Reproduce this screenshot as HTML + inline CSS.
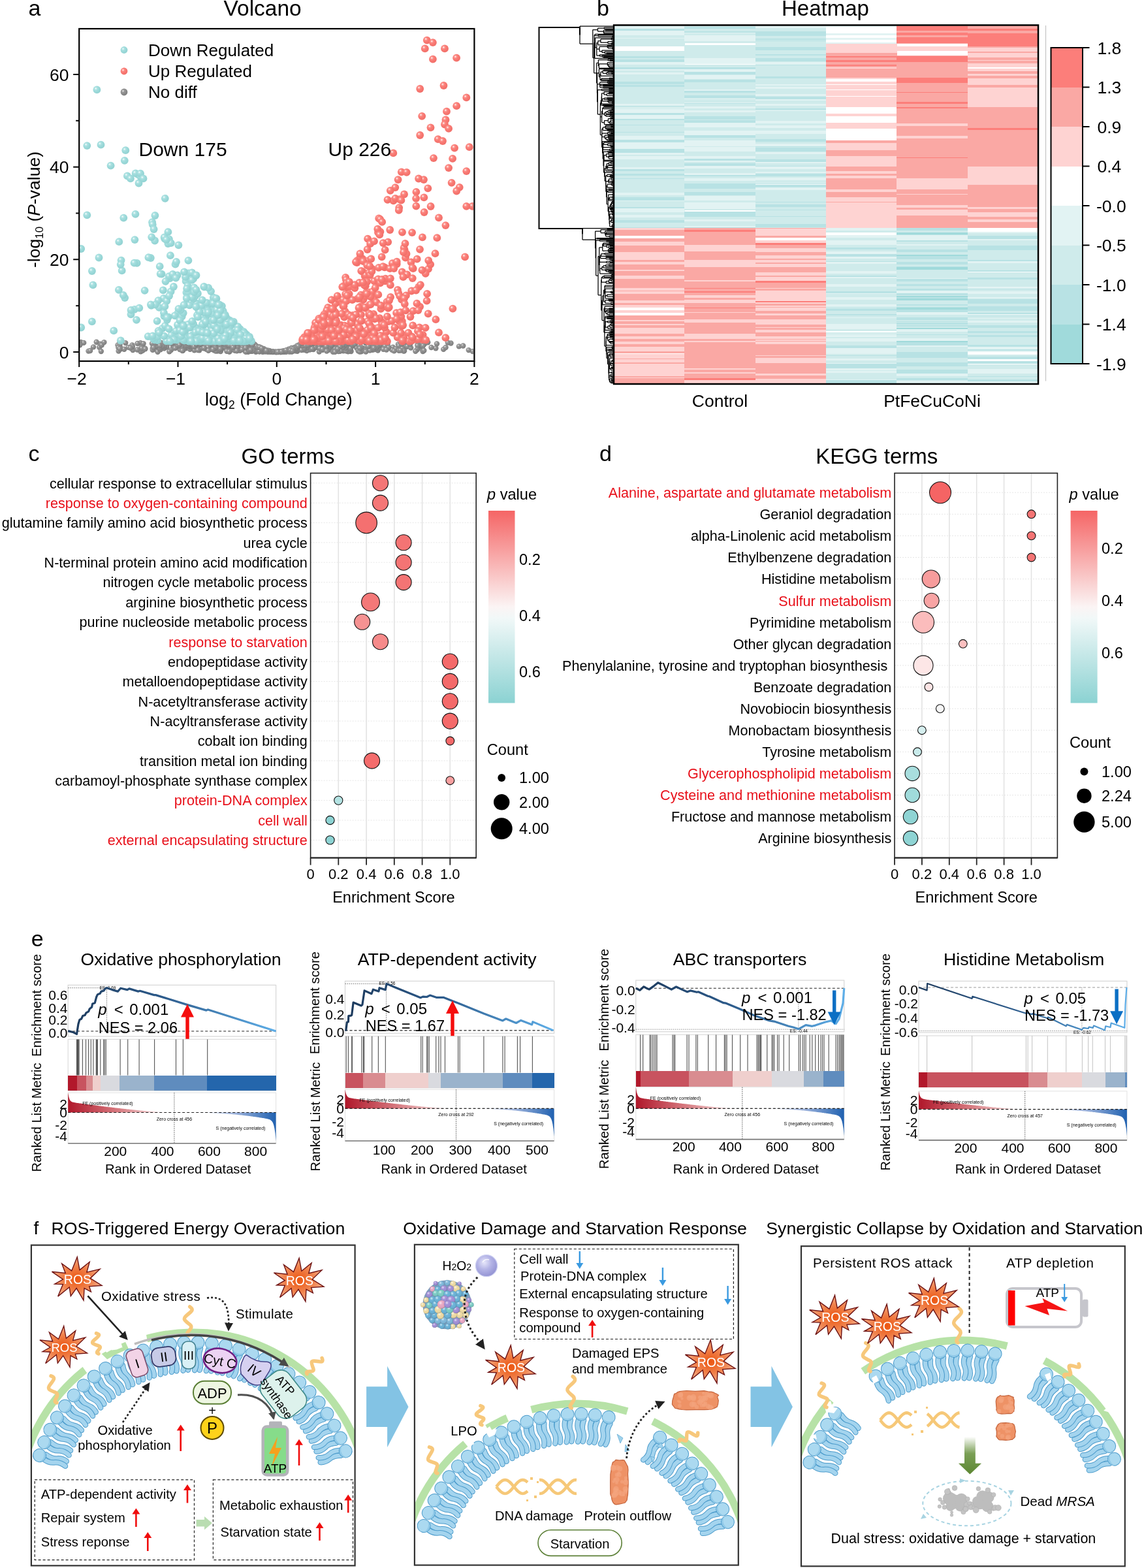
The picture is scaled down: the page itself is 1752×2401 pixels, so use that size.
<!DOCTYPE html>
<html><head><meta charset="utf-8"><title>Figure</title>
<style>html,body{margin:0;padding:0;background:#fff}svg{display:block}</style></head>
<body><svg width="1752" height="2401" viewBox="0 0 1752 2401" font-family="'Liberation Sans', Arial, sans-serif">
<defs><clipPath id="clipA"><rect x="122" y="45" width="603" height="507"/></clipPath>
<radialGradient id="st" cx="0.36" cy="0.34" r="0.62"><stop offset="0" stop-color="#ffffff"/><stop offset="0.25" stop-color="#b2e4e4"/><stop offset="0.5" stop-color="#a0dcdc"/><stop offset="1" stop-color="#93d3d3"/></radialGradient>
<radialGradient id="sr" cx="0.36" cy="0.34" r="0.62"><stop offset="0" stop-color="#ffffff"/><stop offset="0.25" stop-color="#fc958f"/><stop offset="0.5" stop-color="#fa7c76"/><stop offset="1" stop-color="#f2706a"/></radialGradient>
<radialGradient id="sg" cx="0.36" cy="0.34" r="0.62"><stop offset="0" stop-color="#f2f2f2"/><stop offset="0.28" stop-color="#9a9a9a"/><stop offset="1" stop-color="#7e7e7e"/></radialGradient>
<linearGradient id="gc" x1="0" y1="0" x2="0" y2="1"><stop offset="0" stop-color="#f56565"/><stop offset="0.5" stop-color="#fbf4f4"/><stop offset="0.56" stop-color="#f1f8f8"/><stop offset="1" stop-color="#8bd2d2"/></linearGradient>
<linearGradient id="gd" x1="0" y1="0" x2="0" y2="1"><stop offset="0" stop-color="#f56565"/><stop offset="0.5" stop-color="#fbf4f4"/><stop offset="0.56" stop-color="#f1f8f8"/><stop offset="1" stop-color="#8bd2d2"/></linearGradient>

<path id="starp" d="M-0.5 -34.3 L3.3 -14.4 L18.5 -26.7 L14.2 -10.9 L34.3 -15.8 L19.6 -1.6 L37.3 9.5 L18 10.9 L20.7 19.1 L10.4 13.6 L9.3 32.1 L-1.6 13.6 L-10.4 25.6 L-12.5 12 L-30 26.1 L-22.3 7.6 L-34.9 7.1 L-22.3 0 L-39.2 -11.7 L-18.5 -9.5 L-24 -24 L-9 -13.1 Z" fill="url(#rosg)" stroke="#6e1212" stroke-width="1.4" stroke-linejoin="miter"/>
<radialGradient id="rosg" cx="0.5" cy="0.5" r="0.5"><stop offset="0" stop-color="#ec5510"/><stop offset="0.6" stop-color="#f08550"/><stop offset="1" stop-color="#f5ad88"/></radialGradient>
<g id="lip"><path d="M9 -4.2 Q20 -0.5 27 -3.5 Q35 -6.5 42 -3.8" stroke="#4b9bcb" stroke-width="8.4" stroke-linecap="round" fill="none"/><path d="M9 -4.2 Q20 -0.5 27 -3.5 Q35 -6.5 42 -3.8" stroke="#a4d4ee" stroke-width="6.4" stroke-linecap="round" fill="none"/><path d="M9 4 Q18 7 26 3 Q34 0 42.5 3.8" stroke="#4b9bcb" stroke-width="8.4" stroke-linecap="round" fill="none"/><path d="M9 4 Q18 7 26 3 Q34 0 42.5 3.8" stroke="#a4d4ee" stroke-width="6.4" stroke-linecap="round" fill="none"/><circle r="10" fill="#abd9f0" stroke="#4b9bcb" stroke-width="1"/><path d="M2 -9.6 A10 10 0 0 1 2 9.6 A12 12 0 0 0 2 -9.6 Z" fill="#90c9e8"/></g>
<marker id="ah" viewBox="0 0 10 10" refX="8" refY="5" markerWidth="5" markerHeight="5" orient="auto"><path d="M0 0 L10 5 L0 10 Z" fill="#222"/></marker>
<marker id="ahg" viewBox="0 0 10 10" refX="8" refY="5" markerWidth="4" markerHeight="4" orient="auto"><path d="M0 0 L10 5 L0 10 Z" fill="#4a4a4a"/></marker>
<radialGradient id="h2o2" cx="0.4" cy="0.35" r="0.65"><stop offset="0" stop-color="#e6e6fa"/><stop offset="0.5" stop-color="#b4b4e6"/><stop offset="1" stop-color="#9494d4"/></radialGradient>
<linearGradient id="garr" x1="0" y1="0" x2="0" y2="1"><stop offset="0" stop-color="#ffffff"/><stop offset="0.45" stop-color="#7a9f55"/><stop offset="1" stop-color="#5d8733"/></linearGradient>
<radialGradient id="npg" cx="0.38" cy="0.32" r="0.75"><stop offset="0" stop-color="#fff" stop-opacity="0.75"/><stop offset="0.3" stop-color="#fff" stop-opacity="0.05"/><stop offset="0.75" stop-color="#000" stop-opacity="0.03"/><stop offset="1" stop-color="#000" stop-opacity="0.22"/></radialGradient></defs>
<rect width="1752" height="2401" fill="#fff"/>
<text x="43.6" y="24" font-size="34">a</text>
<text x="342.5" y="24.4" font-size="33.5">Volcano</text>
<g clip-path="url(#clipA)">
<circle cx="623.3" cy="530.4" r="4.2" fill="url(#sg)"/>
<circle cx="368.8" cy="528" r="4.2" fill="url(#sg)"/>
<circle cx="405.3" cy="536.5" r="4.2" fill="url(#sg)"/>
<circle cx="389.6" cy="530.4" r="4.2" fill="url(#sg)"/>
<circle cx="367.5" cy="536.8" r="4.2" fill="url(#sg)"/>
<circle cx="567.4" cy="531.9" r="4.2" fill="url(#sg)"/>
<circle cx="422" cy="538.9" r="4.2" fill="url(#sg)"/>
<circle cx="426.3" cy="538.8" r="4.2" fill="url(#sg)"/>
<circle cx="432.1" cy="537.8" r="4.2" fill="url(#sg)"/>
<circle cx="384.4" cy="534.5" r="4.2" fill="url(#sg)"/>
<circle cx="526.9" cy="535.2" r="4.2" fill="url(#sg)"/>
<circle cx="436" cy="537.7" r="4.2" fill="url(#sg)"/>
<circle cx="517.5" cy="528.6" r="4.2" fill="url(#sg)"/>
<circle cx="562.7" cy="533.6" r="4.2" fill="url(#sg)"/>
<circle cx="403.9" cy="536.8" r="4.2" fill="url(#sg)"/>
<circle cx="480.1" cy="531.4" r="4.2" fill="url(#sg)"/>
<circle cx="494.6" cy="526.8" r="4.2" fill="url(#sg)"/>
<circle cx="380.8" cy="531.7" r="4.2" fill="url(#sg)"/>
<circle cx="219.6" cy="532.6" r="4.2" fill="url(#sg)"/>
<circle cx="384.9" cy="525.7" r="4.2" fill="url(#sg)"/>
<circle cx="490.8" cy="529.4" r="4.2" fill="url(#sg)"/>
<circle cx="335" cy="529.3" r="4.2" fill="url(#sg)"/>
<circle cx="469" cy="529.9" r="4.2" fill="url(#sg)"/>
<circle cx="455.6" cy="532.8" r="4.2" fill="url(#sg)"/>
<circle cx="361.9" cy="524.7" r="4.2" fill="url(#sg)"/>
<circle cx="435.8" cy="538.8" r="4.2" fill="url(#sg)"/>
<circle cx="453.6" cy="535.3" r="4.2" fill="url(#sg)"/>
<circle cx="254.5" cy="525.2" r="4.2" fill="url(#sg)"/>
<circle cx="483" cy="520.7" r="4.2" fill="url(#sg)"/>
<circle cx="412.6" cy="537.3" r="4.2" fill="url(#sg)"/>
<circle cx="564.6" cy="535.2" r="4.2" fill="url(#sg)"/>
<circle cx="380.3" cy="525.4" r="4.2" fill="url(#sg)"/>
<circle cx="378.6" cy="531.6" r="4.2" fill="url(#sg)"/>
<circle cx="318.8" cy="531.7" r="4.2" fill="url(#sg)"/>
<circle cx="388.4" cy="532.5" r="4.2" fill="url(#sg)"/>
<circle cx="284.5" cy="523.4" r="4.2" fill="url(#sg)"/>
<circle cx="436.6" cy="537.7" r="4.2" fill="url(#sg)"/>
<circle cx="593.5" cy="527.4" r="4.2" fill="url(#sg)"/>
<circle cx="463" cy="526.8" r="4.2" fill="url(#sg)"/>
<circle cx="510.5" cy="520.8" r="4.2" fill="url(#sg)"/>
<circle cx="401" cy="533.9" r="4.2" fill="url(#sg)"/>
<circle cx="214" cy="535.9" r="4.2" fill="url(#sg)"/>
<circle cx="359.1" cy="530.6" r="4.2" fill="url(#sg)"/>
<circle cx="447.7" cy="533.4" r="4.2" fill="url(#sg)"/>
<circle cx="650" cy="526.9" r="4.2" fill="url(#sg)"/>
<circle cx="260" cy="523.6" r="4.2" fill="url(#sg)"/>
<circle cx="422.4" cy="539" r="4.2" fill="url(#sg)"/>
<circle cx="414.9" cy="538.9" r="4.2" fill="url(#sg)"/>
<circle cx="690.5" cy="525.5" r="4.2" fill="url(#sg)"/>
<circle cx="526.4" cy="535.3" r="4.2" fill="url(#sg)"/>
<circle cx="505.9" cy="535.2" r="4.2" fill="url(#sg)"/>
<circle cx="284.7" cy="533.2" r="4.2" fill="url(#sg)"/>
<circle cx="280.2" cy="523.3" r="4.2" fill="url(#sg)"/>
<circle cx="456.3" cy="529.5" r="4.2" fill="url(#sg)"/>
<circle cx="428.1" cy="538.6" r="4.2" fill="url(#sg)"/>
<circle cx="362.7" cy="520.3" r="4.2" fill="url(#sg)"/>
<circle cx="332" cy="521.8" r="4.2" fill="url(#sg)"/>
<circle cx="361.2" cy="521.3" r="4.2" fill="url(#sg)"/>
<circle cx="392.6" cy="531.2" r="4.2" fill="url(#sg)"/>
<circle cx="262.5" cy="522.3" r="4.2" fill="url(#sg)"/>
<circle cx="481.3" cy="522.9" r="4.2" fill="url(#sg)"/>
<circle cx="308.1" cy="527.2" r="4.2" fill="url(#sg)"/>
<circle cx="525.8" cy="537.4" r="4.2" fill="url(#sg)"/>
<circle cx="351.4" cy="538.6" r="4.2" fill="url(#sg)"/>
<circle cx="357" cy="534.8" r="4.2" fill="url(#sg)"/>
<circle cx="402.6" cy="538.7" r="4.2" fill="url(#sg)"/>
<circle cx="452.1" cy="537.3" r="4.2" fill="url(#sg)"/>
<circle cx="533" cy="520.8" r="4.2" fill="url(#sg)"/>
<circle cx="219.9" cy="534.5" r="4.2" fill="url(#sg)"/>
<circle cx="414.9" cy="537.9" r="4.2" fill="url(#sg)"/>
<circle cx="516" cy="522" r="4.2" fill="url(#sg)"/>
<circle cx="537.6" cy="538" r="4.2" fill="url(#sg)"/>
<circle cx="457.3" cy="535" r="4.2" fill="url(#sg)"/>
<circle cx="351" cy="521.3" r="4.2" fill="url(#sg)"/>
<circle cx="381" cy="538" r="4.2" fill="url(#sg)"/>
<circle cx="362.3" cy="530.5" r="4.2" fill="url(#sg)"/>
<circle cx="448.6" cy="535.5" r="4.2" fill="url(#sg)"/>
<circle cx="434.2" cy="537.9" r="4.2" fill="url(#sg)"/>
<circle cx="266.1" cy="531.4" r="4.2" fill="url(#sg)"/>
<circle cx="339.9" cy="533.9" r="4.2" fill="url(#sg)"/>
<circle cx="482.3" cy="530.7" r="4.2" fill="url(#sg)"/>
<circle cx="277" cy="521.1" r="4.2" fill="url(#sg)"/>
<circle cx="363" cy="522.6" r="4.2" fill="url(#sg)"/>
<circle cx="391.5" cy="535.7" r="4.2" fill="url(#sg)"/>
<circle cx="326.6" cy="528.9" r="4.2" fill="url(#sg)"/>
<circle cx="425.5" cy="538.9" r="4.2" fill="url(#sg)"/>
<circle cx="552.7" cy="523.8" r="4.2" fill="url(#sg)"/>
<circle cx="240.1" cy="528.7" r="4.2" fill="url(#sg)"/>
<circle cx="513.3" cy="524.4" r="4.2" fill="url(#sg)"/>
<circle cx="314.1" cy="520.3" r="4.2" fill="url(#sg)"/>
<circle cx="472.4" cy="520.6" r="4.2" fill="url(#sg)"/>
<circle cx="247.1" cy="525" r="4.2" fill="url(#sg)"/>
<circle cx="480" cy="523.6" r="4.2" fill="url(#sg)"/>
<circle cx="555.1" cy="534" r="4.2" fill="url(#sg)"/>
<circle cx="297.4" cy="526.4" r="4.2" fill="url(#sg)"/>
<circle cx="327.9" cy="536.2" r="4.2" fill="url(#sg)"/>
<circle cx="413.1" cy="538" r="4.2" fill="url(#sg)"/>
<circle cx="536.4" cy="535.9" r="4.2" fill="url(#sg)"/>
<circle cx="537.2" cy="525.8" r="4.2" fill="url(#sg)"/>
<circle cx="490" cy="532.9" r="4.2" fill="url(#sg)"/>
<circle cx="367.3" cy="522.6" r="4.2" fill="url(#sg)"/>
<circle cx="469.3" cy="526.6" r="4.2" fill="url(#sg)"/>
<circle cx="437.6" cy="537.1" r="4.2" fill="url(#sg)"/>
<circle cx="393.3" cy="530.1" r="4.2" fill="url(#sg)"/>
<circle cx="558.1" cy="522.4" r="4.2" fill="url(#sg)"/>
<circle cx="456.1" cy="534.8" r="4.2" fill="url(#sg)"/>
<circle cx="335.4" cy="523.7" r="4.2" fill="url(#sg)"/>
<circle cx="181.6" cy="537.6" r="4.2" fill="url(#sg)"/>
<circle cx="667.4" cy="533.2" r="4.2" fill="url(#sg)"/>
<circle cx="534.6" cy="526.3" r="4.2" fill="url(#sg)"/>
<circle cx="441.2" cy="537.3" r="4.2" fill="url(#sg)"/>
<circle cx="253.7" cy="526.3" r="4.2" fill="url(#sg)"/>
<circle cx="265.2" cy="531.2" r="4.2" fill="url(#sg)"/>
<circle cx="459.2" cy="533.9" r="4.2" fill="url(#sg)"/>
<circle cx="519.5" cy="537" r="4.2" fill="url(#sg)"/>
<circle cx="289.6" cy="531.7" r="4.2" fill="url(#sg)"/>
<circle cx="386.4" cy="526.6" r="4.2" fill="url(#sg)"/>
<circle cx="479.9" cy="535.1" r="4.2" fill="url(#sg)"/>
<circle cx="356.1" cy="520.5" r="4.2" fill="url(#sg)"/>
<circle cx="353.9" cy="520.9" r="4.2" fill="url(#sg)"/>
<circle cx="428.4" cy="538.8" r="4.2" fill="url(#sg)"/>
<circle cx="444.8" cy="538.2" r="4.2" fill="url(#sg)"/>
<circle cx="397.9" cy="538.3" r="4.2" fill="url(#sg)"/>
<circle cx="397" cy="538.3" r="4.2" fill="url(#sg)"/>
<circle cx="301" cy="533.4" r="4.2" fill="url(#sg)"/>
<circle cx="426.5" cy="538.8" r="4.2" fill="url(#sg)"/>
<circle cx="417.9" cy="539" r="4.2" fill="url(#sg)"/>
<circle cx="508.6" cy="519.9" r="4.2" fill="url(#sg)"/>
<circle cx="408.8" cy="537.1" r="4.2" fill="url(#sg)"/>
<circle cx="362.5" cy="521.6" r="4.2" fill="url(#sg)"/>
<circle cx="470.6" cy="529.8" r="4.2" fill="url(#sg)"/>
<circle cx="562" cy="522.5" r="4.2" fill="url(#sg)"/>
<circle cx="361.8" cy="531.7" r="4.2" fill="url(#sg)"/>
<circle cx="457.4" cy="532.6" r="4.2" fill="url(#sg)"/>
<circle cx="574.3" cy="532.9" r="4.2" fill="url(#sg)"/>
<circle cx="426.1" cy="538.9" r="4.2" fill="url(#sg)"/>
<circle cx="575.8" cy="533.8" r="4.2" fill="url(#sg)"/>
<circle cx="354.4" cy="528.4" r="4.2" fill="url(#sg)"/>
<circle cx="404.1" cy="534.4" r="4.2" fill="url(#sg)"/>
<circle cx="396.7" cy="535.8" r="4.2" fill="url(#sg)"/>
<circle cx="430.9" cy="538.9" r="4.2" fill="url(#sg)"/>
<circle cx="539" cy="523.1" r="4.2" fill="url(#sg)"/>
<circle cx="368.6" cy="520.6" r="4.2" fill="url(#sg)"/>
<circle cx="306.3" cy="528.3" r="4.2" fill="url(#sg)"/>
<circle cx="570.7" cy="535.7" r="4.2" fill="url(#sg)"/>
<circle cx="519.9" cy="522.4" r="4.2" fill="url(#sg)"/>
<circle cx="215.5" cy="538.2" r="4.2" fill="url(#sg)"/>
<circle cx="468.3" cy="528.5" r="4.2" fill="url(#sg)"/>
<circle cx="502.9" cy="535.8" r="4.2" fill="url(#sg)"/>
<circle cx="522.4" cy="522.5" r="4.2" fill="url(#sg)"/>
<circle cx="506.6" cy="528.1" r="4.2" fill="url(#sg)"/>
<circle cx="353.3" cy="534.6" r="4.2" fill="url(#sg)"/>
<circle cx="519" cy="524.6" r="4.2" fill="url(#sg)"/>
<circle cx="496.2" cy="520.4" r="4.2" fill="url(#sg)"/>
<circle cx="324.2" cy="534.9" r="4.2" fill="url(#sg)"/>
<circle cx="331.9" cy="527.3" r="4.2" fill="url(#sg)"/>
<circle cx="285" cy="532.2" r="4.2" fill="url(#sg)"/>
<circle cx="422.7" cy="539" r="4.2" fill="url(#sg)"/>
<circle cx="404.2" cy="536.5" r="4.2" fill="url(#sg)"/>
<circle cx="587.7" cy="532.1" r="4.2" fill="url(#sg)"/>
<circle cx="579.8" cy="528.5" r="4.2" fill="url(#sg)"/>
<circle cx="416.5" cy="538.3" r="4.2" fill="url(#sg)"/>
<circle cx="445.5" cy="534.1" r="4.2" fill="url(#sg)"/>
<circle cx="426" cy="538.9" r="4.2" fill="url(#sg)"/>
<circle cx="304.9" cy="521" r="4.2" fill="url(#sg)"/>
<circle cx="535.9" cy="527.3" r="4.2" fill="url(#sg)"/>
<circle cx="379.5" cy="522.8" r="4.2" fill="url(#sg)"/>
<circle cx="241.5" cy="527.1" r="4.2" fill="url(#sg)"/>
<circle cx="396.8" cy="531.1" r="4.2" fill="url(#sg)"/>
<circle cx="377.8" cy="530.8" r="4.2" fill="url(#sg)"/>
<circle cx="483.5" cy="526.8" r="4.2" fill="url(#sg)"/>
<circle cx="417.2" cy="538.5" r="4.2" fill="url(#sg)"/>
<circle cx="259.6" cy="525.3" r="4.2" fill="url(#sg)"/>
<circle cx="458.5" cy="527.8" r="4.2" fill="url(#sg)"/>
<circle cx="330.7" cy="521.2" r="4.2" fill="url(#sg)"/>
<circle cx="397.9" cy="536" r="4.2" fill="url(#sg)"/>
<circle cx="470.9" cy="528.7" r="4.2" fill="url(#sg)"/>
<circle cx="437.6" cy="537.8" r="4.2" fill="url(#sg)"/>
<circle cx="483.7" cy="530.3" r="4.2" fill="url(#sg)"/>
<circle cx="376.2" cy="530.3" r="4.2" fill="url(#sg)"/>
<circle cx="355.1" cy="533.4" r="4.2" fill="url(#sg)"/>
<circle cx="250.6" cy="529.9" r="4.2" fill="url(#sg)"/>
<circle cx="463.6" cy="524.8" r="4.2" fill="url(#sg)"/>
<circle cx="376.6" cy="525.5" r="4.2" fill="url(#sg)"/>
<circle cx="265.2" cy="530.1" r="4.2" fill="url(#sg)"/>
<circle cx="332.3" cy="533.6" r="4.2" fill="url(#sg)"/>
<circle cx="277.5" cy="522" r="4.2" fill="url(#sg)"/>
<circle cx="335" cy="524.6" r="4.2" fill="url(#sg)"/>
<circle cx="620.7" cy="530.5" r="4.2" fill="url(#sg)"/>
<circle cx="399.8" cy="532.4" r="4.2" fill="url(#sg)"/>
<circle cx="153.4" cy="526.8" r="4.2" fill="url(#sg)"/>
<circle cx="425.2" cy="539" r="4.2" fill="url(#sg)"/>
<circle cx="297.6" cy="536.2" r="4.2" fill="url(#sg)"/>
<circle cx="340.8" cy="533" r="4.2" fill="url(#sg)"/>
<circle cx="403.4" cy="534.7" r="4.2" fill="url(#sg)"/>
<circle cx="558" cy="536.5" r="4.2" fill="url(#sg)"/>
<circle cx="549.7" cy="534.5" r="4.2" fill="url(#sg)"/>
<circle cx="406.5" cy="537.7" r="4.2" fill="url(#sg)"/>
<circle cx="446.8" cy="533" r="4.2" fill="url(#sg)"/>
<circle cx="545.9" cy="532.2" r="4.2" fill="url(#sg)"/>
<circle cx="613.2" cy="526.9" r="4.2" fill="url(#sg)"/>
<circle cx="494.1" cy="535.7" r="4.2" fill="url(#sg)"/>
<circle cx="421.8" cy="538.9" r="4.2" fill="url(#sg)"/>
<circle cx="283.4" cy="531" r="4.2" fill="url(#sg)"/>
<circle cx="421.8" cy="538.9" r="4.2" fill="url(#sg)"/>
<circle cx="487.5" cy="521.4" r="4.2" fill="url(#sg)"/>
<circle cx="387.4" cy="531.7" r="4.2" fill="url(#sg)"/>
<circle cx="312" cy="528.4" r="4.2" fill="url(#sg)"/>
<circle cx="415.6" cy="538.5" r="4.2" fill="url(#sg)"/>
<circle cx="403.1" cy="533.9" r="4.2" fill="url(#sg)"/>
<circle cx="442.6" cy="534.7" r="4.2" fill="url(#sg)"/>
<circle cx="516.8" cy="522" r="4.2" fill="url(#sg)"/>
<circle cx="319.4" cy="526.2" r="4.2" fill="url(#sg)"/>
<circle cx="389.9" cy="534.3" r="4.2" fill="url(#sg)"/>
<circle cx="428.3" cy="538.7" r="4.2" fill="url(#sg)"/>
<circle cx="481.6" cy="525.1" r="4.2" fill="url(#sg)"/>
<circle cx="416.7" cy="538.4" r="4.2" fill="url(#sg)"/>
<circle cx="516.8" cy="533.2" r="4.2" fill="url(#sg)"/>
<circle cx="440.2" cy="537.9" r="4.2" fill="url(#sg)"/>
<circle cx="581.6" cy="532.2" r="4.2" fill="url(#sg)"/>
<circle cx="340.7" cy="522" r="4.2" fill="url(#sg)"/>
<circle cx="541.1" cy="521.5" r="4.2" fill="url(#sg)"/>
<circle cx="578.7" cy="536.6" r="4.2" fill="url(#sg)"/>
<circle cx="325.8" cy="521.3" r="4.2" fill="url(#sg)"/>
<circle cx="243.2" cy="531.7" r="4.2" fill="url(#sg)"/>
<circle cx="380" cy="538.7" r="4.2" fill="url(#sg)"/>
<circle cx="351.4" cy="537.9" r="4.2" fill="url(#sg)"/>
<circle cx="481.4" cy="532.7" r="4.2" fill="url(#sg)"/>
<circle cx="325.9" cy="525.3" r="4.2" fill="url(#sg)"/>
<circle cx="394.2" cy="534.6" r="4.2" fill="url(#sg)"/>
<circle cx="422.7" cy="539" r="4.2" fill="url(#sg)"/>
<circle cx="276.4" cy="531.9" r="4.2" fill="url(#sg)"/>
<circle cx="459.5" cy="534.5" r="4.2" fill="url(#sg)"/>
<circle cx="376" cy="520.6" r="4.2" fill="url(#sg)"/>
<circle cx="292" cy="524.5" r="4.2" fill="url(#sg)"/>
<circle cx="387.6" cy="529" r="4.2" fill="url(#sg)"/>
<circle cx="475.5" cy="531.6" r="4.2" fill="url(#sg)"/>
<circle cx="465.4" cy="530.5" r="4.2" fill="url(#sg)"/>
<circle cx="261.8" cy="521.9" r="4.2" fill="url(#sg)"/>
<circle cx="500" cy="524.6" r="4.2" fill="url(#sg)"/>
<circle cx="405" cy="536.3" r="4.2" fill="url(#sg)"/>
<circle cx="557.7" cy="533.8" r="4.2" fill="url(#sg)"/>
<circle cx="556.8" cy="520.5" r="4.2" fill="url(#sg)"/>
<circle cx="316" cy="534.8" r="4.2" fill="url(#sg)"/>
<circle cx="588.7" cy="533.2" r="4.2" fill="url(#sg)"/>
<circle cx="387.4" cy="531.9" r="4.2" fill="url(#sg)"/>
<circle cx="571.3" cy="534.5" r="4.2" fill="url(#sg)"/>
<circle cx="430.5" cy="539" r="4.2" fill="url(#sg)"/>
<circle cx="435.9" cy="537.2" r="4.2" fill="url(#sg)"/>
<circle cx="357.3" cy="527.2" r="4.2" fill="url(#sg)"/>
<circle cx="453.1" cy="531.4" r="4.2" fill="url(#sg)"/>
<circle cx="528.9" cy="520.6" r="4.2" fill="url(#sg)"/>
<circle cx="619.1" cy="537.3" r="4.2" fill="url(#sg)"/>
<circle cx="284.6" cy="522.5" r="4.2" fill="url(#sg)"/>
<circle cx="520.6" cy="537.8" r="4.2" fill="url(#sg)"/>
<circle cx="563.3" cy="534.7" r="4.2" fill="url(#sg)"/>
<circle cx="284.7" cy="525.5" r="4.2" fill="url(#sg)"/>
<circle cx="550.3" cy="521.8" r="4.2" fill="url(#sg)"/>
<circle cx="530.5" cy="529.6" r="4.2" fill="url(#sg)"/>
<circle cx="372.9" cy="530" r="4.2" fill="url(#sg)"/>
<circle cx="347.9" cy="537.1" r="4.2" fill="url(#sg)"/>
<circle cx="385.6" cy="537.6" r="4.2" fill="url(#sg)"/>
<circle cx="442" cy="535" r="4.2" fill="url(#sg)"/>
<circle cx="351.2" cy="530.9" r="4.2" fill="url(#sg)"/>
<circle cx="514" cy="522.6" r="4.2" fill="url(#sg)"/>
<circle cx="255.4" cy="531.5" r="4.2" fill="url(#sg)"/>
<circle cx="509.2" cy="522.1" r="4.2" fill="url(#sg)"/>
<circle cx="272" cy="523" r="4.2" fill="url(#sg)"/>
<circle cx="455.3" cy="537.7" r="4.2" fill="url(#sg)"/>
<circle cx="603.7" cy="534.4" r="4.2" fill="url(#sg)"/>
<circle cx="202.4" cy="528.4" r="4.2" fill="url(#sg)"/>
<circle cx="394.1" cy="538" r="4.2" fill="url(#sg)"/>
<circle cx="394.9" cy="533.3" r="4.2" fill="url(#sg)"/>
<circle cx="445.6" cy="534.1" r="4.2" fill="url(#sg)"/>
<circle cx="265.2" cy="521.7" r="4.2" fill="url(#sg)"/>
<circle cx="384" cy="531.6" r="4.2" fill="url(#sg)"/>
<circle cx="332.7" cy="530.1" r="4.2" fill="url(#sg)"/>
<circle cx="287.4" cy="523.7" r="4.2" fill="url(#sg)"/>
<circle cx="291" cy="534.8" r="4.2" fill="url(#sg)"/>
<circle cx="234.3" cy="532.2" r="4.2" fill="url(#sg)"/>
<circle cx="335.6" cy="523.3" r="4.2" fill="url(#sg)"/>
<circle cx="331.4" cy="527" r="4.2" fill="url(#sg)"/>
<circle cx="580" cy="523.9" r="4.2" fill="url(#sg)"/>
<circle cx="366.2" cy="521.1" r="4.2" fill="url(#sg)"/>
<circle cx="486.3" cy="532" r="4.2" fill="url(#sg)"/>
<circle cx="454" cy="535" r="4.2" fill="url(#sg)"/>
<circle cx="444.5" cy="535.9" r="4.2" fill="url(#sg)"/>
<circle cx="284.1" cy="522.8" r="4.2" fill="url(#sg)"/>
<circle cx="302.7" cy="530.1" r="4.2" fill="url(#sg)"/>
<circle cx="385.8" cy="537.8" r="4.2" fill="url(#sg)"/>
<circle cx="535.4" cy="537.1" r="4.2" fill="url(#sg)"/>
<circle cx="253.3" cy="525" r="4.2" fill="url(#sg)"/>
<circle cx="203.4" cy="536.1" r="4.2" fill="url(#sg)"/>
<circle cx="463.7" cy="532.9" r="4.2" fill="url(#sg)"/>
<circle cx="381.5" cy="529.1" r="4.2" fill="url(#sg)"/>
<circle cx="447.3" cy="534.4" r="4.2" fill="url(#sg)"/>
<circle cx="348.3" cy="527.1" r="4.2" fill="url(#sg)"/>
<circle cx="296.6" cy="526.5" r="4.2" fill="url(#sg)"/>
<circle cx="389.6" cy="527.3" r="4.2" fill="url(#sg)"/>
<circle cx="291.2" cy="531.3" r="4.2" fill="url(#sg)"/>
<circle cx="349.2" cy="528.7" r="4.2" fill="url(#sg)"/>
<circle cx="495.2" cy="527.7" r="4.2" fill="url(#sg)"/>
<circle cx="609.9" cy="527.2" r="4.2" fill="url(#sg)"/>
<circle cx="505.9" cy="524.6" r="4.2" fill="url(#sg)"/>
<circle cx="445.3" cy="536.7" r="4.2" fill="url(#sg)"/>
<circle cx="440.9" cy="535.7" r="4.2" fill="url(#sg)"/>
<circle cx="440.5" cy="536" r="4.2" fill="url(#sg)"/>
<circle cx="351.2" cy="526.5" r="4.2" fill="url(#sg)"/>
<circle cx="446.9" cy="538.5" r="4.2" fill="url(#sg)"/>
<circle cx="573.8" cy="525.4" r="4.2" fill="url(#sg)"/>
<circle cx="434.8" cy="537.4" r="4.2" fill="url(#sg)"/>
<circle cx="357.9" cy="523.1" r="4.2" fill="url(#sg)"/>
<circle cx="544.9" cy="524.3" r="4.2" fill="url(#sg)"/>
<circle cx="202.9" cy="531" r="4.2" fill="url(#sg)"/>
<circle cx="380" cy="533.8" r="4.2" fill="url(#sg)"/>
<circle cx="514" cy="531.8" r="4.2" fill="url(#sg)"/>
<circle cx="490.6" cy="528.5" r="4.2" fill="url(#sg)"/>
<circle cx="463.7" cy="527.8" r="4.2" fill="url(#sg)"/>
<circle cx="426.6" cy="538.9" r="4.2" fill="url(#sg)"/>
<circle cx="289.3" cy="529.2" r="4.2" fill="url(#sg)"/>
<circle cx="478.5" cy="525.1" r="4.2" fill="url(#sg)"/>
<circle cx="284.9" cy="525.7" r="4.2" fill="url(#sg)"/>
<circle cx="390.1" cy="528.9" r="4.2" fill="url(#sg)"/>
<circle cx="619.5" cy="526.2" r="4.2" fill="url(#sg)"/>
<circle cx="336.1" cy="536.4" r="4.2" fill="url(#sg)"/>
<circle cx="401.9" cy="538.5" r="4.2" fill="url(#sg)"/>
<circle cx="496.9" cy="526" r="4.2" fill="url(#sg)"/>
<circle cx="240.9" cy="537.4" r="4.2" fill="url(#sg)"/>
<circle cx="393.2" cy="535.5" r="4.2" fill="url(#sg)"/>
<circle cx="510" cy="538.9" r="4.2" fill="url(#sg)"/>
<circle cx="451.5" cy="531.9" r="4.2" fill="url(#sg)"/>
<circle cx="514.1" cy="535.3" r="4.2" fill="url(#sg)"/>
<circle cx="548.8" cy="537.2" r="4.2" fill="url(#sg)"/>
<circle cx="517.2" cy="530.4" r="4.2" fill="url(#sg)"/>
<circle cx="580.1" cy="530.8" r="4.2" fill="url(#sg)"/>
<circle cx="403.6" cy="534.6" r="4.2" fill="url(#sg)"/>
<circle cx="579.8" cy="533.8" r="4.2" fill="url(#sg)"/>
<circle cx="289.4" cy="530" r="4.2" fill="url(#sg)"/>
<circle cx="512" cy="521.9" r="4.2" fill="url(#sg)"/>
<circle cx="532.8" cy="526.3" r="4.2" fill="url(#sg)"/>
<circle cx="403" cy="537" r="4.2" fill="url(#sg)"/>
<circle cx="563.8" cy="533.2" r="4.2" fill="url(#sg)"/>
<circle cx="453.6" cy="533.8" r="4.2" fill="url(#sg)"/>
<circle cx="419" cy="538.5" r="4.2" fill="url(#sg)"/>
<circle cx="445.7" cy="534.1" r="4.2" fill="url(#sg)"/>
<circle cx="413.1" cy="537.9" r="4.2" fill="url(#sg)"/>
<circle cx="332.5" cy="537.2" r="4.2" fill="url(#sg)"/>
<circle cx="511.9" cy="537.9" r="4.2" fill="url(#sg)"/>
<circle cx="367.4" cy="522.9" r="4.2" fill="url(#sg)"/>
<circle cx="350.8" cy="528.7" r="4.2" fill="url(#sg)"/>
<circle cx="467.2" cy="528.3" r="4.2" fill="url(#sg)"/>
<circle cx="336.9" cy="529.2" r="4.2" fill="url(#sg)"/>
<circle cx="490.7" cy="525.5" r="4.2" fill="url(#sg)"/>
<circle cx="573.6" cy="535" r="4.2" fill="url(#sg)"/>
<circle cx="192.2" cy="525.1" r="4.2" fill="url(#sg)"/>
<circle cx="405.9" cy="538.3" r="4.2" fill="url(#sg)"/>
<circle cx="215.1" cy="525.2" r="4.2" fill="url(#sg)"/>
<circle cx="251.3" cy="533.4" r="4.2" fill="url(#sg)"/>
<circle cx="449.3" cy="534" r="4.2" fill="url(#sg)"/>
<circle cx="406.3" cy="536.7" r="4.2" fill="url(#sg)"/>
<circle cx="557.9" cy="522.9" r="4.2" fill="url(#sg)"/>
<circle cx="185.1" cy="534.2" r="4.2" fill="url(#sg)"/>
<circle cx="373.9" cy="534.9" r="4.2" fill="url(#sg)"/>
<circle cx="522.7" cy="536" r="4.2" fill="url(#sg)"/>
<circle cx="285.2" cy="528.9" r="4.2" fill="url(#sg)"/>
<circle cx="455.5" cy="536.9" r="4.2" fill="url(#sg)"/>
<circle cx="240.3" cy="527.5" r="4.2" fill="url(#sg)"/>
<circle cx="397.4" cy="535.6" r="4.2" fill="url(#sg)"/>
<circle cx="485.8" cy="526.3" r="4.2" fill="url(#sg)"/>
<circle cx="542.2" cy="523.1" r="4.2" fill="url(#sg)"/>
<circle cx="489.7" cy="529.1" r="4.2" fill="url(#sg)"/>
<circle cx="446.1" cy="537.5" r="4.2" fill="url(#sg)"/>
<circle cx="576.4" cy="532" r="4.2" fill="url(#sg)"/>
<circle cx="568.3" cy="523" r="4.2" fill="url(#sg)"/>
<circle cx="679.2" cy="534.9" r="4.2" fill="url(#sg)"/>
<circle cx="583.9" cy="528.8" r="4.2" fill="url(#sg)"/>
<circle cx="364.7" cy="533.2" r="4.2" fill="url(#sg)"/>
<circle cx="414" cy="538.4" r="4.2" fill="url(#sg)"/>
<circle cx="507.6" cy="527.8" r="4.2" fill="url(#sg)"/>
<circle cx="298" cy="525.3" r="4.2" fill="url(#sg)"/>
<circle cx="314.7" cy="523.1" r="4.2" fill="url(#sg)"/>
<circle cx="288.3" cy="528.4" r="4.2" fill="url(#sg)"/>
<circle cx="387.4" cy="532.8" r="4.2" fill="url(#sg)"/>
<circle cx="242.8" cy="527.5" r="4.2" fill="url(#sg)"/>
<circle cx="379.1" cy="534" r="4.2" fill="url(#sg)"/>
<circle cx="323.2" cy="534.3" r="4.2" fill="url(#sg)"/>
<circle cx="517.2" cy="526.6" r="4.2" fill="url(#sg)"/>
<circle cx="404" cy="536" r="4.2" fill="url(#sg)"/>
<circle cx="457.6" cy="535" r="4.2" fill="url(#sg)"/>
<circle cx="396.8" cy="535.3" r="4.2" fill="url(#sg)"/>
<circle cx="622" cy="530.5" r="4.2" fill="url(#sg)"/>
<circle cx="379.8" cy="522.1" r="4.2" fill="url(#sg)"/>
<circle cx="266.9" cy="523" r="4.2" fill="url(#sg)"/>
<circle cx="442.7" cy="536.8" r="4.2" fill="url(#sg)"/>
<circle cx="305.3" cy="536.2" r="4.2" fill="url(#sg)"/>
<circle cx="598.3" cy="533.7" r="4.2" fill="url(#sg)"/>
<circle cx="363.6" cy="523" r="4.2" fill="url(#sg)"/>
<circle cx="608.8" cy="534.8" r="4.2" fill="url(#sg)"/>
<circle cx="455.2" cy="531.1" r="4.2" fill="url(#sg)"/>
<circle cx="452" cy="536.6" r="4.2" fill="url(#sg)"/>
<circle cx="417.6" cy="538.7" r="4.2" fill="url(#sg)"/>
<circle cx="446.3" cy="535.3" r="4.2" fill="url(#sg)"/>
<circle cx="391.7" cy="538.9" r="4.2" fill="url(#sg)"/>
<circle cx="249.7" cy="532.9" r="4.2" fill="url(#sg)"/>
<circle cx="516" cy="520.3" r="4.2" fill="url(#sg)"/>
<circle cx="451.2" cy="533.3" r="4.2" fill="url(#sg)"/>
<circle cx="533.1" cy="538.3" r="4.2" fill="url(#sg)"/>
<circle cx="430.1" cy="538.6" r="4.2" fill="url(#sg)"/>
<circle cx="323.5" cy="522.7" r="4.2" fill="url(#sg)"/>
<circle cx="338.2" cy="535.5" r="4.2" fill="url(#sg)"/>
<circle cx="239.5" cy="530.8" r="4.2" fill="url(#sg)"/>
<circle cx="362.5" cy="521.6" r="4.2" fill="url(#sg)"/>
<circle cx="476.8" cy="527.8" r="4.2" fill="url(#sg)"/>
<circle cx="459.8" cy="527.4" r="4.2" fill="url(#sg)"/>
<circle cx="376.1" cy="534.9" r="4.2" fill="url(#sg)"/>
<circle cx="384.9" cy="530.5" r="4.2" fill="url(#sg)"/>
<circle cx="363.9" cy="520.6" r="4.2" fill="url(#sg)"/>
<circle cx="375.3" cy="537.6" r="4.2" fill="url(#sg)"/>
<circle cx="523.5" cy="526.4" r="4.2" fill="url(#sg)"/>
<circle cx="245.3" cy="529.5" r="4.2" fill="url(#sg)"/>
<circle cx="475.4" cy="520.2" r="4.2" fill="url(#sg)"/>
<circle cx="372.6" cy="522.2" r="4.2" fill="url(#sg)"/>
<circle cx="325.4" cy="534.6" r="4.2" fill="url(#sg)"/>
<circle cx="408.7" cy="536.4" r="4.2" fill="url(#sg)"/>
<circle cx="406.7" cy="538.3" r="4.2" fill="url(#sg)"/>
<circle cx="451.4" cy="532.3" r="4.2" fill="url(#sg)"/>
<circle cx="335" cy="523.7" r="4.2" fill="url(#sg)"/>
<circle cx="519.8" cy="534.8" r="4.2" fill="url(#sg)"/>
<circle cx="408.4" cy="537.3" r="4.2" fill="url(#sg)"/>
<circle cx="512.9" cy="533.9" r="4.2" fill="url(#sg)"/>
<circle cx="524.8" cy="531.6" r="4.2" fill="url(#sg)"/>
<circle cx="423.7" cy="539" r="4.2" fill="url(#sg)"/>
<circle cx="337.8" cy="538.1" r="4.2" fill="url(#sg)"/>
<circle cx="436.4" cy="537.4" r="4.2" fill="url(#sg)"/>
<circle cx="343" cy="532" r="4.2" fill="url(#sg)"/>
<circle cx="399" cy="533.8" r="4.2" fill="url(#sg)"/>
<circle cx="427.8" cy="538.9" r="4.2" fill="url(#sg)"/>
<circle cx="614.8" cy="535" r="4.2" fill="url(#sg)"/>
<circle cx="351" cy="520.9" r="4.2" fill="url(#sg)"/>
<circle cx="477.7" cy="523.4" r="4.2" fill="url(#sg)"/>
<circle cx="430.1" cy="538.5" r="4.2" fill="url(#sg)"/>
<circle cx="506.4" cy="524.7" r="4.2" fill="url(#sg)"/>
<circle cx="601.7" cy="531.7" r="4.2" fill="url(#sg)"/>
<circle cx="365.7" cy="520.3" r="4.2" fill="url(#sg)"/>
<circle cx="196.6" cy="531.9" r="4.2" fill="url(#sg)"/>
<circle cx="464.6" cy="529.4" r="4.2" fill="url(#sg)"/>
<circle cx="537" cy="533.5" r="4.2" fill="url(#sg)"/>
<circle cx="468.8" cy="522.7" r="4.2" fill="url(#sg)"/>
<circle cx="548.1" cy="520.2" r="4.2" fill="url(#sg)"/>
<circle cx="431.6" cy="538.5" r="4.2" fill="url(#sg)"/>
<circle cx="500.5" cy="520.3" r="4.2" fill="url(#sg)"/>
<circle cx="376.5" cy="538.7" r="4.2" fill="url(#sg)"/>
<circle cx="338.2" cy="535.4" r="4.2" fill="url(#sg)"/>
<circle cx="356.3" cy="535.3" r="4.2" fill="url(#sg)"/>
<circle cx="314.3" cy="523.4" r="4.2" fill="url(#sg)"/>
<circle cx="385.9" cy="532.3" r="4.2" fill="url(#sg)"/>
<circle cx="462" cy="527.5" r="4.2" fill="url(#sg)"/>
<circle cx="327.2" cy="530.6" r="4.2" fill="url(#sg)"/>
<circle cx="477.2" cy="524.4" r="4.2" fill="url(#sg)"/>
<circle cx="458.6" cy="531" r="4.2" fill="url(#sg)"/>
<circle cx="280.1" cy="536.9" r="4.2" fill="url(#sg)"/>
<circle cx="335.8" cy="522.7" r="4.2" fill="url(#sg)"/>
<circle cx="482.2" cy="531.9" r="4.2" fill="url(#sg)"/>
<circle cx="333.8" cy="537.2" r="4.2" fill="url(#sg)"/>
<circle cx="505.4" cy="530.2" r="4.2" fill="url(#sg)"/>
<circle cx="572" cy="527" r="4.2" fill="url(#sg)"/>
<circle cx="300.3" cy="528.5" r="4.2" fill="url(#sg)"/>
<circle cx="380.4" cy="530.4" r="4.2" fill="url(#sg)"/>
<circle cx="359.7" cy="536.7" r="4.2" fill="url(#sg)"/>
<circle cx="516.2" cy="531.8" r="4.2" fill="url(#sg)"/>
<circle cx="512.7" cy="521.3" r="4.2" fill="url(#sg)"/>
<circle cx="248" cy="529.3" r="4.2" fill="url(#sg)"/>
<circle cx="457.2" cy="530.8" r="4.2" fill="url(#sg)"/>
<circle cx="403.9" cy="536.5" r="4.2" fill="url(#sg)"/>
<circle cx="518.5" cy="538" r="4.2" fill="url(#sg)"/>
<circle cx="278.1" cy="535.5" r="4.2" fill="url(#sg)"/>
<circle cx="386.6" cy="527.6" r="4.2" fill="url(#sg)"/>
<circle cx="514.7" cy="529.3" r="4.2" fill="url(#sg)"/>
<circle cx="646.1" cy="534.5" r="4.2" fill="url(#sg)"/>
<circle cx="431.8" cy="538.8" r="4.2" fill="url(#sg)"/>
<circle cx="251.8" cy="528.5" r="4.2" fill="url(#sg)"/>
<circle cx="527.1" cy="522.3" r="4.2" fill="url(#sg)"/>
<circle cx="404.3" cy="535.9" r="4.2" fill="url(#sg)"/>
<circle cx="274" cy="532.4" r="4.2" fill="url(#sg)"/>
<circle cx="522.7" cy="536.8" r="4.2" fill="url(#sg)"/>
<circle cx="389.7" cy="527.4" r="4.2" fill="url(#sg)"/>
<circle cx="488.8" cy="538.6" r="4.2" fill="url(#sg)"/>
<circle cx="438.3" cy="538.8" r="4.2" fill="url(#sg)"/>
<circle cx="591.7" cy="528.8" r="4.2" fill="url(#sg)"/>
<circle cx="548.3" cy="524.7" r="4.2" fill="url(#sg)"/>
<circle cx="550.1" cy="525" r="4.2" fill="url(#sg)"/>
<circle cx="353.3" cy="520.5" r="4.2" fill="url(#sg)"/>
<circle cx="581.2" cy="528.3" r="4.2" fill="url(#sg)"/>
<circle cx="369.6" cy="524.7" r="4.2" fill="url(#sg)"/>
<circle cx="222" cy="533.4" r="4.2" fill="url(#sg)"/>
<circle cx="433.3" cy="538" r="4.2" fill="url(#sg)"/>
<circle cx="367.1" cy="524.1" r="4.2" fill="url(#sg)"/>
<circle cx="513.2" cy="523.4" r="4.2" fill="url(#sg)"/>
<circle cx="357.2" cy="522" r="4.2" fill="url(#sg)"/>
<circle cx="515.5" cy="527.1" r="4.2" fill="url(#sg)"/>
<circle cx="559.4" cy="522.1" r="4.2" fill="url(#sg)"/>
<circle cx="505.2" cy="523.1" r="4.2" fill="url(#sg)"/>
<circle cx="288.7" cy="523.4" r="4.2" fill="url(#sg)"/>
<circle cx="377.9" cy="520.9" r="4.2" fill="url(#sg)"/>
<circle cx="332.5" cy="523.4" r="4.2" fill="url(#sg)"/>
<circle cx="416.9" cy="538.2" r="4.2" fill="url(#sg)"/>
<circle cx="280.6" cy="522.1" r="4.2" fill="url(#sg)"/>
<circle cx="311.9" cy="533.3" r="4.2" fill="url(#sg)"/>
<circle cx="429.4" cy="539" r="4.2" fill="url(#sg)"/>
<circle cx="549.8" cy="529" r="4.2" fill="url(#sg)"/>
<circle cx="549.2" cy="521.7" r="4.2" fill="url(#sg)"/>
<circle cx="383.9" cy="528.9" r="4.2" fill="url(#sg)"/>
<circle cx="377.7" cy="527.5" r="4.2" fill="url(#sg)"/>
<circle cx="589.6" cy="530.3" r="4.2" fill="url(#sg)"/>
<circle cx="610.9" cy="529.5" r="4.2" fill="url(#sg)"/>
<circle cx="400.1" cy="534.5" r="4.2" fill="url(#sg)"/>
<circle cx="372.7" cy="526.3" r="4.2" fill="url(#sg)"/>
<circle cx="345.4" cy="531.3" r="4.2" fill="url(#sg)"/>
<circle cx="428.4" cy="538.5" r="4.2" fill="url(#sg)"/>
<circle cx="489.6" cy="533.6" r="4.2" fill="url(#sg)"/>
<circle cx="366.2" cy="533.2" r="4.2" fill="url(#sg)"/>
<circle cx="528.2" cy="527.5" r="4.2" fill="url(#sg)"/>
<circle cx="316.5" cy="522" r="4.2" fill="url(#sg)"/>
<circle cx="512.5" cy="533.6" r="4.2" fill="url(#sg)"/>
<circle cx="606.1" cy="534.2" r="4.2" fill="url(#sg)"/>
<circle cx="474.2" cy="535.6" r="4.2" fill="url(#sg)"/>
<circle cx="302.1" cy="519.9" r="4.2" fill="url(#sg)"/>
<circle cx="337.6" cy="534.5" r="4.2" fill="url(#sg)"/>
<circle cx="410.4" cy="537.4" r="4.2" fill="url(#sg)"/>
<circle cx="378.7" cy="530.3" r="4.2" fill="url(#sg)"/>
<circle cx="492.5" cy="526.8" r="4.2" fill="url(#sg)"/>
<circle cx="577.7" cy="531.2" r="4.2" fill="url(#sg)"/>
<circle cx="527.6" cy="530.4" r="4.2" fill="url(#sg)"/>
<circle cx="472.9" cy="521.3" r="4.2" fill="url(#sg)"/>
<circle cx="374.4" cy="526.9" r="4.2" fill="url(#sg)"/>
<circle cx="380" cy="523.8" r="4.2" fill="url(#sg)"/>
<circle cx="442.9" cy="535.6" r="4.2" fill="url(#sg)"/>
<circle cx="623.8" cy="530.5" r="4.2" fill="url(#sg)"/>
<circle cx="288.3" cy="525.8" r="4.2" fill="url(#sg)"/>
<circle cx="468.1" cy="533.4" r="4.2" fill="url(#sg)"/>
<circle cx="390.4" cy="533.6" r="4.2" fill="url(#sg)"/>
<circle cx="380.4" cy="523.7" r="4.2" fill="url(#sg)"/>
<circle cx="426.1" cy="539" r="4.2" fill="url(#sg)"/>
<circle cx="403.8" cy="536.7" r="4.2" fill="url(#sg)"/>
<circle cx="323.9" cy="528.4" r="4.2" fill="url(#sg)"/>
<circle cx="363.8" cy="530.9" r="4.2" fill="url(#sg)"/>
<circle cx="504.1" cy="532.8" r="4.2" fill="url(#sg)"/>
<circle cx="252.5" cy="525.2" r="4.2" fill="url(#sg)"/>
<circle cx="457.8" cy="535.4" r="4.2" fill="url(#sg)"/>
<circle cx="357.6" cy="532.2" r="4.2" fill="url(#sg)"/>
<circle cx="533.4" cy="521.2" r="4.2" fill="url(#sg)"/>
<circle cx="261" cy="524.7" r="4.2" fill="url(#sg)"/>
<circle cx="314.9" cy="522.1" r="4.2" fill="url(#sg)"/>
<circle cx="369.8" cy="520.5" r="4.2" fill="url(#sg)"/>
<circle cx="384.4" cy="531.6" r="4.2" fill="url(#sg)"/>
<circle cx="152.2" cy="531.8" r="4.2" fill="url(#sg)"/>
<circle cx="644.5" cy="530.6" r="4.2" fill="url(#sg)"/>
<circle cx="426" cy="538.9" r="4.2" fill="url(#sg)"/>
<circle cx="325.5" cy="527.5" r="4.2" fill="url(#sg)"/>
<circle cx="385.5" cy="528.4" r="4.2" fill="url(#sg)"/>
<circle cx="415.1" cy="538.4" r="4.2" fill="url(#sg)"/>
<circle cx="296.7" cy="529.5" r="4.2" fill="url(#sg)"/>
<circle cx="251.4" cy="533.1" r="4.2" fill="url(#sg)"/>
<circle cx="383.1" cy="537.7" r="4.2" fill="url(#sg)"/>
<circle cx="540.1" cy="529.3" r="4.2" fill="url(#sg)"/>
<circle cx="405.1" cy="536.2" r="4.2" fill="url(#sg)"/>
<circle cx="431.9" cy="538.1" r="4.2" fill="url(#sg)"/>
<circle cx="434.2" cy="537.8" r="4.2" fill="url(#sg)"/>
<circle cx="275.3" cy="535.1" r="4.2" fill="url(#sg)"/>
<circle cx="469.8" cy="537.1" r="4.2" fill="url(#sg)"/>
<circle cx="450.2" cy="533.8" r="4.2" fill="url(#sg)"/>
<circle cx="330.4" cy="537.6" r="4.2" fill="url(#sg)"/>
<circle cx="399.2" cy="534.8" r="4.2" fill="url(#sg)"/>
<circle cx="566.4" cy="536.6" r="4.2" fill="url(#sg)"/>
<circle cx="403" cy="536" r="4.2" fill="url(#sg)"/>
<circle cx="251.4" cy="530.4" r="4.2" fill="url(#sg)"/>
<circle cx="337.8" cy="522.8" r="4.2" fill="url(#sg)"/>
<circle cx="639.7" cy="527" r="4.2" fill="url(#sg)"/>
<circle cx="465.9" cy="535.8" r="4.2" fill="url(#sg)"/>
<circle cx="478.4" cy="527.4" r="4.2" fill="url(#sg)"/>
<circle cx="508.3" cy="521" r="4.2" fill="url(#sg)"/>
<circle cx="508" cy="529.5" r="4.2" fill="url(#sg)"/>
<circle cx="529.9" cy="537.3" r="4.2" fill="url(#sg)"/>
<circle cx="272.6" cy="530.6" r="4.2" fill="url(#sg)"/>
<circle cx="317" cy="531.4" r="4.2" fill="url(#sg)"/>
<circle cx="461.8" cy="536" r="4.2" fill="url(#sg)"/>
<circle cx="452.8" cy="532.7" r="4.2" fill="url(#sg)"/>
<circle cx="465.1" cy="529.6" r="4.2" fill="url(#sg)"/>
<circle cx="364.4" cy="525.9" r="4.2" fill="url(#sg)"/>
<circle cx="453.3" cy="536.5" r="4.2" fill="url(#sg)"/>
<circle cx="559.9" cy="525.1" r="4.2" fill="url(#sg)"/>
<circle cx="567.1" cy="520" r="4.2" fill="url(#sg)"/>
<circle cx="348.8" cy="521.1" r="4.2" fill="url(#sg)"/>
<circle cx="390.8" cy="537.3" r="4.2" fill="url(#sg)"/>
<circle cx="572.8" cy="532.2" r="4.2" fill="url(#sg)"/>
<circle cx="412.8" cy="537.5" r="4.2" fill="url(#sg)"/>
<circle cx="587.1" cy="534.8" r="4.2" fill="url(#sg)"/>
<circle cx="545" cy="524.6" r="4.2" fill="url(#sg)"/>
<circle cx="405" cy="534.6" r="4.2" fill="url(#sg)"/>
<circle cx="441.7" cy="535" r="4.2" fill="url(#sg)"/>
<circle cx="454.9" cy="529.4" r="4.2" fill="url(#sg)"/>
<circle cx="411.4" cy="538.6" r="4.2" fill="url(#sg)"/>
<circle cx="398" cy="535.4" r="4.2" fill="url(#sg)"/>
<circle cx="446.5" cy="535.2" r="4.2" fill="url(#sg)"/>
<circle cx="261.9" cy="536.1" r="4.2" fill="url(#sg)"/>
<circle cx="241.5" cy="538.7" r="4.2" fill="url(#sg)"/>
<circle cx="342.7" cy="526.7" r="4.2" fill="url(#sg)"/>
<circle cx="218.4" cy="536.9" r="4.2" fill="url(#sg)"/>
<circle cx="526.6" cy="522.6" r="4.2" fill="url(#sg)"/>
<circle cx="381.3" cy="536.1" r="4.2" fill="url(#sg)"/>
<circle cx="350.9" cy="520.7" r="4.2" fill="url(#sg)"/>
<circle cx="455" cy="535.6" r="4.2" fill="url(#sg)"/>
<circle cx="346.3" cy="527.8" r="4.2" fill="url(#sg)"/>
<circle cx="263.4" cy="526" r="4.2" fill="url(#sg)"/>
<circle cx="319.7" cy="529.4" r="4.2" fill="url(#sg)"/>
<circle cx="535.5" cy="525.2" r="4.2" fill="url(#sg)"/>
<circle cx="702.9" cy="530.4" r="4.2" fill="url(#sg)"/>
<circle cx="682.6" cy="532" r="4.2" fill="url(#sg)"/>
<circle cx="529.2" cy="532.8" r="4.2" fill="url(#sg)"/>
<circle cx="232.9" cy="526.1" r="4.2" fill="url(#sg)"/>
<circle cx="451.2" cy="532.1" r="4.2" fill="url(#sg)"/>
<circle cx="347.3" cy="537.7" r="4.2" fill="url(#sg)"/>
<circle cx="500.2" cy="533.6" r="4.2" fill="url(#sg)"/>
<circle cx="303.2" cy="536" r="4.2" fill="url(#sg)"/>
<circle cx="446.4" cy="533" r="4.2" fill="url(#sg)"/>
<circle cx="359.2" cy="527.8" r="4.2" fill="url(#sg)"/>
<circle cx="402.2" cy="534.8" r="4.2" fill="url(#sg)"/>
<circle cx="295.5" cy="527.8" r="4.2" fill="url(#sg)"/>
<circle cx="410" cy="538.7" r="4.2" fill="url(#sg)"/>
<circle cx="442.9" cy="538.6" r="4.2" fill="url(#sg)"/>
<circle cx="433.8" cy="538" r="4.2" fill="url(#sg)"/>
<circle cx="476.8" cy="534.8" r="4.2" fill="url(#sg)"/>
<circle cx="548.6" cy="536.8" r="4.2" fill="url(#sg)"/>
<circle cx="350.6" cy="522.4" r="4.2" fill="url(#sg)"/>
<circle cx="416.9" cy="538.5" r="4.2" fill="url(#sg)"/>
<circle cx="551.2" cy="533.4" r="4.2" fill="url(#sg)"/>
<circle cx="337.6" cy="527.8" r="4.2" fill="url(#sg)"/>
<circle cx="309.9" cy="523" r="4.2" fill="url(#sg)"/>
<circle cx="425.6" cy="538.9" r="4.2" fill="url(#sg)"/>
<circle cx="387.1" cy="533.9" r="4.2" fill="url(#sg)"/>
<circle cx="264.1" cy="520.8" r="4.2" fill="url(#sg)"/>
<circle cx="473.8" cy="523.5" r="4.2" fill="url(#sg)"/>
<circle cx="442.7" cy="535.2" r="4.2" fill="url(#sg)"/>
<circle cx="523.4" cy="531" r="4.2" fill="url(#sg)"/>
<circle cx="369.6" cy="522.6" r="4.2" fill="url(#sg)"/>
<circle cx="433.8" cy="538.6" r="4.2" fill="url(#sg)"/>
<circle cx="643.4" cy="529.3" r="4.2" fill="url(#sg)"/>
<circle cx="371.4" cy="532.7" r="4.2" fill="url(#sg)"/>
<circle cx="446.2" cy="535.3" r="4.2" fill="url(#sg)"/>
<circle cx="373.9" cy="521.5" r="4.2" fill="url(#sg)"/>
<circle cx="489.5" cy="520.3" r="4.2" fill="url(#sg)"/>
<circle cx="452.8" cy="534.7" r="4.2" fill="url(#sg)"/>
<circle cx="370.6" cy="535.1" r="4.2" fill="url(#sg)"/>
<circle cx="350.9" cy="538.2" r="4.2" fill="url(#sg)"/>
<circle cx="277.9" cy="524.7" r="4.2" fill="url(#sg)"/>
<circle cx="183.1" cy="525.2" r="4.2" fill="url(#sg)"/>
<circle cx="351.4" cy="528.8" r="4.2" fill="url(#sg)"/>
<circle cx="527.5" cy="529.7" r="4.2" fill="url(#sg)"/>
<circle cx="233.7" cy="533.8" r="4.2" fill="url(#sg)"/>
<circle cx="455.1" cy="532.4" r="4.2" fill="url(#sg)"/>
<circle cx="495.2" cy="520.7" r="4.2" fill="url(#sg)"/>
<circle cx="600.5" cy="535.8" r="4.2" fill="url(#sg)"/>
<circle cx="525" cy="531.9" r="4.2" fill="url(#sg)"/>
<circle cx="553.7" cy="532.1" r="4.2" fill="url(#sg)"/>
<circle cx="469.2" cy="528.8" r="4.2" fill="url(#sg)"/>
<circle cx="307.7" cy="526.7" r="4.2" fill="url(#sg)"/>
<circle cx="303.8" cy="521.1" r="4.2" fill="url(#sg)"/>
<circle cx="430.2" cy="539" r="4.2" fill="url(#sg)"/>
<circle cx="470.2" cy="532.2" r="4.2" fill="url(#sg)"/>
<circle cx="493.9" cy="534.9" r="4.2" fill="url(#sg)"/>
<circle cx="449.5" cy="532.6" r="4.2" fill="url(#sg)"/>
<circle cx="447" cy="533.5" r="4.2" fill="url(#sg)"/>
<circle cx="522.4" cy="525.1" r="4.2" fill="url(#sg)"/>
<circle cx="515.6" cy="523.6" r="4.2" fill="url(#sg)"/>
<circle cx="467.6" cy="530.5" r="4.2" fill="url(#sg)"/>
<circle cx="466.1" cy="533.3" r="4.2" fill="url(#sg)"/>
<circle cx="413.2" cy="538.2" r="4.2" fill="url(#sg)"/>
<circle cx="375.5" cy="526.6" r="4.2" fill="url(#sg)"/>
<circle cx="317" cy="533.9" r="4.2" fill="url(#sg)"/>
<circle cx="270.2" cy="523.7" r="4.2" fill="url(#sg)"/>
<circle cx="183.3" cy="530.2" r="4.2" fill="url(#sg)"/>
<circle cx="444.9" cy="536.1" r="4.2" fill="url(#sg)"/>
<circle cx="376" cy="526.5" r="4.2" fill="url(#sg)"/>
<circle cx="288.7" cy="520.9" r="4.2" fill="url(#sg)"/>
<circle cx="344.6" cy="524.5" r="4.2" fill="url(#sg)"/>
<circle cx="383" cy="524.1" r="4.2" fill="url(#sg)"/>
<circle cx="513" cy="538.9" r="4.2" fill="url(#sg)"/>
<circle cx="382.1" cy="527.2" r="4.2" fill="url(#sg)"/>
<circle cx="383.3" cy="525.6" r="4.2" fill="url(#sg)"/>
<circle cx="494.7" cy="526.3" r="4.2" fill="url(#sg)"/>
<circle cx="394.3" cy="532.4" r="4.2" fill="url(#sg)"/>
<circle cx="412.2" cy="538.1" r="4.2" fill="url(#sg)"/>
<circle cx="259.3" cy="538.2" r="4.2" fill="url(#sg)"/>
<circle cx="447.6" cy="538" r="4.2" fill="url(#sg)"/>
<circle cx="318.5" cy="531.7" r="4.2" fill="url(#sg)"/>
<circle cx="463.6" cy="529.2" r="4.2" fill="url(#sg)"/>
<circle cx="398.9" cy="535.5" r="4.2" fill="url(#sg)"/>
<circle cx="216.5" cy="532.1" r="4.2" fill="url(#sg)"/>
<circle cx="478" cy="525.9" r="4.2" fill="url(#sg)"/>
<circle cx="297.4" cy="530.8" r="4.2" fill="url(#sg)"/>
<circle cx="524.7" cy="528.4" r="4.2" fill="url(#sg)"/>
<circle cx="520.7" cy="531.3" r="4.2" fill="url(#sg)"/>
<circle cx="554.2" cy="523.3" r="4.2" fill="url(#sg)"/>
<circle cx="262.9" cy="522.3" r="4.2" fill="url(#sg)"/>
<circle cx="511" cy="525.9" r="4.2" fill="url(#sg)"/>
<circle cx="553.2" cy="538.4" r="4.2" fill="url(#sg)"/>
<circle cx="413" cy="538.4" r="4.2" fill="url(#sg)"/>
<circle cx="560.3" cy="538.5" r="4.2" fill="url(#sg)"/>
<circle cx="155" cy="528.2" r="4.2" fill="url(#sg)"/>
<circle cx="337.5" cy="534.3" r="4.2" fill="url(#sg)"/>
<circle cx="329.4" cy="529.6" r="4.2" fill="url(#sg)"/>
<circle cx="410.9" cy="536.7" r="4.2" fill="url(#sg)"/>
<circle cx="478.2" cy="534.1" r="4.2" fill="url(#sg)"/>
<circle cx="428.9" cy="538.9" r="4.2" fill="url(#sg)"/>
<circle cx="283.1" cy="524.6" r="4.2" fill="url(#sg)"/>
<circle cx="575.6" cy="533.2" r="4.2" fill="url(#sg)"/>
<circle cx="498.4" cy="526.6" r="4.2" fill="url(#sg)"/>
<circle cx="385.8" cy="536.4" r="4.2" fill="url(#sg)"/>
<circle cx="319.2" cy="536.8" r="4.2" fill="url(#sg)"/>
<circle cx="403.1" cy="535.7" r="4.2" fill="url(#sg)"/>
<circle cx="397" cy="538" r="4.2" fill="url(#sg)"/>
<circle cx="387.4" cy="536.8" r="4.2" fill="url(#sg)"/>
<circle cx="278" cy="531.4" r="4.2" fill="url(#sg)"/>
<circle cx="401.3" cy="535.9" r="4.2" fill="url(#sg)"/>
<circle cx="383.9" cy="535.8" r="4.2" fill="url(#sg)"/>
<circle cx="390.4" cy="528.3" r="4.2" fill="url(#sg)"/>
<circle cx="352.4" cy="523.8" r="4.2" fill="url(#sg)"/>
<circle cx="180.5" cy="528.4" r="4.2" fill="url(#sg)"/>
<circle cx="433.4" cy="538.6" r="4.2" fill="url(#sg)"/>
<circle cx="539" cy="526.1" r="4.2" fill="url(#sg)"/>
<circle cx="572.7" cy="532.8" r="4.2" fill="url(#sg)"/>
<circle cx="402.3" cy="534.9" r="4.2" fill="url(#sg)"/>
<circle cx="340.7" cy="522.7" r="4.2" fill="url(#sg)"/>
<circle cx="392.3" cy="530.2" r="4.2" fill="url(#sg)"/>
<circle cx="523.2" cy="521.4" r="4.2" fill="url(#sg)"/>
<circle cx="306.6" cy="526.6" r="4.2" fill="url(#sg)"/>
<circle cx="595.2" cy="532.3" r="4.2" fill="url(#sg)"/>
<circle cx="300.4" cy="526.8" r="4.2" fill="url(#sg)"/>
<circle cx="274.4" cy="525.2" r="4.2" fill="url(#sg)"/>
<circle cx="540.2" cy="527.9" r="4.2" fill="url(#sg)"/>
<circle cx="233.8" cy="535.9" r="4.2" fill="url(#sg)"/>
<circle cx="507.6" cy="528.4" r="4.2" fill="url(#sg)"/>
<circle cx="395.5" cy="531.8" r="4.2" fill="url(#sg)"/>
<circle cx="425.6" cy="538.9" r="4.2" fill="url(#sg)"/>
<circle cx="480.5" cy="524.9" r="4.2" fill="url(#sg)"/>
<circle cx="452.6" cy="533.9" r="4.2" fill="url(#sg)"/>
<circle cx="355.5" cy="529.2" r="4.2" fill="url(#sg)"/>
<circle cx="564" cy="530.6" r="4.2" fill="url(#sg)"/>
<circle cx="472.2" cy="527.9" r="4.2" fill="url(#sg)"/>
<circle cx="404.8" cy="536.3" r="4.2" fill="url(#sg)"/>
<circle cx="244.5" cy="534.6" r="4.2" fill="url(#sg)"/>
<circle cx="297.4" cy="520.7" r="4.2" fill="url(#sg)"/>
<circle cx="407" cy="536.5" r="4.2" fill="url(#sg)"/>
<circle cx="629.2" cy="532.6" r="4.2" fill="url(#sg)"/>
<circle cx="401.5" cy="535.8" r="4.2" fill="url(#sg)"/>
<circle cx="210.6" cy="526" r="4.2" fill="url(#sg)"/>
<circle cx="474.4" cy="527.5" r="4.2" fill="url(#sg)"/>
<circle cx="517.3" cy="534.3" r="4.2" fill="url(#sg)"/>
<circle cx="616.2" cy="533.5" r="4.2" fill="url(#sg)"/>
<circle cx="443.6" cy="535.9" r="4.2" fill="url(#sg)"/>
<circle cx="640.9" cy="529.4" r="4.2" fill="url(#sg)"/>
<circle cx="543.2" cy="526.9" r="4.2" fill="url(#sg)"/>
<circle cx="610.8" cy="536.9" r="4.2" fill="url(#sg)"/>
<circle cx="591.8" cy="535.5" r="4.2" fill="url(#sg)"/>
<circle cx="468.2" cy="529.3" r="4.2" fill="url(#sg)"/>
<circle cx="401.6" cy="535" r="4.2" fill="url(#sg)"/>
<circle cx="351.2" cy="521.1" r="4.2" fill="url(#sg)"/>
<circle cx="321.7" cy="524.3" r="4.2" fill="url(#sg)"/>
<circle cx="545.8" cy="522.3" r="4.2" fill="url(#sg)"/>
<circle cx="397.7" cy="531.6" r="4.2" fill="url(#sg)"/>
<circle cx="219.6" cy="526.1" r="4.2" fill="url(#sg)"/>
<circle cx="461.9" cy="525.7" r="4.2" fill="url(#sg)"/>
<circle cx="386.8" cy="527.9" r="4.2" fill="url(#sg)"/>
<circle cx="329.5" cy="528.4" r="4.2" fill="url(#sg)"/>
<circle cx="312.5" cy="532.9" r="4.2" fill="url(#sg)"/>
<circle cx="510.1" cy="520.9" r="4.2" fill="url(#sg)"/>
<circle cx="560.3" cy="523.9" r="4.2" fill="url(#sg)"/>
<circle cx="268.2" cy="533" r="4.2" fill="url(#sg)"/>
<circle cx="400.9" cy="533.4" r="4.2" fill="url(#sg)"/>
<circle cx="328" cy="528" r="4.2" fill="url(#sg)"/>
<circle cx="456.8" cy="530" r="4.2" fill="url(#sg)"/>
<circle cx="477" cy="521.2" r="4.2" fill="url(#sg)"/>
<circle cx="471.6" cy="528.3" r="4.2" fill="url(#sg)"/>
<circle cx="358.9" cy="525.3" r="4.2" fill="url(#sg)"/>
<circle cx="449.2" cy="534.7" r="4.2" fill="url(#sg)"/>
<circle cx="342.6" cy="524.5" r="4.2" fill="url(#sg)"/>
<circle cx="329.5" cy="533.2" r="4.2" fill="url(#sg)"/>
<circle cx="284.5" cy="523.6" r="4.2" fill="url(#sg)"/>
<circle cx="245.7" cy="535.2" r="4.2" fill="url(#sg)"/>
<circle cx="407.9" cy="536.9" r="4.2" fill="url(#sg)"/>
<circle cx="431.3" cy="538.4" r="4.2" fill="url(#sg)"/>
<circle cx="248.4" cy="530.4" r="4.2" fill="url(#sg)"/>
<circle cx="279.3" cy="537" r="4.2" fill="url(#sg)"/>
<circle cx="326.3" cy="535" r="4.2" fill="url(#sg)"/>
<circle cx="217.1" cy="533.5" r="4.2" fill="url(#sg)"/>
<circle cx="563.8" cy="523" r="4.2" fill="url(#sg)"/>
<circle cx="274.9" cy="528.3" r="4.2" fill="url(#sg)"/>
<circle cx="438.2" cy="536.3" r="4.2" fill="url(#sg)"/>
<circle cx="362.6" cy="537.2" r="4.2" fill="url(#sg)"/>
<circle cx="316.3" cy="520.8" r="4.2" fill="url(#sg)"/>
<circle cx="444.8" cy="536.4" r="4.2" fill="url(#sg)"/>
<circle cx="244.4" cy="533.1" r="4.2" fill="url(#sg)"/>
<circle cx="550.9" cy="538.5" r="4.2" fill="url(#sg)"/>
<circle cx="376.2" cy="532.7" r="4.2" fill="url(#sg)"/>
<circle cx="499.6" cy="530.6" r="4.2" fill="url(#sg)"/>
<circle cx="356.9" cy="532.1" r="4.2" fill="url(#sg)"/>
<circle cx="311.2" cy="520.3" r="4.2" fill="url(#sg)"/>
<circle cx="379.6" cy="523.7" r="4.2" fill="url(#sg)"/>
<circle cx="500.3" cy="537.6" r="4.2" fill="url(#sg)"/>
<circle cx="551.1" cy="533.4" r="4.2" fill="url(#sg)"/>
<circle cx="447.8" cy="537.5" r="4.2" fill="url(#sg)"/>
<circle cx="147.7" cy="523.8" r="4.2" fill="url(#sg)"/>
<circle cx="618.2" cy="537.5" r="4.2" fill="url(#sg)"/>
<circle cx="639.5" cy="529.2" r="4.2" fill="url(#sg)"/>
<circle cx="238.8" cy="530.6" r="4.2" fill="url(#sg)"/>
<circle cx="238.7" cy="523.6" r="4.2" fill="url(#sg)"/>
<circle cx="199.7" cy="532.7" r="4.2" fill="url(#sg)"/>
<circle cx="123.8" cy="523.9" r="4.2" fill="url(#sg)"/>
<circle cx="647.5" cy="538.1" r="4.2" fill="url(#sg)"/>
<circle cx="239.9" cy="529.6" r="4.2" fill="url(#sg)"/>
<circle cx="655.2" cy="524.3" r="4.2" fill="url(#sg)"/>
<circle cx="244.7" cy="529.4" r="4.2" fill="url(#sg)"/>
<circle cx="155.8" cy="528.3" r="4.2" fill="url(#sg)"/>
<circle cx="669" cy="526.4" r="4.2" fill="url(#sg)"/>
<circle cx="614.9" cy="526.7" r="4.2" fill="url(#sg)"/>
<circle cx="135.5" cy="537.6" r="4.2" fill="url(#sg)"/>
<circle cx="143" cy="531.4" r="4.2" fill="url(#sg)"/>
<circle cx="648" cy="529.3" r="4.2" fill="url(#sg)"/>
<circle cx="619.6" cy="523.6" r="4.2" fill="url(#sg)"/>
<circle cx="185.4" cy="533.8" r="4.2" fill="url(#sg)"/>
<circle cx="603.5" cy="537.4" r="4.2" fill="url(#sg)"/>
<circle cx="159.4" cy="524.1" r="4.2" fill="url(#sg)"/>
<circle cx="723.9" cy="538.1" r="4.2" fill="url(#sg)"/>
<circle cx="685.8" cy="524.6" r="4.2" fill="url(#sg)"/>
<circle cx="660.5" cy="532" r="4.2" fill="url(#sg)"/>
<circle cx="210.3" cy="535.5" r="4.2" fill="url(#sg)"/>
<circle cx="124.1" cy="525.6" r="4.2" fill="url(#sg)"/>
<circle cx="128.2" cy="524.9" r="4.2" fill="url(#sg)"/>
<circle cx="154.8" cy="538" r="4.2" fill="url(#sg)"/>
<circle cx="183.5" cy="527.3" r="4.2" fill="url(#sg)"/>
<circle cx="138.1" cy="537" r="4.2" fill="url(#sg)"/>
<circle cx="238" cy="525.2" r="4.2" fill="url(#sg)"/>
<circle cx="649.3" cy="536.7" r="4.2" fill="url(#sg)"/>
<circle cx="235.1" cy="532.2" r="4.2" fill="url(#sg)"/>
<circle cx="190.2" cy="534.7" r="4.2" fill="url(#sg)"/>
<circle cx="181.3" cy="532.1" r="4.2" fill="url(#sg)"/>
<circle cx="613.3" cy="536.6" r="4.2" fill="url(#sg)"/>
<circle cx="638.6" cy="535.5" r="4.2" fill="url(#sg)"/>
<circle cx="121.5" cy="524.4" r="4.2" fill="url(#sg)"/>
<circle cx="717.7" cy="536.1" r="4.2" fill="url(#sg)"/>
<circle cx="122.3" cy="528.2" r="4.2" fill="url(#sg)"/>
<circle cx="709.2" cy="529.5" r="4.2" fill="url(#sg)"/>
<circle cx="636.3" cy="537.8" r="4.2" fill="url(#sg)"/>
<circle cx="628.1" cy="527.2" r="4.2" fill="url(#sg)"/>
<circle cx="183.4" cy="534" r="4.2" fill="url(#sg)"/>
<circle cx="222.4" cy="534.3" r="4.2" fill="url(#sg)"/>
<circle cx="363.4" cy="521.6" r="5.9" fill="url(#st)"/>
<circle cx="366.4" cy="513.8" r="5.9" fill="url(#st)"/>
<circle cx="289.3" cy="516.9" r="5.9" fill="url(#st)"/>
<circle cx="308.4" cy="509.3" r="5.9" fill="url(#st)"/>
<circle cx="377.6" cy="512.4" r="5.9" fill="url(#st)"/>
<circle cx="330.5" cy="521.6" r="5.9" fill="url(#st)"/>
<circle cx="331.2" cy="490.2" r="5.9" fill="url(#st)"/>
<circle cx="339.8" cy="501.9" r="5.9" fill="url(#st)"/>
<circle cx="289.3" cy="454.6" r="5.9" fill="url(#st)"/>
<circle cx="345.8" cy="516.7" r="5.9" fill="url(#st)"/>
<circle cx="338" cy="493.6" r="5.9" fill="url(#st)"/>
<circle cx="367.7" cy="503.8" r="5.9" fill="url(#st)"/>
<circle cx="272.5" cy="479.1" r="5.9" fill="url(#st)"/>
<circle cx="316.6" cy="482.4" r="5.9" fill="url(#st)"/>
<circle cx="351.4" cy="515.5" r="5.9" fill="url(#st)"/>
<circle cx="370" cy="520.5" r="5.9" fill="url(#st)"/>
<circle cx="362.4" cy="500" r="5.9" fill="url(#st)"/>
<circle cx="362.3" cy="504.2" r="5.9" fill="url(#st)"/>
<circle cx="348.6" cy="509.2" r="5.9" fill="url(#st)"/>
<circle cx="323.8" cy="507.7" r="5.9" fill="url(#st)"/>
<circle cx="262.3" cy="513.3" r="5.9" fill="url(#st)"/>
<circle cx="355.6" cy="522.2" r="5.9" fill="url(#st)"/>
<circle cx="287.7" cy="501.6" r="5.9" fill="url(#st)"/>
<circle cx="317.2" cy="520.2" r="5.9" fill="url(#st)"/>
<circle cx="358.6" cy="512.1" r="5.9" fill="url(#st)"/>
<circle cx="350.9" cy="522.7" r="5.9" fill="url(#st)"/>
<circle cx="317.6" cy="468.5" r="5.9" fill="url(#st)"/>
<circle cx="312.4" cy="518.7" r="5.9" fill="url(#st)"/>
<circle cx="275.2" cy="487.8" r="5.9" fill="url(#st)"/>
<circle cx="211.7" cy="267.3" r="5.9" fill="url(#st)"/>
<circle cx="294" cy="514.8" r="5.9" fill="url(#st)"/>
<circle cx="366" cy="522.4" r="5.9" fill="url(#st)"/>
<circle cx="351.5" cy="501" r="5.9" fill="url(#st)"/>
<circle cx="336.3" cy="521.7" r="5.9" fill="url(#st)"/>
<circle cx="292.4" cy="517.2" r="5.9" fill="url(#st)"/>
<circle cx="316.9" cy="519.4" r="5.9" fill="url(#st)"/>
<circle cx="260.2" cy="426" r="5.9" fill="url(#st)"/>
<circle cx="357.3" cy="504.2" r="5.9" fill="url(#st)"/>
<circle cx="237.4" cy="330" r="5.9" fill="url(#st)"/>
<circle cx="365.8" cy="512" r="5.9" fill="url(#st)"/>
<circle cx="290.4" cy="518" r="5.9" fill="url(#st)"/>
<circle cx="315" cy="485.3" r="5.9" fill="url(#st)"/>
<circle cx="282.4" cy="521.6" r="5.9" fill="url(#st)"/>
<circle cx="325" cy="518.9" r="5.9" fill="url(#st)"/>
<circle cx="288.7" cy="522.2" r="5.9" fill="url(#st)"/>
<circle cx="278.7" cy="484.6" r="5.9" fill="url(#st)"/>
<circle cx="258.8" cy="423.1" r="5.9" fill="url(#st)"/>
<circle cx="363.3" cy="502.2" r="5.9" fill="url(#st)"/>
<circle cx="370" cy="512.9" r="5.9" fill="url(#st)"/>
<circle cx="244.7" cy="407.9" r="5.9" fill="url(#st)"/>
<circle cx="295.8" cy="522.2" r="5.9" fill="url(#st)"/>
<circle cx="283.1" cy="511.2" r="5.9" fill="url(#st)"/>
<circle cx="316.1" cy="497.1" r="5.9" fill="url(#st)"/>
<circle cx="289.1" cy="418.4" r="5.9" fill="url(#st)"/>
<circle cx="231.7" cy="467.8" r="5.9" fill="url(#st)"/>
<circle cx="317.2" cy="522.4" r="5.9" fill="url(#st)"/>
<circle cx="329.6" cy="518.3" r="5.9" fill="url(#st)"/>
<circle cx="378.5" cy="517.7" r="5.9" fill="url(#st)"/>
<circle cx="359" cy="521.2" r="5.9" fill="url(#st)"/>
<circle cx="367.3" cy="518.1" r="5.9" fill="url(#st)"/>
<circle cx="300.6" cy="464.3" r="5.9" fill="url(#st)"/>
<circle cx="306.2" cy="522.3" r="5.9" fill="url(#st)"/>
<circle cx="301.3" cy="514" r="5.9" fill="url(#st)"/>
<circle cx="237.1" cy="368.5" r="5.9" fill="url(#st)"/>
<circle cx="270.7" cy="520.7" r="5.9" fill="url(#st)"/>
<circle cx="348.5" cy="517.3" r="5.9" fill="url(#st)"/>
<circle cx="301.9" cy="482.7" r="5.9" fill="url(#st)"/>
<circle cx="361.9" cy="506.4" r="5.9" fill="url(#st)"/>
<circle cx="296.2" cy="426.9" r="5.9" fill="url(#st)"/>
<circle cx="317.9" cy="480.4" r="5.9" fill="url(#st)"/>
<circle cx="331.3" cy="521.9" r="5.9" fill="url(#st)"/>
<circle cx="328.4" cy="472.2" r="5.9" fill="url(#st)"/>
<circle cx="377.6" cy="521.7" r="5.9" fill="url(#st)"/>
<circle cx="327.3" cy="481.5" r="5.9" fill="url(#st)"/>
<circle cx="350.4" cy="512.4" r="5.9" fill="url(#st)"/>
<circle cx="325.2" cy="504.8" r="5.9" fill="url(#st)"/>
<circle cx="241.5" cy="514" r="5.9" fill="url(#st)"/>
<circle cx="320.4" cy="513.2" r="5.9" fill="url(#st)"/>
<circle cx="369.5" cy="522.3" r="5.9" fill="url(#st)"/>
<circle cx="351.6" cy="490.3" r="5.9" fill="url(#st)"/>
<circle cx="320.6" cy="506.4" r="5.9" fill="url(#st)"/>
<circle cx="358.4" cy="507.7" r="5.9" fill="url(#st)"/>
<circle cx="191.2" cy="456.1" r="5.9" fill="url(#st)"/>
<circle cx="375" cy="522.3" r="5.9" fill="url(#st)"/>
<circle cx="206.4" cy="367.1" r="5.9" fill="url(#st)"/>
<circle cx="335.3" cy="518.7" r="5.9" fill="url(#st)"/>
<circle cx="200.5" cy="481.3" r="5.9" fill="url(#st)"/>
<circle cx="324.5" cy="492.2" r="5.9" fill="url(#st)"/>
<circle cx="313.3" cy="522.4" r="5.9" fill="url(#st)"/>
<circle cx="248.8" cy="502.8" r="5.9" fill="url(#st)"/>
<circle cx="378.7" cy="521.6" r="5.9" fill="url(#st)"/>
<circle cx="376.2" cy="522.6" r="5.9" fill="url(#st)"/>
<circle cx="359.6" cy="503.9" r="5.9" fill="url(#st)"/>
<circle cx="209.7" cy="402.9" r="5.9" fill="url(#st)"/>
<circle cx="368.9" cy="520.6" r="5.9" fill="url(#st)"/>
<circle cx="346.3" cy="508.8" r="5.9" fill="url(#st)"/>
<circle cx="284.6" cy="430.4" r="5.9" fill="url(#st)"/>
<circle cx="320.3" cy="480.6" r="5.9" fill="url(#st)"/>
<circle cx="316" cy="469.1" r="5.9" fill="url(#st)"/>
<circle cx="335.6" cy="505.9" r="5.9" fill="url(#st)"/>
<circle cx="310.2" cy="522.1" r="5.9" fill="url(#st)"/>
<circle cx="296" cy="440.9" r="5.9" fill="url(#st)"/>
<circle cx="261.6" cy="446.3" r="5.9" fill="url(#st)"/>
<circle cx="252.3" cy="365.5" r="5.9" fill="url(#st)"/>
<circle cx="285.4" cy="448" r="5.9" fill="url(#st)"/>
<circle cx="273.4" cy="375.3" r="5.9" fill="url(#st)"/>
<circle cx="356.1" cy="515" r="5.9" fill="url(#st)"/>
<circle cx="350.6" cy="498.9" r="5.9" fill="url(#st)"/>
<circle cx="348.4" cy="495.6" r="5.9" fill="url(#st)"/>
<circle cx="368.4" cy="522.7" r="5.9" fill="url(#st)"/>
<circle cx="344.4" cy="483.8" r="5.9" fill="url(#st)"/>
<circle cx="293.9" cy="428.9" r="5.9" fill="url(#st)"/>
<circle cx="356.3" cy="510.9" r="5.9" fill="url(#st)"/>
<circle cx="289.4" cy="444.9" r="5.9" fill="url(#st)"/>
<circle cx="251.4" cy="484" r="5.9" fill="url(#st)"/>
<circle cx="355.6" cy="510.9" r="5.9" fill="url(#st)"/>
<circle cx="302.4" cy="510.7" r="5.9" fill="url(#st)"/>
<circle cx="250.4" cy="456.9" r="5.9" fill="url(#st)"/>
<circle cx="332.7" cy="514.6" r="5.9" fill="url(#st)"/>
<circle cx="341.8" cy="479.6" r="5.9" fill="url(#st)"/>
<circle cx="333.8" cy="518.9" r="5.9" fill="url(#st)"/>
<circle cx="344.6" cy="518.1" r="5.9" fill="url(#st)"/>
<circle cx="283.8" cy="505.6" r="5.9" fill="url(#st)"/>
<circle cx="334.3" cy="491.7" r="5.9" fill="url(#st)"/>
<circle cx="343.7" cy="520.9" r="5.9" fill="url(#st)"/>
<circle cx="296.4" cy="522.4" r="5.9" fill="url(#st)"/>
<circle cx="316.9" cy="503.5" r="5.9" fill="url(#st)"/>
<circle cx="243.7" cy="470.9" r="5.9" fill="url(#st)"/>
<circle cx="326.6" cy="494.9" r="5.9" fill="url(#st)"/>
<circle cx="304.1" cy="474.6" r="5.9" fill="url(#st)"/>
<circle cx="356.6" cy="514.2" r="5.9" fill="url(#st)"/>
<circle cx="343.4" cy="484" r="5.9" fill="url(#st)"/>
<circle cx="241.2" cy="521.1" r="5.9" fill="url(#st)"/>
<circle cx="336.1" cy="500.1" r="5.9" fill="url(#st)"/>
<circle cx="253.5" cy="430.8" r="5.9" fill="url(#st)"/>
<circle cx="318.8" cy="504" r="5.9" fill="url(#st)"/>
<circle cx="293.9" cy="513.6" r="5.9" fill="url(#st)"/>
<circle cx="268.5" cy="404.7" r="5.9" fill="url(#st)"/>
<circle cx="297.4" cy="520.4" r="5.9" fill="url(#st)"/>
<circle cx="286" cy="502.3" r="5.9" fill="url(#st)"/>
<circle cx="271" cy="511.5" r="5.9" fill="url(#st)"/>
<circle cx="374.5" cy="521" r="5.9" fill="url(#st)"/>
<circle cx="351.5" cy="508.9" r="5.9" fill="url(#st)"/>
<circle cx="194.9" cy="269.4" r="5.9" fill="url(#st)"/>
<circle cx="279.6" cy="519.4" r="5.9" fill="url(#st)"/>
<circle cx="252.8" cy="498.9" r="5.9" fill="url(#st)"/>
<circle cx="326.3" cy="513" r="5.9" fill="url(#st)"/>
<circle cx="328.1" cy="478.4" r="5.9" fill="url(#st)"/>
<circle cx="331.4" cy="457.5" r="5.9" fill="url(#st)"/>
<circle cx="356.8" cy="520.1" r="5.9" fill="url(#st)"/>
<circle cx="307.8" cy="509.6" r="5.9" fill="url(#st)"/>
<circle cx="322.1" cy="464.2" r="5.9" fill="url(#st)"/>
<circle cx="287.5" cy="437.9" r="5.9" fill="url(#st)"/>
<circle cx="188.8" cy="451.9" r="5.9" fill="url(#st)"/>
<circle cx="355.1" cy="518.6" r="5.9" fill="url(#st)"/>
<circle cx="304.5" cy="522.4" r="5.9" fill="url(#st)"/>
<circle cx="185.6" cy="398.6" r="5.9" fill="url(#st)"/>
<circle cx="240.6" cy="491.6" r="5.9" fill="url(#st)"/>
<circle cx="266.5" cy="520.3" r="5.9" fill="url(#st)"/>
<circle cx="322.6" cy="498.7" r="5.9" fill="url(#st)"/>
<circle cx="280.7" cy="479.3" r="5.9" fill="url(#st)"/>
<circle cx="383.3" cy="520.2" r="5.9" fill="url(#st)"/>
<circle cx="328" cy="514.2" r="5.9" fill="url(#st)"/>
<circle cx="365.1" cy="519.3" r="5.9" fill="url(#st)"/>
<circle cx="273.1" cy="512.2" r="5.9" fill="url(#st)"/>
<circle cx="318.5" cy="476" r="5.9" fill="url(#st)"/>
<circle cx="285.8" cy="455.8" r="5.9" fill="url(#st)"/>
<circle cx="338.4" cy="521.2" r="5.9" fill="url(#st)"/>
<circle cx="285" cy="520.2" r="5.9" fill="url(#st)"/>
<circle cx="378.7" cy="522.2" r="5.9" fill="url(#st)"/>
<circle cx="205.6" cy="402.7" r="5.9" fill="url(#st)"/>
<circle cx="205.9" cy="473.8" r="5.9" fill="url(#st)"/>
<circle cx="289.2" cy="522.6" r="5.9" fill="url(#st)"/>
<circle cx="284.1" cy="424.2" r="5.9" fill="url(#st)"/>
<circle cx="312.8" cy="439.3" r="5.9" fill="url(#st)"/>
<circle cx="351.5" cy="493" r="5.9" fill="url(#st)"/>
<circle cx="380.8" cy="519.8" r="5.9" fill="url(#st)"/>
<circle cx="236.4" cy="520.4" r="5.9" fill="url(#st)"/>
<circle cx="345.7" cy="498.2" r="5.9" fill="url(#st)"/>
<circle cx="381" cy="517.9" r="5.9" fill="url(#st)"/>
<circle cx="271.6" cy="421.3" r="5.9" fill="url(#st)"/>
<circle cx="270" cy="400.9" r="5.9" fill="url(#st)"/>
<circle cx="299.7" cy="422" r="5.9" fill="url(#st)"/>
<circle cx="369.3" cy="520.4" r="5.9" fill="url(#st)"/>
<circle cx="365.2" cy="522" r="5.9" fill="url(#st)"/>
<circle cx="369" cy="514.9" r="5.9" fill="url(#st)"/>
<circle cx="307.7" cy="522.7" r="5.9" fill="url(#st)"/>
<circle cx="269.6" cy="506.8" r="5.9" fill="url(#st)"/>
<circle cx="300.5" cy="509" r="5.9" fill="url(#st)"/>
<circle cx="382" cy="515.6" r="5.9" fill="url(#st)"/>
<circle cx="356.9" cy="496.4" r="5.9" fill="url(#st)"/>
<circle cx="276.6" cy="474.8" r="5.9" fill="url(#st)"/>
<circle cx="296.1" cy="457.8" r="5.9" fill="url(#st)"/>
<circle cx="341.7" cy="476.1" r="5.9" fill="url(#st)"/>
<circle cx="351.1" cy="517.7" r="5.9" fill="url(#st)"/>
<circle cx="255" cy="522.4" r="5.9" fill="url(#st)"/>
<circle cx="249.8" cy="444.4" r="5.9" fill="url(#st)"/>
<circle cx="296.4" cy="444.2" r="5.9" fill="url(#st)"/>
<circle cx="255.4" cy="460.8" r="5.9" fill="url(#st)"/>
<circle cx="358.5" cy="522.6" r="5.9" fill="url(#st)"/>
<circle cx="338" cy="513" r="5.9" fill="url(#st)"/>
<circle cx="230.8" cy="395" r="5.9" fill="url(#st)"/>
<circle cx="359.4" cy="518.6" r="5.9" fill="url(#st)"/>
<circle cx="346.9" cy="487" r="5.9" fill="url(#st)"/>
<circle cx="329.7" cy="503.7" r="5.9" fill="url(#st)"/>
<circle cx="308.9" cy="467.9" r="5.9" fill="url(#st)"/>
<circle cx="327.6" cy="466.1" r="5.9" fill="url(#st)"/>
<circle cx="320.7" cy="522.6" r="5.9" fill="url(#st)"/>
<circle cx="186.7" cy="414.4" r="5.9" fill="url(#st)"/>
<circle cx="330.9" cy="488.2" r="5.9" fill="url(#st)"/>
<circle cx="333.2" cy="485.2" r="5.9" fill="url(#st)"/>
<circle cx="313" cy="478.6" r="5.9" fill="url(#st)"/>
<circle cx="247.6" cy="419.7" r="5.9" fill="url(#st)"/>
<circle cx="346.9" cy="522.1" r="5.9" fill="url(#st)"/>
<circle cx="284.3" cy="519" r="5.9" fill="url(#st)"/>
<circle cx="328.5" cy="506.8" r="5.9" fill="url(#st)"/>
<circle cx="314.3" cy="522.4" r="5.9" fill="url(#st)"/>
<circle cx="255.9" cy="489.8" r="5.9" fill="url(#st)"/>
<circle cx="367.1" cy="511" r="5.9" fill="url(#st)"/>
<circle cx="335.3" cy="518.5" r="5.9" fill="url(#st)"/>
<circle cx="350.1" cy="517.9" r="5.9" fill="url(#st)"/>
<circle cx="292.3" cy="515.1" r="5.9" fill="url(#st)"/>
<circle cx="314.8" cy="517.2" r="5.9" fill="url(#st)"/>
<circle cx="242.4" cy="460.1" r="5.9" fill="url(#st)"/>
<circle cx="371.5" cy="516.8" r="5.9" fill="url(#st)"/>
<circle cx="226.7" cy="515.1" r="5.9" fill="url(#st)"/>
<circle cx="342" cy="521.6" r="5.9" fill="url(#st)"/>
<circle cx="209" cy="489.8" r="5.9" fill="url(#st)"/>
<circle cx="316.6" cy="516.3" r="5.9" fill="url(#st)"/>
<circle cx="385" cy="522.3" r="5.9" fill="url(#st)"/>
<circle cx="307.9" cy="519.7" r="5.9" fill="url(#st)"/>
<circle cx="298.9" cy="453.3" r="5.9" fill="url(#st)"/>
<circle cx="184.8" cy="521.5" r="5.9" fill="url(#st)"/>
<circle cx="257.4" cy="373.1" r="5.9" fill="url(#st)"/>
<circle cx="363.3" cy="512" r="5.9" fill="url(#st)"/>
<circle cx="365.2" cy="521.3" r="5.9" fill="url(#st)"/>
<circle cx="312.3" cy="490.5" r="5.9" fill="url(#st)"/>
<circle cx="200.5" cy="474.9" r="5.9" fill="url(#st)"/>
<circle cx="359.6" cy="520.9" r="5.9" fill="url(#st)"/>
<circle cx="303.4" cy="517.5" r="5.9" fill="url(#st)"/>
<circle cx="311.8" cy="497.4" r="5.9" fill="url(#st)"/>
<circle cx="348.3" cy="516.4" r="5.9" fill="url(#st)"/>
<circle cx="374.9" cy="510.4" r="5.9" fill="url(#st)"/>
<circle cx="330.5" cy="514.4" r="5.9" fill="url(#st)"/>
<circle cx="257.4" cy="355.2" r="5.9" fill="url(#st)"/>
<circle cx="369.9" cy="518.7" r="5.9" fill="url(#st)"/>
<circle cx="260.9" cy="391.2" r="5.9" fill="url(#st)"/>
<circle cx="325" cy="481.1" r="5.9" fill="url(#st)"/>
<circle cx="308.2" cy="519.6" r="5.9" fill="url(#st)"/>
<circle cx="374.5" cy="522.3" r="5.9" fill="url(#st)"/>
<circle cx="348.6" cy="492.5" r="5.9" fill="url(#st)"/>
<circle cx="346.6" cy="509" r="5.9" fill="url(#st)"/>
<circle cx="373.2" cy="520.8" r="5.9" fill="url(#st)"/>
<circle cx="264.5" cy="420" r="5.9" fill="url(#st)"/>
<circle cx="337.3" cy="496.6" r="5.9" fill="url(#st)"/>
<circle cx="288" cy="447.8" r="5.9" fill="url(#st)"/>
<circle cx="221.6" cy="444.8" r="5.9" fill="url(#st)"/>
<circle cx="300.1" cy="501.8" r="5.9" fill="url(#st)"/>
<circle cx="356.5" cy="494.6" r="5.9" fill="url(#st)"/>
<circle cx="310.8" cy="511" r="5.9" fill="url(#st)"/>
<circle cx="302.9" cy="449.5" r="5.9" fill="url(#st)"/>
<circle cx="323.9" cy="518.8" r="5.9" fill="url(#st)"/>
<circle cx="323.2" cy="522.7" r="5.9" fill="url(#st)"/>
<circle cx="330.6" cy="521.7" r="5.9" fill="url(#st)"/>
<circle cx="269.3" cy="425.6" r="5.9" fill="url(#st)"/>
<circle cx="329.6" cy="464.7" r="5.9" fill="url(#st)"/>
<circle cx="272" cy="497.5" r="5.9" fill="url(#st)"/>
<circle cx="258.9" cy="366.1" r="5.9" fill="url(#st)"/>
<circle cx="373.2" cy="508" r="5.9" fill="url(#st)"/>
<circle cx="265.9" cy="439" r="5.9" fill="url(#st)"/>
<circle cx="282.3" cy="497.9" r="5.9" fill="url(#st)"/>
<circle cx="378.9" cy="521.6" r="5.9" fill="url(#st)"/>
<circle cx="374.9" cy="519.7" r="5.9" fill="url(#st)"/>
<circle cx="325.2" cy="493.8" r="5.9" fill="url(#st)"/>
<circle cx="320.3" cy="520" r="5.9" fill="url(#st)"/>
<circle cx="371.7" cy="516.8" r="5.9" fill="url(#st)"/>
<circle cx="313.6" cy="519.6" r="5.9" fill="url(#st)"/>
<circle cx="329.7" cy="522.6" r="5.9" fill="url(#st)"/>
<circle cx="207.6" cy="265.4" r="5.9" fill="url(#st)"/>
<circle cx="299.3" cy="506.4" r="5.9" fill="url(#st)"/>
<circle cx="261.8" cy="372.1" r="5.9" fill="url(#st)"/>
<circle cx="378.5" cy="519.1" r="5.9" fill="url(#st)"/>
<circle cx="341.1" cy="518.3" r="5.9" fill="url(#st)"/>
<circle cx="364.8" cy="522.4" r="5.9" fill="url(#st)"/>
<circle cx="347.8" cy="519.7" r="5.9" fill="url(#st)"/>
<circle cx="358.3" cy="515.3" r="5.9" fill="url(#st)"/>
<circle cx="280.8" cy="520.9" r="5.9" fill="url(#st)"/>
<circle cx="326.8" cy="455.5" r="5.9" fill="url(#st)"/>
<circle cx="305.8" cy="477.8" r="5.9" fill="url(#st)"/>
<circle cx="370" cy="522" r="5.9" fill="url(#st)"/>
<circle cx="237.9" cy="466.5" r="5.9" fill="url(#st)"/>
<circle cx="356.3" cy="494.4" r="5.9" fill="url(#st)"/>
<circle cx="258.8" cy="503.6" r="5.9" fill="url(#st)"/>
<circle cx="366.1" cy="506.1" r="5.9" fill="url(#st)"/>
<circle cx="313.6" cy="496" r="5.9" fill="url(#st)"/>
<circle cx="364.4" cy="500.1" r="5.9" fill="url(#st)"/>
<circle cx="328.3" cy="456.4" r="5.9" fill="url(#st)"/>
<circle cx="336.9" cy="490.1" r="5.9" fill="url(#st)"/>
<circle cx="234.2" cy="517.8" r="5.9" fill="url(#st)"/>
<circle cx="339.9" cy="468.6" r="5.9" fill="url(#st)"/>
<circle cx="259.1" cy="453.1" r="5.9" fill="url(#st)"/>
<circle cx="290.1" cy="467.3" r="5.9" fill="url(#st)"/>
<circle cx="316.3" cy="463.7" r="5.9" fill="url(#st)"/>
<circle cx="343.1" cy="522.7" r="5.9" fill="url(#st)"/>
<circle cx="213.3" cy="471.6" r="5.9" fill="url(#st)"/>
<circle cx="303.1" cy="485.4" r="5.9" fill="url(#st)"/>
<circle cx="347.9" cy="510.4" r="5.9" fill="url(#st)"/>
<circle cx="294" cy="417.5" r="5.9" fill="url(#st)"/>
<circle cx="357.3" cy="512.8" r="5.9" fill="url(#st)"/>
<circle cx="323.1" cy="446.1" r="5.9" fill="url(#st)"/>
<circle cx="326.6" cy="464.5" r="5.9" fill="url(#st)"/>
<circle cx="233.1" cy="340.2" r="5.9" fill="url(#st)"/>
<circle cx="245.7" cy="419.3" r="5.9" fill="url(#st)"/>
<circle cx="378.1" cy="520.3" r="5.9" fill="url(#st)"/>
<circle cx="319.1" cy="440.6" r="5.9" fill="url(#st)"/>
<circle cx="361.9" cy="510.5" r="5.9" fill="url(#st)"/>
<circle cx="375.5" cy="518.9" r="5.9" fill="url(#st)"/>
<circle cx="241.3" cy="515.4" r="5.9" fill="url(#st)"/>
<circle cx="334.9" cy="522.6" r="5.9" fill="url(#st)"/>
<circle cx="336" cy="466.5" r="5.9" fill="url(#st)"/>
<circle cx="302.6" cy="515.4" r="5.9" fill="url(#st)"/>
<circle cx="370" cy="511" r="5.9" fill="url(#st)"/>
<circle cx="294.1" cy="455.1" r="5.9" fill="url(#st)"/>
<circle cx="275.4" cy="505.9" r="5.9" fill="url(#st)"/>
<circle cx="294.6" cy="522.6" r="5.9" fill="url(#st)"/>
<circle cx="344.9" cy="482.2" r="5.9" fill="url(#st)"/>
<circle cx="332" cy="474.5" r="5.9" fill="url(#st)"/>
<circle cx="260.4" cy="522.6" r="5.9" fill="url(#st)"/>
<circle cx="363.8" cy="519.4" r="5.9" fill="url(#st)"/>
<circle cx="369.6" cy="522.4" r="5.9" fill="url(#st)"/>
<circle cx="370.2" cy="519.7" r="5.9" fill="url(#st)"/>
<circle cx="337.3" cy="520.2" r="5.9" fill="url(#st)"/>
<circle cx="361.4" cy="518.7" r="5.9" fill="url(#st)"/>
<circle cx="363.8" cy="505.4" r="5.9" fill="url(#st)"/>
<circle cx="212.5" cy="280.5" r="5.9" fill="url(#st)"/>
<circle cx="282.1" cy="416.3" r="5.9" fill="url(#st)"/>
<circle cx="362.7" cy="522.5" r="5.9" fill="url(#st)"/>
<circle cx="351.6" cy="512.1" r="5.9" fill="url(#st)"/>
<circle cx="334.1" cy="520.5" r="5.9" fill="url(#st)"/>
<circle cx="312" cy="521.9" r="5.9" fill="url(#st)"/>
<circle cx="285.8" cy="457.1" r="5.9" fill="url(#st)"/>
<circle cx="343.8" cy="485" r="5.9" fill="url(#st)"/>
<circle cx="300.5" cy="421.5" r="5.9" fill="url(#st)"/>
<circle cx="251.6" cy="363.4" r="5.9" fill="url(#st)"/>
<circle cx="297.2" cy="440.3" r="5.9" fill="url(#st)"/>
<circle cx="267.7" cy="483.3" r="5.9" fill="url(#st)"/>
<circle cx="351" cy="522.4" r="5.9" fill="url(#st)"/>
<circle cx="233.8" cy="514.3" r="5.9" fill="url(#st)"/>
<circle cx="330.9" cy="456.9" r="5.9" fill="url(#st)"/>
<circle cx="373.2" cy="522.7" r="5.9" fill="url(#st)"/>
<circle cx="284.8" cy="502" r="5.9" fill="url(#st)"/>
<circle cx="288.3" cy="496.7" r="5.9" fill="url(#st)"/>
<circle cx="344.7" cy="514.4" r="5.9" fill="url(#st)"/>
<circle cx="352.8" cy="498.9" r="5.9" fill="url(#st)"/>
<circle cx="299.3" cy="508.8" r="5.9" fill="url(#st)"/>
<circle cx="351.2" cy="507.6" r="5.9" fill="url(#st)"/>
<circle cx="251.3" cy="514.6" r="5.9" fill="url(#st)"/>
<circle cx="181.9" cy="443.9" r="5.9" fill="url(#st)"/>
<circle cx="215.4" cy="270.7" r="5.9" fill="url(#st)"/>
<circle cx="337" cy="513.4" r="5.9" fill="url(#st)"/>
<circle cx="324.8" cy="506.4" r="5.9" fill="url(#st)"/>
<circle cx="327.7" cy="498.6" r="5.9" fill="url(#st)"/>
<circle cx="257.7" cy="485.4" r="5.9" fill="url(#st)"/>
<circle cx="300.7" cy="522.7" r="5.9" fill="url(#st)"/>
<circle cx="366.3" cy="518.8" r="5.9" fill="url(#st)"/>
<circle cx="308.6" cy="519.7" r="5.9" fill="url(#st)"/>
<circle cx="342.7" cy="518.4" r="5.9" fill="url(#st)"/>
<circle cx="334.1" cy="518" r="5.9" fill="url(#st)"/>
<circle cx="369.5" cy="522.6" r="5.9" fill="url(#st)"/>
<circle cx="359.6" cy="519.4" r="5.9" fill="url(#st)"/>
<circle cx="347.1" cy="496.6" r="5.9" fill="url(#st)"/>
<circle cx="250.9" cy="479" r="5.9" fill="url(#st)"/>
<circle cx="227.4" cy="394.2" r="5.9" fill="url(#st)"/>
<circle cx="309.8" cy="496.7" r="5.9" fill="url(#st)"/>
<circle cx="288.4" cy="398.9" r="5.9" fill="url(#st)"/>
<circle cx="275.5" cy="490.6" r="5.9" fill="url(#st)"/>
<circle cx="380.3" cy="515.9" r="5.9" fill="url(#st)"/>
<circle cx="286.1" cy="441.9" r="5.9" fill="url(#st)"/>
<circle cx="335.7" cy="478.7" r="5.9" fill="url(#st)"/>
<circle cx="232.2" cy="363.1" r="5.9" fill="url(#st)"/>
<circle cx="350" cy="518.8" r="5.9" fill="url(#st)"/>
<circle cx="315.9" cy="516.9" r="5.9" fill="url(#st)"/>
<circle cx="312.3" cy="438.9" r="5.9" fill="url(#st)"/>
<circle cx="353.2" cy="509.4" r="5.9" fill="url(#st)"/>
<circle cx="358.5" cy="521.5" r="5.9" fill="url(#st)"/>
<circle cx="357.8" cy="492.7" r="5.9" fill="url(#st)"/>
<circle cx="310.3" cy="517.8" r="5.9" fill="url(#st)"/>
<circle cx="290.9" cy="501.6" r="5.9" fill="url(#st)"/>
<circle cx="233.7" cy="343.8" r="5.9" fill="url(#st)"/>
<circle cx="281.8" cy="506.7" r="5.9" fill="url(#st)"/>
<circle cx="277.4" cy="514.8" r="5.9" fill="url(#st)"/>
<circle cx="373.6" cy="510" r="5.9" fill="url(#st)"/>
<circle cx="230.9" cy="466.3" r="5.9" fill="url(#st)"/>
<circle cx="349.4" cy="515.2" r="5.9" fill="url(#st)"/>
<circle cx="304.8" cy="507" r="5.9" fill="url(#st)"/>
<circle cx="375.6" cy="514.2" r="5.9" fill="url(#st)"/>
<circle cx="368.6" cy="512.6" r="5.9" fill="url(#st)"/>
<circle cx="297.5" cy="447.3" r="5.9" fill="url(#st)"/>
<circle cx="300.4" cy="443.6" r="5.9" fill="url(#st)"/>
<circle cx="273.5" cy="472.8" r="5.9" fill="url(#st)"/>
<circle cx="342.4" cy="517.9" r="5.9" fill="url(#st)"/>
<circle cx="317.3" cy="518.9" r="5.9" fill="url(#st)"/>
<circle cx="327.2" cy="510.4" r="5.9" fill="url(#st)"/>
<circle cx="255.9" cy="486.4" r="5.9" fill="url(#st)"/>
<circle cx="344.1" cy="483.9" r="5.9" fill="url(#st)"/>
<circle cx="279.9" cy="508.3" r="5.9" fill="url(#st)"/>
<circle cx="309.7" cy="459.3" r="5.9" fill="url(#st)"/>
<circle cx="182.3" cy="370.2" r="5.9" fill="url(#st)"/>
<circle cx="381.7" cy="517.2" r="5.9" fill="url(#st)"/>
<circle cx="296.1" cy="495.8" r="5.9" fill="url(#st)"/>
<circle cx="355.1" cy="494" r="5.9" fill="url(#st)"/>
<circle cx="337.4" cy="475.6" r="5.9" fill="url(#st)"/>
<circle cx="319" cy="478.4" r="5.9" fill="url(#st)"/>
<circle cx="300.1" cy="469.8" r="5.9" fill="url(#st)"/>
<circle cx="340.7" cy="522.4" r="5.9" fill="url(#st)"/>
<circle cx="294.3" cy="491.8" r="5.9" fill="url(#st)"/>
<circle cx="315.1" cy="492.7" r="5.9" fill="url(#st)"/>
<circle cx="376.8" cy="518.3" r="5.9" fill="url(#st)"/>
<circle cx="292.8" cy="522.6" r="5.9" fill="url(#st)"/>
<circle cx="326.9" cy="490" r="5.9" fill="url(#st)"/>
<circle cx="242.6" cy="506.6" r="5.9" fill="url(#st)"/>
<circle cx="337.1" cy="522.7" r="5.9" fill="url(#st)"/>
<circle cx="281.6" cy="467" r="5.9" fill="url(#st)"/>
<circle cx="334.9" cy="466.9" r="5.9" fill="url(#st)"/>
<circle cx="372.6" cy="522.5" r="5.9" fill="url(#st)"/>
<circle cx="243.8" cy="509.5" r="5.9" fill="url(#st)"/>
<circle cx="310.7" cy="508.9" r="5.9" fill="url(#st)"/>
<circle cx="280.8" cy="499" r="5.9" fill="url(#st)"/>
<circle cx="252.4" cy="469.2" r="5.9" fill="url(#st)"/>
<circle cx="333.7" cy="482.8" r="5.9" fill="url(#st)"/>
<circle cx="254.8" cy="367.2" r="5.9" fill="url(#st)"/>
<circle cx="235.6" cy="351" r="5.9" fill="url(#st)"/>
<circle cx="345.6" cy="513.7" r="5.9" fill="url(#st)"/>
<circle cx="382.2" cy="518.2" r="5.9" fill="url(#st)"/>
<circle cx="343.9" cy="518.8" r="5.9" fill="url(#st)"/>
<circle cx="317.6" cy="509.9" r="5.9" fill="url(#st)"/>
<circle cx="319.4" cy="521.8" r="5.9" fill="url(#st)"/>
<circle cx="338" cy="506" r="5.9" fill="url(#st)"/>
<circle cx="367.4" cy="521.8" r="5.9" fill="url(#st)"/>
<circle cx="332.8" cy="504" r="5.9" fill="url(#st)"/>
<circle cx="148.4" cy="137.4" r="5.9" fill="url(#st)"/>
<circle cx="154.5" cy="221.7" r="5.9" fill="url(#st)"/>
<circle cx="133.3" cy="223.1" r="5.9" fill="url(#st)"/>
<circle cx="192.3" cy="230.2" r="5.9" fill="url(#st)"/>
<circle cx="190.8" cy="245.8" r="5.9" fill="url(#st)"/>
<circle cx="169.6" cy="253.6" r="5.9" fill="url(#st)"/>
<circle cx="215" cy="265.6" r="5.9" fill="url(#st)"/>
<circle cx="199.9" cy="273.4" r="5.9" fill="url(#st)"/>
<circle cx="219.5" cy="273.4" r="5.9" fill="url(#st)"/>
<circle cx="252.8" cy="303.8" r="5.9" fill="url(#st)"/>
<circle cx="133.3" cy="329.3" r="5.9" fill="url(#st)"/>
<circle cx="189.3" cy="333.6" r="5.9" fill="url(#st)"/>
<circle cx="207.4" cy="327.9" r="5.9" fill="url(#st)"/>
<circle cx="124.2" cy="381" r="5.9" fill="url(#st)"/>
<circle cx="151.5" cy="394.5" r="5.9" fill="url(#st)"/>
<circle cx="184.7" cy="405.1" r="5.9" fill="url(#st)"/>
<circle cx="140.9" cy="415" r="5.9" fill="url(#st)"/>
<circle cx="142.4" cy="436.3" r="5.9" fill="url(#st)"/>
<circle cx="140.9" cy="492.3" r="5.9" fill="url(#st)"/>
<circle cx="124.2" cy="501.5" r="5.9" fill="url(#st)"/>
<circle cx="174.2" cy="506.4" r="5.9" fill="url(#st)"/>
<circle cx="621" cy="394.7" r="5.9" fill="url(#sr)"/>
<circle cx="495.3" cy="521.9" r="5.9" fill="url(#sr)"/>
<circle cx="629.5" cy="401.5" r="5.9" fill="url(#sr)"/>
<circle cx="542.3" cy="436.9" r="5.9" fill="url(#sr)"/>
<circle cx="571" cy="448.2" r="5.9" fill="url(#sr)"/>
<circle cx="542.4" cy="510.2" r="5.9" fill="url(#sr)"/>
<circle cx="597.2" cy="352" r="5.9" fill="url(#sr)"/>
<circle cx="667.4" cy="489.2" r="5.9" fill="url(#sr)"/>
<circle cx="480" cy="517.6" r="5.9" fill="url(#sr)"/>
<circle cx="522.5" cy="498" r="5.9" fill="url(#sr)"/>
<circle cx="534.4" cy="458.5" r="5.9" fill="url(#sr)"/>
<circle cx="569.5" cy="411.5" r="5.9" fill="url(#sr)"/>
<circle cx="556.4" cy="458.8" r="5.9" fill="url(#sr)"/>
<circle cx="499.4" cy="509.5" r="5.9" fill="url(#sr)"/>
<circle cx="630.8" cy="515.5" r="5.9" fill="url(#sr)"/>
<circle cx="570.5" cy="506.8" r="5.9" fill="url(#sr)"/>
<circle cx="589.7" cy="382.6" r="5.9" fill="url(#sr)"/>
<circle cx="476.7" cy="517.1" r="5.9" fill="url(#sr)"/>
<circle cx="504.3" cy="521.3" r="5.9" fill="url(#sr)"/>
<circle cx="560.9" cy="447.9" r="5.9" fill="url(#sr)"/>
<circle cx="616.5" cy="522.7" r="5.9" fill="url(#sr)"/>
<circle cx="712.1" cy="393.3" r="5.9" fill="url(#sr)"/>
<circle cx="504.8" cy="498.5" r="5.9" fill="url(#sr)"/>
<circle cx="572.5" cy="458.2" r="5.9" fill="url(#sr)"/>
<circle cx="625.4" cy="509.7" r="5.9" fill="url(#sr)"/>
<circle cx="569.5" cy="522.2" r="5.9" fill="url(#sr)"/>
<circle cx="515.8" cy="521.5" r="5.9" fill="url(#sr)"/>
<circle cx="499.7" cy="518.4" r="5.9" fill="url(#sr)"/>
<circle cx="520.8" cy="517.5" r="5.9" fill="url(#sr)"/>
<circle cx="550.2" cy="433" r="5.9" fill="url(#sr)"/>
<circle cx="587.9" cy="499.7" r="5.9" fill="url(#sr)"/>
<circle cx="526.9" cy="515.1" r="5.9" fill="url(#sr)"/>
<circle cx="496.9" cy="522.7" r="5.9" fill="url(#sr)"/>
<circle cx="553.3" cy="491.5" r="5.9" fill="url(#sr)"/>
<circle cx="592.5" cy="462.1" r="5.9" fill="url(#sr)"/>
<circle cx="493" cy="510.1" r="5.9" fill="url(#sr)"/>
<circle cx="476.3" cy="522.7" r="5.9" fill="url(#sr)"/>
<circle cx="555.6" cy="416.1" r="5.9" fill="url(#sr)"/>
<circle cx="567.2" cy="511.5" r="5.9" fill="url(#sr)"/>
<circle cx="515.9" cy="506.7" r="5.9" fill="url(#sr)"/>
<circle cx="525.2" cy="479.5" r="5.9" fill="url(#sr)"/>
<circle cx="527.9" cy="498.7" r="5.9" fill="url(#sr)"/>
<circle cx="485.6" cy="520.1" r="5.9" fill="url(#sr)"/>
<circle cx="507.5" cy="520.8" r="5.9" fill="url(#sr)"/>
<circle cx="508.7" cy="517.1" r="5.9" fill="url(#sr)"/>
<circle cx="489.9" cy="522.3" r="5.9" fill="url(#sr)"/>
<circle cx="507.2" cy="515.6" r="5.9" fill="url(#sr)"/>
<circle cx="495.7" cy="521.3" r="5.9" fill="url(#sr)"/>
<circle cx="567.4" cy="513.9" r="5.9" fill="url(#sr)"/>
<circle cx="582.8" cy="516.3" r="5.9" fill="url(#sr)"/>
<circle cx="547.7" cy="457.3" r="5.9" fill="url(#sr)"/>
<circle cx="655.7" cy="480.3" r="5.9" fill="url(#sr)"/>
<circle cx="523.2" cy="520.1" r="5.9" fill="url(#sr)"/>
<circle cx="591.6" cy="508.2" r="5.9" fill="url(#sr)"/>
<circle cx="563" cy="491.9" r="5.9" fill="url(#sr)"/>
<circle cx="514" cy="520.5" r="5.9" fill="url(#sr)"/>
<circle cx="552.4" cy="516.4" r="5.9" fill="url(#sr)"/>
<circle cx="609" cy="443.9" r="5.9" fill="url(#sr)"/>
<circle cx="494.9" cy="504.4" r="5.9" fill="url(#sr)"/>
<circle cx="520.4" cy="498.2" r="5.9" fill="url(#sr)"/>
<circle cx="638.5" cy="519.8" r="5.9" fill="url(#sr)"/>
<circle cx="589" cy="520.5" r="5.9" fill="url(#sr)"/>
<circle cx="500" cy="504.7" r="5.9" fill="url(#sr)"/>
<circle cx="598.1" cy="455" r="5.9" fill="url(#sr)"/>
<circle cx="529.2" cy="450.2" r="5.9" fill="url(#sr)"/>
<circle cx="500.4" cy="521.5" r="5.9" fill="url(#sr)"/>
<circle cx="549.2" cy="510.3" r="5.9" fill="url(#sr)"/>
<circle cx="519" cy="499.8" r="5.9" fill="url(#sr)"/>
<circle cx="555.1" cy="396.2" r="5.9" fill="url(#sr)"/>
<circle cx="559.5" cy="453.7" r="5.9" fill="url(#sr)"/>
<circle cx="485.3" cy="503.2" r="5.9" fill="url(#sr)"/>
<circle cx="647" cy="520.1" r="5.9" fill="url(#sr)"/>
<circle cx="511.7" cy="520.4" r="5.9" fill="url(#sr)"/>
<circle cx="494.2" cy="517" r="5.9" fill="url(#sr)"/>
<circle cx="529.2" cy="424.8" r="5.9" fill="url(#sr)"/>
<circle cx="533.7" cy="522.4" r="5.9" fill="url(#sr)"/>
<circle cx="483.2" cy="522.5" r="5.9" fill="url(#sr)"/>
<circle cx="493.3" cy="522.6" r="5.9" fill="url(#sr)"/>
<circle cx="546.6" cy="402.1" r="5.9" fill="url(#sr)"/>
<circle cx="533.7" cy="513.5" r="5.9" fill="url(#sr)"/>
<circle cx="489.9" cy="488.7" r="5.9" fill="url(#sr)"/>
<circle cx="584.7" cy="393.3" r="5.9" fill="url(#sr)"/>
<circle cx="649" cy="275.1" r="5.9" fill="url(#sr)"/>
<circle cx="618.3" cy="517.5" r="5.9" fill="url(#sr)"/>
<circle cx="547.1" cy="399" r="5.9" fill="url(#sr)"/>
<circle cx="619.7" cy="383" r="5.9" fill="url(#sr)"/>
<circle cx="554.1" cy="509.5" r="5.9" fill="url(#sr)"/>
<circle cx="539.1" cy="489.7" r="5.9" fill="url(#sr)"/>
<circle cx="527.2" cy="485.7" r="5.9" fill="url(#sr)"/>
<circle cx="492.2" cy="486.9" r="5.9" fill="url(#sr)"/>
<circle cx="502.2" cy="516.3" r="5.9" fill="url(#sr)"/>
<circle cx="472.5" cy="522.7" r="5.9" fill="url(#sr)"/>
<circle cx="553.3" cy="468.8" r="5.9" fill="url(#sr)"/>
<circle cx="579.9" cy="409.8" r="5.9" fill="url(#sr)"/>
<circle cx="562.6" cy="382" r="5.9" fill="url(#sr)"/>
<circle cx="563" cy="449" r="5.9" fill="url(#sr)"/>
<circle cx="582.4" cy="513.8" r="5.9" fill="url(#sr)"/>
<circle cx="582.4" cy="354.9" r="5.9" fill="url(#sr)"/>
<circle cx="487.2" cy="522.5" r="5.9" fill="url(#sr)"/>
<circle cx="493.5" cy="516.2" r="5.9" fill="url(#sr)"/>
<circle cx="615" cy="458.5" r="5.9" fill="url(#sr)"/>
<circle cx="499.4" cy="479.3" r="5.9" fill="url(#sr)"/>
<circle cx="527.5" cy="437.8" r="5.9" fill="url(#sr)"/>
<circle cx="493.6" cy="519.5" r="5.9" fill="url(#sr)"/>
<circle cx="487.6" cy="522.7" r="5.9" fill="url(#sr)"/>
<circle cx="518.4" cy="462.1" r="5.9" fill="url(#sr)"/>
<circle cx="534.4" cy="517.1" r="5.9" fill="url(#sr)"/>
<circle cx="503.2" cy="520" r="5.9" fill="url(#sr)"/>
<circle cx="553.6" cy="506.4" r="5.9" fill="url(#sr)"/>
<circle cx="493.6" cy="513" r="5.9" fill="url(#sr)"/>
<circle cx="495.5" cy="522.2" r="5.9" fill="url(#sr)"/>
<circle cx="550.7" cy="470.5" r="5.9" fill="url(#sr)"/>
<circle cx="473.9" cy="519.3" r="5.9" fill="url(#sr)"/>
<circle cx="481.2" cy="503.8" r="5.9" fill="url(#sr)"/>
<circle cx="497" cy="513.2" r="5.9" fill="url(#sr)"/>
<circle cx="642.2" cy="501.5" r="5.9" fill="url(#sr)"/>
<circle cx="596.1" cy="460.1" r="5.9" fill="url(#sr)"/>
<circle cx="589.1" cy="409.3" r="5.9" fill="url(#sr)"/>
<circle cx="513.3" cy="501.9" r="5.9" fill="url(#sr)"/>
<circle cx="559.7" cy="471.8" r="5.9" fill="url(#sr)"/>
<circle cx="488.7" cy="498.5" r="5.9" fill="url(#sr)"/>
<circle cx="597.1" cy="411.2" r="5.9" fill="url(#sr)"/>
<circle cx="489.4" cy="491.7" r="5.9" fill="url(#sr)"/>
<circle cx="544.4" cy="506.7" r="5.9" fill="url(#sr)"/>
<circle cx="592.2" cy="469.8" r="5.9" fill="url(#sr)"/>
<circle cx="465.6" cy="522.4" r="5.9" fill="url(#sr)"/>
<circle cx="510.7" cy="515.5" r="5.9" fill="url(#sr)"/>
<circle cx="514.2" cy="489.8" r="5.9" fill="url(#sr)"/>
<circle cx="637.4" cy="293.9" r="5.9" fill="url(#sr)"/>
<circle cx="556.9" cy="470.7" r="5.9" fill="url(#sr)"/>
<circle cx="540.3" cy="483" r="5.9" fill="url(#sr)"/>
<circle cx="531.3" cy="439.5" r="5.9" fill="url(#sr)"/>
<circle cx="562.2" cy="520.9" r="5.9" fill="url(#sr)"/>
<circle cx="526.6" cy="461.4" r="5.9" fill="url(#sr)"/>
<circle cx="589" cy="501.5" r="5.9" fill="url(#sr)"/>
<circle cx="565.4" cy="447.7" r="5.9" fill="url(#sr)"/>
<circle cx="501.7" cy="509" r="5.9" fill="url(#sr)"/>
<circle cx="521.2" cy="522.7" r="5.9" fill="url(#sr)"/>
<circle cx="615.9" cy="491.8" r="5.9" fill="url(#sr)"/>
<circle cx="632.7" cy="411.2" r="5.9" fill="url(#sr)"/>
<circle cx="602.5" cy="307.3" r="5.9" fill="url(#sr)"/>
<circle cx="595.1" cy="492" r="5.9" fill="url(#sr)"/>
<circle cx="551.5" cy="520.2" r="5.9" fill="url(#sr)"/>
<circle cx="594.4" cy="471.8" r="5.9" fill="url(#sr)"/>
<circle cx="532.7" cy="507.1" r="5.9" fill="url(#sr)"/>
<circle cx="639.9" cy="506.9" r="5.9" fill="url(#sr)"/>
<circle cx="572.1" cy="480.8" r="5.9" fill="url(#sr)"/>
<circle cx="477.1" cy="522.3" r="5.9" fill="url(#sr)"/>
<circle cx="550.1" cy="457.1" r="5.9" fill="url(#sr)"/>
<circle cx="616" cy="355.6" r="5.9" fill="url(#sr)"/>
<circle cx="563.4" cy="399.3" r="5.9" fill="url(#sr)"/>
<circle cx="549.2" cy="512.1" r="5.9" fill="url(#sr)"/>
<circle cx="584.5" cy="492.8" r="5.9" fill="url(#sr)"/>
<circle cx="611.5" cy="491.9" r="5.9" fill="url(#sr)"/>
<circle cx="489.1" cy="521.2" r="5.9" fill="url(#sr)"/>
<circle cx="567.4" cy="520.8" r="5.9" fill="url(#sr)"/>
<circle cx="473.3" cy="513" r="5.9" fill="url(#sr)"/>
<circle cx="672" cy="509.2" r="5.9" fill="url(#sr)"/>
<circle cx="524.3" cy="439.3" r="5.9" fill="url(#sr)"/>
<circle cx="672" cy="333.3" r="5.9" fill="url(#sr)"/>
<circle cx="506.1" cy="509.7" r="5.9" fill="url(#sr)"/>
<circle cx="559.1" cy="519.2" r="5.9" fill="url(#sr)"/>
<circle cx="608.6" cy="516.4" r="5.9" fill="url(#sr)"/>
<circle cx="532.1" cy="505.5" r="5.9" fill="url(#sr)"/>
<circle cx="615.8" cy="416.5" r="5.9" fill="url(#sr)"/>
<circle cx="507.9" cy="505.7" r="5.9" fill="url(#sr)"/>
<circle cx="558.6" cy="422.5" r="5.9" fill="url(#sr)"/>
<circle cx="565.1" cy="481.8" r="5.9" fill="url(#sr)"/>
<circle cx="463.2" cy="520" r="5.9" fill="url(#sr)"/>
<circle cx="508" cy="495.7" r="5.9" fill="url(#sr)"/>
<circle cx="656" cy="411.9" r="5.9" fill="url(#sr)"/>
<circle cx="563.1" cy="365.7" r="5.9" fill="url(#sr)"/>
<circle cx="591.5" cy="521" r="5.9" fill="url(#sr)"/>
<circle cx="578.9" cy="355.8" r="5.9" fill="url(#sr)"/>
<circle cx="551.6" cy="521.7" r="5.9" fill="url(#sr)"/>
<circle cx="594.2" cy="370.6" r="5.9" fill="url(#sr)"/>
<circle cx="565.3" cy="480.1" r="5.9" fill="url(#sr)"/>
<circle cx="559.8" cy="437.9" r="5.9" fill="url(#sr)"/>
<circle cx="494.4" cy="510" r="5.9" fill="url(#sr)"/>
<circle cx="560.2" cy="519.1" r="5.9" fill="url(#sr)"/>
<circle cx="552.7" cy="451.6" r="5.9" fill="url(#sr)"/>
<circle cx="570.7" cy="519.9" r="5.9" fill="url(#sr)"/>
<circle cx="614.1" cy="510" r="5.9" fill="url(#sr)"/>
<circle cx="570.5" cy="446.4" r="5.9" fill="url(#sr)"/>
<circle cx="616.8" cy="521.2" r="5.9" fill="url(#sr)"/>
<circle cx="567.5" cy="454.3" r="5.9" fill="url(#sr)"/>
<circle cx="513.7" cy="464.7" r="5.9" fill="url(#sr)"/>
<circle cx="466.1" cy="516.1" r="5.9" fill="url(#sr)"/>
<circle cx="490.2" cy="515.8" r="5.9" fill="url(#sr)"/>
<circle cx="699.1" cy="88.7" r="5.9" fill="url(#sr)"/>
<circle cx="517.8" cy="457" r="5.9" fill="url(#sr)"/>
<circle cx="550.4" cy="454.9" r="5.9" fill="url(#sr)"/>
<circle cx="483.1" cy="494.2" r="5.9" fill="url(#sr)"/>
<circle cx="621.9" cy="452.4" r="5.9" fill="url(#sr)"/>
<circle cx="536.6" cy="522.2" r="5.9" fill="url(#sr)"/>
<circle cx="495.8" cy="493.2" r="5.9" fill="url(#sr)"/>
<circle cx="610.2" cy="448.7" r="5.9" fill="url(#sr)"/>
<circle cx="518.8" cy="520.7" r="5.9" fill="url(#sr)"/>
<circle cx="475.7" cy="517.7" r="5.9" fill="url(#sr)"/>
<circle cx="600.9" cy="403.2" r="5.9" fill="url(#sr)"/>
<circle cx="487.8" cy="522" r="5.9" fill="url(#sr)"/>
<circle cx="521.7" cy="504.9" r="5.9" fill="url(#sr)"/>
<circle cx="589.9" cy="430.4" r="5.9" fill="url(#sr)"/>
<circle cx="540.9" cy="490.8" r="5.9" fill="url(#sr)"/>
<circle cx="481.6" cy="501.5" r="5.9" fill="url(#sr)"/>
<circle cx="474.8" cy="510.2" r="5.9" fill="url(#sr)"/>
<circle cx="495.8" cy="517.1" r="5.9" fill="url(#sr)"/>
<circle cx="643.1" cy="469.6" r="5.9" fill="url(#sr)"/>
<circle cx="576.5" cy="430.5" r="5.9" fill="url(#sr)"/>
<circle cx="614.4" cy="484.6" r="5.9" fill="url(#sr)"/>
<circle cx="627.1" cy="522.6" r="5.9" fill="url(#sr)"/>
<circle cx="507.8" cy="493.6" r="5.9" fill="url(#sr)"/>
<circle cx="541.6" cy="515.8" r="5.9" fill="url(#sr)"/>
<circle cx="628.5" cy="485" r="5.9" fill="url(#sr)"/>
<circle cx="527.8" cy="510.9" r="5.9" fill="url(#sr)"/>
<circle cx="586.7" cy="372.1" r="5.9" fill="url(#sr)"/>
<circle cx="559.9" cy="421.3" r="5.9" fill="url(#sr)"/>
<circle cx="561.4" cy="513.7" r="5.9" fill="url(#sr)"/>
<circle cx="600" cy="491.4" r="5.9" fill="url(#sr)"/>
<circle cx="563.7" cy="522.5" r="5.9" fill="url(#sr)"/>
<circle cx="593.5" cy="305.9" r="5.9" fill="url(#sr)"/>
<circle cx="567.5" cy="499.3" r="5.9" fill="url(#sr)"/>
<circle cx="582.7" cy="521.6" r="5.9" fill="url(#sr)"/>
<circle cx="569.6" cy="522.3" r="5.9" fill="url(#sr)"/>
<circle cx="622.5" cy="388.7" r="5.9" fill="url(#sr)"/>
<circle cx="515" cy="516.4" r="5.9" fill="url(#sr)"/>
<circle cx="562.5" cy="521.8" r="5.9" fill="url(#sr)"/>
<circle cx="641.2" cy="439.4" r="5.9" fill="url(#sr)"/>
<circle cx="590.3" cy="426.6" r="5.9" fill="url(#sr)"/>
<circle cx="593" cy="522.7" r="5.9" fill="url(#sr)"/>
<circle cx="607.7" cy="404.3" r="5.9" fill="url(#sr)"/>
<circle cx="481.6" cy="507.4" r="5.9" fill="url(#sr)"/>
<circle cx="524.5" cy="519.2" r="5.9" fill="url(#sr)"/>
<circle cx="509.3" cy="516.4" r="5.9" fill="url(#sr)"/>
<circle cx="504.3" cy="476.9" r="5.9" fill="url(#sr)"/>
<circle cx="682.4" cy="517.2" r="5.9" fill="url(#sr)"/>
<circle cx="530.7" cy="436.7" r="5.9" fill="url(#sr)"/>
<circle cx="503.7" cy="503.3" r="5.9" fill="url(#sr)"/>
<circle cx="519.1" cy="458.3" r="5.9" fill="url(#sr)"/>
<circle cx="537.5" cy="515.3" r="5.9" fill="url(#sr)"/>
<circle cx="649.3" cy="302.3" r="5.9" fill="url(#sr)"/>
<circle cx="488.3" cy="487.8" r="5.9" fill="url(#sr)"/>
<circle cx="524.7" cy="514.5" r="5.9" fill="url(#sr)"/>
<circle cx="565.8" cy="515" r="5.9" fill="url(#sr)"/>
<circle cx="547.2" cy="506.2" r="5.9" fill="url(#sr)"/>
<circle cx="554.2" cy="521.6" r="5.9" fill="url(#sr)"/>
<circle cx="552.9" cy="481.9" r="5.9" fill="url(#sr)"/>
<circle cx="501.2" cy="519.6" r="5.9" fill="url(#sr)"/>
<circle cx="492.6" cy="491.1" r="5.9" fill="url(#sr)"/>
<circle cx="618.6" cy="379.5" r="5.9" fill="url(#sr)"/>
<circle cx="553.7" cy="506.8" r="5.9" fill="url(#sr)"/>
<circle cx="510.6" cy="475" r="5.9" fill="url(#sr)"/>
<circle cx="485.2" cy="515.8" r="5.9" fill="url(#sr)"/>
<circle cx="526.3" cy="437.8" r="5.9" fill="url(#sr)"/>
<circle cx="516" cy="456.9" r="5.9" fill="url(#sr)"/>
<circle cx="522" cy="514.6" r="5.9" fill="url(#sr)"/>
<circle cx="504.5" cy="517.3" r="5.9" fill="url(#sr)"/>
<circle cx="500.2" cy="502.1" r="5.9" fill="url(#sr)"/>
<circle cx="528.6" cy="476.8" r="5.9" fill="url(#sr)"/>
<circle cx="482.1" cy="518.6" r="5.9" fill="url(#sr)"/>
<circle cx="595.8" cy="470.5" r="5.9" fill="url(#sr)"/>
<circle cx="573.2" cy="503.1" r="5.9" fill="url(#sr)"/>
<circle cx="578.5" cy="522.7" r="5.9" fill="url(#sr)"/>
<circle cx="612.2" cy="453.4" r="5.9" fill="url(#sr)"/>
<circle cx="463.3" cy="522.3" r="5.9" fill="url(#sr)"/>
<circle cx="609.6" cy="275.1" r="5.9" fill="url(#sr)"/>
<circle cx="533.7" cy="499.7" r="5.9" fill="url(#sr)"/>
<circle cx="565.1" cy="417.4" r="5.9" fill="url(#sr)"/>
<circle cx="619.1" cy="457" r="5.9" fill="url(#sr)"/>
<circle cx="603.3" cy="411" r="5.9" fill="url(#sr)"/>
<circle cx="515.1" cy="491.4" r="5.9" fill="url(#sr)"/>
<circle cx="647.7" cy="512.9" r="5.9" fill="url(#sr)"/>
<circle cx="463.7" cy="521.4" r="5.9" fill="url(#sr)"/>
<circle cx="500.8" cy="508.9" r="5.9" fill="url(#sr)"/>
<circle cx="530.5" cy="429.6" r="5.9" fill="url(#sr)"/>
<circle cx="643.2" cy="207" r="5.9" fill="url(#sr)"/>
<circle cx="593" cy="484.6" r="5.9" fill="url(#sr)"/>
<circle cx="531.6" cy="500.7" r="5.9" fill="url(#sr)"/>
<circle cx="521" cy="502.8" r="5.9" fill="url(#sr)"/>
<circle cx="512.6" cy="520.3" r="5.9" fill="url(#sr)"/>
<circle cx="562.8" cy="505.2" r="5.9" fill="url(#sr)"/>
<circle cx="510.1" cy="472.1" r="5.9" fill="url(#sr)"/>
<circle cx="517.3" cy="522.6" r="5.9" fill="url(#sr)"/>
<circle cx="533.2" cy="510.3" r="5.9" fill="url(#sr)"/>
<circle cx="534.6" cy="512.2" r="5.9" fill="url(#sr)"/>
<circle cx="560.1" cy="519.5" r="5.9" fill="url(#sr)"/>
<circle cx="504.2" cy="522.7" r="5.9" fill="url(#sr)"/>
<circle cx="551.1" cy="472.2" r="5.9" fill="url(#sr)"/>
<circle cx="641.1" cy="273.5" r="5.9" fill="url(#sr)"/>
<circle cx="547.1" cy="496.5" r="5.9" fill="url(#sr)"/>
<circle cx="505.1" cy="489.6" r="5.9" fill="url(#sr)"/>
<circle cx="544.9" cy="401.1" r="5.9" fill="url(#sr)"/>
<circle cx="520.3" cy="498.4" r="5.9" fill="url(#sr)"/>
<circle cx="494.9" cy="521.2" r="5.9" fill="url(#sr)"/>
<circle cx="666.5" cy="388.2" r="5.9" fill="url(#sr)"/>
<circle cx="521.3" cy="459.3" r="5.9" fill="url(#sr)"/>
<circle cx="553.1" cy="491" r="5.9" fill="url(#sr)"/>
<circle cx="670.8" cy="213.2" r="5.9" fill="url(#sr)"/>
<circle cx="507.6" cy="459.2" r="5.9" fill="url(#sr)"/>
<circle cx="632.2" cy="498.4" r="5.9" fill="url(#sr)"/>
<circle cx="525.1" cy="464.3" r="5.9" fill="url(#sr)"/>
<circle cx="664" cy="242.1" r="5.9" fill="url(#sr)"/>
<circle cx="491.3" cy="489.9" r="5.9" fill="url(#sr)"/>
<circle cx="485.1" cy="520.6" r="5.9" fill="url(#sr)"/>
<circle cx="483.7" cy="503" r="5.9" fill="url(#sr)"/>
<circle cx="548" cy="521" r="5.9" fill="url(#sr)"/>
<circle cx="609.3" cy="516.5" r="5.9" fill="url(#sr)"/>
<circle cx="565.3" cy="495.5" r="5.9" fill="url(#sr)"/>
<circle cx="492.1" cy="487.4" r="5.9" fill="url(#sr)"/>
<circle cx="525.4" cy="458.8" r="5.9" fill="url(#sr)"/>
<circle cx="551.9" cy="522.7" r="5.9" fill="url(#sr)"/>
<circle cx="637.3" cy="315.6" r="5.9" fill="url(#sr)"/>
<circle cx="499.5" cy="521" r="5.9" fill="url(#sr)"/>
<circle cx="502.1" cy="486" r="5.9" fill="url(#sr)"/>
<circle cx="527.2" cy="502.6" r="5.9" fill="url(#sr)"/>
<circle cx="623.4" cy="420.4" r="5.9" fill="url(#sr)"/>
<circle cx="568.2" cy="396.5" r="5.9" fill="url(#sr)"/>
<circle cx="545" cy="481.7" r="5.9" fill="url(#sr)"/>
<circle cx="566.3" cy="520.9" r="5.9" fill="url(#sr)"/>
<circle cx="567.1" cy="373.2" r="5.9" fill="url(#sr)"/>
<circle cx="529.8" cy="510.8" r="5.9" fill="url(#sr)"/>
<circle cx="551.7" cy="393.6" r="5.9" fill="url(#sr)"/>
<circle cx="632.7" cy="476.1" r="5.9" fill="url(#sr)"/>
<circle cx="466.1" cy="517.4" r="5.9" fill="url(#sr)"/>
<circle cx="583.3" cy="472.9" r="5.9" fill="url(#sr)"/>
<circle cx="584" cy="522.6" r="5.9" fill="url(#sr)"/>
<circle cx="535.9" cy="438.9" r="5.9" fill="url(#sr)"/>
<circle cx="490" cy="521.5" r="5.9" fill="url(#sr)"/>
<circle cx="554.2" cy="519.5" r="5.9" fill="url(#sr)"/>
<circle cx="482.4" cy="522.7" r="5.9" fill="url(#sr)"/>
<circle cx="585.2" cy="497.1" r="5.9" fill="url(#sr)"/>
<circle cx="576.5" cy="462.8" r="5.9" fill="url(#sr)"/>
<circle cx="481.4" cy="522.4" r="5.9" fill="url(#sr)"/>
<circle cx="488.6" cy="516.6" r="5.9" fill="url(#sr)"/>
<circle cx="499" cy="486.8" r="5.9" fill="url(#sr)"/>
<circle cx="586.5" cy="408.2" r="5.9" fill="url(#sr)"/>
<circle cx="573.1" cy="430.4" r="5.9" fill="url(#sr)"/>
<circle cx="641.2" cy="519.2" r="5.9" fill="url(#sr)"/>
<circle cx="502.2" cy="471" r="5.9" fill="url(#sr)"/>
<circle cx="524.4" cy="522.3" r="5.9" fill="url(#sr)"/>
<circle cx="559.1" cy="470.6" r="5.9" fill="url(#sr)"/>
<circle cx="537.5" cy="492.4" r="5.9" fill="url(#sr)"/>
<circle cx="497.6" cy="511.3" r="5.9" fill="url(#sr)"/>
<circle cx="682.4" cy="345.1" r="5.9" fill="url(#sr)"/>
<circle cx="543.4" cy="441" r="5.9" fill="url(#sr)"/>
<circle cx="579.1" cy="501.8" r="5.9" fill="url(#sr)"/>
<circle cx="615.1" cy="499.4" r="5.9" fill="url(#sr)"/>
<circle cx="494.8" cy="521.1" r="5.9" fill="url(#sr)"/>
<circle cx="500.3" cy="475.4" r="5.9" fill="url(#sr)"/>
<circle cx="491.3" cy="522.6" r="5.9" fill="url(#sr)"/>
<circle cx="507.1" cy="522.7" r="5.9" fill="url(#sr)"/>
<circle cx="605.3" cy="287.1" r="5.9" fill="url(#sr)"/>
<circle cx="540.3" cy="514.3" r="5.9" fill="url(#sr)"/>
<circle cx="530" cy="428.2" r="5.9" fill="url(#sr)"/>
<circle cx="531.2" cy="433.3" r="5.9" fill="url(#sr)"/>
<circle cx="597.9" cy="436.4" r="5.9" fill="url(#sr)"/>
<circle cx="514.4" cy="494.3" r="5.9" fill="url(#sr)"/>
<circle cx="503.3" cy="490.3" r="5.9" fill="url(#sr)"/>
<circle cx="573.7" cy="488.4" r="5.9" fill="url(#sr)"/>
<circle cx="575.1" cy="522.5" r="5.9" fill="url(#sr)"/>
<circle cx="566" cy="466.7" r="5.9" fill="url(#sr)"/>
<circle cx="653.6" cy="460.7" r="5.9" fill="url(#sr)"/>
<circle cx="607.1" cy="479.2" r="5.9" fill="url(#sr)"/>
<circle cx="580.2" cy="334.4" r="5.9" fill="url(#sr)"/>
<circle cx="568.2" cy="502.3" r="5.9" fill="url(#sr)"/>
<circle cx="566.8" cy="421.1" r="5.9" fill="url(#sr)"/>
<circle cx="638.4" cy="464.7" r="5.9" fill="url(#sr)"/>
<circle cx="587.5" cy="522.1" r="5.9" fill="url(#sr)"/>
<circle cx="516.7" cy="453.1" r="5.9" fill="url(#sr)"/>
<circle cx="463.7" cy="519.5" r="5.9" fill="url(#sr)"/>
<circle cx="588.4" cy="497.7" r="5.9" fill="url(#sr)"/>
<circle cx="602.2" cy="509.7" r="5.9" fill="url(#sr)"/>
<circle cx="523.5" cy="480.4" r="5.9" fill="url(#sr)"/>
<circle cx="521.8" cy="511.6" r="5.9" fill="url(#sr)"/>
<circle cx="493.9" cy="515.9" r="5.9" fill="url(#sr)"/>
<circle cx="471" cy="509.8" r="5.9" fill="url(#sr)"/>
<circle cx="558.8" cy="435.8" r="5.9" fill="url(#sr)"/>
<circle cx="486.3" cy="497.1" r="5.9" fill="url(#sr)"/>
<circle cx="560" cy="431.7" r="5.9" fill="url(#sr)"/>
<circle cx="578.3" cy="350.7" r="5.9" fill="url(#sr)"/>
<circle cx="529.9" cy="461.4" r="5.9" fill="url(#sr)"/>
<circle cx="534.6" cy="513.9" r="5.9" fill="url(#sr)"/>
<circle cx="541.2" cy="519.4" r="5.9" fill="url(#sr)"/>
<circle cx="524.7" cy="439.4" r="5.9" fill="url(#sr)"/>
<circle cx="521.3" cy="521.2" r="5.9" fill="url(#sr)"/>
<circle cx="499.9" cy="515.2" r="5.9" fill="url(#sr)"/>
<circle cx="612" cy="305.2" r="5.9" fill="url(#sr)"/>
<circle cx="487.7" cy="518" r="5.9" fill="url(#sr)"/>
<circle cx="533.6" cy="481.8" r="5.9" fill="url(#sr)"/>
<circle cx="533.6" cy="520.2" r="5.9" fill="url(#sr)"/>
<circle cx="534.7" cy="450.1" r="5.9" fill="url(#sr)"/>
<circle cx="495.6" cy="522.5" r="5.9" fill="url(#sr)"/>
<circle cx="651.7" cy="418.8" r="5.9" fill="url(#sr)"/>
<circle cx="545.2" cy="515.5" r="5.9" fill="url(#sr)"/>
<circle cx="630.6" cy="521.5" r="5.9" fill="url(#sr)"/>
<circle cx="562" cy="516.5" r="5.9" fill="url(#sr)"/>
<circle cx="583.2" cy="467.6" r="5.9" fill="url(#sr)"/>
<circle cx="573.2" cy="510.3" r="5.9" fill="url(#sr)"/>
<circle cx="617.2" cy="498" r="5.9" fill="url(#sr)"/>
<circle cx="579.1" cy="427.4" r="5.9" fill="url(#sr)"/>
<circle cx="513.5" cy="478" r="5.9" fill="url(#sr)"/>
<circle cx="495.3" cy="504.9" r="5.9" fill="url(#sr)"/>
<circle cx="570.3" cy="518.1" r="5.9" fill="url(#sr)"/>
<circle cx="497.9" cy="518.5" r="5.9" fill="url(#sr)"/>
<circle cx="643.1" cy="512.1" r="5.9" fill="url(#sr)"/>
<circle cx="497.8" cy="520.6" r="5.9" fill="url(#sr)"/>
<circle cx="573" cy="369.3" r="5.9" fill="url(#sr)"/>
<circle cx="482" cy="518.6" r="5.9" fill="url(#sr)"/>
<circle cx="643.9" cy="436.1" r="5.9" fill="url(#sr)"/>
<circle cx="503" cy="490.7" r="5.9" fill="url(#sr)"/>
<circle cx="562.1" cy="431.3" r="5.9" fill="url(#sr)"/>
<circle cx="556.4" cy="400" r="5.9" fill="url(#sr)"/>
<circle cx="631.1" cy="356.1" r="5.9" fill="url(#sr)"/>
<circle cx="651.6" cy="501.9" r="5.9" fill="url(#sr)"/>
<circle cx="583.9" cy="520.9" r="5.9" fill="url(#sr)"/>
<circle cx="533.4" cy="520.9" r="5.9" fill="url(#sr)"/>
<circle cx="557.9" cy="436.6" r="5.9" fill="url(#sr)"/>
<circle cx="525.3" cy="468.6" r="5.9" fill="url(#sr)"/>
<circle cx="619.8" cy="465.3" r="5.9" fill="url(#sr)"/>
<circle cx="506.4" cy="482" r="5.9" fill="url(#sr)"/>
<circle cx="471.6" cy="522.3" r="5.9" fill="url(#sr)"/>
<circle cx="562.2" cy="406.3" r="5.9" fill="url(#sr)"/>
<circle cx="569.4" cy="415.7" r="5.9" fill="url(#sr)"/>
<circle cx="659.5" cy="195.3" r="5.9" fill="url(#sr)"/>
<circle cx="518.3" cy="521.6" r="5.9" fill="url(#sr)"/>
<circle cx="551.4" cy="388.5" r="5.9" fill="url(#sr)"/>
<circle cx="513.4" cy="522.6" r="5.9" fill="url(#sr)"/>
<circle cx="631.5" cy="410" r="5.9" fill="url(#sr)"/>
<circle cx="538.6" cy="494.3" r="5.9" fill="url(#sr)"/>
<circle cx="492.2" cy="504.3" r="5.9" fill="url(#sr)"/>
<circle cx="499.5" cy="513.8" r="5.9" fill="url(#sr)"/>
<circle cx="500.7" cy="501.9" r="5.9" fill="url(#sr)"/>
<circle cx="533.5" cy="512" r="5.9" fill="url(#sr)"/>
<circle cx="497.9" cy="500.3" r="5.9" fill="url(#sr)"/>
<circle cx="582.2" cy="335.9" r="5.9" fill="url(#sr)"/>
<circle cx="480.9" cy="505.6" r="5.9" fill="url(#sr)"/>
<circle cx="638.7" cy="396.7" r="5.9" fill="url(#sr)"/>
<circle cx="513.9" cy="514.2" r="5.9" fill="url(#sr)"/>
<circle cx="538" cy="522.3" r="5.9" fill="url(#sr)"/>
<circle cx="509.8" cy="483.8" r="5.9" fill="url(#sr)"/>
<circle cx="503.8" cy="510.1" r="5.9" fill="url(#sr)"/>
<circle cx="496.5" cy="481.3" r="5.9" fill="url(#sr)"/>
<circle cx="566.2" cy="407.5" r="5.9" fill="url(#sr)"/>
<circle cx="619" cy="297.5" r="5.9" fill="url(#sr)"/>
<circle cx="617.5" cy="424.2" r="5.9" fill="url(#sr)"/>
<circle cx="526.7" cy="513" r="5.9" fill="url(#sr)"/>
<circle cx="549.5" cy="471.4" r="5.9" fill="url(#sr)"/>
<circle cx="581.3" cy="359.4" r="5.9" fill="url(#sr)"/>
<circle cx="643" cy="381.8" r="5.9" fill="url(#sr)"/>
<circle cx="659.6" cy="316" r="5.9" fill="url(#sr)"/>
<circle cx="476.9" cy="515.2" r="5.9" fill="url(#sr)"/>
<circle cx="652.3" cy="520.7" r="5.9" fill="url(#sr)"/>
<circle cx="556.1" cy="432.5" r="5.9" fill="url(#sr)"/>
<circle cx="567.7" cy="466.1" r="5.9" fill="url(#sr)"/>
<circle cx="581.4" cy="487.1" r="5.9" fill="url(#sr)"/>
<circle cx="498.8" cy="493.8" r="5.9" fill="url(#sr)"/>
<circle cx="614.8" cy="263.3" r="5.9" fill="url(#sr)"/>
<circle cx="536.6" cy="484.1" r="5.9" fill="url(#sr)"/>
<circle cx="507" cy="509.7" r="5.9" fill="url(#sr)"/>
<circle cx="516" cy="510.9" r="5.9" fill="url(#sr)"/>
<circle cx="659.2" cy="404.8" r="5.9" fill="url(#sr)"/>
<circle cx="597.9" cy="426.3" r="5.9" fill="url(#sr)"/>
<circle cx="561.8" cy="449.9" r="5.9" fill="url(#sr)"/>
<circle cx="585.2" cy="339.9" r="5.9" fill="url(#sr)"/>
<circle cx="553.2" cy="414.9" r="5.9" fill="url(#sr)"/>
<circle cx="493.5" cy="517.7" r="5.9" fill="url(#sr)"/>
<circle cx="501.6" cy="505.2" r="5.9" fill="url(#sr)"/>
<circle cx="618" cy="386.2" r="5.9" fill="url(#sr)"/>
<circle cx="607.5" cy="488.4" r="5.9" fill="url(#sr)"/>
<circle cx="611.2" cy="318.1" r="5.9" fill="url(#sr)"/>
<circle cx="496" cy="515.2" r="5.9" fill="url(#sr)"/>
<circle cx="620.5" cy="372.9" r="5.9" fill="url(#sr)"/>
<circle cx="539.6" cy="459.2" r="5.9" fill="url(#sr)"/>
<circle cx="495.5" cy="499.1" r="5.9" fill="url(#sr)"/>
<circle cx="693.4" cy="472.6" r="5.9" fill="url(#sr)"/>
<circle cx="498.7" cy="494.8" r="5.9" fill="url(#sr)"/>
<circle cx="494.9" cy="484.1" r="5.9" fill="url(#sr)"/>
<circle cx="654.1" cy="449.9" r="5.9" fill="url(#sr)"/>
<circle cx="543.2" cy="436.2" r="5.9" fill="url(#sr)"/>
<circle cx="509.4" cy="473.6" r="5.9" fill="url(#sr)"/>
<circle cx="576.1" cy="487.3" r="5.9" fill="url(#sr)"/>
<circle cx="496.2" cy="515.2" r="5.9" fill="url(#sr)"/>
<circle cx="613.3" cy="478.1" r="5.9" fill="url(#sr)"/>
<circle cx="503.9" cy="493.5" r="5.9" fill="url(#sr)"/>
<circle cx="631.8" cy="426.1" r="5.9" fill="url(#sr)"/>
<circle cx="500" cy="519.1" r="5.9" fill="url(#sr)"/>
<circle cx="669.3" cy="364.2" r="5.9" fill="url(#sr)"/>
<circle cx="495.4" cy="485.4" r="5.9" fill="url(#sr)"/>
<circle cx="550.9" cy="502.3" r="5.9" fill="url(#sr)"/>
<circle cx="488.8" cy="490.3" r="5.9" fill="url(#sr)"/>
<circle cx="616.4" cy="521.2" r="5.9" fill="url(#sr)"/>
<circle cx="534.9" cy="431.6" r="5.9" fill="url(#sr)"/>
<circle cx="514.1" cy="481.9" r="5.9" fill="url(#sr)"/>
<circle cx="514.9" cy="515" r="5.9" fill="url(#sr)"/>
<circle cx="567.2" cy="482.1" r="5.9" fill="url(#sr)"/>
<circle cx="541.3" cy="520.2" r="5.9" fill="url(#sr)"/>
<circle cx="646.9" cy="363.4" r="5.9" fill="url(#sr)"/>
<circle cx="499.4" cy="522.7" r="5.9" fill="url(#sr)"/>
<circle cx="493" cy="498.8" r="5.9" fill="url(#sr)"/>
<circle cx="610.8" cy="321.9" r="5.9" fill="url(#sr)"/>
<circle cx="508.2" cy="505.6" r="5.9" fill="url(#sr)"/>
<circle cx="530.4" cy="504.4" r="5.9" fill="url(#sr)"/>
<circle cx="526.5" cy="468.5" r="5.9" fill="url(#sr)"/>
<circle cx="518.8" cy="505.6" r="5.9" fill="url(#sr)"/>
<circle cx="630.2" cy="445.5" r="5.9" fill="url(#sr)"/>
<circle cx="574.7" cy="440.6" r="5.9" fill="url(#sr)"/>
<circle cx="496.4" cy="521.5" r="5.9" fill="url(#sr)"/>
<circle cx="607.7" cy="400.7" r="5.9" fill="url(#sr)"/>
<circle cx="621.3" cy="475.3" r="5.9" fill="url(#sr)"/>
<circle cx="520.7" cy="517.1" r="5.9" fill="url(#sr)"/>
<circle cx="649.6" cy="325" r="5.9" fill="url(#sr)"/>
<circle cx="646.4" cy="413.7" r="5.9" fill="url(#sr)"/>
<circle cx="471.8" cy="512.8" r="5.9" fill="url(#sr)"/>
<circle cx="656.2" cy="398.9" r="5.9" fill="url(#sr)"/>
<circle cx="518.7" cy="522.6" r="5.9" fill="url(#sr)"/>
<circle cx="637.1" cy="444.5" r="5.9" fill="url(#sr)"/>
<circle cx="566" cy="521.7" r="5.9" fill="url(#sr)"/>
<circle cx="531.8" cy="452.3" r="5.9" fill="url(#sr)"/>
<circle cx="622.7" cy="263.8" r="5.9" fill="url(#sr)"/>
<circle cx="579.3" cy="451.2" r="5.9" fill="url(#sr)"/>
<circle cx="471.5" cy="510" r="5.9" fill="url(#sr)"/>
<circle cx="590" cy="517.6" r="5.9" fill="url(#sr)"/>
<circle cx="496.1" cy="494.9" r="5.9" fill="url(#sr)"/>
<circle cx="509.1" cy="472.9" r="5.9" fill="url(#sr)"/>
<circle cx="480.6" cy="520.3" r="5.9" fill="url(#sr)"/>
<circle cx="631.7" cy="516.8" r="5.9" fill="url(#sr)"/>
<circle cx="582.3" cy="433.3" r="5.9" fill="url(#sr)"/>
<circle cx="540.4" cy="486.8" r="5.9" fill="url(#sr)"/>
<circle cx="469.7" cy="520.3" r="5.9" fill="url(#sr)"/>
<circle cx="536.8" cy="506.1" r="5.9" fill="url(#sr)"/>
<circle cx="584.8" cy="428" r="5.9" fill="url(#sr)"/>
<circle cx="493.7" cy="515" r="5.9" fill="url(#sr)"/>
<circle cx="557.4" cy="511.6" r="5.9" fill="url(#sr)"/>
<circle cx="640.5" cy="475.1" r="5.9" fill="url(#sr)"/>
<circle cx="503.7" cy="521.7" r="5.9" fill="url(#sr)"/>
<circle cx="540.3" cy="519.7" r="5.9" fill="url(#sr)"/>
<circle cx="604.5" cy="501.5" r="5.9" fill="url(#sr)"/>
<circle cx="514.2" cy="522.3" r="5.9" fill="url(#sr)"/>
<circle cx="574.7" cy="520.4" r="5.9" fill="url(#sr)"/>
<circle cx="511.6" cy="514.5" r="5.9" fill="url(#sr)"/>
<circle cx="653.8" cy="61.6" r="5.9" fill="url(#sr)"/>
<circle cx="662.9" cy="65.1" r="5.9" fill="url(#sr)"/>
<circle cx="650.8" cy="74.4" r="5.9" fill="url(#sr)"/>
<circle cx="681" cy="74.4" r="5.9" fill="url(#sr)"/>
<circle cx="662.9" cy="90.6" r="5.9" fill="url(#sr)"/>
<circle cx="679.5" cy="131" r="5.9" fill="url(#sr)"/>
<circle cx="643.2" cy="136" r="5.9" fill="url(#sr)"/>
<circle cx="714.3" cy="149.4" r="5.9" fill="url(#sr)"/>
<circle cx="699.2" cy="162.2" r="5.9" fill="url(#sr)"/>
<circle cx="684" cy="170.7" r="5.9" fill="url(#sr)"/>
<circle cx="646.2" cy="177.8" r="5.9" fill="url(#sr)"/>
<circle cx="682.5" cy="183.4" r="5.9" fill="url(#sr)"/>
<circle cx="681" cy="190.5" r="5.9" fill="url(#sr)"/>
<circle cx="687.1" cy="196.9" r="5.9" fill="url(#sr)"/>
<circle cx="678" cy="216" r="5.9" fill="url(#sr)"/>
<circle cx="696.1" cy="226.6" r="5.9" fill="url(#sr)"/>
<circle cx="718.8" cy="225.2" r="5.9" fill="url(#sr)"/>
<circle cx="602.3" cy="234.4" r="5.9" fill="url(#sr)"/>
<circle cx="693.1" cy="242.9" r="5.9" fill="url(#sr)"/>
<circle cx="687.1" cy="257.1" r="5.9" fill="url(#sr)"/>
<circle cx="714.3" cy="262.1" r="5.9" fill="url(#sr)"/>
<circle cx="691.6" cy="279.8" r="5.9" fill="url(#sr)"/>
<circle cx="703.7" cy="286.8" r="5.9" fill="url(#sr)"/>
<circle cx="699.2" cy="292.5" r="5.9" fill="url(#sr)"/>
<circle cx="655.3" cy="288.3" r="5.9" fill="url(#sr)"/>
<circle cx="597.8" cy="291.8" r="5.9" fill="url(#sr)"/>
<circle cx="605.4" cy="303.8" r="5.9" fill="url(#sr)"/>
<circle cx="614.4" cy="306.7" r="5.9" fill="url(#sr)"/>
<circle cx="637.1" cy="303.8" r="5.9" fill="url(#sr)"/>
<circle cx="723.4" cy="315.9" r="5.9" fill="url(#sr)"/>
<circle cx="714.3" cy="315.9" r="5.9" fill="url(#sr)"/>
</g>
<circle cx="190" cy="76.5" r="5.4" fill="url(#st)"/><circle cx="190" cy="109" r="5.4" fill="url(#sr)"/><circle cx="190" cy="141" r="5.4" fill="url(#sg)"/>
<text x="227" y="86" font-size="26">Down Regulated</text>
<text x="227" y="118" font-size="26">Up Regulated</text>
<text x="227" y="149.5" font-size="26">No diff</text>
<text x="212.5" y="239" font-size="30">Down 175</text>
<text x="502.5" y="239" font-size="30">Up 226</text>
<rect x="121.2" y="44" width="605.2" height="509" fill="none" stroke="#000" stroke-width="2.2"/>
<line x1="112.2" y1="539" x2="121.2" y2="539" stroke="#000" stroke-width="2"/>
<text x="105.5" y="548.5" font-size="26.5" text-anchor="end">0</text>
<line x1="112.2" y1="397.3" x2="121.2" y2="397.3" stroke="#000" stroke-width="2"/>
<text x="105.5" y="406.8" font-size="26.5" text-anchor="end">20</text>
<line x1="112.2" y1="255.7" x2="121.2" y2="255.7" stroke="#000" stroke-width="2"/>
<text x="105.5" y="265.2" font-size="26.5" text-anchor="end">40</text>
<line x1="112.2" y1="114" x2="121.2" y2="114" stroke="#000" stroke-width="2"/>
<text x="105.5" y="123.5" font-size="26.5" text-anchor="end">60</text>
<line x1="116.2" y1="468.2" x2="121.2" y2="468.2" stroke="#000" stroke-width="2"/>
<line x1="116.2" y1="326.5" x2="121.2" y2="326.5" stroke="#000" stroke-width="2"/>
<line x1="116.2" y1="184.8" x2="121.2" y2="184.8" stroke="#000" stroke-width="2"/>
<line x1="121.2" y1="553" x2="121.2" y2="562" stroke="#000" stroke-width="2"/>
<text x="117.7" y="589" font-size="26.5" text-anchor="middle">−2</text>
<line x1="272.5" y1="553" x2="272.5" y2="562" stroke="#000" stroke-width="2"/>
<text x="269" y="589" font-size="26.5" text-anchor="middle">−1</text>
<line x1="423.8" y1="553" x2="423.8" y2="562" stroke="#000" stroke-width="2"/>
<text x="423.8" y="589" font-size="26.5" text-anchor="middle">0</text>
<line x1="575.1" y1="553" x2="575.1" y2="562" stroke="#000" stroke-width="2"/>
<text x="575.1" y="589" font-size="26.5" text-anchor="middle">1</text>
<line x1="726.4" y1="553" x2="726.4" y2="562" stroke="#000" stroke-width="2"/>
<text x="726.4" y="589" font-size="26.5" text-anchor="middle">2</text>
<line x1="196.8" y1="553" x2="196.8" y2="558" stroke="#000" stroke-width="2"/>
<line x1="348.1" y1="553" x2="348.1" y2="558" stroke="#000" stroke-width="2"/>
<line x1="499.5" y1="553" x2="499.5" y2="558" stroke="#000" stroke-width="2"/>
<line x1="650.8" y1="553" x2="650.8" y2="558" stroke="#000" stroke-width="2"/>
<text x="314" y="621" font-size="27">log<tspan font-size="17.5" dy="5">2</tspan><tspan dy="-5"> (Fold Change)</tspan></text>
<text transform="translate(61 321) rotate(-90)" font-size="26.5" text-anchor="middle">-log<tspan font-size="17" dy="5">10</tspan><tspan dy="-5"> (</tspan><tspan font-style="italic">P</tspan>-value)</text>
<text x="914" y="23.8" font-size="34">b</text>
<text x="1197" y="23.5" font-size="33">Heatmap</text>
<g shape-rendering="crispEdges">
<rect x="940" y="38.5" width="108.6" height="5.5" fill="#e2f3f3"/>
<rect x="940" y="44.0" width="108.6" height="2.5" fill="#b8e2e4"/>
<rect x="940" y="46.5" width="108.6" height="7.0" fill="#e2f3f3"/>
<rect x="940" y="53.5" width="108.6" height="4.0" fill="#cfebeb"/>
<rect x="940" y="57.5" width="108.6" height="1.5" fill="#e2f3f3"/>
<rect x="940" y="59.0" width="108.6" height="11.5" fill="#cfebeb"/>
<rect x="940" y="78.0" width="108.6" height="8.0" fill="#cfebeb"/>
<rect x="940" y="86.0" width="108.6" height="3.0" fill="#b8e2e4"/>
<rect x="940" y="89.0" width="108.6" height="1.5" fill="#cfebeb"/>
<rect x="940" y="90.5" width="108.6" height="4.0" fill="#b8e2e4"/>
<rect x="940" y="94.5" width="108.6" height="4.0" fill="#e2f3f3"/>
<rect x="940" y="98.5" width="108.6" height="4.0" fill="#cfebeb"/>
<rect x="940" y="102.5" width="108.6" height="3.0" fill="#b8e2e4"/>
<rect x="940" y="105.5" width="108.6" height="2.5" fill="#e2f3f3"/>
<rect x="940" y="108.0" width="108.6" height="3.0" fill="#cfebeb"/>
<rect x="940" y="111.0" width="108.6" height="2.5" fill="#e2f3f3"/>
<rect x="940" y="113.5" width="108.6" height="11.0" fill="#cfebeb"/>
<rect x="940" y="124.5" width="108.6" height="4.0" fill="#b8e2e4"/>
<rect x="940" y="128.5" width="108.6" height="1.5" fill="#cfebeb"/>
<rect x="940" y="130.0" width="108.6" height="3.0" fill="#b8e2e4"/>
<rect x="940" y="133.0" width="108.6" height="26.0" fill="#cfebeb"/>
<rect x="940" y="159.0" width="108.6" height="2.5" fill="#e2f3f3"/>
<rect x="940" y="161.5" width="108.6" height="1.5" fill="#b8e2e4"/>
<rect x="940" y="163.0" width="108.6" height="1.5" fill="#cfebeb"/>
<rect x="940" y="164.5" width="108.6" height="1.0" fill="#e2f3f3"/>
<rect x="940" y="165.5" width="108.6" height="1.5" fill="#cfebeb"/>
<rect x="940" y="167.0" width="108.6" height="5.5" fill="#e2f3f3"/>
<rect x="940" y="172.5" width="108.6" height="3.0" fill="#b8e2e4"/>
<rect x="940" y="175.5" width="108.6" height="6.5" fill="#e2f3f3"/>
<rect x="940" y="182.0" width="108.6" height="1.5" fill="#b8e2e4"/>
<rect x="940" y="183.5" width="108.6" height="7.0" fill="#cfebeb"/>
<rect x="940" y="190.5" width="108.6" height="1.0" fill="#b8e2e4"/>
<rect x="940" y="191.5" width="108.6" height="10.0" fill="#cfebeb"/>
<rect x="940" y="201.5" width="108.6" height="1.0" fill="#b8e2e4"/>
<rect x="940" y="202.5" width="108.6" height="5.5" fill="#cfebeb"/>
<rect x="940" y="208.0" width="108.6" height="5.5" fill="#e2f3f3"/>
<rect x="940" y="213.5" width="108.6" height="4.0" fill="#b8e2e4"/>
<rect x="940" y="217.5" width="108.6" height="10.0" fill="#e2f3f3"/>
<rect x="940" y="227.5" width="108.6" height="6.5" fill="#b8e2e4"/>
<rect x="940" y="234.0" width="108.6" height="3.0" fill="#e2f3f3"/>
<rect x="940" y="237.0" width="108.6" height="1.5" fill="#cfebeb"/>
<rect x="940" y="238.5" width="108.6" height="5.5" fill="#e2f3f3"/>
<rect x="940" y="244.0" width="108.6" height="12.0" fill="#cfebeb"/>
<rect x="940" y="256.0" width="108.6" height="3.0" fill="#e2f3f3"/>
<rect x="940" y="259.0" width="108.6" height="2.5" fill="#b8e2e4"/>
<rect x="940" y="261.5" width="108.6" height="4.0" fill="#cfebeb"/>
<rect x="940" y="265.5" width="108.6" height="3.0" fill="#b8e2e4"/>
<rect x="940" y="268.5" width="108.6" height="4.0" fill="#cfebeb"/>
<rect x="940" y="272.5" width="108.6" height="1.5" fill="#b8e2e4"/>
<rect x="940" y="274.0" width="108.6" height="20.5" fill="#cfebeb"/>
<rect x="940" y="294.5" width="108.6" height="4.0" fill="#e2f3f3"/>
<rect x="940" y="298.5" width="108.6" height="3.0" fill="#cfebeb"/>
<rect x="940" y="301.5" width="108.6" height="5.5" fill="#b8e2e4"/>
<rect x="940" y="307.0" width="108.6" height="1.0" fill="#e2f3f3"/>
<rect x="940" y="308.0" width="108.6" height="8.5" fill="#cfebeb"/>
<rect x="940" y="316.5" width="108.6" height="2.5" fill="#b8e2e4"/>
<rect x="940" y="319.0" width="108.6" height="5.5" fill="#e2f3f3"/>
<rect x="940" y="324.5" width="108.6" height="4.0" fill="#cfebeb"/>
<rect x="940" y="328.5" width="108.6" height="4.5" fill="#e2f3f3"/>
<rect x="940" y="333.0" width="108.6" height="4.0" fill="#cfebeb"/>
<rect x="940" y="337.0" width="108.6" height="4.0" fill="#b8e2e4"/>
<rect x="940" y="341.0" width="108.6" height="7.0" fill="#cfebeb"/>
<rect x="940" y="348.0" width="108.6" height="1.0" fill="#b8e2e4"/>
<rect x="940" y="349.0" width="108.6" height="2.5" fill="#fed3d2"/>
<rect x="940" y="351.5" width="108.6" height="9.5" fill="#faa8a4"/>
<rect x="940" y="365.0" width="108.6" height="4.5" fill="#faa8a4"/>
<rect x="940" y="369.5" width="108.6" height="6.5" fill="#fed3d2"/>
<rect x="940" y="376.0" width="108.6" height="10.0" fill="#faa8a4"/>
<rect x="940" y="386.0" width="108.6" height="12.0" fill="#fed3d2"/>
<rect x="940" y="398.0" width="108.6" height="3.0" fill="#faa8a4"/>
<rect x="940" y="401.0" width="108.6" height="4.0" fill="#fed3d2"/>
<rect x="940" y="405.0" width="108.6" height="8.0" fill="#faa8a4"/>
<rect x="940" y="413.0" width="108.6" height="1.5" fill="#fed3d2"/>
<rect x="940" y="414.5" width="108.6" height="7.0" fill="#faa8a4"/>
<rect x="940" y="421.5" width="108.6" height="5.5" fill="#fed3d2"/>
<rect x="940" y="427.0" width="108.6" height="13.5" fill="#faa8a4"/>
<rect x="940" y="440.5" width="108.6" height="4.0" fill="#fed3d2"/>
<rect x="940" y="444.5" width="108.6" height="1.5" fill="#faa8a4"/>
<rect x="940" y="446.0" width="108.6" height="4.0" fill="#fed3d2"/>
<rect x="940" y="450.0" width="108.6" height="10.0" fill="#faa8a4"/>
<rect x="940" y="460.0" width="108.6" height="4.0" fill="#fed3d2"/>
<rect x="940" y="464.0" width="108.6" height="2.5" fill="#faa8a4"/>
<rect x="940" y="466.5" width="108.6" height="4.0" fill="#fed3d2"/>
<rect x="940" y="475.0" width="108.6" height="4.0" fill="#fed3d2"/>
<rect x="940" y="483.0" width="108.6" height="7.0" fill="#faa8a4"/>
<rect x="940" y="490.0" width="108.6" height="1.5" fill="#fed3d2"/>
<rect x="940" y="491.5" width="108.6" height="4.0" fill="#faa8a4"/>
<rect x="940" y="495.5" width="108.6" height="2.5" fill="#fed3d2"/>
<rect x="940" y="498.0" width="108.6" height="4.0" fill="#faa8a4"/>
<rect x="940" y="502.0" width="108.6" height="8.5" fill="#fed3d2"/>
<rect x="940" y="510.5" width="108.6" height="4.0" fill="#faa8a4"/>
<rect x="940" y="514.5" width="108.6" height="4.0" fill="#fed3d2"/>
<rect x="940" y="518.5" width="108.6" height="4.5" fill="#faa8a4"/>
<rect x="940" y="523.0" width="108.6" height="4.0" fill="#fed3d2"/>
<rect x="940" y="527.0" width="108.6" height="4.0" fill="#faa8a4"/>
<rect x="940" y="531.0" width="108.6" height="7.0" fill="#fed3d2"/>
<rect x="940" y="538.0" width="108.6" height="2.5" fill="#faa8a4"/>
<rect x="940" y="542.0" width="108.6" height="7.0" fill="#fed3d2"/>
<rect x="940" y="549.0" width="108.6" height="1.0" fill="#faa8a4"/>
<rect x="940" y="550.0" width="108.6" height="4.5" fill="#fed3d2"/>
<rect x="940" y="554.5" width="108.6" height="2.5" fill="#faa8a4"/>
<rect x="940" y="557.0" width="108.6" height="19.0" fill="#fed3d2"/>
<rect x="940" y="576.0" width="108.6" height="1.5" fill="#faa8a4"/>
<rect x="940" y="577.5" width="108.6" height="1.5" fill="#fed3d2"/>
<rect x="940" y="579.0" width="108.6" height="9.0" fill="#faa8a4"/>
<rect x="940" y="588.0" width="108.6" height="0.5" fill="#fc7e7a"/>
<rect x="1048.3" y="38.5" width="108.6" height="2.5" fill="#cfebeb"/>
<rect x="1048.3" y="41.0" width="108.6" height="3.0" fill="#b8e2e4"/>
<rect x="1048.3" y="44.0" width="108.6" height="4.0" fill="#cfebeb"/>
<rect x="1048.3" y="48.0" width="108.6" height="1.5" fill="#b8e2e4"/>
<rect x="1048.3" y="49.5" width="108.6" height="1.5" fill="#e2f3f3"/>
<rect x="1048.3" y="51.0" width="108.6" height="2.5" fill="#cfebeb"/>
<rect x="1048.3" y="53.5" width="108.6" height="9.5" fill="#e2f3f3"/>
<rect x="1048.3" y="63.0" width="108.6" height="3.0" fill="#cfebeb"/>
<rect x="1048.3" y="68.5" width="108.6" height="20.5" fill="#cfebeb"/>
<rect x="1048.3" y="89.0" width="108.6" height="8.5" fill="#e2f3f3"/>
<rect x="1048.3" y="99.0" width="108.6" height="4.0" fill="#cfebeb"/>
<rect x="1048.3" y="103.0" width="108.6" height="2.5" fill="#b8e2e4"/>
<rect x="1048.3" y="105.5" width="108.6" height="4.0" fill="#e2f3f3"/>
<rect x="1048.3" y="109.5" width="108.6" height="4.5" fill="#b8e2e4"/>
<rect x="1048.3" y="114.0" width="108.6" height="1.0" fill="#cfebeb"/>
<rect x="1048.3" y="115.0" width="108.6" height="5.5" fill="#e2f3f3"/>
<rect x="1048.3" y="120.5" width="108.6" height="1.5" fill="#cfebeb"/>
<rect x="1048.3" y="122.0" width="108.6" height="4.0" fill="#b8e2e4"/>
<rect x="1048.3" y="126.0" width="108.6" height="11.0" fill="#cfebeb"/>
<rect x="1048.3" y="137.0" width="108.6" height="1.5" fill="#e2f3f3"/>
<rect x="1048.3" y="138.5" width="108.6" height="3.0" fill="#b8e2e4"/>
<rect x="1048.3" y="141.5" width="108.6" height="4.0" fill="#cfebeb"/>
<rect x="1048.3" y="145.5" width="108.6" height="4.0" fill="#b8e2e4"/>
<rect x="1048.3" y="149.5" width="108.6" height="1.5" fill="#cfebeb"/>
<rect x="1048.3" y="151.0" width="108.6" height="1.0" fill="#e2f3f3"/>
<rect x="1048.3" y="152.0" width="108.6" height="4.5" fill="#cfebeb"/>
<rect x="1048.3" y="156.5" width="108.6" height="1.0" fill="#e2f3f3"/>
<rect x="1048.3" y="157.5" width="108.6" height="1.5" fill="#b8e2e4"/>
<rect x="1048.3" y="159.0" width="108.6" height="4.0" fill="#cfebeb"/>
<rect x="1048.3" y="163.0" width="108.6" height="3.0" fill="#e2f3f3"/>
<rect x="1048.3" y="166.0" width="108.6" height="2.5" fill="#cfebeb"/>
<rect x="1048.3" y="168.5" width="108.6" height="3.0" fill="#e2f3f3"/>
<rect x="1048.3" y="171.5" width="108.6" height="6.5" fill="#cfebeb"/>
<rect x="1048.3" y="178.0" width="108.6" height="4.5" fill="#b8e2e4"/>
<rect x="1048.3" y="182.5" width="108.6" height="1.0" fill="#cfebeb"/>
<rect x="1048.3" y="183.5" width="108.6" height="4.5" fill="#b8e2e4"/>
<rect x="1048.3" y="188.0" width="108.6" height="6.5" fill="#e2f3f3"/>
<rect x="1048.3" y="194.5" width="108.6" height="5.5" fill="#cfebeb"/>
<rect x="1048.3" y="200.0" width="108.6" height="7.0" fill="#e2f3f3"/>
<rect x="1048.3" y="207.0" width="108.6" height="4.0" fill="#b8e2e4"/>
<rect x="1048.3" y="211.0" width="108.6" height="4.0" fill="#cfebeb"/>
<rect x="1048.3" y="215.0" width="108.6" height="8.5" fill="#e2f3f3"/>
<rect x="1048.3" y="223.5" width="108.6" height="1.5" fill="#cfebeb"/>
<rect x="1048.3" y="225.0" width="108.6" height="6.5" fill="#e2f3f3"/>
<rect x="1048.3" y="231.5" width="108.6" height="7.0" fill="#cfebeb"/>
<rect x="1048.3" y="238.5" width="108.6" height="4.0" fill="#e2f3f3"/>
<rect x="1048.3" y="242.5" width="108.6" height="3.0" fill="#b8e2e4"/>
<rect x="1048.3" y="245.5" width="108.6" height="2.5" fill="#e2f3f3"/>
<rect x="1048.3" y="248.0" width="108.6" height="1.5" fill="#cfebeb"/>
<rect x="1048.3" y="249.5" width="108.6" height="4.0" fill="#b8e2e4"/>
<rect x="1048.3" y="253.5" width="108.6" height="4.0" fill="#e2f3f3"/>
<rect x="1048.3" y="257.5" width="108.6" height="7.0" fill="#cfebeb"/>
<rect x="1048.3" y="264.5" width="108.6" height="3.0" fill="#e2f3f3"/>
<rect x="1048.3" y="267.5" width="108.6" height="2.5" fill="#b8e2e4"/>
<rect x="1048.3" y="270.0" width="108.6" height="3.0" fill="#cfebeb"/>
<rect x="1048.3" y="273.0" width="108.6" height="4.0" fill="#e2f3f3"/>
<rect x="1048.3" y="277.0" width="108.6" height="4.0" fill="#cfebeb"/>
<rect x="1048.3" y="281.0" width="108.6" height="8.0" fill="#b8e2e4"/>
<rect x="1048.3" y="289.0" width="108.6" height="4.5" fill="#cfebeb"/>
<rect x="1048.3" y="293.5" width="108.6" height="5.5" fill="#b8e2e4"/>
<rect x="1048.3" y="299.0" width="108.6" height="1.0" fill="#cfebeb"/>
<rect x="1048.3" y="300.0" width="108.6" height="7.0" fill="#e2f3f3"/>
<rect x="1048.3" y="307.0" width="108.6" height="3.0" fill="#cfebeb"/>
<rect x="1048.3" y="310.0" width="108.6" height="9.5" fill="#e2f3f3"/>
<rect x="1048.3" y="319.5" width="108.6" height="2.5" fill="#cfebeb"/>
<rect x="1048.3" y="323.5" width="108.6" height="8.0" fill="#b8e2e4"/>
<rect x="1048.3" y="331.5" width="108.6" height="4.5" fill="#cfebeb"/>
<rect x="1048.3" y="336.0" width="108.6" height="2.5" fill="#e2f3f3"/>
<rect x="1048.3" y="338.5" width="108.6" height="7.0" fill="#cfebeb"/>
<rect x="1048.3" y="345.5" width="108.6" height="2.5" fill="#e2f3f3"/>
<rect x="1048.3" y="348.0" width="108.6" height="1.0" fill="#b8e2e4"/>
<rect x="1048.3" y="349.0" width="108.6" height="2.5" fill="#faa8a4"/>
<rect x="1048.3" y="351.5" width="108.6" height="3.0" fill="#fc7e7a"/>
<rect x="1048.3" y="354.5" width="108.6" height="20.5" fill="#faa8a4"/>
<rect x="1048.3" y="375.0" width="108.6" height="9.5" fill="#fed3d2"/>
<rect x="1048.3" y="384.5" width="108.6" height="13.5" fill="#faa8a4"/>
<rect x="1048.3" y="398.0" width="108.6" height="11.0" fill="#fed3d2"/>
<rect x="1048.3" y="409.0" width="108.6" height="19.5" fill="#faa8a4"/>
<rect x="1048.3" y="428.5" width="108.6" height="2.5" fill="#fed3d2"/>
<rect x="1048.3" y="431.0" width="108.6" height="9.5" fill="#faa8a4"/>
<rect x="1048.3" y="440.5" width="108.6" height="1.5" fill="#fc7e7a"/>
<rect x="1048.3" y="442.0" width="108.6" height="4.0" fill="#faa8a4"/>
<rect x="1048.3" y="446.0" width="108.6" height="1.5" fill="#fc7e7a"/>
<rect x="1048.3" y="447.5" width="108.6" height="4.0" fill="#faa8a4"/>
<rect x="1048.3" y="451.5" width="108.6" height="4.0" fill="#fed3d2"/>
<rect x="1048.3" y="455.5" width="108.6" height="3.0" fill="#faa8a4"/>
<rect x="1048.3" y="458.5" width="108.6" height="5.5" fill="#fed3d2"/>
<rect x="1048.3" y="464.0" width="108.6" height="6.5" fill="#faa8a4"/>
<rect x="1048.3" y="470.5" width="108.6" height="1.5" fill="#fc7e7a"/>
<rect x="1048.3" y="472.0" width="108.6" height="5.5" fill="#faa8a4"/>
<rect x="1048.3" y="477.5" width="108.6" height="1.5" fill="#fed3d2"/>
<rect x="1048.3" y="479.0" width="108.6" height="9.5" fill="#faa8a4"/>
<rect x="1048.3" y="488.5" width="108.6" height="5.5" fill="#fed3d2"/>
<rect x="1048.3" y="494.0" width="108.6" height="16.5" fill="#faa8a4"/>
<rect x="1048.3" y="510.5" width="108.6" height="8.0" fill="#fed3d2"/>
<rect x="1048.3" y="518.5" width="108.6" height="3.0" fill="#faa8a4"/>
<rect x="1048.3" y="521.5" width="108.6" height="2.5" fill="#fed3d2"/>
<rect x="1048.3" y="524.0" width="108.6" height="40.0" fill="#faa8a4"/>
<rect x="1048.3" y="564.0" width="108.6" height="1.5" fill="#fed3d2"/>
<rect x="1048.3" y="565.5" width="108.6" height="4.0" fill="#faa8a4"/>
<rect x="1048.3" y="569.5" width="108.6" height="2.5" fill="#fed3d2"/>
<rect x="1048.3" y="572.0" width="108.6" height="7.0" fill="#faa8a4"/>
<rect x="1048.3" y="579.0" width="108.6" height="2.5" fill="#fc7e7a"/>
<rect x="1048.3" y="581.5" width="108.6" height="6.5" fill="#fed3d2"/>
<rect x="1048.3" y="588.0" width="108.6" height="0.5" fill="#fc7e7a"/>
<rect x="1156.7" y="38.5" width="108.6" height="4.0" fill="#e2f3f3"/>
<rect x="1156.7" y="42.5" width="108.6" height="5.5" fill="#cfebeb"/>
<rect x="1156.7" y="48.0" width="108.6" height="7.0" fill="#b8e2e4"/>
<rect x="1156.7" y="55.0" width="108.6" height="4.0" fill="#cfebeb"/>
<rect x="1156.7" y="59.0" width="108.6" height="1.5" fill="#b8e2e4"/>
<rect x="1156.7" y="60.5" width="108.6" height="1.5" fill="#cfebeb"/>
<rect x="1156.7" y="62.0" width="108.6" height="1.0" fill="#b8e2e4"/>
<rect x="1156.7" y="63.0" width="108.6" height="8.5" fill="#cfebeb"/>
<rect x="1156.7" y="71.5" width="108.6" height="5.5" fill="#b8e2e4"/>
<rect x="1156.7" y="77.0" width="108.6" height="5.5" fill="#cfebeb"/>
<rect x="1156.7" y="82.5" width="108.6" height="2.5" fill="#b8e2e4"/>
<rect x="1156.7" y="85.0" width="108.6" height="4.0" fill="#cfebeb"/>
<rect x="1156.7" y="89.0" width="108.6" height="4.5" fill="#b8e2e4"/>
<rect x="1156.7" y="93.5" width="108.6" height="1.0" fill="#cfebeb"/>
<rect x="1156.7" y="94.5" width="108.6" height="4.5" fill="#e2f3f3"/>
<rect x="1156.7" y="99.0" width="108.6" height="1.0" fill="#b8e2e4"/>
<rect x="1156.7" y="100.0" width="108.6" height="16.5" fill="#cfebeb"/>
<rect x="1156.7" y="116.5" width="108.6" height="3.0" fill="#b8e2e4"/>
<rect x="1156.7" y="119.5" width="108.6" height="9.5" fill="#cfebeb"/>
<rect x="1156.7" y="129.0" width="108.6" height="1.5" fill="#e2f3f3"/>
<rect x="1156.7" y="130.5" width="108.6" height="2.5" fill="#cfebeb"/>
<rect x="1156.7" y="133.0" width="108.6" height="3.0" fill="#e2f3f3"/>
<rect x="1156.7" y="136.0" width="108.6" height="8.0" fill="#cfebeb"/>
<rect x="1156.7" y="144.0" width="108.6" height="2.5" fill="#e2f3f3"/>
<rect x="1156.7" y="146.5" width="108.6" height="1.5" fill="#cfebeb"/>
<rect x="1156.7" y="148.0" width="108.6" height="4.0" fill="#b8e2e4"/>
<rect x="1156.7" y="152.0" width="108.6" height="1.5" fill="#e2f3f3"/>
<rect x="1156.7" y="153.5" width="108.6" height="5.5" fill="#cfebeb"/>
<rect x="1156.7" y="159.0" width="108.6" height="3.0" fill="#e2f3f3"/>
<rect x="1156.7" y="162.0" width="108.6" height="4.0" fill="#cfebeb"/>
<rect x="1156.7" y="166.0" width="108.6" height="1.5" fill="#b8e2e4"/>
<rect x="1156.7" y="167.5" width="108.6" height="1.0" fill="#cfebeb"/>
<rect x="1156.7" y="168.5" width="108.6" height="1.5" fill="#e2f3f3"/>
<rect x="1156.7" y="170.0" width="108.6" height="15.0" fill="#cfebeb"/>
<rect x="1156.7" y="185.0" width="108.6" height="4.0" fill="#e2f3f3"/>
<rect x="1156.7" y="189.0" width="108.6" height="3.0" fill="#cfebeb"/>
<rect x="1156.7" y="192.0" width="108.6" height="4.0" fill="#e2f3f3"/>
<rect x="1156.7" y="196.0" width="108.6" height="4.0" fill="#cfebeb"/>
<rect x="1156.7" y="200.0" width="108.6" height="4.5" fill="#e2f3f3"/>
<rect x="1156.7" y="204.5" width="108.6" height="8.0" fill="#cfebeb"/>
<rect x="1156.7" y="212.5" width="108.6" height="4.0" fill="#b8e2e4"/>
<rect x="1156.7" y="216.5" width="108.6" height="3.0" fill="#cfebeb"/>
<rect x="1156.7" y="219.5" width="108.6" height="4.0" fill="#e2f3f3"/>
<rect x="1156.7" y="223.5" width="108.6" height="1.5" fill="#b8e2e4"/>
<rect x="1156.7" y="225.0" width="108.6" height="1.0" fill="#cfebeb"/>
<rect x="1156.7" y="226.0" width="108.6" height="5.5" fill="#b8e2e4"/>
<rect x="1156.7" y="231.5" width="108.6" height="1.5" fill="#cfebeb"/>
<rect x="1156.7" y="233.0" width="108.6" height="3.0" fill="#e2f3f3"/>
<rect x="1156.7" y="236.0" width="108.6" height="8.0" fill="#cfebeb"/>
<rect x="1156.7" y="244.0" width="108.6" height="4.0" fill="#b8e2e4"/>
<rect x="1156.7" y="248.0" width="108.6" height="1.5" fill="#e2f3f3"/>
<rect x="1156.7" y="249.5" width="108.6" height="4.0" fill="#cfebeb"/>
<rect x="1156.7" y="253.5" width="108.6" height="1.5" fill="#b8e2e4"/>
<rect x="1156.7" y="255.0" width="108.6" height="4.0" fill="#e2f3f3"/>
<rect x="1156.7" y="259.0" width="108.6" height="4.0" fill="#cfebeb"/>
<rect x="1156.7" y="263.0" width="108.6" height="1.5" fill="#e2f3f3"/>
<rect x="1156.7" y="264.5" width="108.6" height="1.5" fill="#cfebeb"/>
<rect x="1156.7" y="266.0" width="108.6" height="4.0" fill="#b8e2e4"/>
<rect x="1156.7" y="270.0" width="108.6" height="1.5" fill="#cfebeb"/>
<rect x="1156.7" y="271.5" width="108.6" height="4.0" fill="#e2f3f3"/>
<rect x="1156.7" y="275.5" width="108.6" height="3.0" fill="#cfebeb"/>
<rect x="1156.7" y="278.5" width="108.6" height="1.0" fill="#e2f3f3"/>
<rect x="1156.7" y="279.5" width="108.6" height="1.5" fill="#b8e2e4"/>
<rect x="1156.7" y="281.0" width="108.6" height="1.5" fill="#e2f3f3"/>
<rect x="1156.7" y="282.5" width="108.6" height="4.0" fill="#b8e2e4"/>
<rect x="1156.7" y="286.5" width="108.6" height="4.0" fill="#e2f3f3"/>
<rect x="1156.7" y="290.5" width="108.6" height="18.0" fill="#cfebeb"/>
<rect x="1156.7" y="308.5" width="108.6" height="1.5" fill="#b8e2e4"/>
<rect x="1156.7" y="310.0" width="108.6" height="2.5" fill="#cfebeb"/>
<rect x="1156.7" y="312.5" width="108.6" height="4.0" fill="#b8e2e4"/>
<rect x="1156.7" y="316.5" width="108.6" height="4.0" fill="#cfebeb"/>
<rect x="1156.7" y="320.5" width="108.6" height="1.5" fill="#b8e2e4"/>
<rect x="1156.7" y="322.0" width="108.6" height="8.5" fill="#cfebeb"/>
<rect x="1156.7" y="330.5" width="108.6" height="1.0" fill="#b8e2e4"/>
<rect x="1156.7" y="331.5" width="108.6" height="11.0" fill="#cfebeb"/>
<rect x="1156.7" y="342.5" width="108.6" height="5.5" fill="#b8e2e4"/>
<rect x="1156.7" y="348.0" width="108.6" height="1.0" fill="#cfebeb"/>
<rect x="1156.7" y="349.0" width="108.6" height="1.0" fill="#faa8a4"/>
<rect x="1156.7" y="350.0" width="108.6" height="11.0" fill="#fed3d2"/>
<rect x="1156.7" y="361.0" width="108.6" height="3.0" fill="#faa8a4"/>
<rect x="1156.7" y="368.0" width="108.6" height="4.0" fill="#fed3d2"/>
<rect x="1156.7" y="372.0" width="108.6" height="2.5" fill="#fc7e7a"/>
<rect x="1156.7" y="374.5" width="108.6" height="5.5" fill="#faa8a4"/>
<rect x="1156.7" y="380.0" width="108.6" height="5.5" fill="#fed3d2"/>
<rect x="1156.7" y="385.5" width="108.6" height="5.5" fill="#faa8a4"/>
<rect x="1156.7" y="391.0" width="108.6" height="4.5" fill="#fed3d2"/>
<rect x="1156.7" y="395.5" width="108.6" height="2.5" fill="#faa8a4"/>
<rect x="1156.7" y="398.0" width="108.6" height="4.0" fill="#fed3d2"/>
<rect x="1156.7" y="402.0" width="108.6" height="1.5" fill="#faa8a4"/>
<rect x="1156.7" y="403.5" width="108.6" height="5.5" fill="#fed3d2"/>
<rect x="1156.7" y="409.0" width="108.6" height="8.0" fill="#faa8a4"/>
<rect x="1156.7" y="417.0" width="108.6" height="4.5" fill="#fed3d2"/>
<rect x="1156.7" y="421.5" width="108.6" height="2.5" fill="#faa8a4"/>
<rect x="1156.7" y="424.0" width="108.6" height="5.5" fill="#fed3d2"/>
<rect x="1156.7" y="429.5" width="108.6" height="3.0" fill="#fc7e7a"/>
<rect x="1156.7" y="432.5" width="108.6" height="8.0" fill="#faa8a4"/>
<rect x="1156.7" y="440.5" width="108.6" height="1.5" fill="#fed3d2"/>
<rect x="1156.7" y="442.0" width="108.6" height="2.5" fill="#faa8a4"/>
<rect x="1156.7" y="444.5" width="108.6" height="16.5" fill="#fed3d2"/>
<rect x="1156.7" y="461.0" width="108.6" height="1.5" fill="#fc7e7a"/>
<rect x="1156.7" y="462.5" width="108.6" height="2.5" fill="#fed3d2"/>
<rect x="1156.7" y="465.0" width="108.6" height="3.0" fill="#faa8a4"/>
<rect x="1156.7" y="468.0" width="108.6" height="1.5" fill="#fed3d2"/>
<rect x="1156.7" y="469.5" width="108.6" height="1.0" fill="#faa8a4"/>
<rect x="1156.7" y="470.5" width="108.6" height="5.5" fill="#fed3d2"/>
<rect x="1156.7" y="476.0" width="108.6" height="4.0" fill="#faa8a4"/>
<rect x="1156.7" y="480.0" width="108.6" height="3.0" fill="#fed3d2"/>
<rect x="1156.7" y="483.0" width="108.6" height="5.5" fill="#faa8a4"/>
<rect x="1156.7" y="488.5" width="108.6" height="8.0" fill="#fed3d2"/>
<rect x="1156.7" y="496.5" width="108.6" height="4.5" fill="#faa8a4"/>
<rect x="1156.7" y="501.0" width="108.6" height="1.0" fill="#fed3d2"/>
<rect x="1156.7" y="502.0" width="108.6" height="3.0" fill="#faa8a4"/>
<rect x="1156.7" y="505.0" width="108.6" height="4.0" fill="#fed3d2"/>
<rect x="1156.7" y="509.0" width="108.6" height="5.5" fill="#faa8a4"/>
<rect x="1156.7" y="514.5" width="108.6" height="4.0" fill="#fed3d2"/>
<rect x="1156.7" y="518.5" width="108.6" height="1.5" fill="#faa8a4"/>
<rect x="1156.7" y="520.0" width="108.6" height="1.5" fill="#fed3d2"/>
<rect x="1156.7" y="521.5" width="108.6" height="1.0" fill="#faa8a4"/>
<rect x="1156.7" y="522.5" width="108.6" height="4.5" fill="#fed3d2"/>
<rect x="1156.7" y="527.0" width="108.6" height="16.5" fill="#faa8a4"/>
<rect x="1156.7" y="543.5" width="108.6" height="1.0" fill="#fed3d2"/>
<rect x="1156.7" y="544.5" width="108.6" height="3.0" fill="#faa8a4"/>
<rect x="1156.7" y="547.5" width="108.6" height="8.0" fill="#fed3d2"/>
<rect x="1156.7" y="555.5" width="108.6" height="16.5" fill="#faa8a4"/>
<rect x="1156.7" y="572.0" width="108.6" height="3.0" fill="#fed3d2"/>
<rect x="1156.7" y="575.0" width="108.6" height="5.0" fill="#faa8a4"/>
<rect x="1156.7" y="580.0" width="108.6" height="8.0" fill="#fed3d2"/>
<rect x="1156.7" y="588.0" width="108.6" height="0.5" fill="#fc7e7a"/>
<rect x="1265" y="38.5" width="108.6" height="2.5" fill="#e2f3f3"/>
<rect x="1265" y="51.0" width="108.6" height="2.5" fill="#e2f3f3"/>
<rect x="1265" y="57.5" width="108.6" height="3.0" fill="#e2f3f3"/>
<rect x="1265" y="64.5" width="108.6" height="2.0" fill="#e2f3f3"/>
<rect x="1265" y="66.5" width="108.6" height="14.0" fill="#fed3d2"/>
<rect x="1265" y="80.5" width="108.6" height="5.5" fill="#faa8a4"/>
<rect x="1265" y="86.0" width="108.6" height="1.5" fill="#fc7e7a"/>
<rect x="1265" y="87.5" width="108.6" height="4.0" fill="#faa8a4"/>
<rect x="1265" y="91.5" width="108.6" height="3.0" fill="#fc7e7a"/>
<rect x="1265" y="94.5" width="108.6" height="4.0" fill="#faa8a4"/>
<rect x="1265" y="98.5" width="108.6" height="2.5" fill="#fc7e7a"/>
<rect x="1265" y="101.0" width="108.6" height="1.5" fill="#faa8a4"/>
<rect x="1265" y="102.5" width="108.6" height="2.5" fill="#fed3d2"/>
<rect x="1265" y="105.0" width="108.6" height="14.0" fill="#faa8a4"/>
<rect x="1265" y="119.0" width="108.6" height="1.5" fill="#fed3d2"/>
<rect x="1265" y="124.5" width="108.6" height="4.0" fill="#fed3d2"/>
<rect x="1265" y="130.0" width="108.6" height="7.0" fill="#fed3d2"/>
<rect x="1265" y="138.0" width="108.6" height="8.5" fill="#fed3d2"/>
<rect x="1265" y="147.5" width="108.6" height="16.5" fill="#fed3d2"/>
<rect x="1265" y="174.0" width="108.6" height="4.0" fill="#fed3d2"/>
<rect x="1265" y="188.0" width="108.6" height="8.5" fill="#fed3d2"/>
<rect x="1265" y="214.5" width="108.6" height="4.0" fill="#faa8a4"/>
<rect x="1265" y="218.5" width="108.6" height="11.5" fill="#fed3d2"/>
<rect x="1265" y="230.0" width="108.6" height="9.0" fill="#faa8a4"/>
<rect x="1265" y="239.0" width="108.6" height="16.0" fill="#fed3d2"/>
<rect x="1265" y="255.0" width="108.6" height="7.0" fill="#faa8a4"/>
<rect x="1265" y="262.0" width="108.6" height="4.0" fill="#fed3d2"/>
<rect x="1265" y="266.0" width="108.6" height="2.5" fill="#faa8a4"/>
<rect x="1265" y="268.5" width="108.6" height="4.5" fill="#fed3d2"/>
<rect x="1265" y="273.0" width="108.6" height="16.5" fill="#faa8a4"/>
<rect x="1265" y="289.5" width="108.6" height="4.0" fill="#fed3d2"/>
<rect x="1265" y="293.5" width="108.6" height="8.0" fill="#faa8a4"/>
<rect x="1265" y="301.5" width="108.6" height="7.0" fill="#fed3d2"/>
<rect x="1265" y="308.5" width="108.6" height="1.5" fill="#faa8a4"/>
<rect x="1265" y="310.0" width="108.6" height="39.0" fill="#fed3d2"/>
<rect x="1265" y="349.0" width="108.6" height="4.0" fill="#e2f3f3"/>
<rect x="1265" y="353.0" width="108.6" height="2.5" fill="#cfebeb"/>
<rect x="1265" y="360.0" width="108.6" height="4.0" fill="#e2f3f3"/>
<rect x="1265" y="364.0" width="108.6" height="4.0" fill="#cfebeb"/>
<rect x="1265" y="368.0" width="108.6" height="7.0" fill="#e2f3f3"/>
<rect x="1265" y="375.0" width="108.6" height="4.0" fill="#cfebeb"/>
<rect x="1265" y="379.0" width="108.6" height="2.5" fill="#b8e2e4"/>
<rect x="1265" y="381.5" width="108.6" height="3.0" fill="#cfebeb"/>
<rect x="1265" y="384.5" width="108.6" height="4.0" fill="#e2f3f3"/>
<rect x="1265" y="388.5" width="108.6" height="4.0" fill="#b8e2e4"/>
<rect x="1265" y="392.5" width="108.6" height="3.0" fill="#e2f3f3"/>
<rect x="1265" y="395.5" width="108.6" height="4.0" fill="#cfebeb"/>
<rect x="1265" y="399.5" width="108.6" height="1.5" fill="#b8e2e4"/>
<rect x="1265" y="401.0" width="108.6" height="2.5" fill="#e2f3f3"/>
<rect x="1265" y="403.5" width="108.6" height="11.0" fill="#cfebeb"/>
<rect x="1265" y="414.5" width="108.6" height="4.0" fill="#e2f3f3"/>
<rect x="1265" y="418.5" width="108.6" height="3.0" fill="#cfebeb"/>
<rect x="1265" y="421.5" width="108.6" height="2.5" fill="#b8e2e4"/>
<rect x="1265" y="424.0" width="108.6" height="1.5" fill="#e2f3f3"/>
<rect x="1265" y="425.5" width="108.6" height="9.5" fill="#cfebeb"/>
<rect x="1265" y="435.0" width="108.6" height="4.0" fill="#e2f3f3"/>
<rect x="1265" y="439.0" width="108.6" height="7.0" fill="#cfebeb"/>
<rect x="1265" y="446.0" width="108.6" height="3.0" fill="#b8e2e4"/>
<rect x="1265" y="449.0" width="108.6" height="1.0" fill="#e2f3f3"/>
<rect x="1265" y="450.0" width="108.6" height="4.5" fill="#cfebeb"/>
<rect x="1265" y="454.5" width="108.6" height="4.0" fill="#e2f3f3"/>
<rect x="1265" y="458.5" width="108.6" height="7.0" fill="#cfebeb"/>
<rect x="1265" y="465.5" width="108.6" height="4.0" fill="#e2f3f3"/>
<rect x="1265" y="469.5" width="108.6" height="1.0" fill="#b8e2e4"/>
<rect x="1265" y="470.5" width="108.6" height="1.5" fill="#e2f3f3"/>
<rect x="1265" y="472.0" width="108.6" height="4.0" fill="#b8e2e4"/>
<rect x="1265" y="476.0" width="108.6" height="4.5" fill="#cfebeb"/>
<rect x="1265" y="480.5" width="108.6" height="2.5" fill="#b8e2e4"/>
<rect x="1265" y="483.0" width="108.6" height="3.0" fill="#cfebeb"/>
<rect x="1265" y="486.0" width="108.6" height="1.0" fill="#e2f3f3"/>
<rect x="1265" y="487.0" width="108.6" height="8.5" fill="#cfebeb"/>
<rect x="1265" y="495.5" width="108.6" height="8.0" fill="#e2f3f3"/>
<rect x="1265" y="503.5" width="108.6" height="3.0" fill="#cfebeb"/>
<rect x="1265" y="509.0" width="108.6" height="1.5" fill="#cfebeb"/>
<rect x="1265" y="510.5" width="108.6" height="1.5" fill="#e2f3f3"/>
<rect x="1265" y="512.0" width="108.6" height="1.0" fill="#cfebeb"/>
<rect x="1265" y="513.0" width="108.6" height="3.0" fill="#e2f3f3"/>
<rect x="1265" y="516.0" width="108.6" height="1.5" fill="#cfebeb"/>
<rect x="1265" y="517.5" width="108.6" height="5.5" fill="#e2f3f3"/>
<rect x="1265" y="523.0" width="108.6" height="5.5" fill="#cfebeb"/>
<rect x="1265" y="528.5" width="108.6" height="4.0" fill="#b8e2e4"/>
<rect x="1265" y="532.5" width="108.6" height="9.5" fill="#e2f3f3"/>
<rect x="1265" y="542.0" width="108.6" height="1.5" fill="#cfebeb"/>
<rect x="1265" y="543.5" width="108.6" height="1.0" fill="#b8e2e4"/>
<rect x="1265" y="544.5" width="108.6" height="4.5" fill="#cfebeb"/>
<rect x="1265" y="549.0" width="108.6" height="2.5" fill="#e2f3f3"/>
<rect x="1265" y="551.5" width="108.6" height="4.0" fill="#cfebeb"/>
<rect x="1265" y="555.5" width="108.6" height="1.5" fill="#e2f3f3"/>
<rect x="1265" y="557.0" width="108.6" height="7.0" fill="#b8e2e4"/>
<rect x="1265" y="564.0" width="108.6" height="2.5" fill="#e2f3f3"/>
<rect x="1265" y="566.5" width="108.6" height="1.5" fill="#cfebeb"/>
<rect x="1265" y="568.0" width="108.6" height="2.5" fill="#e2f3f3"/>
<rect x="1265" y="570.5" width="108.6" height="10.0" fill="#cfebeb"/>
<rect x="1265" y="580.5" width="108.6" height="1.0" fill="#e2f3f3"/>
<rect x="1265" y="581.5" width="108.6" height="5.5" fill="#b8e2e4"/>
<rect x="1265" y="587.0" width="108.6" height="1.0" fill="#e2f3f3"/>
<rect x="1265" y="588.0" width="108.6" height="0.5" fill="#fc7e7a"/>
<rect x="1373.3" y="38.5" width="108.6" height="1.5" fill="#faa8a4"/>
<rect x="1373.3" y="40.0" width="108.6" height="6.5" fill="#fc7e7a"/>
<rect x="1373.3" y="46.5" width="108.6" height="3.0" fill="#faa8a4"/>
<rect x="1373.3" y="49.5" width="108.6" height="4.0" fill="#fc7e7a"/>
<rect x="1373.3" y="53.5" width="108.6" height="3.0" fill="#faa8a4"/>
<rect x="1373.3" y="56.5" width="108.6" height="9.5" fill="#fc7e7a"/>
<rect x="1373.3" y="66.0" width="108.6" height="0.5" fill="#faa8a4"/>
<rect x="1373.3" y="70.5" width="108.6" height="7.0" fill="#fed3d2"/>
<rect x="1373.3" y="84.5" width="108.6" height="1.5" fill="#faa8a4"/>
<rect x="1373.3" y="86.0" width="108.6" height="8.5" fill="#fc7e7a"/>
<rect x="1373.3" y="94.5" width="108.6" height="24.5" fill="#faa8a4"/>
<rect x="1373.3" y="119.0" width="108.6" height="1.5" fill="#fc7e7a"/>
<rect x="1373.3" y="120.5" width="108.6" height="0.5" fill="#faa8a4"/>
<rect x="1373.3" y="121.0" width="108.6" height="6.0" fill="#fc7e7a"/>
<rect x="1373.3" y="127.0" width="108.6" height="13.5" fill="#faa8a4"/>
<rect x="1373.3" y="140.5" width="108.6" height="1.5" fill="#fc7e7a"/>
<rect x="1373.3" y="142.0" width="108.6" height="14.0" fill="#faa8a4"/>
<rect x="1373.3" y="156.0" width="108.6" height="2.5" fill="#fc7e7a"/>
<rect x="1373.3" y="158.5" width="108.6" height="5.5" fill="#faa8a4"/>
<rect x="1373.3" y="164.0" width="108.6" height="1.5" fill="#fc7e7a"/>
<rect x="1373.3" y="165.5" width="108.6" height="23.0" fill="#faa8a4"/>
<rect x="1373.3" y="188.5" width="108.6" height="4.0" fill="#fed3d2"/>
<rect x="1373.3" y="192.5" width="108.6" height="15.0" fill="#faa8a4"/>
<rect x="1373.3" y="207.5" width="108.6" height="4.5" fill="#fed3d2"/>
<rect x="1373.3" y="212.0" width="108.6" height="28.5" fill="#faa8a4"/>
<rect x="1373.3" y="240.5" width="108.6" height="1.5" fill="#fc7e7a"/>
<rect x="1373.3" y="242.0" width="108.6" height="31.0" fill="#faa8a4"/>
<rect x="1373.3" y="273.0" width="108.6" height="16.5" fill="#fed3d2"/>
<rect x="1373.3" y="289.5" width="108.6" height="7.0" fill="#faa8a4"/>
<rect x="1373.3" y="296.5" width="108.6" height="1.5" fill="#fed3d2"/>
<rect x="1373.3" y="298.0" width="108.6" height="16.0" fill="#faa8a4"/>
<rect x="1373.3" y="314.0" width="108.6" height="4.0" fill="#fed3d2"/>
<rect x="1373.3" y="318.0" width="108.6" height="3.0" fill="#faa8a4"/>
<rect x="1373.3" y="321.0" width="108.6" height="9.0" fill="#fed3d2"/>
<rect x="1373.3" y="330.0" width="108.6" height="19.0" fill="#faa8a4"/>
<rect x="1373.3" y="349.0" width="108.6" height="4.0" fill="#b8e2e4"/>
<rect x="1373.3" y="353.0" width="108.6" height="2.5" fill="#cfebeb"/>
<rect x="1373.3" y="355.5" width="108.6" height="3.0" fill="#a0dadb"/>
<rect x="1373.3" y="358.5" width="108.6" height="1.5" fill="#b8e2e4"/>
<rect x="1373.3" y="360.0" width="108.6" height="8.0" fill="#e2f3f3"/>
<rect x="1373.3" y="368.0" width="108.6" height="1.5" fill="#b8e2e4"/>
<rect x="1373.3" y="369.5" width="108.6" height="4.0" fill="#cfebeb"/>
<rect x="1373.3" y="373.5" width="108.6" height="2.5" fill="#e2f3f3"/>
<rect x="1373.3" y="376.0" width="108.6" height="5.5" fill="#cfebeb"/>
<rect x="1373.3" y="381.5" width="108.6" height="4.5" fill="#b8e2e4"/>
<rect x="1373.3" y="386.0" width="108.6" height="4.0" fill="#cfebeb"/>
<rect x="1373.3" y="390.0" width="108.6" height="1.5" fill="#a0dadb"/>
<rect x="1373.3" y="391.5" width="108.6" height="5.5" fill="#b8e2e4"/>
<rect x="1373.3" y="397.0" width="108.6" height="4.0" fill="#cfebeb"/>
<rect x="1373.3" y="401.0" width="108.6" height="4.0" fill="#b8e2e4"/>
<rect x="1373.3" y="405.0" width="108.6" height="2.5" fill="#cfebeb"/>
<rect x="1373.3" y="407.5" width="108.6" height="1.5" fill="#b8e2e4"/>
<rect x="1373.3" y="409.0" width="108.6" height="4.0" fill="#a0dadb"/>
<rect x="1373.3" y="413.0" width="108.6" height="12.5" fill="#cfebeb"/>
<rect x="1373.3" y="425.5" width="108.6" height="1.5" fill="#e2f3f3"/>
<rect x="1373.3" y="427.0" width="108.6" height="4.0" fill="#b8e2e4"/>
<rect x="1373.3" y="431.0" width="108.6" height="4.0" fill="#cfebeb"/>
<rect x="1373.3" y="435.0" width="108.6" height="3.0" fill="#b8e2e4"/>
<rect x="1373.3" y="438.0" width="108.6" height="4.0" fill="#cfebeb"/>
<rect x="1373.3" y="442.0" width="108.6" height="2.5" fill="#b8e2e4"/>
<rect x="1373.3" y="444.5" width="108.6" height="4.5" fill="#e2f3f3"/>
<rect x="1373.3" y="449.0" width="108.6" height="2.5" fill="#b8e2e4"/>
<rect x="1373.3" y="451.5" width="108.6" height="1.5" fill="#cfebeb"/>
<rect x="1373.3" y="453.0" width="108.6" height="1.5" fill="#a0dadb"/>
<rect x="1373.3" y="454.5" width="108.6" height="2.5" fill="#b8e2e4"/>
<rect x="1373.3" y="457.0" width="108.6" height="3.0" fill="#a0dadb"/>
<rect x="1373.3" y="460.0" width="108.6" height="5.5" fill="#cfebeb"/>
<rect x="1373.3" y="465.5" width="108.6" height="2.5" fill="#b8e2e4"/>
<rect x="1373.3" y="468.0" width="108.6" height="1.5" fill="#cfebeb"/>
<rect x="1373.3" y="469.5" width="108.6" height="1.0" fill="#b8e2e4"/>
<rect x="1373.3" y="470.5" width="108.6" height="3.0" fill="#a0dadb"/>
<rect x="1373.3" y="473.5" width="108.6" height="4.0" fill="#b8e2e4"/>
<rect x="1373.3" y="477.5" width="108.6" height="4.0" fill="#e2f3f3"/>
<rect x="1373.3" y="481.5" width="108.6" height="4.5" fill="#cfebeb"/>
<rect x="1373.3" y="486.0" width="108.6" height="4.0" fill="#b8e2e4"/>
<rect x="1373.3" y="490.0" width="108.6" height="1.5" fill="#cfebeb"/>
<rect x="1373.3" y="491.5" width="108.6" height="1.0" fill="#b8e2e4"/>
<rect x="1373.3" y="492.5" width="108.6" height="1.5" fill="#cfebeb"/>
<rect x="1373.3" y="494.0" width="108.6" height="3.0" fill="#b8e2e4"/>
<rect x="1373.3" y="497.0" width="108.6" height="1.0" fill="#cfebeb"/>
<rect x="1373.3" y="498.0" width="108.6" height="1.5" fill="#b8e2e4"/>
<rect x="1373.3" y="499.5" width="108.6" height="2.5" fill="#cfebeb"/>
<rect x="1373.3" y="502.0" width="108.6" height="1.5" fill="#a0dadb"/>
<rect x="1373.3" y="503.5" width="108.6" height="4.0" fill="#e2f3f3"/>
<rect x="1373.3" y="507.5" width="108.6" height="4.5" fill="#cfebeb"/>
<rect x="1373.3" y="512.0" width="108.6" height="1.0" fill="#b8e2e4"/>
<rect x="1373.3" y="513.0" width="108.6" height="4.5" fill="#cfebeb"/>
<rect x="1373.3" y="517.5" width="108.6" height="4.0" fill="#e2f3f3"/>
<rect x="1373.3" y="521.5" width="108.6" height="2.5" fill="#a0dadb"/>
<rect x="1373.3" y="524.0" width="108.6" height="4.5" fill="#b8e2e4"/>
<rect x="1373.3" y="528.5" width="108.6" height="2.5" fill="#e2f3f3"/>
<rect x="1373.3" y="531.0" width="108.6" height="8.0" fill="#cfebeb"/>
<rect x="1373.3" y="539.0" width="108.6" height="8.5" fill="#b8e2e4"/>
<rect x="1373.3" y="547.5" width="108.6" height="7.0" fill="#cfebeb"/>
<rect x="1373.3" y="554.5" width="108.6" height="6.5" fill="#b8e2e4"/>
<rect x="1373.3" y="561.0" width="108.6" height="4.5" fill="#cfebeb"/>
<rect x="1373.3" y="565.5" width="108.6" height="6.5" fill="#b8e2e4"/>
<rect x="1373.3" y="572.0" width="108.6" height="4.0" fill="#e2f3f3"/>
<rect x="1373.3" y="576.0" width="108.6" height="3.0" fill="#cfebeb"/>
<rect x="1373.3" y="579.0" width="108.6" height="2.5" fill="#b8e2e4"/>
<rect x="1373.3" y="581.5" width="108.6" height="1.5" fill="#cfebeb"/>
<rect x="1373.3" y="583.0" width="108.6" height="4.0" fill="#e2f3f3"/>
<rect x="1373.3" y="587.0" width="108.6" height="1.0" fill="#cfebeb"/>
<rect x="1373.3" y="588.0" width="108.6" height="0.5" fill="#fc7e7a"/>
<rect x="1481.7" y="38.5" width="108.6" height="5.5" fill="#faa8a4"/>
<rect x="1481.7" y="44.0" width="108.6" height="2.5" fill="#fc7e7a"/>
<rect x="1481.7" y="46.5" width="108.6" height="4.5" fill="#faa8a4"/>
<rect x="1481.7" y="51.0" width="108.6" height="19.5" fill="#fc7e7a"/>
<rect x="1481.7" y="70.5" width="108.6" height="2.5" fill="#faa8a4"/>
<rect x="1481.7" y="73.0" width="108.6" height="5.5" fill="#fed3d2"/>
<rect x="1481.7" y="78.5" width="108.6" height="2.0" fill="#faa8a4"/>
<rect x="1481.7" y="80.5" width="108.6" height="7.0" fill="#fed3d2"/>
<rect x="1481.7" y="87.5" width="108.6" height="4.0" fill="#faa8a4"/>
<rect x="1481.7" y="91.5" width="108.6" height="1.5" fill="#fed3d2"/>
<rect x="1481.7" y="93.0" width="108.6" height="4.0" fill="#faa8a4"/>
<rect x="1481.7" y="97.0" width="108.6" height="6.0" fill="#fed3d2"/>
<rect x="1481.7" y="105.0" width="108.6" height="4.0" fill="#fed3d2"/>
<rect x="1481.7" y="109.0" width="108.6" height="4.0" fill="#faa8a4"/>
<rect x="1481.7" y="113.0" width="108.6" height="3.0" fill="#fed3d2"/>
<rect x="1481.7" y="116.0" width="108.6" height="4.0" fill="#faa8a4"/>
<rect x="1481.7" y="120.0" width="108.6" height="9.5" fill="#fed3d2"/>
<rect x="1481.7" y="129.5" width="108.6" height="4.5" fill="#faa8a4"/>
<rect x="1481.7" y="134.0" width="108.6" height="30.0" fill="#fed3d2"/>
<rect x="1481.7" y="164.0" width="108.6" height="31.5" fill="#faa8a4"/>
<rect x="1481.7" y="195.5" width="108.6" height="3.0" fill="#fc7e7a"/>
<rect x="1481.7" y="198.5" width="108.6" height="56.5" fill="#faa8a4"/>
<rect x="1481.7" y="255.0" width="108.6" height="27.5" fill="#fed3d2"/>
<rect x="1481.7" y="282.5" width="108.6" height="34.0" fill="#faa8a4"/>
<rect x="1481.7" y="316.5" width="108.6" height="3.0" fill="#fed3d2"/>
<rect x="1481.7" y="319.5" width="108.6" height="5.5" fill="#faa8a4"/>
<rect x="1481.7" y="325.0" width="108.6" height="7.0" fill="#fed3d2"/>
<rect x="1481.7" y="332.0" width="108.6" height="4.0" fill="#faa8a4"/>
<rect x="1481.7" y="336.0" width="108.6" height="4.0" fill="#fed3d2"/>
<rect x="1481.7" y="340.0" width="108.6" height="9.0" fill="#faa8a4"/>
<rect x="1481.7" y="354.5" width="108.6" height="2.0" fill="#e2f3f3"/>
<rect x="1481.7" y="356.5" width="108.6" height="4.0" fill="#cfebeb"/>
<rect x="1481.7" y="360.5" width="108.6" height="5.5" fill="#b8e2e4"/>
<rect x="1481.7" y="366.0" width="108.6" height="1.5" fill="#e2f3f3"/>
<rect x="1481.7" y="367.5" width="108.6" height="8.0" fill="#cfebeb"/>
<rect x="1481.7" y="375.5" width="108.6" height="7.0" fill="#b8e2e4"/>
<rect x="1481.7" y="382.5" width="108.6" height="15.0" fill="#cfebeb"/>
<rect x="1481.7" y="397.5" width="108.6" height="2.5" fill="#b8e2e4"/>
<rect x="1481.7" y="400.0" width="108.6" height="3.0" fill="#e2f3f3"/>
<rect x="1481.7" y="403.0" width="108.6" height="11.0" fill="#cfebeb"/>
<rect x="1481.7" y="414.0" width="108.6" height="1.5" fill="#b8e2e4"/>
<rect x="1481.7" y="416.5" width="108.6" height="8.5" fill="#cfebeb"/>
<rect x="1481.7" y="425.0" width="108.6" height="2.5" fill="#b8e2e4"/>
<rect x="1481.7" y="427.5" width="108.6" height="11.0" fill="#cfebeb"/>
<rect x="1481.7" y="438.5" width="108.6" height="3.0" fill="#e2f3f3"/>
<rect x="1481.7" y="441.5" width="108.6" height="1.0" fill="#b8e2e4"/>
<rect x="1481.7" y="442.5" width="108.6" height="3.0" fill="#cfebeb"/>
<rect x="1481.7" y="445.5" width="108.6" height="4.0" fill="#e2f3f3"/>
<rect x="1481.7" y="449.5" width="108.6" height="5.5" fill="#cfebeb"/>
<rect x="1481.7" y="455.0" width="108.6" height="1.5" fill="#e2f3f3"/>
<rect x="1481.7" y="456.5" width="108.6" height="1.5" fill="#cfebeb"/>
<rect x="1481.7" y="458.0" width="108.6" height="6.5" fill="#b8e2e4"/>
<rect x="1481.7" y="464.5" width="108.6" height="4.0" fill="#cfebeb"/>
<rect x="1481.7" y="468.5" width="108.6" height="7.0" fill="#b8e2e4"/>
<rect x="1481.7" y="475.5" width="108.6" height="3.0" fill="#cfebeb"/>
<rect x="1481.7" y="478.5" width="108.6" height="2.5" fill="#b8e2e4"/>
<rect x="1481.7" y="481.0" width="108.6" height="1.5" fill="#e2f3f3"/>
<rect x="1481.7" y="482.5" width="108.6" height="1.5" fill="#b8e2e4"/>
<rect x="1481.7" y="484.0" width="108.6" height="2.5" fill="#cfebeb"/>
<rect x="1481.7" y="486.5" width="108.6" height="1.5" fill="#e2f3f3"/>
<rect x="1481.7" y="488.0" width="108.6" height="2.5" fill="#cfebeb"/>
<rect x="1481.7" y="490.5" width="108.6" height="3.0" fill="#e2f3f3"/>
<rect x="1481.7" y="493.5" width="108.6" height="4.0" fill="#cfebeb"/>
<rect x="1481.7" y="497.5" width="108.6" height="4.0" fill="#b8e2e4"/>
<rect x="1481.7" y="501.5" width="108.6" height="5.5" fill="#cfebeb"/>
<rect x="1481.7" y="507.0" width="108.6" height="3.0" fill="#b8e2e4"/>
<rect x="1481.7" y="510.0" width="108.6" height="2.5" fill="#cfebeb"/>
<rect x="1481.7" y="512.5" width="108.6" height="3.0" fill="#b8e2e4"/>
<rect x="1481.7" y="515.5" width="108.6" height="12.0" fill="#cfebeb"/>
<rect x="1481.7" y="527.5" width="108.6" height="3.0" fill="#b8e2e4"/>
<rect x="1481.7" y="530.5" width="108.6" height="4.0" fill="#e2f3f3"/>
<rect x="1481.7" y="534.5" width="108.6" height="2.5" fill="#b8e2e4"/>
<rect x="1481.7" y="537.0" width="108.6" height="1.5" fill="#e2f3f3"/>
<rect x="1481.7" y="542.5" width="108.6" height="3.0" fill="#cfebeb"/>
<rect x="1481.7" y="545.5" width="108.6" height="4.0" fill="#b8e2e4"/>
<rect x="1481.7" y="552.5" width="108.6" height="4.0" fill="#b8e2e4"/>
<rect x="1481.7" y="558.0" width="108.6" height="6.5" fill="#cfebeb"/>
<rect x="1481.7" y="564.5" width="108.6" height="7.0" fill="#e2f3f3"/>
<rect x="1481.7" y="571.5" width="108.6" height="4.0" fill="#cfebeb"/>
<rect x="1481.7" y="575.5" width="108.6" height="1.5" fill="#b8e2e4"/>
<rect x="1481.7" y="577.0" width="108.6" height="4.0" fill="#cfebeb"/>
<rect x="1481.7" y="581.0" width="108.6" height="3.0" fill="#b8e2e4"/>
<rect x="1481.7" y="584.0" width="108.6" height="2.5" fill="#e2f3f3"/>
<rect x="1481.7" y="586.5" width="108.6" height="1.5" fill="#cfebeb"/>
<rect x="1481.7" y="588.0" width="108.6" height="0.5" fill="#fc7e7a"/>
</g>
<rect x="940" y="38.5" width="650" height="549.5" fill="none" stroke="#000" stroke-width="2.5"/>
<path d="M939.0 41.4V42.7M939.0 41.4H940.5M939.0 42.7H940.5M925.2 42.1V44.1M925.2 42.1H939.0M925.2 44.1H940.5M926.8 45.5V46.8M926.8 45.5H940.5M926.8 46.8H940.5M939.0 48.2V49.6M939.0 48.2H940.5M939.0 49.6H940.5M924.6 48.9V51.0M924.6 48.9H939.0M924.6 51.0H940.5M924.5 46.2V49.9M924.5 46.2H926.8M924.5 49.9H924.6M915.5 43.1V48.0M915.5 43.1H925.2M915.5 48.0H924.5M937.5 55.1V56.4M937.5 55.1H940.5M937.5 56.4H940.5M916.0 53.7V55.7M916.0 53.7H940.5M916.0 55.7H937.5M911.3 52.3V54.7M911.3 52.3H940.5M911.3 54.7H916.0M935.8 59.2V60.5M935.8 59.2H940.5M935.8 60.5H940.5M939.0 61.9V63.3M939.0 61.9H940.5M939.0 63.3H940.5M937.3 62.6V64.6M937.3 62.6H939.0M937.3 64.6H940.5M936.1 66.0V67.4M936.1 66.0H940.5M936.1 67.4H940.5M931.0 63.6V66.7M931.0 63.6H937.3M931.0 66.7H936.1M919.9 59.9V65.2M919.9 59.9H935.8M919.9 65.2H931.0M915.8 62.5V68.8M915.8 62.5H919.9M915.8 68.8H940.5M938.4 74.2V75.6M938.4 74.2H940.5M938.4 75.6H940.5M937.6 72.9V74.9M937.6 72.9H940.5M937.6 74.9H938.4M931.1 71.5V73.9M931.1 71.5H940.5M931.1 73.9H937.6M930.2 70.1V72.7M930.2 70.1H940.5M930.2 72.7H931.1M939.0 78.3V79.7M939.0 78.3H940.5M939.0 79.7H940.5M928.7 81.1V82.4M928.7 81.1H940.5M928.7 82.4H940.5M926.1 79.0V81.8M926.1 79.0H939.0M926.1 81.8H928.7M922.0 77.0V80.4M922.0 77.0H940.5M922.0 80.4H926.1M918.0 71.4V78.7M918.0 71.4H930.2M918.0 78.7H922.0M924.1 86.6V87.9M924.1 86.6H940.5M924.1 87.9H940.5M922.3 85.2V87.2M922.3 85.2H940.5M922.3 87.2H924.1M918.4 83.8V86.2M918.4 83.8H940.5M918.4 86.2H922.3M913.8 75.0V85.0M913.8 75.0H918.0M913.8 85.0H918.4M913.8 65.6V80.0M913.8 65.6H915.8M913.8 80.0H913.8M911.5 57.8V72.8M911.5 57.8H940.5M911.5 72.8H913.8M910.8 65.3V89.3M910.8 65.3H911.5M910.8 89.3H940.5M910.1 53.5V77.3M910.1 53.5H911.3M910.1 77.3H910.8M934.0 92.0V93.4M934.0 92.0H940.5M934.0 93.4H940.5M931.0 90.7V92.7M931.0 90.7H940.5M931.0 92.7H934.0M939.0 94.8V96.1M939.0 94.8H940.5M939.0 96.1H940.5M938.9 97.5V98.9M938.9 97.5H940.5M938.9 98.9H940.5M938.9 100.3V101.6M938.9 100.3H940.5M938.9 101.6H940.5M932.8 100.9V103.0M932.8 100.9H938.9M932.8 103.0H940.5M931.8 98.2V102.0M931.8 98.2H938.9M931.8 102.0H932.8M930.4 95.5V100.1M930.4 95.5H939.0M930.4 100.1H931.8M917.3 97.8V104.4M917.3 97.8H930.4M917.3 104.4H940.5M916.4 91.7V101.1M916.4 91.7H931.0M916.4 101.1H917.3M924.8 107.1V108.5M924.8 107.1H940.5M924.8 108.5H940.5M936.4 111.2V112.6M936.4 111.2H940.5M936.4 112.6H940.5M930.9 109.8V111.9M930.9 109.8H940.5M930.9 111.9H936.4M928.8 110.9V113.9M928.8 110.9H930.9M928.8 113.9H940.5M923.2 107.8V112.4M923.2 107.8H924.8M923.2 112.4H928.8M939.0 116.7V118.1M939.0 116.7H940.5M939.0 118.1H940.5M939.0 115.3V117.4M939.0 115.3H940.5M939.0 117.4H939.0M919.9 110.1V116.3M919.9 110.1H923.2M919.9 116.3H939.0M932.9 119.4V120.8M932.9 119.4H940.5M932.9 120.8H940.5M921.3 120.1V122.2M921.3 120.1H932.9M921.3 122.2H940.5M920.4 121.1V123.5M920.4 121.1H921.3M920.4 123.5H940.5M919.0 113.2V122.3M919.0 113.2H919.9M919.0 122.3H920.4M917.4 105.7V117.8M917.4 105.7H940.5M917.4 117.8H919.0M931.5 126.3V127.6M931.5 126.3H940.5M931.5 127.6H940.5M930.3 124.9V127.0M930.3 124.9H940.5M930.3 127.0H931.5M923.3 130.4V131.7M923.3 130.4H940.5M923.3 131.7H940.5M920.0 129.0V131.1M920.0 129.0H940.5M920.0 131.1H923.3M923.8 133.1V134.5M923.8 133.1H940.5M923.8 134.5H940.5M918.8 130.0V133.8M918.8 130.0H920.0M918.8 133.8H923.8M918.6 125.9V131.9M918.6 125.9H930.3M918.6 131.9H918.8M932.4 135.9V137.2M932.4 135.9H940.5M932.4 137.2H940.5M921.3 136.5V138.6M921.3 136.5H932.4M921.3 138.6H940.5M932.5 140.0V141.3M932.5 140.0H940.5M932.5 141.3H940.5M931.8 142.7V144.1M931.8 142.7H940.5M931.8 144.1H940.5M939.0 146.8V148.2M939.0 146.8H940.5M939.0 148.2H940.5M939.0 145.4V147.5M939.0 145.4H940.5M939.0 147.5H939.0M929.3 143.4V146.5M929.3 143.4H931.8M929.3 146.5H939.0M925.1 140.6V144.9M925.1 140.6H932.5M925.1 144.9H929.3M929.8 149.5V150.9M929.8 149.5H940.5M929.8 150.9H940.5M925.3 150.2V152.3M925.3 150.2H929.8M925.3 152.3H940.5M937.0 156.4V157.8M937.0 156.4H940.5M937.0 157.8H940.5M932.1 155.0V157.1M932.1 155.0H940.5M932.1 157.1H937.0M930.8 153.7V156.1M930.8 153.7H940.5M930.8 156.1H932.1M922.3 151.3V154.9M922.3 151.3H925.3M922.3 154.9H930.8M921.5 142.8V153.1M921.5 142.8H925.1M921.5 153.1H922.3M921.2 147.9V159.1M921.2 147.9H921.5M921.2 159.1H940.5M923.0 160.5V161.9M923.0 160.5H940.5M923.0 161.9H940.5M920.3 153.5V161.2M920.3 153.5H921.2M920.3 161.2H923.0M925.4 163.2V164.6M925.4 163.2H940.5M925.4 164.6H940.5M936.6 166.0V167.3M936.6 166.0H940.5M936.6 167.3H940.5M924.2 163.9V166.7M924.2 163.9H925.4M924.2 166.7H936.6M933.4 168.7V170.1M933.4 168.7H940.5M933.4 170.1H940.5M933.8 171.5V172.8M933.8 171.5H940.5M933.8 172.8H940.5M930.9 169.4V172.1M930.9 169.4H933.4M930.9 172.1H933.8M927.9 170.8V174.2M927.9 170.8H930.9M927.9 174.2H940.5M936.2 178.3V179.7M936.2 178.3H940.5M936.2 179.7H940.5M934.0 176.9V179.0M934.0 176.9H940.5M934.0 179.0H936.2M927.9 175.6V178.0M927.9 175.6H940.5M927.9 178.0H934.0M925.8 172.5V176.8M925.8 172.5H927.9M925.8 176.8H927.9M922.6 165.3V174.6M922.6 165.3H924.2M922.6 174.6H925.8M934.4 181.0V182.4M934.4 181.0H940.5M934.4 182.4H940.5M938.9 183.8V185.1M938.9 183.8H940.5M938.9 185.1H940.5M939.0 186.5V187.9M939.0 186.5H940.5M939.0 187.9H940.5M934.6 184.5V187.2M934.6 184.5H938.9M934.6 187.2H939.0M933.7 185.8V189.3M933.7 185.8H934.6M933.7 189.3H940.5M931.4 181.7V187.5M931.4 181.7H934.4M931.4 187.5H933.7M925.5 184.6V190.6M925.5 184.6H931.4M925.5 190.6H940.5M921.6 170.0V187.6M921.6 170.0H922.6M921.6 187.6H925.5M935.4 193.4V194.7M935.4 193.4H940.5M935.4 194.7H940.5M927.6 192.0V194.1M927.6 192.0H940.5M927.6 194.1H935.4M927.8 196.1V197.5M927.8 196.1H940.5M927.8 197.5H940.5M927.0 193.0V196.8M927.0 193.0H927.6M927.0 196.8H927.8M930.0 198.8V200.2M930.0 198.8H940.5M930.0 200.2H940.5M923.4 194.9V199.5M923.4 194.9H927.0M923.4 199.5H930.0M935.3 203.0V204.3M935.3 203.0H940.5M935.3 204.3H940.5M932.6 201.6V203.6M932.6 201.6H940.5M932.6 203.6H935.3M930.6 202.6V205.7M930.6 202.6H932.6M930.6 205.7H940.5M931.3 208.4V209.8M931.3 208.4H940.5M931.3 209.8H940.5M931.2 209.1V211.2M931.2 209.1H931.3M931.2 211.2H940.5M932.4 212.5V213.9M932.4 212.5H940.5M932.4 213.9H940.5M930.4 213.2V215.3M930.4 213.2H932.4M930.4 215.3H940.5M928.2 210.1V214.2M928.2 210.1H931.2M928.2 214.2H930.4M926.3 207.1V212.2M926.3 207.1H940.5M926.3 212.2H928.2M921.9 204.1V209.6M921.9 204.1H930.6M921.9 209.6H926.3M938.5 219.4V220.8M938.5 219.4H940.5M938.5 220.8H940.5M934.3 222.1V223.5M934.3 222.1H940.5M934.3 223.5H940.5M930.6 220.1V222.8M930.6 220.1H938.5M930.6 222.8H934.3M924.7 218.0V221.4M924.7 218.0H940.5M924.7 221.4H930.6M935.3 224.9V226.2M935.3 224.9H940.5M935.3 226.2H940.5M923.6 219.7V225.5M923.6 219.7H924.7M923.6 225.5H935.3M936.7 227.6V229.0M936.7 227.6H940.5M936.7 229.0H940.5M933.5 228.3V230.3M933.5 228.3H936.7M933.5 230.3H940.5M923.5 222.6V229.3M923.5 222.6H923.6M923.5 229.3H933.5M930.4 231.7V233.1M930.4 231.7H940.5M930.4 233.1H940.5M937.1 235.8V237.2M937.1 235.8H940.5M937.1 237.2H940.5M931.6 234.4V236.5M931.6 234.4H940.5M931.6 236.5H937.1M938.6 241.3V242.7M938.6 241.3H940.5M938.6 242.7H940.5M938.5 242.0V244.0M938.5 242.0H938.6M938.5 244.0H940.5M932.4 239.9V243.0M932.4 239.9H940.5M932.4 243.0H938.5M932.1 238.6V241.5M932.1 238.6H940.5M932.1 241.5H932.4M928.5 235.5V240.0M928.5 235.5H931.6M928.5 240.0H932.1M925.1 237.7V245.4M925.1 237.7H928.5M925.1 245.4H940.5M924.7 241.6V246.8M924.7 241.6H925.1M924.7 246.8H940.5M939.0 249.5V250.9M939.0 249.5H940.5M939.0 250.9H940.5M935.2 248.1V250.2M935.2 248.1H940.5M935.2 250.2H939.0M932.1 249.2V252.2M932.1 249.2H935.2M932.1 252.2H940.5M939.0 255.0V256.4M939.0 255.0H940.5M939.0 256.4H940.5M937.4 255.7V257.7M937.4 255.7H939.0M937.4 257.7H940.5M930.7 253.6V256.7M930.7 253.6H940.5M930.7 256.7H937.4M939.0 259.1V260.5M939.0 259.1H940.5M939.0 260.5H940.5M930.0 255.2V259.8M930.0 255.2H930.7M930.0 259.8H939.0M929.1 250.7V257.5M929.1 250.7H932.1M929.1 257.5H930.0M927.9 254.1V261.8M927.9 254.1H929.1M927.9 261.8H940.5M939.0 264.6V265.9M939.0 264.6H940.5M939.0 265.9H940.5M937.3 263.2V265.3M937.3 263.2H940.5M937.3 265.3H939.0M934.5 268.7V270.0M934.5 268.7H940.5M934.5 270.0H940.5M934.2 269.4V271.4M934.2 269.4H934.5M934.2 271.4H940.5M929.7 267.3V270.4M929.7 267.3H940.5M929.7 270.4H934.2M939.0 274.2V275.5M939.0 274.2H940.5M939.0 275.5H940.5M936.0 272.8V274.8M936.0 272.8H940.5M936.0 274.8H939.0M936.7 276.9V278.3M936.7 276.9H940.5M936.7 278.3H940.5M932.5 273.8V277.6M932.5 273.8H936.0M932.5 277.6H936.7M931.7 275.7V279.6M931.7 275.7H932.5M931.7 279.6H940.5M939.0 283.7V285.1M939.0 283.7H940.5M939.0 285.1H940.5M937.7 282.4V284.4M937.7 282.4H940.5M937.7 284.4H939.0M936.2 281.0V283.4M936.2 281.0H940.5M936.2 283.4H937.7M939.0 286.5V287.8M939.0 286.5H940.5M939.0 287.8H940.5M930.0 282.2V287.2M930.0 282.2H936.2M930.0 287.2H939.0M932.0 289.2V290.6M932.0 289.2H940.5M932.0 290.6H940.5M938.7 294.7V296.1M938.7 294.7H940.5M938.7 296.1H940.5M938.6 293.3V295.4M938.6 293.3H940.5M938.6 295.4H938.7M930.8 292.0V294.4M930.8 292.0H940.5M930.8 294.4H938.6M929.4 289.9V293.2M929.4 289.9H932.0M929.4 293.2H930.8M937.5 297.4V298.8M937.5 297.4H940.5M937.5 298.8H940.5M938.9 300.2V301.5M938.9 300.2H940.5M938.9 301.5H940.5M937.5 300.9V302.9M937.5 300.9H938.9M937.5 302.9H940.5M938.1 304.3V305.7M938.1 304.3H940.5M938.1 305.7H940.5M933.3 301.9V305.0M933.3 301.9H937.5M933.3 305.0H938.1M932.5 303.4V307.0M932.5 303.4H933.3M932.5 307.0H940.5M931.6 298.1V305.2M931.6 298.1H937.5M931.6 305.2H932.5M939.0 311.1V312.5M939.0 311.1H940.5M939.0 312.5H940.5M937.7 309.8V311.8M937.7 309.8H940.5M937.7 311.8H939.0M937.5 308.4V310.8M937.5 308.4H940.5M937.5 310.8H937.7M939.0 313.9V315.2M939.0 313.9H940.5M939.0 315.2H940.5M936.5 309.6V314.6M936.5 309.6H937.5M936.5 314.6H939.0M935.1 312.1V316.6M935.1 312.1H936.5M935.1 316.6H940.5M935.3 318.0V319.3M935.3 318.0H940.5M935.3 319.3H940.5M935.1 320.7V322.1M935.1 320.7H940.5M935.1 322.1H940.5M935.0 318.7V321.4M935.0 318.7H935.3M935.0 321.4H935.1M934.0 314.3V320.0M934.0 314.3H935.1M934.0 320.0H935.0M935.9 323.5V324.8M935.9 323.5H940.5M935.9 324.8H940.5M939.0 327.6V328.9M939.0 327.6H940.5M939.0 328.9H940.5M938.8 328.2V330.3M938.8 328.2H939.0M938.8 330.3H940.5M937.7 326.2V329.3M937.7 326.2H940.5M937.7 329.3H938.8M938.8 331.7V333.0M938.8 331.7H940.5M938.8 333.0H940.5M934.3 332.4V334.4M934.3 332.4H938.8M934.3 334.4H940.5M933.9 327.7V333.4M933.9 327.7H937.7M933.9 333.4H934.3M939.0 337.1V338.5M939.0 337.1H940.5M939.0 338.5H940.5M936.4 335.8V337.8M936.4 335.8H940.5M936.4 337.8H939.0M937.9 339.9V341.3M937.9 339.9H940.5M937.9 341.3H940.5M935.9 336.8V340.6M935.9 336.8H936.4M935.9 340.6H937.9M939.0 342.6V344.0M939.0 342.6H940.5M939.0 344.0H940.5M939.0 343.3V345.4M939.0 343.3H939.0M939.0 345.4H940.5M937.3 344.3V346.7M937.3 344.3H939.0M937.3 346.7H940.5M937.3 345.5V348.1M937.3 345.5H937.3M937.3 348.1H940.5M933.7 338.7V346.8M933.7 338.7H935.9M933.7 346.8H937.3M933.2 330.6V342.8M933.2 330.6H933.9M933.2 342.8H933.7M932.8 324.1V336.7M932.8 324.1H935.9M932.8 336.7H933.2M932.2 317.2V330.4M932.2 317.2H934.0M932.2 330.4H932.8M931.2 301.7V323.8M931.2 301.7H931.6M931.2 323.8H932.2M929.2 291.5V312.7M929.2 291.5H929.4M929.2 312.7H931.2M928.6 284.7V302.1M928.6 284.7H930.0M928.6 302.1H929.2M927.9 277.7V293.4M927.9 277.7H931.7M927.9 293.4H928.6M927.7 268.8V285.5M927.7 268.8H929.7M927.7 285.5H927.9M926.2 264.2V277.2M926.2 264.2H937.3M926.2 277.2H927.7M925.7 258.0V270.7M925.7 258.0H927.9M925.7 270.7H926.2M924.7 244.2V264.3M924.7 244.2H924.7M924.7 264.3H925.7M924.1 232.4V254.3M924.1 232.4H930.4M924.1 254.3H924.7M923.3 226.0V243.3M923.3 226.0H923.5M923.3 243.3H924.1M922.6 216.6V234.6M922.6 216.6H940.5M922.6 234.6H923.3M921.7 206.9V225.6M921.7 206.9H921.9M921.7 225.6H922.6M921.7 197.2V216.3M921.7 197.2H923.4M921.7 216.3H921.7M919.4 178.8V206.7M919.4 178.8H921.6M919.4 206.7H921.7M919.4 157.4V192.8M919.4 157.4H920.3M919.4 192.8H919.4M915.3 137.6V175.1M915.3 137.6H921.3M915.3 175.1H919.4M914.7 128.9V156.3M914.7 128.9H918.6M914.7 156.3H915.3M914.5 111.8V142.6M914.5 111.8H917.4M914.5 142.6H914.7M913.7 96.4V127.2M913.7 96.4H916.4M913.7 127.2H914.5M909.6 65.4V111.8M909.6 65.4H910.1M909.6 111.8H913.7M907.8 45.6V88.6M907.8 45.6H915.5M907.8 88.6H909.6M888.0 40.0V67.1M888.0 40.0H940.5M888.0 67.1H907.8M929.7 350.9V352.2M929.7 350.9H940.5M929.7 352.2H940.5M939.0 354.9V356.3M939.0 354.9H940.5M939.0 356.3H940.5M928.6 357.7V359.0M928.6 357.7H940.5M928.6 359.0H940.5M928.6 355.6V358.4M928.6 355.6H939.0M928.6 358.4H928.6M939.0 360.4V361.8M939.0 360.4H940.5M939.0 361.8H940.5M933.1 361.1V363.1M933.1 361.1H939.0M933.1 363.1H940.5M927.7 357.0V362.1M927.7 357.0H928.6M927.7 362.1H933.1M926.7 353.6V359.5M926.7 353.6H940.5M926.7 359.5H927.7M920.1 351.5V356.6M920.1 351.5H929.7M920.1 356.6H926.7M914.0 364.5V365.8M914.0 364.5H940.5M914.0 365.8H940.5M928.5 368.6V369.9M928.5 368.6H940.5M928.5 369.9H940.5M918.3 367.2V369.2M918.3 367.2H940.5M918.3 369.2H928.5M932.6 371.3V372.7M932.6 371.3H940.5M932.6 372.7H940.5M934.2 376.7V378.1M934.2 376.7H940.5M934.2 378.1H940.5M931.9 377.4V379.5M931.9 377.4H934.2M931.9 379.5H940.5M928.6 375.4V378.4M928.6 375.4H940.5M928.6 378.4H931.9M924.1 374.0V376.9M924.1 374.0H940.5M924.1 376.9H928.6M923.9 372.0V375.5M923.9 372.0H932.6M923.9 375.5H924.1M933.3 380.8V382.2M933.3 380.8H940.5M933.3 382.2H940.5M931.6 381.5V383.6M931.6 381.5H933.3M931.6 383.6H940.5M932.3 384.9V386.3M932.3 384.9H940.5M932.3 386.3H940.5M931.4 382.5V385.6M931.4 382.5H931.6M931.4 385.6H932.3M922.8 373.7V384.1M922.8 373.7H923.9M922.8 384.1H931.4M939.0 389.0V390.4M939.0 389.0H940.5M939.0 390.4H940.5M926.1 387.6V389.7M926.1 387.6H940.5M926.1 389.7H939.0M927.6 391.7V393.1M927.6 391.7H940.5M927.6 393.1H940.5M920.6 388.7V392.4M920.6 388.7H926.1M920.6 392.4H927.6M933.0 395.8V397.2M933.0 395.8H940.5M933.0 397.2H940.5M927.9 394.4V396.5M927.9 394.4H940.5M927.9 396.5H933.0M919.7 390.5V395.5M919.7 390.5H920.6M919.7 395.5H927.9M936.6 398.5V399.9M936.6 398.5H940.5M936.6 399.9H940.5M934.0 399.2V401.3M934.0 399.2H936.6M934.0 401.3H940.5M928.6 400.2V402.6M928.6 400.2H934.0M928.6 402.6H940.5M918.3 393.0V401.4M918.3 393.0H919.7M918.3 401.4H928.6M938.1 404.0V405.3M938.1 404.0H940.5M938.1 405.3H940.5M932.6 404.7V406.7M932.6 404.7H938.1M932.6 406.7H940.5M927.5 405.7V408.1M927.5 405.7H932.6M927.5 408.1H940.5M938.3 409.4V410.8M938.3 409.4H940.5M938.3 410.8H940.5M923.7 406.9V410.1M923.7 406.9H927.5M923.7 410.1H938.3M933.5 416.2V417.6M933.5 416.2H940.5M933.5 417.6H940.5M931.8 414.9V416.9M931.8 414.9H940.5M931.8 416.9H933.5M928.3 413.5V415.9M928.3 413.5H940.5M928.3 415.9H931.8M927.2 412.2V414.7M927.2 412.2H940.5M927.2 414.7H928.3M921.8 408.5V413.4M921.8 408.5H923.7M921.8 413.4H927.2M918.7 411.0V419.0M918.7 411.0H921.8M918.7 419.0H940.5M918.2 397.2V415.0M918.2 397.2H918.3M918.2 415.0H918.7M917.7 378.9V406.1M917.7 378.9H922.8M917.7 406.1H918.2M936.9 420.3V421.7M936.9 420.3H940.5M936.9 421.7H940.5M936.1 421.0V423.1M936.1 421.0H936.9M936.1 423.1H940.5M925.0 422.0V424.4M925.0 422.0H936.1M925.0 424.4H940.5M922.6 423.2V425.8M922.6 423.2H925.0M922.6 425.8H940.5M939.0 429.9V431.2M939.0 429.9H940.5M939.0 431.2H940.5M936.3 428.5V430.5M936.3 428.5H940.5M936.3 430.5H939.0M934.1 427.1V429.5M934.1 427.1H940.5M934.1 429.5H936.3M932.5 428.3V432.6M932.5 428.3H934.1M932.5 432.6H940.5M928.2 430.5V433.9M928.2 430.5H932.5M928.2 433.9H940.5M921.2 424.5V432.2M921.2 424.5H922.6M921.2 432.2H928.2M939.0 435.3V436.7M939.0 435.3H940.5M939.0 436.7H940.5M938.9 436.0V438.0M938.9 436.0H939.0M938.9 438.0H940.5M926.4 437.0V439.4M926.4 437.0H938.9M926.4 439.4H940.5M939.0 443.5V444.8M939.0 443.5H940.5M939.0 444.8H940.5M938.8 442.1V444.2M938.8 442.1H940.5M938.8 444.2H939.0M938.3 440.8V443.1M938.3 440.8H940.5M938.3 443.1H938.8M936.0 447.6V448.9M936.0 447.6H940.5M936.0 448.9H940.5M935.1 446.2V448.2M935.1 446.2H940.5M935.1 448.2H936.0M926.9 442.0V447.2M926.9 442.0H938.3M926.9 447.2H935.1M938.4 450.3V451.7M938.4 450.3H940.5M938.4 451.7H940.5M939.0 454.4V455.7M939.0 454.4H940.5M939.0 455.7H940.5M939.0 453.0V455.1M939.0 453.0H940.5M939.0 455.1H939.0M929.8 451.0V454.0M929.8 451.0H938.4M929.8 454.0H939.0M927.2 452.5V457.1M927.2 452.5H929.8M927.2 457.1H940.5M926.8 444.6V454.8M926.8 444.6H926.9M926.8 454.8H927.2M926.0 438.2V449.7M926.0 438.2H926.4M926.0 449.7H926.8M933.0 459.8V461.2M933.0 459.8H940.5M933.0 461.2H940.5M931.7 458.5V460.5M931.7 458.5H940.5M931.7 460.5H933.0M939.0 462.6V463.9M939.0 462.6H940.5M939.0 463.9H940.5M935.6 463.2V465.3M935.6 463.2H939.0M935.6 465.3H940.5M926.9 459.5V464.3M926.9 459.5H931.7M926.9 464.3H935.6M924.6 444.0V461.9M924.6 444.0H926.0M924.6 461.9H926.9M922.8 452.9V466.6M922.8 452.9H924.6M922.8 466.6H940.5M939.0 469.4V470.7M939.0 469.4H940.5M939.0 470.7H940.5M939.0 468.0V470.0M939.0 468.0H940.5M939.0 470.0H939.0M932.6 472.1V473.4M932.6 472.1H940.5M932.6 473.4H940.5M932.8 476.2V477.5M932.8 476.2H940.5M932.8 477.5H940.5M929.0 474.8V476.9M929.0 474.8H940.5M929.0 476.9H932.8M939.0 480.3V481.6M939.0 480.3H940.5M939.0 481.6H940.5M932.7 480.9V483.0M932.7 480.9H939.0M932.7 483.0H940.5M930.0 478.9V482.0M930.0 478.9H940.5M930.0 482.0H932.7M927.9 475.8V480.4M927.9 475.8H929.0M927.9 480.4H930.0M926.5 472.8V478.1M926.5 472.8H932.6M926.5 478.1H927.9M926.2 469.0V475.4M926.2 469.0H939.0M926.2 475.4H926.5M930.2 487.1V488.4M930.2 487.1H940.5M930.2 488.4H940.5M929.5 485.7V487.8M929.5 485.7H940.5M929.5 487.8H930.2M927.0 484.3V486.7M927.0 484.3H940.5M927.0 486.7H929.5M936.1 489.8V491.2M936.1 489.8H940.5M936.1 491.2H940.5M934.4 490.5V492.5M934.4 490.5H936.1M934.4 492.5H940.5M930.4 491.5V493.9M930.4 491.5H934.4M930.4 493.9H940.5M938.2 496.6V498.0M938.2 496.6H940.5M938.2 498.0H940.5M936.6 497.3V499.3M936.6 497.3H938.2M936.6 499.3H940.5M935.8 495.2V498.3M935.8 495.2H940.5M935.8 498.3H936.6M939.0 500.7V502.1M939.0 500.7H940.5M939.0 502.1H940.5M934.0 496.8V501.4M934.0 496.8H935.8M934.0 501.4H939.0M931.0 499.1V503.4M931.0 499.1H934.0M931.0 503.4H940.5M927.1 492.7V501.2M927.1 492.7H930.4M927.1 501.2H931.0M926.7 485.5V497.0M926.7 485.5H927.0M926.7 497.0H927.1M935.7 504.8V506.1M935.7 504.8H940.5M935.7 506.1H940.5M926.6 491.3V505.5M926.6 491.3H926.7M926.6 505.5H935.7M934.6 507.5V508.9M934.6 507.5H940.5M934.6 508.9H940.5M932.9 508.2V510.2M932.9 508.2H934.6M932.9 510.2H940.5M933.6 512.9V514.3M933.6 512.9H940.5M933.6 514.3H940.5M930.3 511.6V513.6M930.3 511.6H940.5M930.3 513.6H933.6M934.2 515.7V517.0M934.2 515.7H940.5M934.2 517.0H940.5M939.0 519.8V521.1M939.0 519.8H940.5M939.0 521.1H940.5M937.8 518.4V520.4M937.8 518.4H940.5M937.8 520.4H939.0M939.0 525.2V526.6M939.0 525.2H940.5M939.0 526.6H940.5M934.7 523.8V525.9M934.7 523.8H940.5M934.7 525.9H939.0M933.8 522.5V524.9M933.8 522.5H940.5M933.8 524.9H934.7M932.6 519.4V523.7M932.6 519.4H937.8M932.6 523.7H933.8M930.6 516.4V521.5M930.6 516.4H934.2M930.6 521.5H932.6M929.9 512.6V518.9M929.9 512.6H930.3M929.9 518.9H930.6M939.0 527.9V529.3M939.0 527.9H940.5M939.0 529.3H940.5M928.2 515.8V528.6M928.2 515.8H929.9M928.2 528.6H939.0M937.4 532.0V533.4M937.4 532.0H940.5M937.4 533.4H940.5M936.9 530.7V532.7M936.9 530.7H940.5M936.9 532.7H937.4M928.8 531.7V534.7M928.8 531.7H936.9M928.8 534.7H940.5M932.2 536.1V537.5M932.2 536.1H940.5M932.2 537.5H940.5M938.7 538.8V540.2M938.7 538.8H940.5M938.7 540.2H940.5M937.5 542.9V544.3M937.5 542.9H940.5M937.5 544.3H940.5M939.0 545.6V547.0M939.0 545.6H940.5M939.0 547.0H940.5M934.1 543.6V546.3M934.1 543.6H937.5M934.1 546.3H939.0M933.7 541.6V545.0M933.7 541.6H940.5M933.7 545.0H934.1M939.0 549.7V551.1M939.0 549.7H940.5M939.0 551.1H940.5M938.5 550.4V552.4M938.5 550.4H939.0M938.5 552.4H940.5M937.8 551.4V553.8M937.8 551.4H938.5M937.8 553.8H940.5M938.5 555.2V556.5M938.5 555.2H940.5M938.5 556.5H940.5M937.9 555.9V557.9M937.9 555.9H938.5M937.9 557.9H940.5M936.0 552.6V556.9M936.0 552.6H937.8M936.0 556.9H937.9M939.0 559.3V560.6M939.0 559.3H940.5M939.0 560.6H940.5M935.4 554.7V559.9M935.4 554.7H936.0M935.4 559.9H939.0M933.8 548.4V557.3M933.8 548.4H940.5M933.8 557.3H935.4M937.0 563.3V564.7M937.0 563.3H940.5M937.0 564.7H940.5M936.6 562.0V564.0M936.6 562.0H940.5M936.6 564.0H937.0M939.0 566.1V567.4M939.0 566.1H940.5M939.0 567.4H940.5M935.5 563.0V566.8M935.5 563.0H936.6M935.5 566.8H939.0M933.5 552.9V564.9M933.5 552.9H933.8M933.5 564.9H935.5M939.0 568.8V570.2M939.0 568.8H940.5M939.0 570.2H940.5M936.1 569.5V571.5M936.1 569.5H939.0M936.1 571.5H940.5M932.7 558.9V570.5M932.7 558.9H933.5M932.7 570.5H936.1M939.0 572.9V574.2M939.0 572.9H940.5M939.0 574.2H940.5M935.0 573.6V575.6M935.0 573.6H939.0M935.0 575.6H940.5M932.7 574.6V577.0M932.7 574.6H935.0M932.7 577.0H940.5M938.1 578.3V579.7M938.1 578.3H940.5M938.1 579.7H940.5M936.0 579.0V581.1M936.0 579.0H938.1M936.0 581.1H940.5M936.2 582.4V583.8M936.2 582.4H940.5M936.2 583.8H940.5M935.8 585.1V586.5M935.8 585.1H940.5M935.8 586.5H940.5M934.3 583.1V585.8M934.3 583.1H936.2M934.3 585.8H935.8M933.5 580.0V584.5M933.5 580.0H936.0M933.5 584.5H934.3M932.7 575.8V582.2M932.7 575.8H932.7M932.7 582.2H933.5M932.4 564.7V579.0M932.4 564.7H932.7M932.4 579.0H932.7M932.0 543.3V571.8M932.0 543.3H933.7M932.0 571.8H932.4M930.6 539.5V557.5M930.6 539.5H938.7M930.6 557.5H932.0M929.0 536.8V548.5M929.0 536.8H932.2M929.0 548.5H930.6M928.7 533.2V542.7M928.7 533.2H928.8M928.7 542.7H929.0M928.0 522.2V537.9M928.0 522.2H928.2M928.0 537.9H928.7M925.9 509.2V530.1M925.9 509.2H932.9M925.9 530.1H928.0M925.9 498.4V519.6M925.9 498.4H926.6M925.9 519.6H925.9M925.0 472.2V509.0M925.0 472.2H926.2M925.0 509.0H925.9M922.0 459.8V490.6M922.0 459.8H922.8M922.0 490.6H925.0M920.7 428.4V475.2M920.7 428.4H921.2M920.7 475.2H922.0M916.0 392.5V451.8M916.0 392.5H917.7M916.0 451.8H920.7M912.7 368.2V422.1M912.7 368.2H918.3M912.7 422.1H916.0M912.2 365.2V395.2M912.2 365.2H914.0M912.2 395.2H912.7M911.6 354.1V380.2M911.6 354.1H920.1M911.6 380.2H912.2M892.0 349.5V367.1M892.0 349.5H940.5M892.0 367.1H911.6" stroke="#000" stroke-width="1.25" fill="none"/><path d="M888 53.5V42H825.5V350H892V358.3" stroke="#000" stroke-width="2" fill="none"/>
<text x="1102.5" y="622.5" font-size="26.5" text-anchor="middle">Control</text>
<text x="1427.5" y="622.5" font-size="26.5" text-anchor="middle">PtFeCuCoNi</text>
<line x1="1601.5" y1="39" x2="1601.5" y2="583.5" stroke="#c4c4c4" stroke-width="1.2"/>
<rect x="1609.5" y="73" width="48.5" height="60.8" fill="#fc7e7a" shape-rendering="crispEdges"/>
<rect x="1609.5" y="133.5" width="48.5" height="60.8" fill="#faa8a4" shape-rendering="crispEdges"/>
<rect x="1609.5" y="194" width="48.5" height="60.8" fill="#fed3d2" shape-rendering="crispEdges"/>
<rect x="1609.5" y="254.5" width="48.5" height="60.8" fill="#ffffff" shape-rendering="crispEdges"/>
<rect x="1609.5" y="315" width="48.5" height="60.8" fill="#e2f3f3" shape-rendering="crispEdges"/>
<rect x="1609.5" y="375.5" width="48.5" height="60.8" fill="#cfebeb" shape-rendering="crispEdges"/>
<rect x="1609.5" y="436" width="48.5" height="60.8" fill="#b8e2e4" shape-rendering="crispEdges"/>
<rect x="1609.5" y="496.5" width="48.5" height="60.8" fill="#a0dadb" shape-rendering="crispEdges"/>
<rect x="1609.5" y="73" width="48.5" height="484" fill="none" stroke="#000" stroke-width="2"/>
<line x1="1658" y1="73" x2="1668.5" y2="73" stroke="#000" stroke-width="2"/>
<text x="1680.5" y="82.5" font-size="26.5">1.8</text>
<line x1="1658" y1="133.5" x2="1668.5" y2="133.5" stroke="#000" stroke-width="2"/>
<text x="1680.5" y="143" font-size="26.5">1.3</text>
<line x1="1658" y1="194" x2="1668.5" y2="194" stroke="#000" stroke-width="2"/>
<text x="1680.5" y="203.5" font-size="26.5">0.9</text>
<line x1="1658" y1="254.5" x2="1668.5" y2="254.5" stroke="#000" stroke-width="2"/>
<text x="1680.5" y="264" font-size="26.5">0.4</text>
<line x1="1658" y1="315" x2="1668.5" y2="315" stroke="#000" stroke-width="2"/>
<text x="1679" y="324.5" font-size="26.5">-0.0</text>
<line x1="1658" y1="375.5" x2="1668.5" y2="375.5" stroke="#000" stroke-width="2"/>
<text x="1679" y="385" font-size="26.5">-0.5</text>
<line x1="1658" y1="436" x2="1668.5" y2="436" stroke="#000" stroke-width="2"/>
<text x="1679" y="445.5" font-size="26.5">-1.0</text>
<line x1="1658" y1="496.5" x2="1668.5" y2="496.5" stroke="#000" stroke-width="2"/>
<text x="1679" y="506" font-size="26.5">-1.4</text>
<line x1="1658" y1="557" x2="1668.5" y2="557" stroke="#000" stroke-width="2"/>
<text x="1679" y="566.5" font-size="26.5">-1.9</text>
<text x="43.6" y="706" font-size="34">c</text>
<text x="369.5" y="710.4" font-size="33">GO terms</text>
<line x1="518.3" y1="724.5" x2="518.3" y2="1313.6" stroke="#e3e3e3" stroke-width="1.6"/>
<line x1="561.1" y1="724.5" x2="561.1" y2="1313.6" stroke="#e3e3e3" stroke-width="1.6"/>
<line x1="603.8" y1="724.5" x2="603.8" y2="1313.6" stroke="#e3e3e3" stroke-width="1.6"/>
<line x1="646.6" y1="724.5" x2="646.6" y2="1313.6" stroke="#e3e3e3" stroke-width="1.6"/>
<line x1="689.3" y1="724.5" x2="689.3" y2="1313.6" stroke="#e3e3e3" stroke-width="1.6"/>
<line x1="475.6" y1="739.7" x2="729.2" y2="739.7" stroke="#e6e6e6" stroke-width="1" stroke-dasharray="2 2"/>
<line x1="475.6" y1="770.1" x2="729.2" y2="770.1" stroke="#e6e6e6" stroke-width="1" stroke-dasharray="2 2"/>
<line x1="475.6" y1="800.4" x2="729.2" y2="800.4" stroke="#e6e6e6" stroke-width="1" stroke-dasharray="2 2"/>
<line x1="475.6" y1="830.8" x2="729.2" y2="830.8" stroke="#e6e6e6" stroke-width="1" stroke-dasharray="2 2"/>
<line x1="475.6" y1="861.2" x2="729.2" y2="861.2" stroke="#e6e6e6" stroke-width="1" stroke-dasharray="2 2"/>
<line x1="475.6" y1="891.6" x2="729.2" y2="891.6" stroke="#e6e6e6" stroke-width="1" stroke-dasharray="2 2"/>
<line x1="475.6" y1="921.9" x2="729.2" y2="921.9" stroke="#e6e6e6" stroke-width="1" stroke-dasharray="2 2"/>
<line x1="475.6" y1="952.3" x2="729.2" y2="952.3" stroke="#e6e6e6" stroke-width="1" stroke-dasharray="2 2"/>
<line x1="475.6" y1="982.7" x2="729.2" y2="982.7" stroke="#e6e6e6" stroke-width="1" stroke-dasharray="2 2"/>
<line x1="475.6" y1="1013" x2="729.2" y2="1013" stroke="#e6e6e6" stroke-width="1" stroke-dasharray="2 2"/>
<line x1="475.6" y1="1043.4" x2="729.2" y2="1043.4" stroke="#e6e6e6" stroke-width="1" stroke-dasharray="2 2"/>
<line x1="475.6" y1="1073.8" x2="729.2" y2="1073.8" stroke="#e6e6e6" stroke-width="1" stroke-dasharray="2 2"/>
<line x1="475.6" y1="1104.1" x2="729.2" y2="1104.1" stroke="#e6e6e6" stroke-width="1" stroke-dasharray="2 2"/>
<line x1="475.6" y1="1134.5" x2="729.2" y2="1134.5" stroke="#e6e6e6" stroke-width="1" stroke-dasharray="2 2"/>
<line x1="475.6" y1="1164.9" x2="729.2" y2="1164.9" stroke="#e6e6e6" stroke-width="1" stroke-dasharray="2 2"/>
<line x1="475.6" y1="1195.2" x2="729.2" y2="1195.2" stroke="#e6e6e6" stroke-width="1" stroke-dasharray="2 2"/>
<line x1="475.6" y1="1225.6" x2="729.2" y2="1225.6" stroke="#e6e6e6" stroke-width="1" stroke-dasharray="2 2"/>
<line x1="475.6" y1="1256" x2="729.2" y2="1256" stroke="#e6e6e6" stroke-width="1" stroke-dasharray="2 2"/>
<line x1="475.6" y1="1286.4" x2="729.2" y2="1286.4" stroke="#e6e6e6" stroke-width="1" stroke-dasharray="2 2"/>
<text x="470.8" y="747.5" font-size="21.6" text-anchor="end" xml:space="preserve">cellular response to extracellular stimulus</text>
<circle cx="582.5" cy="739.7" r="12" fill="#f47676" stroke="#111" stroke-width="1.1"/>
<text x="470.8" y="777.9" font-size="21.6" text-anchor="end" fill="#e8101a" xml:space="preserve">response to oxygen-containing compound</text>
<circle cx="582.5" cy="770.1" r="12" fill="#f47676" stroke="#111" stroke-width="1.1"/>
<text x="470.8" y="808.2" font-size="21.6" text-anchor="end" xml:space="preserve">glutamine family amino acid biosynthetic process</text>
<circle cx="561.1" cy="800.4" r="16.3" fill="#f47070" stroke="#111" stroke-width="1.1"/>
<text x="470.8" y="838.6" font-size="21.6" text-anchor="end" xml:space="preserve">urea cycle</text>
<circle cx="618.1" cy="830.8" r="12" fill="#f47474" stroke="#111" stroke-width="1.1"/>
<text x="470.8" y="869" font-size="21.6" text-anchor="end" xml:space="preserve">N-terminal protein amino acid modification</text>
<circle cx="618.1" cy="861.2" r="12" fill="#f47474" stroke="#111" stroke-width="1.1"/>
<text x="470.8" y="899.4" font-size="21.6" text-anchor="end" xml:space="preserve">nitrogen cycle metabolic process</text>
<circle cx="618.1" cy="891.6" r="12" fill="#f47474" stroke="#111" stroke-width="1.1"/>
<text x="470.8" y="929.7" font-size="21.6" text-anchor="end" xml:space="preserve">arginine biosynthetic process</text>
<circle cx="567.5" cy="921.9" r="13.9" fill="#f47878" stroke="#111" stroke-width="1.1"/>
<text x="470.8" y="960.1" font-size="21.6" text-anchor="end" xml:space="preserve">purine nucleoside metabolic process</text>
<circle cx="554.7" cy="952.3" r="12" fill="#f69292" stroke="#111" stroke-width="1.1"/>
<text x="470.8" y="990.5" font-size="21.6" text-anchor="end" fill="#e8101a" xml:space="preserve">response to starvation</text>
<circle cx="582.5" cy="982.7" r="12" fill="#f68a8a" stroke="#111" stroke-width="1.1"/>
<text x="470.8" y="1020.8" font-size="21.6" text-anchor="end" xml:space="preserve">endopeptidase activity</text>
<circle cx="689.3" cy="1013" r="12" fill="#f46a6a" stroke="#111" stroke-width="1.1"/>
<text x="470.8" y="1051.2" font-size="21.6" text-anchor="end" xml:space="preserve">metalloendopeptidase activity</text>
<circle cx="689.3" cy="1043.4" r="12" fill="#f46a6a" stroke="#111" stroke-width="1.1"/>
<text x="470.8" y="1081.6" font-size="21.6" text-anchor="end" xml:space="preserve">N-acetyltransferase activity</text>
<circle cx="689.3" cy="1073.8" r="12" fill="#f46a6a" stroke="#111" stroke-width="1.1"/>
<text x="470.8" y="1111.9" font-size="21.6" text-anchor="end" xml:space="preserve">N-acyltransferase activity</text>
<circle cx="689.3" cy="1104.1" r="12" fill="#f46a6a" stroke="#111" stroke-width="1.1"/>
<text x="470.8" y="1142.3" font-size="21.6" text-anchor="end" xml:space="preserve">cobalt ion binding</text>
<circle cx="689.3" cy="1134.5" r="6.4" fill="#f46a6a" stroke="#111" stroke-width="1.1"/>
<text x="470.8" y="1172.7" font-size="21.6" text-anchor="end" xml:space="preserve">transition metal ion binding</text>
<circle cx="569.6" cy="1164.9" r="12" fill="#f46c6c" stroke="#111" stroke-width="1.1"/>
<text x="470.8" y="1203" font-size="21.6" text-anchor="end" xml:space="preserve">carbamoyl-phosphate synthase complex</text>
<circle cx="689.3" cy="1195.2" r="6.4" fill="#f8a0a0" stroke="#111" stroke-width="1.1"/>
<text x="470.8" y="1233.4" font-size="21.6" text-anchor="end" fill="#e8101a" xml:space="preserve">protein-DNA complex</text>
<circle cx="518.3" cy="1225.6" r="6.6" fill="#b4e3e3" stroke="#111" stroke-width="1.1"/>
<text x="470.8" y="1263.8" font-size="21.6" text-anchor="end" fill="#e8101a" xml:space="preserve">cell wall</text>
<circle cx="505.5" cy="1256" r="6.6" fill="#8dd3d3" stroke="#111" stroke-width="1.1"/>
<text x="470.8" y="1294.2" font-size="21.6" text-anchor="end" fill="#e8101a" xml:space="preserve">external encapsulating structure</text>
<circle cx="505.5" cy="1286.4" r="6.6" fill="#8dd3d3" stroke="#111" stroke-width="1.1"/>
<rect x="475.6" y="724.5" width="253.6" height="589.1" fill="none" stroke="#222" stroke-width="1.6"/>
<line x1="475.6" y1="1313.6" x2="729.2" y2="1313.6" stroke="#222" stroke-width="2"/>
<line x1="475.6" y1="1313.6" x2="475.6" y2="1324.6" stroke="#222" stroke-width="1.8"/>
<text x="475.6" y="1346.3" font-size="22" text-anchor="middle">0</text>
<line x1="518.3" y1="1313.6" x2="518.3" y2="1324.6" stroke="#222" stroke-width="1.8"/>
<text x="518.3" y="1346.3" font-size="22" text-anchor="middle">0.2</text>
<line x1="561.1" y1="1313.6" x2="561.1" y2="1324.6" stroke="#222" stroke-width="1.8"/>
<text x="561.1" y="1346.3" font-size="22" text-anchor="middle">0.4</text>
<line x1="603.8" y1="1313.6" x2="603.8" y2="1324.6" stroke="#222" stroke-width="1.8"/>
<text x="603.8" y="1346.3" font-size="22" text-anchor="middle">0.6</text>
<line x1="646.6" y1="1313.6" x2="646.6" y2="1324.6" stroke="#222" stroke-width="1.8"/>
<text x="646.6" y="1346.3" font-size="22" text-anchor="middle">0.8</text>
<line x1="689.3" y1="1313.6" x2="689.3" y2="1324.6" stroke="#222" stroke-width="1.8"/>
<text x="689.3" y="1346.3" font-size="22" text-anchor="middle">1.0</text>
<text x="602.9" y="1381.8" font-size="23.6" text-anchor="middle">Enrichment Score</text>
<rect x="748" y="782" width="40.5" height="294.5" fill="url(#gc)"/>
<text x="746" y="764.8" font-size="23.6"><tspan font-style="italic">p</tspan> value</text>
<text x="795" y="864.7" font-size="23.6">0.2</text>
<text x="795" y="951" font-size="23.6">0.4</text>
<text x="795" y="1036.8" font-size="23.6">0.6</text>
<text x="745.8" y="1155.8" font-size="23.6">Count</text>
<circle cx="768.2" cy="1191" r="5.9" fill="#000"/>
<text x="795" y="1199.3" font-size="23.6">1.00</text>
<circle cx="768.2" cy="1228.3" r="12.2" fill="#000"/>
<text x="795" y="1236.6" font-size="23.6">2.00</text>
<circle cx="768.2" cy="1268.8" r="16.5" fill="#000"/>
<text x="795" y="1277.1" font-size="23.6">4.00</text>
<text x="917.9" y="706" font-size="34">d</text>
<text x="1249.2" y="710.4" font-size="33">KEGG terms</text>
<line x1="1411.9" y1="724.5" x2="1411.9" y2="1313.6" stroke="#e3e3e3" stroke-width="1.6"/>
<line x1="1453.8" y1="724.5" x2="1453.8" y2="1313.6" stroke="#e3e3e3" stroke-width="1.6"/>
<line x1="1495.7" y1="724.5" x2="1495.7" y2="1313.6" stroke="#e3e3e3" stroke-width="1.6"/>
<line x1="1537.6" y1="724.5" x2="1537.6" y2="1313.6" stroke="#e3e3e3" stroke-width="1.6"/>
<line x1="1579.5" y1="724.5" x2="1579.5" y2="1313.6" stroke="#e3e3e3" stroke-width="1.6"/>
<line x1="1370" y1="754.2" x2="1619.4" y2="754.2" stroke="#e6e6e6" stroke-width="1" stroke-dasharray="2 2"/>
<line x1="1370" y1="787.3" x2="1619.4" y2="787.3" stroke="#e6e6e6" stroke-width="1" stroke-dasharray="2 2"/>
<line x1="1370" y1="820.4" x2="1619.4" y2="820.4" stroke="#e6e6e6" stroke-width="1" stroke-dasharray="2 2"/>
<line x1="1370" y1="853.5" x2="1619.4" y2="853.5" stroke="#e6e6e6" stroke-width="1" stroke-dasharray="2 2"/>
<line x1="1370" y1="886.6" x2="1619.4" y2="886.6" stroke="#e6e6e6" stroke-width="1" stroke-dasharray="2 2"/>
<line x1="1370" y1="919.7" x2="1619.4" y2="919.7" stroke="#e6e6e6" stroke-width="1" stroke-dasharray="2 2"/>
<line x1="1370" y1="952.7" x2="1619.4" y2="952.7" stroke="#e6e6e6" stroke-width="1" stroke-dasharray="2 2"/>
<line x1="1370" y1="985.8" x2="1619.4" y2="985.8" stroke="#e6e6e6" stroke-width="1" stroke-dasharray="2 2"/>
<line x1="1370" y1="1018.9" x2="1619.4" y2="1018.9" stroke="#e6e6e6" stroke-width="1" stroke-dasharray="2 2"/>
<line x1="1370" y1="1052" x2="1619.4" y2="1052" stroke="#e6e6e6" stroke-width="1" stroke-dasharray="2 2"/>
<line x1="1370" y1="1085.1" x2="1619.4" y2="1085.1" stroke="#e6e6e6" stroke-width="1" stroke-dasharray="2 2"/>
<line x1="1370" y1="1118.2" x2="1619.4" y2="1118.2" stroke="#e6e6e6" stroke-width="1" stroke-dasharray="2 2"/>
<line x1="1370" y1="1151.3" x2="1619.4" y2="1151.3" stroke="#e6e6e6" stroke-width="1" stroke-dasharray="2 2"/>
<line x1="1370" y1="1184.4" x2="1619.4" y2="1184.4" stroke="#e6e6e6" stroke-width="1" stroke-dasharray="2 2"/>
<line x1="1370" y1="1217.5" x2="1619.4" y2="1217.5" stroke="#e6e6e6" stroke-width="1" stroke-dasharray="2 2"/>
<line x1="1370" y1="1250.6" x2="1619.4" y2="1250.6" stroke="#e6e6e6" stroke-width="1" stroke-dasharray="2 2"/>
<line x1="1370" y1="1283.6" x2="1619.4" y2="1283.6" stroke="#e6e6e6" stroke-width="1" stroke-dasharray="2 2"/>
<text x="1365.2" y="762" font-size="21.6" text-anchor="end" fill="#e8101a" xml:space="preserve">Alanine, aspartate and glutamate metabolism</text>
<circle cx="1440" cy="754.2" r="16.5" fill="#f56464" stroke="#111" stroke-width="1.1"/>
<text x="1365.2" y="795.1" font-size="21.6" text-anchor="end" xml:space="preserve">Geraniol degradation</text>
<circle cx="1579.5" cy="787.3" r="6.4" fill="#f47474" stroke="#111" stroke-width="1.1"/>
<text x="1365.2" y="828.2" font-size="21.6" text-anchor="end" xml:space="preserve">alpha-Linolenic acid metabolism</text>
<circle cx="1579.5" cy="820.4" r="6.4" fill="#f47474" stroke="#111" stroke-width="1.1"/>
<text x="1365.2" y="861.3" font-size="21.6" text-anchor="end" xml:space="preserve">Ethylbenzene degradation</text>
<circle cx="1579.5" cy="853.5" r="6.4" fill="#f47474" stroke="#111" stroke-width="1.1"/>
<text x="1365.2" y="894.4" font-size="21.6" text-anchor="end" xml:space="preserve">Histidine metabolism</text>
<circle cx="1425.9" cy="886.6" r="13.6" fill="#f79c9c" stroke="#111" stroke-width="1.1"/>
<text x="1365.2" y="927.5" font-size="21.6" text-anchor="end" fill="#e8101a" xml:space="preserve">Sulfur metabolism</text>
<circle cx="1426.6" cy="919.7" r="11.5" fill="#f8a4a4" stroke="#111" stroke-width="1.1"/>
<text x="1365.2" y="960.5" font-size="21.6" text-anchor="end" xml:space="preserve">Pyrimidine metabolism</text>
<circle cx="1414" cy="952.7" r="16.5" fill="#fbbcbc" stroke="#111" stroke-width="1.1"/>
<text x="1365.2" y="993.6" font-size="21.6" text-anchor="end" xml:space="preserve">Other glycan degradation</text>
<circle cx="1474.8" cy="985.8" r="6.4" fill="#fbbfbf" stroke="#111" stroke-width="1.1"/>
<text x="1365.2" y="1026.7" font-size="21.6" text-anchor="end" xml:space="preserve">Phenylalanine, tyrosine and tryptophan biosynthesis </text>
<circle cx="1414" cy="1018.9" r="15" fill="#fde6e6" stroke="#111" stroke-width="1.1"/>
<text x="1365.2" y="1059.8" font-size="21.6" text-anchor="end" xml:space="preserve">Benzoate degradation</text>
<circle cx="1422.4" cy="1052" r="6.4" fill="#fce4e4" stroke="#111" stroke-width="1.1"/>
<text x="1365.2" y="1092.9" font-size="21.6" text-anchor="end" xml:space="preserve">Novobiocin biosynthesis</text>
<circle cx="1439.8" cy="1085.1" r="6.4" fill="#f6f6f6" stroke="#111" stroke-width="1.1"/>
<text x="1365.2" y="1126" font-size="21.6" text-anchor="end" xml:space="preserve">Monobactam biosynthesis</text>
<circle cx="1411.9" cy="1118.2" r="6.4" fill="#d6efef" stroke="#111" stroke-width="1.1"/>
<text x="1365.2" y="1159.1" font-size="21.6" text-anchor="end" xml:space="preserve">Tyrosine metabolism</text>
<circle cx="1405" cy="1151.3" r="6.4" fill="#c9ebeb" stroke="#111" stroke-width="1.1"/>
<text x="1365.2" y="1192.2" font-size="21.6" text-anchor="end" fill="#e8101a" xml:space="preserve">Glycerophospholipid metabolism</text>
<circle cx="1397.2" cy="1184.4" r="11.2" fill="#a8dede" stroke="#111" stroke-width="1.1"/>
<text x="1365.2" y="1225.3" font-size="21.6" text-anchor="end" fill="#e8101a" xml:space="preserve">Cysteine and methionine metabolism</text>
<circle cx="1397.2" cy="1217.5" r="11.2" fill="#a0dbdb" stroke="#111" stroke-width="1.1"/>
<text x="1365.2" y="1258.4" font-size="21.6" text-anchor="end" xml:space="preserve">Fructose and mannose metabolism</text>
<circle cx="1394.5" cy="1250.6" r="11.2" fill="#8fd4d4" stroke="#111" stroke-width="1.1"/>
<text x="1365.2" y="1291.4" font-size="21.6" text-anchor="end" xml:space="preserve">Arginine biosynthesis</text>
<circle cx="1394.5" cy="1283.6" r="11.2" fill="#8fd4d4" stroke="#111" stroke-width="1.1"/>
<rect x="1370" y="724.5" width="249.4" height="589.1" fill="none" stroke="#222" stroke-width="1.6"/>
<line x1="1370" y1="1313.6" x2="1619.4" y2="1313.6" stroke="#222" stroke-width="2"/>
<line x1="1370" y1="1313.6" x2="1370" y2="1324.6" stroke="#222" stroke-width="1.8"/>
<text x="1370" y="1346.3" font-size="22" text-anchor="middle">0</text>
<line x1="1411.9" y1="1313.6" x2="1411.9" y2="1324.6" stroke="#222" stroke-width="1.8"/>
<text x="1411.9" y="1346.3" font-size="22" text-anchor="middle">0.2</text>
<line x1="1453.8" y1="1313.6" x2="1453.8" y2="1324.6" stroke="#222" stroke-width="1.8"/>
<text x="1453.8" y="1346.3" font-size="22" text-anchor="middle">0.4</text>
<line x1="1495.7" y1="1313.6" x2="1495.7" y2="1324.6" stroke="#222" stroke-width="1.8"/>
<text x="1495.7" y="1346.3" font-size="22" text-anchor="middle">0.6</text>
<line x1="1537.6" y1="1313.6" x2="1537.6" y2="1324.6" stroke="#222" stroke-width="1.8"/>
<text x="1537.6" y="1346.3" font-size="22" text-anchor="middle">0.8</text>
<line x1="1579.5" y1="1313.6" x2="1579.5" y2="1324.6" stroke="#222" stroke-width="1.8"/>
<text x="1579.5" y="1346.3" font-size="22" text-anchor="middle">1.0</text>
<text x="1495.2" y="1381.8" font-size="23.6" text-anchor="middle">Enrichment Score</text>
<rect x="1639.6" y="782" width="41" height="294.5" fill="url(#gd)"/>
<text x="1637.6" y="764.8" font-size="23.6"><tspan font-style="italic">p</tspan> value</text>
<text x="1687" y="847.7" font-size="23.6">0.2</text>
<text x="1687" y="927.6" font-size="23.6">0.4</text>
<text x="1687" y="1007.5" font-size="23.6">0.6</text>
<text x="1638" y="1145.2" font-size="23.6">Count</text>
<circle cx="1660.4" cy="1181.4" r="6" fill="#000"/>
<text x="1687" y="1189.7" font-size="23.6">1.00</text>
<circle cx="1660.4" cy="1218.7" r="11.2" fill="#000"/>
<text x="1687" y="1227" font-size="23.6">2.24</text>
<circle cx="1660.4" cy="1258.6" r="16.2" fill="#000"/>
<text x="1687" y="1266.9" font-size="23.6">5.00</text>
<text x="47.8" y="1448.6" font-size="34">e</text>
<linearGradient id="ge0" gradientUnits="userSpaceOnUse" x1="104.2" y1="0" x2="422.6" y2="0"><stop offset="0" stop-color="#1d3a5c"/><stop offset="0.45" stop-color="#2c5a8a"/><stop offset="1" stop-color="#5eaee8"/></linearGradient>
<text x="123.5" y="1478" font-size="26.7">Oxidative phosphorylation</text>
<text transform="translate(62.6 1539.4) rotate(-90)" font-size="20.2" text-anchor="middle" fill="#000">Enrichment score</text>
<text transform="translate(63.1 1711) rotate(-90)" font-size="20.2" text-anchor="middle" fill="#000">Ranked List Metric</text>
<rect x="104.2" y="1508.4" width="318.4" height="78.6" fill="#fff" stroke="#d6d6d6" stroke-width="1.2"/>
<line x1="104.2" y1="1579" x2="422.6" y2="1579" stroke="#222" stroke-width="1.1" stroke-dasharray="4 3"/>
<line x1="104.2" y1="1512.7" x2="163.5" y2="1512.7" stroke="#555" stroke-width="0.80" stroke-dasharray="1.5 1.5"/>
<line x1="163.5" y1="1512.7" x2="163.5" y2="1579" stroke="#555" stroke-width="0.80" stroke-dasharray="1.5 1.5"/>
<text x="152.5" y="1514.7" font-size="6.5">ES: 0.69</text>
<text x="103.5" y="1530.5" font-size="21" text-anchor="end">0.6</text>
<text x="103.5" y="1550.5" font-size="21" text-anchor="end">0.4</text>
<text x="103.5" y="1569.1" font-size="21" text-anchor="end">0.2</text>
<text x="103.5" y="1588.5" font-size="21" text-anchor="end">0.0</text>
<path d="M104.2 1578.6 L112.6 1580.8 L117.5 1583.4 L119.9 1568.2 L121.8 1561.6 L124.7 1560 L126.7 1555.6 L130.1 1554.4 L132 1550.8 L135.6 1548.8 L137.3 1544.7 L140.5 1542.3 L141.7 1536.9 L145.3 1535.7 L147.7 1526.5 L149.4 1522.9 L153.3 1521.2 L155 1518.1 L159.1 1516.9 L161.1 1513.9 L163.5 1512.7 L172 1515.6 L180.4 1518.1 L184.8 1513.2 L195 1515.6 L197.9 1513.9 L211.9 1518.1 L214.3 1517.3 L236.1 1523.6 L238.5 1523.6 L287 1538.6 L316 1547.1 L318.5 1545.9 L422.6 1579.1" fill="none" stroke="url(#ge0)" stroke-width="3.2" stroke-linejoin="round"/>
<text x="150.2" y="1554.4" font-size="24" font-style="italic">p</text>
<text x="174.7" y="1554.4" font-size="24">&lt;</text>
<text x="198.2" y="1554.4" font-size="24">0.001</text>
<text x="150.7" y="1581.7" font-size="23.6">NES = 2.06</text>
<path d="M284.3 1592.4 L284.3 1557.4 L277 1557.4 L287 1537.4 L297 1557.4 L289.7 1557.4 L289.7 1592.4 Z" fill="#f50d0d"/>
<rect x="104.2" y="1591.4" width="318.4" height="78.7" fill="#fff" stroke="#dcdcdc" stroke-width="1.2"/>
<path d="M117.5 1591.4V1646.6M118.2 1591.4V1646.6M118.9 1591.4V1646.6M119.9 1591.4V1646.6M121.1 1591.4V1646.6M126.4 1591.4V1646.6M131.5 1591.4V1646.6M135.6 1591.4V1646.6M139.3 1591.4V1646.6M142.9 1591.4V1646.6M147.3 1591.4V1646.6M148.2 1591.4V1646.6M149.4 1591.4V1646.6M153.8 1591.4V1646.6M158.6 1591.4V1646.6M160.3 1591.4V1646.6M162.3 1591.4V1646.6M184.1 1591.4V1646.6M195.7 1591.4V1646.6M213.1 1591.4V1646.6M236.6 1591.4V1646.6M269.5 1591.4V1646.6M280.4 1591.4V1646.6M317.7 1591.4V1646.6" fill="none" stroke="#555" stroke-width="1.1"/>
<rect x="104.2" y="1646.6" width="14.1" height="23.5" fill="#b2182b" shape-rendering="crispEdges"/>
<rect x="118" y="1646.6" width="14.3" height="23.5" fill="#c8535f" shape-rendering="crispEdges"/>
<rect x="132" y="1646.6" width="10.5" height="23.5" fill="#d98c90" shape-rendering="crispEdges"/>
<rect x="142.2" y="1646.6" width="11.9" height="23.5" fill="#efcfcd" shape-rendering="crispEdges"/>
<rect x="153.8" y="1646.6" width="29.4" height="23.5" fill="#d9dadf" shape-rendering="crispEdges"/>
<rect x="182.9" y="1646.6" width="53.5" height="23.5" fill="#9ab3cc" shape-rendering="crispEdges"/>
<rect x="236.1" y="1646.6" width="81.4" height="23.5" fill="#5f8cbe" shape-rendering="crispEdges"/>
<rect x="317.2" y="1646.6" width="105.7" height="23.5" fill="#2466ac" shape-rendering="crispEdges"/>
<rect x="104.2" y="1673.2" width="318.4" height="77.5" fill="#fff" stroke="#e2e2e2" stroke-width="1"/>
<path d="M104.2 1703.5 L104.2 1673.2 L105.5 1680.1 L106.7 1683.7 L108 1685.7 L109.3 1686.8 L110.6 1687.4 L111.8 1687.8 L113.1 1688.1 L114.4 1688.3 L115.7 1688.6 L116.9 1688.7 L118.2 1688.9 L119.5 1689.1 L120.8 1689.3 L122 1689.5 L123.3 1689.6 L124.6 1689.8 L125.9 1690 L127.1 1690.1 L128.4 1690.3 L129.7 1690.5 L130.9 1690.7 L132.2 1690.8 L133.5 1691 L134.8 1691.2 L136 1691.3 L137.3 1691.5 L138.6 1691.7 L139.9 1691.8 L141.1 1692 L142.4 1692.1 L143.7 1692.3 L145 1692.5 L146.2 1692.6 L147.5 1692.8 L148.8 1693 L150 1693.1 L151.3 1693.3 L152.6 1693.4 L153.9 1693.6 L155.1 1693.8 L156.4 1693.9 L157.7 1694.1 L159 1694.2 L160.2 1694.4 L161.5 1694.5 L162.8 1694.7 L164.1 1694.9 L165.3 1695 L166.6 1695.2 L167.9 1695.3 L169.2 1695.5 L170.4 1695.6 L171.7 1695.8 L173 1695.9 L174.2 1696.1 L175.5 1696.2 L176.8 1696.4 L178.1 1696.5 L179.3 1696.7 L180.6 1696.8 L181.9 1696.9 L183.2 1697.1 L184.4 1697.2 L185.7 1697.4 L187 1697.5 L188.3 1697.7 L189.5 1697.8 L190.8 1697.9 L192.1 1698.1 L193.4 1698.2 L194.6 1698.4 L195.9 1698.5 L197.2 1698.6 L198.4 1698.8 L199.7 1698.9 L201 1699 L202.3 1699.2 L203.5 1699.3 L204.8 1699.4 L206.1 1699.5 L207.4 1699.7 L208.6 1699.8 L209.9 1699.9 L211.2 1700.1 L212.5 1700.2 L213.7 1700.3 L215 1700.4 L216.3 1700.5 L217.6 1700.7 L218.8 1700.8 L220.1 1700.9 L221.4 1701 L222.6 1701.1 L223.9 1701.2 L225.2 1701.4 L226.5 1701.5 L227.7 1701.6 L229 1701.7 L230.3 1701.8 L231.6 1701.9 L232.8 1702 L234.1 1702.1 L235.4 1702.2 L236.7 1702.3 L237.9 1702.4 L239.2 1702.5 L240.5 1702.6 L241.7 1702.7 L243 1702.8 L244.3 1702.8 L245.6 1702.9 L246.8 1703 L248.1 1703.1 L249.4 1703.2 L250.7 1703.2 L251.9 1703.3 L253.2 1703.4 L254.5 1703.4 L255.8 1703.5 L257 1703.5 L257 1703.5Z" fill="url(#rr0)"/>
<linearGradient id="rr0" gradientUnits="userSpaceOnUse" x1="104.2" y1="0" x2="257" y2="0"><stop offset="0" stop-color="#b0172a"/><stop offset="0.5" stop-color="#d77a80"/><stop offset="1" stop-color="#fbeeee"/></linearGradient>
<path d="M285.6 1703.5 L285.6 1703.5 L286.7 1703.5 L287.9 1703.5 L289 1703.5 L290.2 1703.5 L291.3 1703.5 L292.4 1703.5 L293.6 1703.5 L294.7 1703.5 L295.9 1703.5 L297 1703.6 L298.1 1703.6 L299.3 1703.6 L300.4 1703.6 L301.6 1703.6 L302.7 1703.6 L303.9 1703.6 L305 1703.7 L306.1 1703.7 L307.3 1703.7 L308.4 1703.7 L309.6 1703.8 L310.7 1703.8 L311.8 1703.8 L313 1703.8 L314.1 1703.9 L315.3 1703.9 L316.4 1704 L317.6 1704 L318.7 1704 L319.8 1704.1 L321 1704.1 L322.1 1704.2 L323.3 1704.2 L324.4 1704.2 L325.5 1704.3 L326.7 1704.3 L327.8 1704.4 L329 1704.5 L330.1 1704.5 L331.3 1704.6 L332.4 1704.6 L333.5 1704.7 L334.7 1704.8 L335.8 1704.8 L337 1704.9 L338.1 1705 L339.2 1705 L340.4 1705.1 L341.5 1705.2 L342.7 1705.2 L343.8 1705.3 L345 1705.4 L346.1 1705.5 L347.2 1705.6 L348.4 1705.7 L349.5 1705.7 L350.7 1705.8 L351.8 1705.9 L353 1706 L354.1 1706.1 L355.2 1706.2 L356.4 1706.3 L357.5 1706.4 L358.7 1706.5 L359.8 1706.6 L360.9 1706.7 L362.1 1706.8 L363.2 1706.9 L364.4 1707.1 L365.5 1707.2 L366.7 1707.3 L367.8 1707.4 L368.9 1707.5 L370.1 1707.6 L371.2 1707.8 L372.4 1707.9 L373.5 1708 L374.6 1708.2 L375.8 1708.3 L376.9 1708.4 L378.1 1708.6 L379.2 1708.7 L380.4 1708.8 L381.5 1709 L382.6 1709.1 L383.8 1709.3 L384.9 1709.4 L386.1 1709.6 L387.2 1709.7 L388.3 1709.9 L389.5 1710 L390.6 1710.2 L391.8 1710.3 L392.9 1710.5 L394.1 1710.7 L395.2 1710.8 L396.3 1711 L397.5 1711.2 L398.6 1711.4 L399.8 1711.5 L400.9 1711.7 L402 1711.9 L403.2 1712.1 L404.3 1712.3 L405.5 1712.5 L406.6 1712.7 L407.8 1712.9 L408.9 1713.1 L410 1713.4 L411.2 1713.7 L412.3 1714.1 L413.5 1714.6 L414.6 1715.2 L415.7 1716.2 L416.9 1717.5 L418 1719.6 L419.2 1722.7 L420.3 1727.5 L421.5 1735.1 L422.6 1747 L422.6 1703.5Z" fill="url(#rb0)"/>
<linearGradient id="rb0" gradientUnits="userSpaceOnUse" x1="285.6" y1="0" x2="422.6" y2="0"><stop offset="0" stop-color="#eef1fa"/><stop offset="0.55" stop-color="#9db3dc"/><stop offset="1" stop-color="#2061b0"/></linearGradient>
<line x1="104.2" y1="1703.5" x2="422.6" y2="1703.5" stroke="#222" stroke-width="1.1" stroke-dasharray="4 3"/>
<line x1="266.9" y1="1673.2" x2="266.9" y2="1750.7" stroke="#444" stroke-width="0.90" stroke-dasharray="1.5 1.5"/>
<line x1="104.2" y1="1750.7" x2="422.6" y2="1750.7" stroke="#777" stroke-width="1.6"/>
<text x="126.2" y="1692.2" font-size="7">FE (positively correlated)</text>
<text x="266.9" y="1715.5" font-size="7" text-anchor="middle">Zero cross at 456</text>
<text x="368.5" y="1729.5" font-size="7" text-anchor="middle">S (negatively correlated)</text>
<text x="103" y="1697.5" font-size="21" text-anchor="end">2</text>
<text x="103" y="1711" font-size="21" text-anchor="end">0</text>
<text x="103" y="1730.4" font-size="21" text-anchor="end">-2</text>
<text x="103" y="1747.3" font-size="21" text-anchor="end">-4</text>
<text x="176.8" y="1770" font-size="21" text-anchor="middle">200</text>
<text x="249" y="1770" font-size="21" text-anchor="middle">400</text>
<text x="320.4" y="1770" font-size="21" text-anchor="middle">600</text>
<text x="391.6" y="1770" font-size="21" text-anchor="middle">800</text>
<text x="161" y="1796.7" font-size="20.2">Rank in Ordered Dataset</text>
<linearGradient id="ge1" gradientUnits="userSpaceOnUse" x1="528.5" y1="0" x2="848.6" y2="0"><stop offset="0" stop-color="#1d3a5c"/><stop offset="0.45" stop-color="#2c5a8a"/><stop offset="1" stop-color="#5eaee8"/></linearGradient>
<text x="547.7" y="1478" font-size="26.7">ATP-dependent activity</text>
<text transform="translate(489 1535.6) rotate(-90)" font-size="20.2" text-anchor="middle" fill="#000">Enrichment score</text>
<text transform="translate(489.5 1710) rotate(-90)" font-size="20.2" text-anchor="middle" fill="#000">Ranked List Metric</text>
<rect x="528.5" y="1502.3" width="320.1" height="79.9" fill="#fff" stroke="#d6d6d6" stroke-width="1.2"/>
<line x1="528.5" y1="1577.9" x2="848.6" y2="1577.9" stroke="#222" stroke-width="1.1" stroke-dasharray="4 3"/>
<line x1="528.5" y1="1506.4" x2="591.5" y2="1506.4" stroke="#555" stroke-width="0.80" stroke-dasharray="1.5 1.5"/>
<line x1="591.5" y1="1506.4" x2="591.5" y2="1577.9" stroke="#555" stroke-width="0.80" stroke-dasharray="1.5 1.5"/>
<text x="580.5" y="1508.4" font-size="6.5">ES: 0.56</text>
<text x="527.5" y="1536.9" font-size="21" text-anchor="end">0.4</text>
<text x="527.5" y="1561.4" font-size="21" text-anchor="end">0.2</text>
<text x="527.5" y="1587.8" font-size="21" text-anchor="end">0.0</text>
<path d="M529.7 1578.6 L530.2 1575 L531.4 1565.3 L533.4 1564.8 L533.8 1555.6 L537.5 1555.1 L538.7 1554.4 L541.1 1535 L553.2 1539.9 L554.9 1538.6 L558.1 1516.9 L569 1521.7 L571.4 1515.2 L579.9 1518.1 L581.1 1512.7 L590.3 1515.6 L592 1506.4 L605.3 1512 L644 1527.7 L647.7 1526.1 L653.7 1526.5 L658.5 1524.1 L668.2 1527.3 L679.1 1527.3 L692.4 1532.6 L702.1 1536.2 L740.9 1552 L769.9 1562.9 L774.8 1560 L790.5 1566.5 L797.8 1562.4 L814.7 1568.9 L815.9 1564.6 L847.4 1577.9" fill="none" stroke="url(#ge1)" stroke-width="3.2" stroke-linejoin="round"/>
<text x="559.3" y="1552.7" font-size="24" font-style="italic">p</text>
<text x="583.8" y="1552.7" font-size="24">&lt;</text>
<text x="607.3" y="1552.7" font-size="24">0.05</text>
<text x="559.8" y="1579" font-size="23.6">NES = 1.67</text>
<path d="M690.3 1587 L690.3 1551.9 L683 1551.9 L693 1531.9 L703 1551.9 L695.7 1551.9 L695.7 1587 Z" fill="#f50d0d"/>
<rect x="528.5" y="1586.8" width="320.1" height="79.2" fill="#fff" stroke="#dcdcdc" stroke-width="1.2"/>
<path d="M530.2 1586.8V1642.5M533.4 1586.8V1642.5M538.7 1586.8V1642.5M539.4 1586.8V1642.5M553.9 1586.8V1642.5M556.4 1586.8V1642.5M557.6 1586.8V1642.5M569.7 1586.8V1642.5M579.4 1586.8V1642.5M590.3 1586.8V1642.5M644.7 1586.8V1642.5M647.2 1586.8V1642.5M653.7 1586.8V1642.5M655.2 1586.8V1642.5M657.3 1586.8V1642.5M667.7 1586.8V1642.5M671.9 1586.8V1642.5M675.0 1586.8V1642.5M681.5 1586.8V1642.5M701.6 1586.8V1642.5M704.1 1586.8V1642.5M740.9 1586.8V1642.5M769.9 1586.8V1642.5M773.1 1586.8V1642.5M792.4 1586.8V1642.5M796.6 1586.8V1642.5M815.4 1586.8V1642.5" fill="none" stroke="#555" stroke-width="1.1"/>
<rect x="528.5" y="1642.5" width="27.9" height="23.5" fill="#c8535f" shape-rendering="crispEdges"/>
<rect x="556.1" y="1642.5" width="33.7" height="23.5" fill="#d98c90" shape-rendering="crispEdges"/>
<rect x="589.5" y="1642.5" width="66.4" height="23.5" fill="#efcfcd" shape-rendering="crispEdges"/>
<rect x="655.6" y="1642.5" width="19.7" height="23.5" fill="#d9dadf" shape-rendering="crispEdges"/>
<rect x="675" y="1642.5" width="95.2" height="23.5" fill="#9ab3cc" shape-rendering="crispEdges"/>
<rect x="769.9" y="1642.5" width="45.8" height="23.5" fill="#5f8cbe" shape-rendering="crispEdges"/>
<rect x="815.4" y="1642.5" width="33.5" height="23.5" fill="#2466ac" shape-rendering="crispEdges"/>
<rect x="528.5" y="1668.4" width="320.1" height="78.6" fill="#fff" stroke="#e2e2e2" stroke-width="1"/>
<path d="M528.5 1697.4 L528.5 1668.4 L529.8 1674.6 L531.2 1677.8 L532.5 1679.5 L533.8 1680.4 L535.2 1680.9 L536.5 1681.3 L537.8 1681.6 L539.2 1681.8 L540.5 1682 L541.8 1682.2 L543.2 1682.4 L544.5 1682.6 L545.8 1682.8 L547.2 1682.9 L548.5 1683.1 L549.8 1683.3 L551.2 1683.5 L552.5 1683.6 L553.8 1683.8 L555.2 1684 L556.5 1684.2 L557.8 1684.3 L559.2 1684.5 L560.5 1684.7 L561.8 1684.9 L563.2 1685 L564.5 1685.2 L565.8 1685.4 L567.2 1685.5 L568.5 1685.7 L569.8 1685.9 L571.2 1686 L572.5 1686.2 L573.8 1686.4 L575.2 1686.5 L576.5 1686.7 L577.8 1686.9 L579.2 1687 L580.5 1687.2 L581.9 1687.4 L583.2 1687.5 L584.5 1687.7 L585.9 1687.9 L587.2 1688 L588.5 1688.2 L589.9 1688.3 L591.2 1688.5 L592.5 1688.6 L593.9 1688.8 L595.2 1689 L596.5 1689.1 L597.9 1689.3 L599.2 1689.4 L600.5 1689.6 L601.9 1689.7 L603.2 1689.9 L604.5 1690 L605.9 1690.2 L607.2 1690.3 L608.5 1690.5 L609.9 1690.6 L611.2 1690.8 L612.5 1690.9 L613.9 1691.1 L615.2 1691.2 L616.5 1691.4 L617.9 1691.5 L619.2 1691.7 L620.5 1691.8 L621.9 1692 L623.2 1692.1 L624.5 1692.2 L625.9 1692.4 L627.2 1692.5 L628.5 1692.7 L629.9 1692.8 L631.2 1692.9 L632.5 1693.1 L633.9 1693.2 L635.2 1693.3 L636.5 1693.5 L637.9 1693.6 L639.2 1693.7 L640.5 1693.8 L641.9 1694 L643.2 1694.1 L644.5 1694.2 L645.9 1694.4 L647.2 1694.5 L648.5 1694.6 L649.9 1694.7 L651.2 1694.8 L652.5 1695 L653.9 1695.1 L655.2 1695.2 L656.5 1695.3 L657.9 1695.4 L659.2 1695.5 L660.5 1695.6 L661.9 1695.7 L663.2 1695.9 L664.5 1696 L665.9 1696.1 L667.2 1696.2 L668.5 1696.3 L669.9 1696.4 L671.2 1696.5 L672.5 1696.5 L673.9 1696.6 L675.2 1696.7 L676.5 1696.8 L677.9 1696.9 L679.2 1697 L680.5 1697.1 L681.9 1697.1 L683.2 1697.2 L684.5 1697.3 L685.9 1697.3 L687.2 1697.4 L688.5 1697.4 L688.5 1697.4Z" fill="url(#rr1)"/>
<linearGradient id="rr1" gradientUnits="userSpaceOnUse" x1="528.5" y1="0" x2="688.5" y2="0"><stop offset="0" stop-color="#b0172a"/><stop offset="0.5" stop-color="#d77a80"/><stop offset="1" stop-color="#fbeeee"/></linearGradient>
<path d="M716.5 1697.4 L716.5 1697.4 L717.6 1697.4 L718.7 1697.4 L719.8 1697.4 L720.9 1697.4 L722 1697.4 L723.1 1697.4 L724.2 1697.4 L725.3 1697.4 L726.4 1697.4 L727.5 1697.5 L728.6 1697.5 L729.7 1697.5 L730.8 1697.5 L731.9 1697.5 L733 1697.5 L734.1 1697.5 L735.2 1697.6 L736.3 1697.6 L737.4 1697.6 L738.5 1697.6 L739.6 1697.7 L740.7 1697.7 L741.8 1697.7 L742.9 1697.7 L744 1697.8 L745.1 1697.8 L746.2 1697.9 L747.3 1697.9 L748.4 1697.9 L749.5 1698 L750.6 1698 L751.7 1698.1 L752.8 1698.1 L753.9 1698.1 L755 1698.2 L756.1 1698.2 L757.2 1698.3 L758.3 1698.4 L759.4 1698.4 L760.5 1698.5 L761.6 1698.5 L762.7 1698.6 L763.8 1698.7 L764.9 1698.7 L766 1698.8 L767.1 1698.9 L768.2 1698.9 L769.3 1699 L770.4 1699.1 L771.5 1699.1 L772.6 1699.2 L773.8 1699.3 L774.9 1699.4 L776 1699.5 L777.1 1699.6 L778.2 1699.6 L779.3 1699.7 L780.4 1699.8 L781.5 1699.9 L782.6 1700 L783.7 1700.1 L784.8 1700.2 L785.9 1700.3 L787 1700.4 L788.1 1700.5 L789.2 1700.6 L790.3 1700.7 L791.4 1700.8 L792.5 1701 L793.6 1701.1 L794.7 1701.2 L795.8 1701.3 L796.9 1701.4 L798 1701.5 L799.1 1701.7 L800.2 1701.8 L801.3 1701.9 L802.4 1702.1 L803.5 1702.2 L804.6 1702.3 L805.7 1702.5 L806.8 1702.6 L807.9 1702.7 L809 1702.9 L810.1 1703 L811.2 1703.2 L812.3 1703.3 L813.4 1703.5 L814.5 1703.6 L815.6 1703.8 L816.7 1703.9 L817.8 1704.1 L818.9 1704.2 L820 1704.4 L821.1 1704.6 L822.2 1704.7 L823.3 1704.9 L824.4 1705.1 L825.5 1705.3 L826.6 1705.4 L827.7 1705.6 L828.8 1705.8 L829.9 1706 L831 1706.2 L832.1 1706.4 L833.2 1706.6 L834.3 1706.8 L835.4 1707 L836.5 1707.3 L837.6 1707.6 L838.7 1708 L839.8 1708.5 L840.9 1709.1 L842 1710 L843.1 1711.4 L844.2 1713.4 L845.3 1716.5 L846.4 1721.2 L847.5 1728.7 L848.6 1740.4 L848.6 1697.4Z" fill="url(#rb1)"/>
<linearGradient id="rb1" gradientUnits="userSpaceOnUse" x1="716.5" y1="0" x2="848.6" y2="0"><stop offset="0" stop-color="#eef1fa"/><stop offset="0.55" stop-color="#9db3dc"/><stop offset="1" stop-color="#2061b0"/></linearGradient>
<line x1="528.5" y1="1697.4" x2="848.6" y2="1697.4" stroke="#222" stroke-width="1.1" stroke-dasharray="4 3"/>
<line x1="698.5" y1="1668.4" x2="698.5" y2="1747" stroke="#444" stroke-width="0.90" stroke-dasharray="1.5 1.5"/>
<line x1="528.5" y1="1747" x2="848.6" y2="1747" stroke="#777" stroke-width="1.6"/>
<text x="550.5" y="1687.4" font-size="7">FE (positively correlated)</text>
<text x="698.5" y="1709.4" font-size="7" text-anchor="middle">Zero cross at 292</text>
<text x="794.2" y="1723.4" font-size="7" text-anchor="middle">S (negatively correlated)</text>
<text x="527" y="1690.5" font-size="21" text-anchor="end">2</text>
<text x="527" y="1704.9" font-size="21" text-anchor="end">0</text>
<text x="527" y="1725" font-size="21" text-anchor="end">-2</text>
<text x="527" y="1742" font-size="21" text-anchor="end">-4</text>
<text x="588.3" y="1767.7" font-size="21" text-anchor="middle">100</text>
<text x="646.4" y="1767.7" font-size="21" text-anchor="middle">200</text>
<text x="705" y="1767.7" font-size="21" text-anchor="middle">300</text>
<text x="764.4" y="1767.7" font-size="21" text-anchor="middle">400</text>
<text x="822.5" y="1767.7" font-size="21" text-anchor="middle">500</text>
<text x="583.5" y="1796.7" font-size="20.2">Rank in Ordered Dataset</text>
<linearGradient id="ge2" gradientUnits="userSpaceOnUse" x1="973.8" y1="0" x2="1292.7" y2="0"><stop offset="0" stop-color="#1d3a5c"/><stop offset="0.45" stop-color="#2c5a8a"/><stop offset="1" stop-color="#5eaee8"/></linearGradient>
<text x="1030.7" y="1478" font-size="26.7">ABC transporters</text>
<text transform="translate(931.5 1531.2) rotate(-90)" font-size="20.2" text-anchor="middle" fill="#000">Enrichment score</text>
<text transform="translate(932 1706.5) rotate(-90)" font-size="20.2" text-anchor="middle" fill="#000">Ranked List Metric</text>
<rect x="973.8" y="1501.1" width="318.9" height="78.7" fill="#fff" stroke="#d6d6d6" stroke-width="1.2"/>
<line x1="973.8" y1="1513.2" x2="1292.7" y2="1513.2" stroke="#222" stroke-width="1.1" stroke-dasharray="4 3"/>
<line x1="973.8" y1="1576.2" x2="1292.7" y2="1576.2" stroke="#777" stroke-width="0.80" stroke-dasharray="1.5 1.5"/>
<line x1="1222.8" y1="1513.2" x2="1222.8" y2="1576.2" stroke="#777" stroke-width="0.80" stroke-dasharray="1.5 1.5"/>
<text x="1209.8" y="1580.7" font-size="6.5">ES: -0.44</text>
<text x="972.6" y="1524.4" font-size="21" text-anchor="end">0.0</text>
<text x="972.6" y="1552.9" font-size="21" text-anchor="end">-0.2</text>
<text x="972.6" y="1581.3" font-size="21" text-anchor="end">-0.4</text>
<path d="M973.8 1513.2 L977 1514.9 L979.9 1516.4 L986 1510.8 L990.1 1513.2 L994.4 1514.9 L1001.7 1509.6 L1007.7 1504.7 L1018.6 1510.1 L1028.3 1515.2 L1035.6 1511 L1045.3 1515.6 L1052.5 1518.8 L1057.4 1516.9 L1067.1 1519.3 L1069.5 1518.8 L1084 1525.3 L1086.4 1525.8 L1108.2 1535.7 L1111.9 1536.2 L1132.4 1544.7 L1156.7 1555.6 L1178.5 1562.9 L1185.7 1564.1 L1207.5 1571.3 L1214.8 1573 L1223.2 1575.7 L1234.1 1569.6 L1243.8 1571.3 L1248.7 1570.1 L1263.2 1565.3 L1272.9 1562.9 L1280.1 1567.7 L1285 1560.4 L1287.4 1550.8 L1291 1536.2 L1292.7 1513.2" fill="none" stroke="url(#ge2)" stroke-width="3.2" stroke-linejoin="round"/>
<text x="1136" y="1535.7" font-size="24" font-style="italic">p</text>
<text x="1160.5" y="1535.7" font-size="24">&lt;</text>
<text x="1184" y="1535.7" font-size="24">0.001</text>
<text x="1136.5" y="1562.4" font-size="23.6">NES = -1.82</text>
<path d="M1275 1516.4 L1275 1549.6 L1267.7 1549.6 L1277.7 1569.6 L1287.7 1549.6 L1280.4 1549.6 L1280.4 1516.4 Z" fill="#0b6fc4"/>
<rect x="973.8" y="1584.4" width="318.9" height="79.1" fill="#fff" stroke="#dcdcdc" stroke-width="1.2"/>
<path d="M980.6 1584.4V1640M984.7 1584.4V1640M995.2 1584.4V1640M996.9 1584.4V1640M999.3 1584.4V1640M1001.7 1584.4V1640M1004.1 1584.4V1640M1006.1 1584.4V1640M1030.0 1584.4V1640M1032.0 1584.4V1640M1033.7 1584.4V1640M1052.1 1584.4V1640M1055.0 1584.4V1640M1065.9 1584.4V1640M1068.3 1584.4V1640M1084.7 1584.4V1640M1096.6 1584.4V1640M1109.4 1584.4V1640M1111.1 1584.4V1640M1113.1 1584.4V1640M1121.5 1584.4V1640M1133.7 1584.4V1640M1145.0 1584.4V1640M1159.1 1584.4V1640M1161.0 1584.4V1640M1162.7 1584.4V1640M1164.4 1584.4V1640M1165.6 1584.4V1640M1174.8 1584.4V1640M1182.1 1584.4V1640M1183.8 1584.4V1640M1185.7 1584.4V1640M1190.6 1584.4V1640M1193.0 1584.4V1640M1200.2 1584.4V1640M1208.7 1584.4V1640M1223.2 1584.4V1640M1225.7 1584.4V1640M1229.3 1584.4V1640M1231.7 1584.4V1640M1234.1 1584.4V1640M1240.2 1584.4V1640M1243.8 1584.4V1640M1248.7 1584.4V1640M1253.5 1584.4V1640M1257.1 1584.4V1640M1259.6 1584.4V1640M1262.0 1584.4V1640M1269.2 1584.4V1640M1280.1 1584.4V1640M1282.6 1584.4V1640M1285.0 1584.4V1640M1286.9 1584.4V1640M1288.6 1584.4V1640M1290.3 1584.4V1640M1291.8 1584.4V1640" fill="none" stroke="#555" stroke-width="1.1"/>
<rect x="973.8" y="1640" width="7.6" height="23.5" fill="#b2182b" shape-rendering="crispEdges"/>
<rect x="981.1" y="1640" width="74.2" height="23.5" fill="#c8535f" shape-rendering="crispEdges"/>
<rect x="1055" y="1640" width="66.8" height="23.5" fill="#d98c90" shape-rendering="crispEdges"/>
<rect x="1121.5" y="1640" width="60.8" height="23.5" fill="#efcfcd" shape-rendering="crispEdges"/>
<rect x="1182" y="1640" width="48.8" height="23.5" fill="#d9dadf" shape-rendering="crispEdges"/>
<rect x="1230.5" y="1640" width="31.1" height="23.5" fill="#9ab3cc" shape-rendering="crispEdges"/>
<rect x="1261.3" y="1640" width="31.7" height="23.5" fill="#5f8cbe" shape-rendering="crispEdges"/>
<rect x="973.8" y="1664.7" width="318.9" height="79.9" fill="#fff" stroke="#e2e2e2" stroke-width="1"/>
<path d="M973.8 1697.4 L973.8 1664.7 L975.1 1672.5 L976.4 1676.6 L977.6 1678.8 L978.9 1680 L980.2 1680.8 L981.5 1681.2 L982.7 1681.5 L984 1681.8 L985.3 1682 L986.6 1682.2 L987.8 1682.4 L989.1 1682.6 L990.4 1682.8 L991.7 1682.9 L992.9 1683.1 L994.2 1683.3 L995.5 1683.5 L996.8 1683.6 L998 1683.8 L999.3 1684 L1000.6 1684.2 L1001.9 1684.3 L1003.1 1684.5 L1004.4 1684.7 L1005.7 1684.9 L1007 1685 L1008.2 1685.2 L1009.5 1685.4 L1010.8 1685.5 L1012.1 1685.7 L1013.3 1685.9 L1014.6 1686 L1015.9 1686.2 L1017.2 1686.4 L1018.4 1686.5 L1019.7 1686.7 L1021 1686.9 L1022.3 1687 L1023.5 1687.2 L1024.8 1687.4 L1026.1 1687.5 L1027.4 1687.7 L1028.7 1687.9 L1029.9 1688 L1031.2 1688.2 L1032.5 1688.3 L1033.8 1688.5 L1035 1688.6 L1036.3 1688.8 L1037.6 1689 L1038.9 1689.1 L1040.1 1689.3 L1041.4 1689.4 L1042.7 1689.6 L1044 1689.7 L1045.2 1689.9 L1046.5 1690 L1047.8 1690.2 L1049.1 1690.3 L1050.3 1690.5 L1051.6 1690.6 L1052.9 1690.8 L1054.2 1690.9 L1055.4 1691.1 L1056.7 1691.2 L1058 1691.4 L1059.3 1691.5 L1060.5 1691.7 L1061.8 1691.8 L1063.1 1692 L1064.4 1692.1 L1065.6 1692.2 L1066.9 1692.4 L1068.2 1692.5 L1069.5 1692.7 L1070.7 1692.8 L1072 1692.9 L1073.3 1693.1 L1074.6 1693.2 L1075.8 1693.3 L1077.1 1693.5 L1078.4 1693.6 L1079.7 1693.7 L1081 1693.8 L1082.2 1694 L1083.5 1694.1 L1084.8 1694.2 L1086.1 1694.4 L1087.3 1694.5 L1088.6 1694.6 L1089.9 1694.7 L1091.2 1694.8 L1092.4 1695 L1093.7 1695.1 L1095 1695.2 L1096.3 1695.3 L1097.5 1695.4 L1098.8 1695.5 L1100.1 1695.6 L1101.4 1695.7 L1102.6 1695.9 L1103.9 1696 L1105.2 1696.1 L1106.5 1696.2 L1107.7 1696.3 L1109 1696.4 L1110.3 1696.5 L1111.6 1696.5 L1112.8 1696.6 L1114.1 1696.7 L1115.4 1696.8 L1116.7 1696.9 L1117.9 1697 L1119.2 1697.1 L1120.5 1697.1 L1121.8 1697.2 L1123 1697.3 L1124.3 1697.3 L1125.6 1697.4 L1126.9 1697.4 L1126.9 1697.4Z" fill="url(#rr2)"/>
<linearGradient id="rr2" gradientUnits="userSpaceOnUse" x1="973.8" y1="0" x2="1126.9" y2="0"><stop offset="0" stop-color="#b0172a"/><stop offset="0.5" stop-color="#d77a80"/><stop offset="1" stop-color="#fbeeee"/></linearGradient>
<path d="M1155.5 1697.4 L1155.5 1697.4 L1156.7 1697.4 L1157.8 1697.4 L1158.9 1697.4 L1160.1 1697.4 L1161.2 1697.4 L1162.4 1697.4 L1163.5 1697.4 L1164.7 1697.4 L1165.8 1697.4 L1166.9 1697.5 L1168.1 1697.5 L1169.2 1697.5 L1170.4 1697.5 L1171.5 1697.5 L1172.7 1697.5 L1173.8 1697.5 L1174.9 1697.6 L1176.1 1697.6 L1177.2 1697.6 L1178.4 1697.6 L1179.5 1697.7 L1180.7 1697.7 L1181.8 1697.7 L1182.9 1697.7 L1184.1 1697.8 L1185.2 1697.8 L1186.4 1697.9 L1187.5 1697.9 L1188.7 1697.9 L1189.8 1698 L1190.9 1698 L1192.1 1698.1 L1193.2 1698.1 L1194.4 1698.1 L1195.5 1698.2 L1196.7 1698.2 L1197.8 1698.3 L1199 1698.4 L1200.1 1698.4 L1201.2 1698.5 L1202.4 1698.5 L1203.5 1698.6 L1204.7 1698.7 L1205.8 1698.7 L1207 1698.8 L1208.1 1698.9 L1209.2 1698.9 L1210.4 1699 L1211.5 1699.1 L1212.7 1699.1 L1213.8 1699.2 L1215 1699.3 L1216.1 1699.4 L1217.2 1699.5 L1218.4 1699.6 L1219.5 1699.6 L1220.7 1699.7 L1221.8 1699.8 L1223 1699.9 L1224.1 1700 L1225.2 1700.1 L1226.4 1700.2 L1227.5 1700.3 L1228.7 1700.4 L1229.8 1700.5 L1231 1700.6 L1232.1 1700.7 L1233.3 1700.8 L1234.4 1701 L1235.5 1701.1 L1236.7 1701.2 L1237.8 1701.3 L1239 1701.4 L1240.1 1701.5 L1241.3 1701.7 L1242.4 1701.8 L1243.5 1701.9 L1244.7 1702.1 L1245.8 1702.2 L1247 1702.3 L1248.1 1702.5 L1249.3 1702.6 L1250.4 1702.7 L1251.5 1702.9 L1252.7 1703 L1253.8 1703.2 L1255 1703.3 L1256.1 1703.5 L1257.3 1703.6 L1258.4 1703.8 L1259.5 1703.9 L1260.7 1704.1 L1261.8 1704.2 L1263 1704.4 L1264.1 1704.6 L1265.3 1704.7 L1266.4 1704.9 L1267.5 1705.1 L1268.7 1705.3 L1269.8 1705.4 L1271 1705.6 L1272.1 1705.8 L1273.3 1706 L1274.4 1706.2 L1275.6 1706.4 L1276.7 1706.6 L1277.8 1706.8 L1279 1707 L1280.1 1707.3 L1281.3 1707.6 L1282.4 1708 L1283.6 1708.4 L1284.7 1709.1 L1285.8 1710 L1287 1711.3 L1288.1 1713.2 L1289.3 1716.2 L1290.4 1720.8 L1291.6 1728.1 L1292.7 1739.4 L1292.7 1697.4Z" fill="url(#rb2)"/>
<linearGradient id="rb2" gradientUnits="userSpaceOnUse" x1="1155.5" y1="0" x2="1292.7" y2="0"><stop offset="0" stop-color="#eef1fa"/><stop offset="0.55" stop-color="#9db3dc"/><stop offset="1" stop-color="#2061b0"/></linearGradient>
<line x1="973.8" y1="1697.4" x2="1292.7" y2="1697.4" stroke="#222" stroke-width="1.1" stroke-dasharray="4 3"/>
<line x1="1136.8" y1="1664.7" x2="1136.8" y2="1744.6" stroke="#444" stroke-width="0.90" stroke-dasharray="1.5 1.5"/>
<line x1="973.8" y1="1744.6" x2="1292.7" y2="1744.6" stroke="#777" stroke-width="1.6"/>
<text x="995.8" y="1683.7" font-size="7">FE (positively correlated)</text>
<text x="1136.8" y="1709.4" font-size="7" text-anchor="middle">Zero cross at 456</text>
<text x="1238.5" y="1723.4" font-size="7" text-anchor="middle">S (negatively correlated)</text>
<text x="972" y="1690.5" font-size="21" text-anchor="end">2</text>
<text x="972" y="1704.9" font-size="21" text-anchor="end">0</text>
<text x="972" y="1725.5" font-size="21" text-anchor="end">-2</text>
<text x="972" y="1740" font-size="21" text-anchor="end">-4</text>
<text x="1047.2" y="1762.8" font-size="21" text-anchor="middle">200</text>
<text x="1118.4" y="1762.8" font-size="21" text-anchor="middle">400</text>
<text x="1190" y="1762.8" font-size="21" text-anchor="middle">600</text>
<text x="1260.8" y="1762.8" font-size="21" text-anchor="middle">800</text>
<text x="1030.7" y="1796.7" font-size="20.2">Rank in Ordered Dataset</text>
<linearGradient id="ge3" gradientUnits="userSpaceOnUse" x1="1407" y1="0" x2="1725.9" y2="0"><stop offset="0" stop-color="#1d3a5c"/><stop offset="0.45" stop-color="#2c5a8a"/><stop offset="1" stop-color="#5eaee8"/></linearGradient>
<text x="1445" y="1478" font-size="26.7">Histidine Metabolism</text>
<text transform="translate(1362.5 1538.5) rotate(-90)" font-size="20.2" text-anchor="middle" fill="#000">Enrichment score</text>
<text transform="translate(1363 1709) rotate(-90)" font-size="20.2" text-anchor="middle" fill="#000">Ranked List Metric</text>
<rect x="1407" y="1502.3" width="318.9" height="78.7" fill="#fff" stroke="#d6d6d6" stroke-width="1.2"/>
<line x1="1407" y1="1512" x2="1725.9" y2="1512" stroke="#999" stroke-width="1.1" stroke-dasharray="4 3"/>
<line x1="1407" y1="1578.5" x2="1725.9" y2="1578.5" stroke="#777" stroke-width="0.80" stroke-dasharray="1.5 1.5"/>
<line x1="1656.9" y1="1512" x2="1656.9" y2="1578.5" stroke="#777" stroke-width="0.80" stroke-dasharray="1.5 1.5"/>
<text x="1643.9" y="1583" font-size="6.5">ES: -0.62</text>
<text x="1406" y="1523.1" font-size="21" text-anchor="end">0.0</text>
<text x="1406" y="1544.2" font-size="21" text-anchor="end">-0.2</text>
<text x="1406" y="1566" font-size="21" text-anchor="end">-0.4</text>
<text x="1406" y="1587.8" font-size="21" text-anchor="end">-0.6</text>
<path d="M1407 1512 L1419.6 1516.4 L1420.1 1506 L1488.6 1529 L1489.3 1525.8 L1572.1 1552 L1572.9 1550.8 L1574.6 1551.5 L1580.6 1553.2 L1581.3 1552 L1604.3 1559.2 L1605.1 1557.5 L1632.7 1571.3 L1633.9 1568.9 L1656.9 1576.9 L1659.3 1573.8 L1666.6 1575 L1667.8 1572.5 L1673.8 1573.8 L1675 1570.6 L1692 1577.4 L1693.2 1571.3 L1700.5 1573 L1701.7 1566.5 L1722.3 1573.8 L1723.5 1538.6 L1725.4 1512" fill="none" stroke="url(#ge3)" stroke-width="2.2" stroke-linejoin="round"/>
<text x="1568.5" y="1537.4" font-size="24" font-style="italic">p</text>
<text x="1593" y="1537.4" font-size="24">&lt;</text>
<text x="1616.5" y="1537.4" font-size="24">0.05</text>
<text x="1569" y="1563.3" font-size="23.6">NES = -1.73</text>
<path d="M1707.4 1514.4 L1707.4 1548.2 L1700.1 1548.2 L1710.1 1568.2 L1720.1 1548.2 L1712.8 1548.2 L1712.8 1514.4 Z" fill="#0b6fc4"/>
<rect x="1407" y="1586" width="318.9" height="78.7" fill="#fff" stroke="#dcdcdc" stroke-width="1.2"/>
<path d="M1419.6 1586V1641.7M1488.6 1586V1641.7M1571.4 1586V1641.7M1574.1 1586V1641.7M1580.6 1586V1641.7M1604.3 1586V1641.7M1632.7 1586V1641.7M1657.4 1586V1641.7M1666.6 1586V1641.7M1673.3 1586V1641.7M1692.5 1586V1641.7M1700.5 1586V1641.7M1722.7 1586V1641.7M1724.7 1586V1641.7" fill="none" stroke="#c8c8c8" stroke-width="1.1"/>
<rect x="1407" y="1641.7" width="12.9" height="23" fill="#b2182b" shape-rendering="crispEdges"/>
<rect x="1419.6" y="1641.7" width="155.3" height="23" fill="#c8535f" shape-rendering="crispEdges"/>
<rect x="1574.6" y="1641.7" width="30" height="23" fill="#d98c90" shape-rendering="crispEdges"/>
<rect x="1604.3" y="1641.7" width="53.4" height="23" fill="#efcfcd" shape-rendering="crispEdges"/>
<rect x="1657.4" y="1641.7" width="35.4" height="23" fill="#d9dadf" shape-rendering="crispEdges"/>
<rect x="1692.5" y="1641.7" width="30.5" height="23" fill="#9ab3cc" shape-rendering="crispEdges"/>
<rect x="1722.7" y="1641.7" width="3.5" height="23" fill="#5f8cbe" shape-rendering="crispEdges"/>
<rect x="1407" y="1670.8" width="318.9" height="75.1" fill="#fff" stroke="#e2e2e2" stroke-width="1"/>
<path d="M1407 1698.6 L1407 1670.8 L1408.3 1676.6 L1409.7 1679.6 L1411 1681.2 L1412.3 1682.1 L1413.6 1682.6 L1415 1683 L1416.3 1683.3 L1417.6 1683.5 L1419 1683.7 L1420.3 1683.9 L1421.6 1684 L1422.9 1684.2 L1424.3 1684.4 L1425.6 1684.6 L1426.9 1684.7 L1428.3 1684.9 L1429.6 1685.1 L1430.9 1685.2 L1432.2 1685.4 L1433.6 1685.6 L1434.9 1685.8 L1436.2 1685.9 L1437.6 1686.1 L1438.9 1686.3 L1440.2 1686.4 L1441.5 1686.6 L1442.9 1686.8 L1444.2 1686.9 L1445.5 1687.1 L1446.9 1687.2 L1448.2 1687.4 L1449.5 1687.6 L1450.8 1687.7 L1452.2 1687.9 L1453.5 1688.1 L1454.8 1688.2 L1456.2 1688.4 L1457.5 1688.5 L1458.8 1688.7 L1460.2 1688.9 L1461.5 1689 L1462.8 1689.2 L1464.1 1689.3 L1465.5 1689.5 L1466.8 1689.6 L1468.1 1689.8 L1469.5 1690 L1470.8 1690.1 L1472.1 1690.3 L1473.4 1690.4 L1474.8 1690.6 L1476.1 1690.7 L1477.4 1690.9 L1478.8 1691 L1480.1 1691.2 L1481.4 1691.3 L1482.7 1691.5 L1484.1 1691.6 L1485.4 1691.8 L1486.7 1691.9 L1488.1 1692 L1489.4 1692.2 L1490.7 1692.3 L1492 1692.5 L1493.4 1692.6 L1494.7 1692.8 L1496 1692.9 L1497.4 1693 L1498.7 1693.2 L1500 1693.3 L1501.3 1693.5 L1502.7 1693.6 L1504 1693.7 L1505.3 1693.9 L1506.7 1694 L1508 1694.1 L1509.3 1694.3 L1510.6 1694.4 L1512 1694.5 L1513.3 1694.6 L1514.6 1694.8 L1516 1694.9 L1517.3 1695 L1518.6 1695.2 L1519.9 1695.3 L1521.3 1695.4 L1522.6 1695.5 L1523.9 1695.6 L1525.3 1695.8 L1526.6 1695.9 L1527.9 1696 L1529.2 1696.1 L1530.6 1696.2 L1531.9 1696.3 L1533.2 1696.5 L1534.6 1696.6 L1535.9 1696.7 L1537.2 1696.8 L1538.5 1696.9 L1539.9 1697 L1541.2 1697.1 L1542.5 1697.2 L1543.9 1697.3 L1545.2 1697.4 L1546.5 1697.5 L1547.8 1697.6 L1549.2 1697.7 L1550.5 1697.8 L1551.8 1697.9 L1553.2 1697.9 L1554.5 1698 L1555.8 1698.1 L1557.1 1698.2 L1558.5 1698.3 L1559.8 1698.3 L1561.1 1698.4 L1562.5 1698.5 L1563.8 1698.5 L1565.1 1698.6 L1566.5 1698.6 L1566.5 1698.6Z" fill="url(#rr3)"/>
<linearGradient id="rr3" gradientUnits="userSpaceOnUse" x1="1407" y1="0" x2="1566.5" y2="0"><stop offset="0" stop-color="#b0172a"/><stop offset="0.5" stop-color="#d77a80"/><stop offset="1" stop-color="#fbeeee"/></linearGradient>
<path d="M1588.4 1698.6 L1588.4 1698.6 L1589.6 1698.6 L1590.7 1698.6 L1591.9 1698.6 L1593 1698.6 L1594.2 1698.6 L1595.3 1698.6 L1596.5 1698.6 L1597.6 1698.6 L1598.8 1698.6 L1599.9 1698.7 L1601 1698.7 L1602.2 1698.7 L1603.3 1698.7 L1604.5 1698.7 L1605.6 1698.7 L1606.8 1698.7 L1607.9 1698.8 L1609.1 1698.8 L1610.2 1698.8 L1611.4 1698.8 L1612.5 1698.9 L1613.6 1698.9 L1614.8 1698.9 L1615.9 1698.9 L1617.1 1699 L1618.2 1699 L1619.4 1699.1 L1620.5 1699.1 L1621.7 1699.1 L1622.8 1699.2 L1624 1699.2 L1625.1 1699.3 L1626.2 1699.3 L1627.4 1699.3 L1628.5 1699.4 L1629.7 1699.4 L1630.8 1699.5 L1632 1699.6 L1633.1 1699.6 L1634.3 1699.7 L1635.4 1699.7 L1636.6 1699.8 L1637.7 1699.9 L1638.8 1699.9 L1640 1700 L1641.1 1700.1 L1642.3 1700.1 L1643.4 1700.2 L1644.6 1700.3 L1645.7 1700.3 L1646.9 1700.4 L1648 1700.5 L1649.2 1700.6 L1650.3 1700.7 L1651.4 1700.8 L1652.6 1700.8 L1653.7 1700.9 L1654.9 1701 L1656 1701.1 L1657.2 1701.2 L1658.3 1701.3 L1659.5 1701.4 L1660.6 1701.5 L1661.8 1701.6 L1662.9 1701.7 L1664 1701.8 L1665.2 1701.9 L1666.3 1702 L1667.5 1702.2 L1668.6 1702.3 L1669.8 1702.4 L1670.9 1702.5 L1672.1 1702.6 L1673.2 1702.7 L1674.4 1702.9 L1675.5 1703 L1676.6 1703.1 L1677.8 1703.3 L1678.9 1703.4 L1680.1 1703.5 L1681.2 1703.7 L1682.4 1703.8 L1683.5 1703.9 L1684.7 1704.1 L1685.8 1704.2 L1687 1704.4 L1688.1 1704.5 L1689.2 1704.7 L1690.4 1704.8 L1691.5 1705 L1692.7 1705.1 L1693.8 1705.3 L1695 1705.4 L1696.1 1705.6 L1697.3 1705.8 L1698.4 1705.9 L1699.6 1706.1 L1700.7 1706.3 L1701.8 1706.5 L1703 1706.6 L1704.1 1706.8 L1705.3 1707 L1706.4 1707.2 L1707.6 1707.4 L1708.7 1707.6 L1709.9 1707.8 L1711 1708 L1712.2 1708.2 L1713.3 1708.5 L1714.4 1708.8 L1715.6 1709.2 L1716.7 1709.6 L1717.9 1710.2 L1719 1711.1 L1720.2 1712.4 L1721.3 1714.3 L1722.5 1717.2 L1723.6 1721.7 L1724.8 1728.6 L1725.9 1739.6 L1725.9 1698.6Z" fill="url(#rb3)"/>
<linearGradient id="rb3" gradientUnits="userSpaceOnUse" x1="1588.4" y1="0" x2="1725.9" y2="0"><stop offset="0" stop-color="#eef1fa"/><stop offset="0.55" stop-color="#9db3dc"/><stop offset="1" stop-color="#2061b0"/></linearGradient>
<line x1="1407" y1="1698.6" x2="1725.9" y2="1698.6" stroke="#222" stroke-width="1.1" stroke-dasharray="4 3"/>
<line x1="1569.7" y1="1670.8" x2="1569.7" y2="1745.9" stroke="#444" stroke-width="0.90" stroke-dasharray="1.5 1.5"/>
<line x1="1407" y1="1745.9" x2="1725.9" y2="1745.9" stroke="#777" stroke-width="1.6"/>
<text x="1429" y="1689.8" font-size="7">FE (positively correlated)</text>
<text x="1569.7" y="1710.6" font-size="7" text-anchor="middle">Zero cross at 457</text>
<text x="1671.7" y="1724.6" font-size="7" text-anchor="middle">S (negatively correlated)</text>
<text x="1405.5" y="1692" font-size="21" text-anchor="end">2</text>
<text x="1405.5" y="1706.1" font-size="21" text-anchor="end">0</text>
<text x="1405.5" y="1725.5" font-size="21" text-anchor="end">-2</text>
<text x="1405.5" y="1743" font-size="21" text-anchor="end">-4</text>
<text x="1478.9" y="1765.2" font-size="21" text-anchor="middle">200</text>
<text x="1551" y="1765.2" font-size="21" text-anchor="middle">400</text>
<text x="1622.2" y="1765.2" font-size="21" text-anchor="middle">600</text>
<text x="1693.9" y="1765.2" font-size="21" text-anchor="middle">800</text>
<text x="1462.7" y="1796.7" font-size="20.2">Rank in Ordered Dataset</text>
<text x="51.5" y="1890" font-size="28">f</text>
<text x="78.4" y="1890" font-size="26.7">ROS-Triggered Energy Overactivation</text>
<text x="617.3" y="1889.8" font-size="26.7">Oxidative Damage and Starvation Response</text>
<text x="1173.3" y="1889.6" font-size="26.7">Synergistic Collapse by Oxidation and Starvation</text>
<clipPath id="cf1"><rect x="49" y="1908" width="494" height="488"/></clipPath>
<g clip-path="url(#cf1)">
<path d="M24.5 2270.2 A274.2 274.2 0 0 1 566 2260.8 L554.7 2262.8 A262.7 262.7 0 0 0 35.9 2271.8 Z" fill="#b7e2a7"/>
<path d="M191.3 2053.2 L199.9 2049.8 L202.6 2047.1 L209.4 2044.5 L220.1 2042 L223.5 2041.5 L226.6 2058.1 L222.9 2060.4 L218 2060.6 L212.1 2062.1 L204.6 2063 L198 2067.4Z" fill="#fff"/>
<path d="M123.9 2089.3 L132 2084.5 L136 2083.3 L140.3 2077.8 L149.3 2072.5 L152.2 2069.8 L166.5 2083.8 L156.7 2089.9 L150.9 2091.7 L146.7 2096 L142.7 2099.8 L134.7 2104.4Z" fill="#fff"/>
<path d="M159.5 2066.8 L164.8 2065.1 L169.6 2060.5 L176.6 2058.1 L177.8 2056.9 L184.5 2053.6 L187.7 2063.8 L186.8 2063.3 L178.8 2066.5 L170.8 2067.6 L171 2066.7 L163.4 2071Z" fill="#fff"/>
<use href="#lip" transform="translate(60.6 2228.6) rotate(17.4)"/><use href="#lip" transform="translate(67.8 2208.6) rotate(22.4)"/><use href="#lip" transform="translate(76.8 2189.3) rotate(27.3)"/><use href="#lip" transform="translate(87.4 2170.8) rotate(32.3)"/><use href="#lip" transform="translate(99.5 2153.2) rotate(37.2)"/><use href="#lip" transform="translate(113.1 2136.8) rotate(42.2)"/><use href="#lip" transform="translate(128.1 2121.7) rotate(47.1)"/><use href="#lip" transform="translate(144.3 2107.9) rotate(52.1)"/><use href="#lip" transform="translate(161.6 2095.5) rotate(57.0)"/><use href="#lip" transform="translate(180.0 2084.7) rotate(62.0)"/><use href="#lip" transform="translate(199.2 2075.5) rotate(66.9)"/><use href="#lip" transform="translate(219.2 2068.0) rotate(71.9)"/><use href="#lip" transform="translate(239.7 2062.2) rotate(76.8)"/><use href="#lip" transform="translate(260.6 2058.3) rotate(81.8)"/><use href="#lip" transform="translate(281.8 2056.1) rotate(86.7)"/><use href="#lip" transform="translate(303.1 2055.8) rotate(91.7)"/><use href="#lip" transform="translate(324.4 2057.3) rotate(96.6)"/><use href="#lip" transform="translate(345.4 2060.7) rotate(101.6)"/><use href="#lip" transform="translate(366.1 2065.9) rotate(106.5)"/><use href="#lip" transform="translate(386.2 2072.8) rotate(111.5)"/><use href="#lip" transform="translate(405.7 2081.4) rotate(116.4)"/><use href="#lip" transform="translate(424.3 2091.7) rotate(121.4)"/><use href="#lip" transform="translate(442.0 2103.6) rotate(126.3)"/><use href="#lip" transform="translate(458.7 2116.9) rotate(131.3)"/><use href="#lip" transform="translate(474.1 2131.6) rotate(136.2)"/><use href="#lip" transform="translate(488.1 2147.6) rotate(141.2)"/><use href="#lip" transform="translate(500.8 2164.8) rotate(146.1)"/><use href="#lip" transform="translate(511.9 2183.0) rotate(151.1)"/><use href="#lip" transform="translate(521.4 2202.1) rotate(156.0)"/><use href="#lip" transform="translate(529.2 2221.9) rotate(161.0)"/>
</g>
<path d="M288.7 2045 c-8 -4 10 -10.5 2 -16.8 s-12 -8.4 -4 -14.7 s10 -8.4 4 -12.6" fill="none" stroke="#f7c87c" stroke-width="5.5" stroke-linecap="round"/>
<path d="M151 2073 c-8 -4 10 -7.5 2 -12 s-12 -6 -4 -10.5 s10 -6 4 -9" fill="none" stroke="#f7c87c" stroke-width="5.5" stroke-linecap="round" transform="rotate(-10 151 2073)"/>
<path d="M87 2148 c-8 -4 10 -10 2 -16 s-12 -8 -4 -14 s10 -8 4 -12" fill="none" stroke="#f7c87c" stroke-width="5.5" stroke-linecap="round" transform="rotate(-15 87 2148)"/>
<path d="M470 2104 c-8 -4 10 -8 2 -12.8 s-12 -6.4 -4 -11.2 s10 -6.4 4 -9.6" fill="none" stroke="#f7c87c" stroke-width="5.5" stroke-linecap="round" transform="rotate(40 470 2104)"/>
<path d="M206 2058 A254 254 0 0 1 444 2094" fill="none" stroke="#bdbdbd" stroke-width="3.5"/>
<path d="M232 2052 A254 254 0 0 1 440 2091" fill="none" stroke="#444" stroke-width="3.5" marker-end="url(#ahg)"/>
<g transform="rotate(-18 210 2087)"><rect x="197" y="2066" width="26" height="42" rx="8" fill="#f2d3e6" stroke="#7d4f6e" stroke-width="1.6"/></g>
<text x="210" y="2095" font-size="20" text-anchor="middle" transform="rotate(-18 210 2087)">I</text>
<g transform="rotate(-8 250 2077)"><rect x="232" y="2063" width="37" height="29" rx="11" fill="#c7cbe7" stroke="#323a6a" stroke-width="1.8"/></g>
<text x="251" y="2085" font-size="20" text-anchor="middle" transform="rotate(-8 250 2077)">II</text>
<rect x="278.5" y="2054" width="21" height="42" rx="9" fill="#d8f0f6" stroke="#41808f" stroke-width="1.6"/>
<text x="289" y="2082" font-size="19" text-anchor="middle">III</text>
<ellipse cx="337" cy="2083.5" rx="25.5" ry="18.5" transform="rotate(12 337 2083.5)" fill="#ecd3f3" stroke="#6f1f84" stroke-width="2.6"/>
<text x="337" y="2091" font-size="20" text-anchor="middle" transform="rotate(12 337 2083.5)">Cyt C</text>
<path d="M372 2080 Q388 2086 404 2080 Q414 2078 412 2092 L406 2116 Q398 2122 386 2118 L372 2110 Q366 2100 368 2088 Q368 2080 372 2080 Z" transform="rotate(18 390 2098)" fill="#d6d1f0" stroke="#47468a" stroke-width="1.6"/>
<text x="390" y="2106" font-size="20" text-anchor="middle" transform="rotate(40 390 2098)">IV</text>
<rect x="408" y="2100" width="52" height="70" rx="16" transform="rotate(-38 434 2135)" fill="#ddf2ec" stroke="#3e8a88" stroke-width="1.6"/>
<text x="436" y="2127" font-size="18" text-anchor="middle" transform="rotate(48 436 2122)">ATP</text>
<text x="425" y="2148" font-size="18" text-anchor="middle" transform="rotate(55 425 2140)">synthase</text>
<rect x="296" y="2114.7" width="58" height="35" rx="17" fill="#eef6e2" stroke="#5b7f36" stroke-width="2"/>
<text x="325" y="2140.5" font-size="22" text-anchor="middle">ADP</text>
<text x="325" y="2167" font-size="20" text-anchor="middle">+</text>
<circle cx="325" cy="2186.4" r="17.5" fill="#fed21a" stroke="#5e4a00" stroke-width="2"/>
<text x="325" y="2195" font-size="24" text-anchor="middle">P</text>
<path d="M364 2136 C395 2134 414 2150 419 2172" fill="none" stroke="#505050" stroke-width="3" marker-end="url(#ahg)"/>
<rect x="412" y="2176.5" width="20" height="8" rx="2" fill="#b3b3b9"/>
<rect x="402.7" y="2184.5" width="37.5" height="74" rx="6" fill="#86dc8a" stroke="#b3b3b9" stroke-width="4.5"/>
<path d="M425 2200 L412 2226 L421 2226 L416 2246 L431 2217 L422 2217 Z" fill="#f6a11d"/>
<text x="421.5" y="2255" font-size="19" text-anchor="middle">ATP</text>
<path d="M276.7 2222 V2189.6" fill="none" stroke="#f00d0d" stroke-width="2.6"/><path d="M270.7 2190.6 L276.7 2181.6 L282.7 2190.6 Z" fill="#f00d0d"/>
<path d="M458 2244 V2211.7" fill="none" stroke="#f00d0d" stroke-width="2.6"/><path d="M452 2212.7 L458 2203.7 L464 2212.7 Z" fill="#f00d0d"/>
<text x="149.5" y="2196.7" font-size="20.2">Oxidative</text>
<text x="119.3" y="2220" font-size="20.2">phosphorylation</text>
<path d="M188 2178 L228 2119" fill="none" stroke="#222" stroke-width="2.6" stroke-dasharray="3 3" marker-end="url(#ah)"/>
<text x="154.9" y="1991.6" font-size="20.5" letter-spacing="0.4">Oxidative stress</text>
<text x="361" y="2019" font-size="20.5" letter-spacing="0.3">Stimulate</text>
<path d="M134.4 1984.3 L194 2050" fill="none" stroke="#222" stroke-width="2.6" marker-end="url(#ah)"/>
<path d="M317 1987.5 C342 1984 352 1996 350 2036" fill="none" stroke="#222" stroke-width="2.6" stroke-dasharray="3 3" marker-end="url(#ah)"/>
<use href="#starp" transform="translate(118.7 1959)"/><text x="119" y="1965.9" font-size="19.5" text-anchor="middle" fill="#fff">ROS</text>
<use href="#starp" transform="translate(98.2 2063) scale(0.95 0.95)"/><text x="98.5" y="2069.6" font-size="18.5" text-anchor="middle" fill="#fff">ROS</text>
<use href="#starp" transform="translate(458.6 1960.7)"/><text x="458.9" y="1967.6" font-size="19.5" text-anchor="middle" fill="#fff">ROS</text>
<rect x="53.2" y="2265.8" width="244.3" height="122.8" fill="none" stroke="#222" stroke-width="1.2" stroke-dasharray="4 3"/>
<rect x="326.4" y="2265.8" width="214.1" height="122.8" fill="none" stroke="#222" stroke-width="1.2" stroke-dasharray="4 3"/>
<text x="62.7" y="2295" font-size="20.2">ATP-dependent activity</text>
<text x="62.7" y="2330.7" font-size="20.2">Repair system</text>
<text x="62.7" y="2367.5" font-size="20.2">Stress reponse</text>
<text x="335.9" y="2311.8" font-size="20.2">Metabolic exhaustion</text>
<text x="337.5" y="2353.3" font-size="20.2">Starvation state</text>
<path d="M287 2301.4 V2281" fill="none" stroke="#f00d0d" stroke-width="2.6"/><path d="M281 2282 L287 2273 L293 2282 Z" fill="#f00d0d"/>
<path d="M208.4 2338 V2317.6" fill="none" stroke="#f00d0d" stroke-width="2.6"/><path d="M202.4 2318.6 L208.4 2309.6 L214.4 2318.6 Z" fill="#f00d0d"/>
<path d="M226.3 2375 V2354" fill="none" stroke="#f00d0d" stroke-width="2.6"/><path d="M220.3 2355 L226.3 2346 L232.3 2355 Z" fill="#f00d0d"/>
<path d="M533.2 2316.4 V2296.4" fill="none" stroke="#f00d0d" stroke-width="2.6"/><path d="M527.2 2297.4 L533.2 2288.4 L539.2 2297.4 Z" fill="#f00d0d"/>
<path d="M489.5 2359 V2339" fill="none" stroke="#f00d0d" stroke-width="2.6"/><path d="M483.5 2340 L489.5 2331 L495.5 2340 Z" fill="#f00d0d"/>
<path d="M300.6 2327 H313 V2322 L324.9 2332.2 L313 2342.4 V2337.4 H300.6 Z" fill="#b9ddb1"/>
<clipPath id="cf2"><rect x="636" y="1907" width="494" height="488"/></clipPath>
<g clip-path="url(#cf2)">
<path d="M612.9 2378.3 A272.5 272.5 0 0 1 709.1 2206.2 L716.4 2215.1 A261 261 0 0 0 624.3 2379.9 Z" fill="#b7e2a7"/>
<path d="M743.2 2182.1 A272.5 272.5 0 0 1 774.5 2166.1 L779.1 2176.7 A261 261 0 0 0 749.1 2192 Z" fill="#b7e2a7"/>
<path d="M812.2 2153 A272.5 272.5 0 0 1 962.4 2155.6 L959.1 2166.6 A261 261 0 0 0 815.2 2164.1 Z" fill="#b7e2a7"/>
<path d="M1002.2 2171.3 A272.5 272.5 0 0 1 1152.6 2378.3 L1141.2 2379.9 A261 261 0 0 0 997.2 2181.6 Z" fill="#b7e2a7"/>
<use href="#lip" transform="translate(649.1 2336.5) rotate(17.5)"/><use href="#lip" transform="translate(656.3 2316.6) rotate(22.5)"/><use href="#lip" transform="translate(665.2 2297.5) rotate(27.4)"/><use href="#lip" transform="translate(675.8 2279.1) rotate(32.4)"/><use href="#lip" transform="translate(687.9 2261.7) rotate(37.3)"/><use href="#lip" transform="translate(701.4 2245.5) rotate(42.3)"/><use href="#lip" transform="translate(716.3 2230.4) rotate(47.2)"/><use href="#lip" transform="translate(732.4 2216.7) rotate(52.2)"/><use href="#lip" transform="translate(749.7 2204.5) rotate(57.1)"/><use href="#lip" transform="translate(767.9 2193.8) rotate(62.1)"/><use href="#lip" transform="translate(787.0 2184.7) rotate(67.0)"/><use href="#lip" transform="translate(806.8 2177.3) rotate(72.0)"/><use href="#lip" transform="translate(827.2 2171.6) rotate(76.9)"/><use href="#lip" transform="translate(848.0 2167.7) rotate(81.9)"/><use href="#lip" transform="translate(869.1 2165.6) rotate(86.8)"/><use href="#lip" transform="translate(890.2 2165.3) rotate(91.8)"/><use href="#lip" transform="translate(911.3 2166.9) rotate(96.7)"/><use href="#lip" transform="translate(932.2 2170.2) rotate(101.7)"/><use href="#lip" transform="translate(1010.6 2201.2) rotate(121.5)"/><use href="#lip" transform="translate(1028.1 2213.0) rotate(126.4)"/><use href="#lip" transform="translate(1044.6 2226.3) rotate(131.4)"/><use href="#lip" transform="translate(1059.9 2240.9) rotate(136.3)"/><use href="#lip" transform="translate(1073.8 2256.8) rotate(141.3)"/><use href="#lip" transform="translate(1086.3 2273.9) rotate(146.2)"/><use href="#lip" transform="translate(1097.3 2292.0) rotate(151.2)"/><use href="#lip" transform="translate(1106.7 2310.9) rotate(156.1)"/><use href="#lip" transform="translate(1114.5 2330.6) rotate(161.1)"/>
<path d="M742 2190 l8 -6 l4 7 l7 -3 l-3 9 l-9 4 Z M716 2206 l8 -3 l2 8 l-7 4 Z" fill="#fff"/>
<path d="M945 2196 l9 6 l-4 8 Z M958 2212 l6 9 l-7 2 Z M1005 2215 l8 -6 l3 9 Z M996 2230 l7 2 l-3 8 Z" fill="#9fd2ec" stroke="#4e9ccb" stroke-width="0.6"/>
</g>
<path d="M875.2 2156 c-8 -4 10 -11.5 2 -18.4 s-12 -9.2 -4 -16.1 s10 -9.2 4 -13.8" fill="none" stroke="#f7c87c" stroke-width="5.5" stroke-linecap="round"/>
<path d="M738 2182 c-8 -4 10 -7 2 -11.2 s-12 -5.6 -4 -9.8 s10 -5.6 4 -8.4" fill="none" stroke="#f7c87c" stroke-width="5.5" stroke-linecap="round" transform="rotate(-8 738 2182)"/>
<path d="M670 2256 c-8 -4 10 -10 2 -16 s-12 -8 -4 -14 s10 -8 4 -12" fill="none" stroke="#f7c87c" stroke-width="5.5" stroke-linecap="round" transform="rotate(-20 670 2256)"/>
<path d="M1040 2207 c-8 -4 10 -7.5 2 -12 s-12 -6 -4 -10.5 s10 -6 4 -9" fill="none" stroke="#f7c87c" stroke-width="5.5" stroke-linecap="round" transform="rotate(62 1040 2207)"/>
<path d="M760 2276.5 L761.5 2278.3 L763 2280.1 L764.5 2281.8 L766 2283.2 L767.5 2284.5 L769 2285.6 L770.5 2286.4 L772 2286.8 L773.5 2287 L775 2286.8 L776.5 2286.4 L778 2285.6 L779.5 2284.5 L781 2283.2 L782.5 2281.8 L784 2280.1 L785.5 2278.3 L787 2276.5 L788.5 2274.7 L790 2272.9 L791.5 2271.2 L793 2269.8 L794.5 2268.5 L796 2267.4 L797.5 2266.6 L799 2266.2 L800.5 2266 L802 2266.2 L803.5 2266.6 L805 2267.4 L806.5 2268.5 L808 2269.8" fill="none" stroke="#f6c878" stroke-width="4.6" stroke-linecap="butt"/><path d="M826 2286.8 L827.5 2287 L829 2286.8 L830.5 2286.4 L832 2285.6 L833.5 2284.5 L835 2283.2 L836.5 2281.8 L838 2280.1 L839.5 2278.3 L841 2276.5 L842.5 2274.7 L844 2272.9 L845.5 2271.2 L847 2269.8 L848.5 2268.5 L850 2267.4 L851.5 2266.6 L853 2266.2 L854.5 2266 L856 2266.2 L857.5 2266.6 L859 2267.4 L860.5 2268.5 L862 2269.8 L863.5 2271.2 L865 2272.9 L866.5 2274.7 L868 2276.5 L869.5 2278.3 L871 2280.1 L872.5 2281.8 L874 2283.2 L875.5 2284.5 L877 2285.6 L878.5 2286.4 L880 2286.8 L881.5 2287 L883 2286.8" fill="none" stroke="#f6c878" stroke-width="4.6" stroke-linecap="butt"/><path d="M760 2276.5 L761.5 2274.7 L763 2272.9 L764.5 2271.2 L766 2269.8 L767.5 2268.5 L769 2267.4 L770.5 2266.6 L772 2266.2 L773.5 2266 L775 2266.2 L776.5 2266.6 L778 2267.4 L779.5 2268.5 L781 2269.8 L782.5 2271.2 L784 2272.9 L785.5 2274.7 L787 2276.5 L788.5 2278.3 L790 2280.1 L791.5 2281.8 L793 2283.2 L794.5 2284.5 L796 2285.6 L797.5 2286.4 L799 2286.8 L800.5 2287 L802 2286.8 L803.5 2286.4 L805 2285.6 L806.5 2284.5 L808 2283.2" fill="none" stroke="#f6c878" stroke-width="4.6" stroke-linecap="butt"/><path d="M826 2266.2 L827.5 2266 L829 2266.2 L830.5 2266.6 L832 2267.4 L833.5 2268.5 L835 2269.8 L836.5 2271.2 L838 2272.9 L839.5 2274.7 L841 2276.5 L842.5 2278.3 L844 2280.1 L845.5 2281.8 L847 2283.2 L848.5 2284.5 L850 2285.6 L851.5 2286.4 L853 2286.8 L854.5 2287 L856 2286.8 L857.5 2286.4 L859 2285.6 L860.5 2284.5 L862 2283.2 L863.5 2281.8 L865 2280.1 L866.5 2278.3 L868 2276.5 L869.5 2274.7 L871 2272.9 L872.5 2271.2 L874 2269.8 L875.5 2268.5 L877 2267.4 L878.5 2266.6 L880 2266.2 L881.5 2266 L883 2266.2" fill="none" stroke="#f6c878" stroke-width="4.6" stroke-linecap="butt"/>
<path d="M812 2262 h4 v4 h-4 Z M818 2290 h4 v4 h-4 Z M806 2296 h3 v3 h-3 Z M822 2268 h3 v3 h-3 Z" fill="#f6c878"/>
<g><path d="M962.3 2269.8 L961.8 2282.3 L961.5 2288.4 L960.8 2292.4 L960.2 2297.1 L959.2 2298.3 L957.6 2300.8 L955.8 2301.5 L953.7 2302 L948.5 2303.1 L943.2 2303.9 L940.9 2302.9 L939.3 2301.4 L938 2299.1 L937 2296.1 L936.5 2292.3 L934.8 2288 L934.8 2282.8 L934.7 2269.8 L934.9 2257.4 L935.9 2251.6 L936.4 2247.6 L937.2 2243.3 L938.2 2239.5 L939.1 2238.6 L940.8 2238 L943.1 2235.4 L948.5 2236.2 L953.8 2235.7 L956.1 2236.1 L957.9 2239.1 L959.2 2241.5 L959.9 2242.9 L961.4 2245.8 L962 2251.1 L961.5 2257Z" fill="#ee9266" stroke="#c4643c" stroke-width="1.2"/><circle cx="957.4" cy="2284.6" r="3.2" fill="#f3a47e" opacity="0.7"/><circle cx="947.6" cy="2255.3" r="2.4" fill="#f3a47e" opacity="0.7"/><circle cx="939.6" cy="2290" r="3.6" fill="#f3a47e" opacity="0.7"/><circle cx="941.1" cy="2265.4" r="2.1" fill="#f3a47e" opacity="0.7"/><circle cx="942.5" cy="2281.7" r="3.6" fill="#f3a47e" opacity="0.7"/><circle cx="948.1" cy="2258.2" r="3.6" fill="#f3a47e" opacity="0.7"/><circle cx="958" cy="2266.5" r="2.2" fill="#f3a47e" opacity="0.7"/><circle cx="939.3" cy="2248.3" r="4.4" fill="#f3a47e" opacity="0.7"/><circle cx="949.3" cy="2287.2" r="2.4" fill="#f3a47e" opacity="0.7"/><circle cx="943.5" cy="2279.7" r="4.2" fill="#f3a47e" opacity="0.7"/><circle cx="945.2" cy="2247.4" r="4.2" fill="#f3a47e" opacity="0.7"/><circle cx="944.2" cy="2282.2" r="2.4" fill="#f3a47e" opacity="0.7"/><circle cx="952.5" cy="2287.4" r="3.8" fill="#f3a47e" opacity="0.7"/><circle cx="945.6" cy="2281.5" r="2.3" fill="#f3a47e" opacity="0.7"/><circle cx="944.6" cy="2265.7" r="4.2" fill="#f3a47e" opacity="0.7"/><circle cx="941.3" cy="2289.4" r="4" fill="#f3a47e" opacity="0.7"/><circle cx="958.3" cy="2263" r="2.5" fill="#f3a47e" opacity="0.7"/><circle cx="943.1" cy="2286.7" r="4.4" fill="#f3a47e" opacity="0.7"/><circle cx="952.6" cy="2268.9" r="2.7" fill="#f3a47e" opacity="0.7"/><circle cx="955.4" cy="2289" r="2.2" fill="#f3a47e" opacity="0.7"/><circle cx="942.6" cy="2286.9" r="4.1" fill="#f3a47e" opacity="0.7"/><circle cx="944.7" cy="2258.4" r="3.1" fill="#f3a47e" opacity="0.7"/><circle cx="949.3" cy="2249" r="4.1" fill="#f3a47e" opacity="0.7"/><circle cx="949.2" cy="2284" r="2.6" fill="#f3a47e" opacity="0.7"/><circle cx="958.2" cy="2282.7" r="2.9" fill="#f3a47e" opacity="0.7"/><circle cx="957.8" cy="2280.1" r="4.1" fill="#f3a47e" opacity="0.7"/><circle cx="939.1" cy="2246.9" r="3.9" fill="#f3a47e" opacity="0.7"/><circle cx="944.4" cy="2270.7" r="2.4" fill="#f3a47e" opacity="0.7"/><circle cx="958.4" cy="2269.9" r="4.1" fill="#f3a47e" opacity="0.7"/><circle cx="939.7" cy="2268.7" r="2.2" fill="#f3a47e" opacity="0.7"/></g>
<g><path d="M1100.3 2144.5 L1099.6 2150.1 L1098.7 2152.7 L1098.3 2154.2 L1095 2155.9 L1093 2156.8 L1089.1 2158.1 L1085.2 2158.4 L1078.6 2158.6 L1065 2158.7 L1051.1 2158.9 L1044.9 2158.5 L1040.1 2157.8 L1037.8 2157.2 L1033.7 2156.3 L1032.2 2154.1 L1030.7 2152.4 L1029.4 2150.3 L1029.8 2144.5 L1031.5 2138.9 L1032.1 2136.3 L1032.9 2134.3 L1035.8 2133.5 L1037 2131.9 L1040.8 2130.6 L1045.5 2130 L1051.6 2129.5 L1065 2130.4 L1078.3 2129.6 L1084.2 2130.8 L1089 2131.2 L1092.9 2132 L1094.7 2133.2 L1097.3 2134.2 L1100.5 2136.3 L1098.6 2138.8Z" fill="#ee9266" stroke="#c4643c" stroke-width="1.2"/><circle cx="1074.6" cy="2151.8" r="2.9" fill="#f3a47e" opacity="0.7"/><circle cx="1041.2" cy="2147" r="2.3" fill="#f3a47e" opacity="0.7"/><circle cx="1079" cy="2151.1" r="3" fill="#f3a47e" opacity="0.7"/><circle cx="1088.9" cy="2137.2" r="4.4" fill="#f3a47e" opacity="0.7"/><circle cx="1063.1" cy="2150.4" r="3.9" fill="#f3a47e" opacity="0.7"/><circle cx="1090.9" cy="2155.1" r="2.1" fill="#f3a47e" opacity="0.7"/><circle cx="1038.9" cy="2145.5" r="2.1" fill="#f3a47e" opacity="0.7"/><circle cx="1073.5" cy="2145.3" r="3.7" fill="#f3a47e" opacity="0.7"/><circle cx="1061.8" cy="2139.4" r="4.4" fill="#f3a47e" opacity="0.7"/><circle cx="1077.3" cy="2133.5" r="2.2" fill="#f3a47e" opacity="0.7"/><circle cx="1072.1" cy="2139.8" r="3" fill="#f3a47e" opacity="0.7"/><circle cx="1080.2" cy="2141.2" r="4.3" fill="#f3a47e" opacity="0.7"/><circle cx="1076.9" cy="2145.7" r="2.5" fill="#f3a47e" opacity="0.7"/><circle cx="1060.1" cy="2150.4" r="4.5" fill="#f3a47e" opacity="0.7"/><circle cx="1042" cy="2136.4" r="3.9" fill="#f3a47e" opacity="0.7"/><circle cx="1083" cy="2135.3" r="4.1" fill="#f3a47e" opacity="0.7"/><circle cx="1080.4" cy="2148.7" r="2.8" fill="#f3a47e" opacity="0.7"/><circle cx="1062" cy="2141.5" r="4.1" fill="#f3a47e" opacity="0.7"/><circle cx="1055.8" cy="2140.5" r="4.3" fill="#f3a47e" opacity="0.7"/><circle cx="1087.6" cy="2155" r="4" fill="#f3a47e" opacity="0.7"/><circle cx="1042.8" cy="2135.4" r="3.4" fill="#f3a47e" opacity="0.7"/><circle cx="1084.2" cy="2153.1" r="3.6" fill="#f3a47e" opacity="0.7"/><circle cx="1089.5" cy="2136.7" r="2.6" fill="#f3a47e" opacity="0.7"/><circle cx="1056" cy="2139.1" r="2.8" fill="#f3a47e" opacity="0.7"/><circle cx="1044.5" cy="2141.7" r="2.1" fill="#f3a47e" opacity="0.7"/><circle cx="1067" cy="2154.4" r="3.1" fill="#f3a47e" opacity="0.7"/><circle cx="1071.7" cy="2147" r="4.3" fill="#f3a47e" opacity="0.7"/><circle cx="1077.6" cy="2151.7" r="2.8" fill="#f3a47e" opacity="0.7"/><circle cx="1086.9" cy="2137.5" r="3" fill="#f3a47e" opacity="0.7"/><circle cx="1077.8" cy="2140.8" r="4.2" fill="#f3a47e" opacity="0.7"/><circle cx="1084.4" cy="2137" r="2.6" fill="#f3a47e" opacity="0.7"/><circle cx="1040.9" cy="2152.5" r="2.8" fill="#f3a47e" opacity="0.7"/><circle cx="1059.3" cy="2139.4" r="2.3" fill="#f3a47e" opacity="0.7"/></g>
<path d="M959.6 2233 C 962 2195 985 2160 1016 2147" fill="none" stroke="#222" stroke-width="2.8" stroke-dasharray="3 3.2" marker-end="url(#ah)"/>
<text x="690.2" y="2197.6" font-size="20.2">LPO</text>
<text x="876" y="2079" font-size="20.2">Damaged EPS</text>
<text x="876" y="2102.5" font-size="20.2">and membrance</text>
<text x="758" y="2327.5" font-size="20.2">DNA damage</text>
<text x="894.6" y="2327.5" font-size="20.2">Protein outflow</text>
<rect x="824" y="2342.7" width="128.2" height="39.7" rx="19.8" fill="#fff" stroke="#5b7f36" stroke-width="1.6"/>
<text x="888.1" y="2370.5" font-size="20.2" text-anchor="middle">Starvation</text>
<circle cx="684.9" cy="1997.8" r="37.5" fill="#7f9fbf"/><circle cx="703.2" cy="2030.5" r="3.6" fill="#f0dca4" stroke="#000" stroke-opacity="0.12" stroke-width="0.6"/><circle cx="703.2" cy="2030.5" r="3.6" fill="url(#npg)"/><circle cx="703.7" cy="1965.5" r="3.1" fill="#a390d8" stroke="#000" stroke-opacity="0.12" stroke-width="0.6"/><circle cx="703.7" cy="1965.5" r="3.1" fill="url(#npg)"/><circle cx="667.1" cy="1965" r="3.3" fill="#a390d8" stroke="#000" stroke-opacity="0.12" stroke-width="0.6"/><circle cx="667.1" cy="1965" r="3.3" fill="url(#npg)"/><circle cx="647.6" cy="1998.1" r="3.7" fill="#f0dca4" stroke="#000" stroke-opacity="0.12" stroke-width="0.6"/><circle cx="647.6" cy="1998.1" r="3.7" fill="url(#npg)"/><circle cx="665.6" cy="2029.3" r="3.8" fill="#a390d8" stroke="#000" stroke-opacity="0.12" stroke-width="0.6"/><circle cx="665.6" cy="2029.3" r="3.8" fill="url(#npg)"/><circle cx="721.8" cy="1997.8" r="3.8" fill="#7ccdc6" stroke="#000" stroke-opacity="0.12" stroke-width="0.6"/><circle cx="721.8" cy="1997.8" r="3.8" fill="url(#npg)"/><circle cx="709.6" cy="1973.7" r="3.8" fill="#f0dca4" stroke="#000" stroke-opacity="0.12" stroke-width="0.6"/><circle cx="709.6" cy="1973.7" r="3.8" fill="url(#npg)"/><circle cx="693.5" cy="2031.2" r="4.0" fill="#f0dca4" stroke="#000" stroke-opacity="0.12" stroke-width="0.6"/><circle cx="693.5" cy="2031.2" r="4.0" fill="url(#npg)"/><circle cx="718.1" cy="2005.1" r="3.9" fill="#a390d8" stroke="#000" stroke-opacity="0.12" stroke-width="0.6"/><circle cx="718.1" cy="2005.1" r="3.9" fill="url(#npg)"/><circle cx="718.1" cy="1990.8" r="3.9" fill="#a390d8" stroke="#000" stroke-opacity="0.12" stroke-width="0.6"/><circle cx="718.1" cy="1990.8" r="3.9" fill="url(#npg)"/><circle cx="655.6" cy="2014.4" r="4.3" fill="#6ab3d8" stroke="#000" stroke-opacity="0.12" stroke-width="0.6"/><circle cx="655.6" cy="2014.4" r="4.3" fill="url(#npg)"/><circle cx="676.6" cy="2030.3" r="4.6" fill="#6ab3d8" stroke="#000" stroke-opacity="0.12" stroke-width="0.6"/><circle cx="676.6" cy="2030.3" r="4.6" fill="url(#npg)"/><circle cx="652.6" cy="2007.1" r="4.4" fill="#f0dca4" stroke="#000" stroke-opacity="0.12" stroke-width="0.6"/><circle cx="652.6" cy="2007.1" r="4.4" fill="url(#npg)"/><circle cx="685.1" cy="1964.2" r="4.3" fill="#7fb9dc" stroke="#000" stroke-opacity="0.12" stroke-width="0.6"/><circle cx="685.1" cy="1964.2" r="4.3" fill="url(#npg)"/><circle cx="707.9" cy="2022" r="4.4" fill="#eaa8c4" stroke="#000" stroke-opacity="0.12" stroke-width="0.6"/><circle cx="707.9" cy="2022" r="4.4" fill="url(#npg)"/><circle cx="661.8" cy="2021.8" r="4.5" fill="#6ab3d8" stroke="#000" stroke-opacity="0.12" stroke-width="0.6"/><circle cx="661.8" cy="2021.8" r="4.5" fill="url(#npg)"/><circle cx="693.7" cy="1965.8" r="4.6" fill="#f0dca4" stroke="#000" stroke-opacity="0.12" stroke-width="0.6"/><circle cx="693.7" cy="1965.8" r="4.6" fill="url(#npg)"/><circle cx="652.6" cy="1990.5" r="4.0" fill="#f0dca4" stroke="#000" stroke-opacity="0.12" stroke-width="0.6"/><circle cx="652.6" cy="1990.5" r="4.0" fill="url(#npg)"/><circle cx="685.9" cy="2030.9" r="4.6" fill="#6ab3d8" stroke="#000" stroke-opacity="0.12" stroke-width="0.6"/><circle cx="685.9" cy="2030.9" r="4.6" fill="url(#npg)"/><circle cx="675.7" cy="1966.1" r="4.6" fill="#7fb9dc" stroke="#000" stroke-opacity="0.12" stroke-width="0.6"/><circle cx="675.7" cy="1966.1" r="4.6" fill="url(#npg)"/><circle cx="662.4" cy="1973.8" r="4.1" fill="#eaa8c4" stroke="#000" stroke-opacity="0.12" stroke-width="0.6"/><circle cx="662.4" cy="1973.8" r="4.1" fill="url(#npg)"/><circle cx="713.3" cy="2013.9" r="4.7" fill="#f0dca4" stroke="#000" stroke-opacity="0.12" stroke-width="0.6"/><circle cx="713.3" cy="2013.9" r="4.7" fill="url(#npg)"/><circle cx="712.6" cy="1981.3" r="4.7" fill="#6ab3d8" stroke="#000" stroke-opacity="0.12" stroke-width="0.6"/><circle cx="712.6" cy="1981.3" r="4.7" fill="url(#npg)"/><circle cx="657.3" cy="1982.1" r="4.9" fill="#a390d8" stroke="#000" stroke-opacity="0.12" stroke-width="0.6"/><circle cx="657.3" cy="1982.1" r="4.9" fill="url(#npg)"/><circle cx="698.9" cy="2023.3" r="5.2" fill="#a390d8" stroke="#000" stroke-opacity="0.12" stroke-width="0.6"/><circle cx="698.9" cy="2023.3" r="5.2" fill="url(#npg)"/><circle cx="670.7" cy="2022.4" r="5.0" fill="#7fb9dc" stroke="#000" stroke-opacity="0.12" stroke-width="0.6"/><circle cx="670.7" cy="2022.4" r="5.0" fill="url(#npg)"/><circle cx="698.8" cy="1973.2" r="5.3" fill="#f0dca4" stroke="#000" stroke-opacity="0.12" stroke-width="0.6"/><circle cx="698.8" cy="1973.2" r="5.3" fill="url(#npg)"/><circle cx="713" cy="1997.2" r="5.0" fill="#eaa8c4" stroke="#000" stroke-opacity="0.12" stroke-width="0.6"/><circle cx="713" cy="1997.2" r="5.0" fill="url(#npg)"/><circle cx="657.3" cy="1998.6" r="4.9" fill="#7ccdc6" stroke="#000" stroke-opacity="0.12" stroke-width="0.6"/><circle cx="657.3" cy="1998.6" r="4.9" fill="url(#npg)"/><circle cx="670.5" cy="1974.3" r="4.9" fill="#6ab3d8" stroke="#000" stroke-opacity="0.12" stroke-width="0.6"/><circle cx="670.5" cy="1974.3" r="4.9" fill="url(#npg)"/><circle cx="709.2" cy="2005.7" r="5.2" fill="#f0dca4" stroke="#000" stroke-opacity="0.12" stroke-width="0.6"/><circle cx="709.2" cy="2005.7" r="5.2" fill="url(#npg)"/><circle cx="665.4" cy="2013.9" r="4.9" fill="#6ab3d8" stroke="#000" stroke-opacity="0.12" stroke-width="0.6"/><circle cx="665.4" cy="2013.9" r="4.9" fill="url(#npg)"/><circle cx="688.5" cy="2022.8" r="5.0" fill="#7fb9dc" stroke="#000" stroke-opacity="0.12" stroke-width="0.6"/><circle cx="688.5" cy="2022.8" r="5.0" fill="url(#npg)"/><circle cx="679.5" cy="1973.3" r="5.1" fill="#a390d8" stroke="#000" stroke-opacity="0.12" stroke-width="0.6"/><circle cx="679.5" cy="1973.3" r="5.1" fill="url(#npg)"/><circle cx="689.9" cy="1973.2" r="5.0" fill="#a390d8" stroke="#000" stroke-opacity="0.12" stroke-width="0.6"/><circle cx="689.9" cy="1973.2" r="5.0" fill="url(#npg)"/><circle cx="704.1" cy="2013.5" r="5.1" fill="#f0dca4" stroke="#000" stroke-opacity="0.12" stroke-width="0.6"/><circle cx="704.1" cy="2013.5" r="5.1" fill="url(#npg)"/><circle cx="667.2" cy="1980.4" r="4.8" fill="#7ccdc6" stroke="#000" stroke-opacity="0.12" stroke-width="0.6"/><circle cx="667.2" cy="1980.4" r="4.8" fill="url(#npg)"/><circle cx="708.5" cy="1990.5" r="5.6" fill="#f0dca4" stroke="#000" stroke-opacity="0.12" stroke-width="0.6"/><circle cx="708.5" cy="1990.5" r="5.6" fill="url(#npg)"/><circle cx="679.4" cy="2021.9" r="5.2" fill="#7fb9dc" stroke="#000" stroke-opacity="0.12" stroke-width="0.6"/><circle cx="679.4" cy="2021.9" r="5.2" fill="url(#npg)"/><circle cx="702.5" cy="1980.6" r="5.4" fill="#6ab3d8" stroke="#000" stroke-opacity="0.12" stroke-width="0.6"/><circle cx="702.5" cy="1980.6" r="5.4" fill="url(#npg)"/><circle cx="662.5" cy="2007" r="5.3" fill="#6ab3d8" stroke="#000" stroke-opacity="0.12" stroke-width="0.6"/><circle cx="662.5" cy="2007" r="5.3" fill="url(#npg)"/><circle cx="662.2" cy="1990.3" r="5.5" fill="#6ab3d8" stroke="#000" stroke-opacity="0.12" stroke-width="0.6"/><circle cx="662.2" cy="1990.3" r="5.5" fill="url(#npg)"/><circle cx="675.6" cy="1980.4" r="5.7" fill="#7ccdc6" stroke="#000" stroke-opacity="0.12" stroke-width="0.6"/><circle cx="675.6" cy="1980.4" r="5.7" fill="url(#npg)"/><circle cx="674.4" cy="2014.3" r="5.5" fill="#f0dca4" stroke="#000" stroke-opacity="0.12" stroke-width="0.6"/><circle cx="674.4" cy="2014.3" r="5.5" fill="url(#npg)"/><circle cx="703.4" cy="1997.2" r="5.2" fill="#6ab3d8" stroke="#000" stroke-opacity="0.12" stroke-width="0.6"/><circle cx="703.4" cy="1997.2" r="5.2" fill="url(#npg)"/><circle cx="694.7" cy="2013" r="5.5" fill="#f0dca4" stroke="#000" stroke-opacity="0.12" stroke-width="0.6"/><circle cx="694.7" cy="2013" r="5.5" fill="url(#npg)"/><circle cx="667.1" cy="1997" r="5.6" fill="#6ab3d8" stroke="#000" stroke-opacity="0.12" stroke-width="0.6"/><circle cx="667.1" cy="1997" r="5.6" fill="url(#npg)"/><circle cx="693.8" cy="1982.6" r="5.9" fill="#6ab3d8" stroke="#000" stroke-opacity="0.12" stroke-width="0.6"/><circle cx="693.8" cy="1982.6" r="5.9" fill="url(#npg)"/><circle cx="699.7" cy="1988.7" r="5.3" fill="#6ab3d8" stroke="#000" stroke-opacity="0.12" stroke-width="0.6"/><circle cx="699.7" cy="1988.7" r="5.3" fill="url(#npg)"/><circle cx="670.4" cy="1989.5" r="5.6" fill="#6ab3d8" stroke="#000" stroke-opacity="0.12" stroke-width="0.6"/><circle cx="670.4" cy="1989.5" r="5.6" fill="url(#npg)"/><circle cx="685" cy="1981.9" r="5.7" fill="#6ab3d8" stroke="#000" stroke-opacity="0.12" stroke-width="0.6"/><circle cx="685" cy="1981.9" r="5.7" fill="url(#npg)"/><circle cx="698.4" cy="2005.7" r="5.3" fill="#a390d8" stroke="#000" stroke-opacity="0.12" stroke-width="0.6"/><circle cx="698.4" cy="2005.7" r="5.3" fill="url(#npg)"/><circle cx="685.7" cy="2013.4" r="5.7" fill="#6ab3d8" stroke="#000" stroke-opacity="0.12" stroke-width="0.6"/><circle cx="685.7" cy="2013.4" r="5.7" fill="url(#npg)"/><circle cx="671.2" cy="2005.2" r="5.7" fill="#f0dca4" stroke="#000" stroke-opacity="0.12" stroke-width="0.6"/><circle cx="671.2" cy="2005.2" r="5.7" fill="url(#npg)"/><circle cx="681" cy="1989.2" r="5.7" fill="#a390d8" stroke="#000" stroke-opacity="0.12" stroke-width="0.6"/><circle cx="681" cy="1989.2" r="5.7" fill="url(#npg)"/><circle cx="681.1" cy="2006.1" r="5.7" fill="#6ab3d8" stroke="#000" stroke-opacity="0.12" stroke-width="0.6"/><circle cx="681.1" cy="2006.1" r="5.7" fill="url(#npg)"/><circle cx="690.6" cy="1990.7" r="6.5" fill="#a390d8" stroke="#000" stroke-opacity="0.12" stroke-width="0.6"/><circle cx="690.6" cy="1990.7" r="6.5" fill="url(#npg)"/><circle cx="676.1" cy="1997.4" r="6.4" fill="#eaa8c4" stroke="#000" stroke-opacity="0.12" stroke-width="0.6"/><circle cx="676.1" cy="1997.4" r="6.4" fill="url(#npg)"/><circle cx="688.7" cy="2005.3" r="5.6" fill="#7ccdc6" stroke="#000" stroke-opacity="0.12" stroke-width="0.6"/><circle cx="688.7" cy="2005.3" r="5.6" fill="url(#npg)"/><circle cx="693.2" cy="1998.7" r="5.8" fill="#6ab3d8" stroke="#000" stroke-opacity="0.12" stroke-width="0.6"/><circle cx="693.2" cy="1998.7" r="5.8" fill="url(#npg)"/><circle cx="685.8" cy="1997" r="5.7" fill="#a390d8" stroke="#000" stroke-opacity="0.12" stroke-width="0.6"/><circle cx="685.8" cy="1997" r="5.7" fill="url(#npg)"/>
<circle cx="745" cy="1938.2" r="16.5" fill="url(#h2o2)" stroke="#c9ccf0" stroke-width="1.2"/>
<path d="M739 1933 a8 8 0 0 1 10 -4" fill="none" stroke="#fff" stroke-width="1.5" opacity="0.8"/>
<text x="677.5" y="1944.7" font-size="19.3">H<tspan font-size="14">2</tspan>O<tspan font-size="14">2</tspan></text>
<path d="M731.3 1955.9 C716 1970 710 1985 711.5 2000 C712 2015 716 2030 727 2045 L741 2064" fill="none" stroke="#222" stroke-width="3" stroke-dasharray="3 3.5" marker-end="url(#ah)"/>
<use href="#starp" transform="translate(782.7 2094.2)"/><text x="783" y="2101.1" font-size="19.5" text-anchor="middle" fill="#fff">ROS</text>
<use href="#starp" transform="translate(1088.7 2086)"/><text x="1089" y="2092.9" font-size="19.5" text-anchor="middle" fill="#fff">ROS</text>
<rect x="787.8" y="1912.5" width="335.6" height="138" fill="none" stroke="#222" stroke-width="1.2" stroke-dasharray="4 3"/>
<text x="795.3" y="1935.3" font-size="20.2">Cell wall</text>
<text x="797" y="1961" font-size="20.2">Protein-DNA complex</text>
<text x="795.3" y="1988" font-size="20.2">External encapsulating structure</text>
<text x="795.3" y="2016.6" font-size="20.2">Response to oxygen-containing</text>
<text x="795.3" y="2039.7" font-size="20.2">compound</text>
<path d="M887.8 1916 V1935" fill="none" stroke="#3a9ae0" stroke-width="2.4"/><path d="M882.3 1934 L887.8 1943 L893.3 1934 Z" fill="#3a9ae0"/>
<path d="M1014.9 1941 V1961" fill="none" stroke="#3a9ae0" stroke-width="2.4"/><path d="M1009.4 1960 L1014.9 1969 L1020.4 1960 Z" fill="#3a9ae0"/>
<path d="M1114.6 1969 V1990" fill="none" stroke="#3a9ae0" stroke-width="2.4"/><path d="M1109.1 1989 L1114.6 1998 L1120.1 1989 Z" fill="#3a9ae0"/>
<path d="M907.1 2048 V2029" fill="none" stroke="#f00d0d" stroke-width="2.6"/><path d="M901.1 2030 L907.1 2021 L913.1 2030 Z" fill="#f00d0d"/>
<clipPath id="cf3"><rect x="1228" y="1909" width="494" height="488"/></clipPath>
<g clip-path="url(#cf3)">
<path d="M1203.6 2281.6 A273.1 273.1 0 0 1 1267.9 2140.4 L1276.6 2148 A261.6 261.6 0 0 0 1214.9 2283.2 Z" fill="#b7e2a7"/>
<path d="M1318.5 2095.1 A273.1 273.1 0 0 1 1543.8 2055.6 L1540.8 2066.7 A261.6 261.6 0 0 0 1325.1 2104.5 Z" fill="#b7e2a7"/>
<path d="M1602.2 2078.5 A273.1 273.1 0 0 1 1743 2272.2 L1731.6 2274.2 A261.6 261.6 0 0 0 1596.8 2088.6 Z" fill="#b7e2a7"/>
<use href="#lip" transform="translate(1239.9 2239.3) rotate(17.6)"/><use href="#lip" transform="translate(1247.2 2219.4) rotate(22.6)"/><use href="#lip" transform="translate(1256.2 2200.2) rotate(27.5)"/><use href="#lip" transform="translate(1266.7 2181.8) rotate(32.5)"/><use href="#lip" transform="translate(1278.9 2164.4) rotate(37.4)"/><use href="#lip" transform="translate(1341.0 2107.2) rotate(57.2)"/><use href="#lip" transform="translate(1359.3 2096.4) rotate(62.2)"/><use href="#lip" transform="translate(1378.4 2087.4) rotate(67.1)"/><use href="#lip" transform="translate(1398.3 2080.0) rotate(72.1)"/><use href="#lip" transform="translate(1418.8 2074.3) rotate(77.0)"/><use href="#lip" transform="translate(1439.6 2070.4) rotate(82.0)"/><use href="#lip" transform="translate(1460.7 2068.4) rotate(86.9)"/><use href="#lip" transform="translate(1481.9 2068.1) rotate(91.9)"/><use href="#lip" transform="translate(1503.1 2069.7) rotate(96.8)"/><use href="#lip" transform="translate(1524.0 2073.1) rotate(101.8)"/><use href="#lip" transform="translate(1602.5 2104.3) rotate(121.6)"/><use href="#lip" transform="translate(1620.1 2116.2) rotate(126.5)"/><use href="#lip" transform="translate(1636.6 2129.5) rotate(131.5)"/><use href="#lip" transform="translate(1651.9 2144.2) rotate(136.4)"/><use href="#lip" transform="translate(1665.8 2160.2) rotate(141.4)"/><use href="#lip" transform="translate(1678.3 2177.3) rotate(146.3)"/><use href="#lip" transform="translate(1689.3 2195.5) rotate(151.3)"/><use href="#lip" transform="translate(1698.7 2214.5) rotate(156.2)"/><use href="#lip" transform="translate(1706.4 2234.2) rotate(161.2)"/>
<path d="M1262 2150 l10 -5 l3 9 l8 2 l-6 8 l-12 -2 Z M1240 2200 l9 -4 l2 8 Z M1335 2110 l7 -4 l4 8 l-8 5 Z M1530 2085 l6 8 l-6 6 Z M1600 2105 l8 -3 l2 9 l-6 4 Z M1690 2160 l6 -5 l4 8 Z" fill="#fff"/>
</g>
<path d="M1467 2056 c-8 -4 10 -12.5 2 -20 s-12 -10 -4 -17.5 s10 -10 4 -15" fill="none" stroke="#f7c87c" stroke-width="5.5" stroke-linecap="round"/>
<path d="M1333 2100 c-8 -4 10 -10.5 2 -16.8 s-12 -8.4 -4 -14.7 s10 -8.4 4 -12.6" fill="none" stroke="#f7c87c" stroke-width="5.5" stroke-linecap="round" transform="rotate(-12 1333 2100)"/>
<path d="M1266 2155 c-8 -4 10 -9 2 -14.4 s-12 -7.2 -4 -12.6 s10 -7.2 4 -10.8" fill="none" stroke="#f7c87c" stroke-width="5.5" stroke-linecap="round" transform="rotate(-15 1266 2155)"/>
<path d="M1630 2108 c-8 -4 10 -7 2 -11.2 s-12 -5.6 -4 -9.8 s10 -5.6 4 -8.4" fill="none" stroke="#f7c87c" stroke-width="5.5" stroke-linecap="round" transform="rotate(45 1630 2108)"/>
<path d="M1348 2174.4 L1349.5 2176.3 L1351 2178.2 L1352.5 2179.9 L1354 2181.5 L1355.5 2182.8 L1357 2183.9 L1358.5 2184.7 L1360 2185.2 L1361.5 2185.4 L1363 2185.2 L1364.5 2184.7 L1366 2183.9 L1367.5 2182.8 L1369 2181.5 L1370.5 2179.9 L1372 2178.2 L1373.5 2176.3 L1375 2174.4 L1376.5 2172.5 L1378 2170.6 L1379.5 2168.9 L1381 2167.3 L1382.5 2166 L1384 2164.9 L1385.5 2164.1 L1387 2163.6 L1388.5 2163.4 L1390 2163.6 L1391.5 2164.1 L1393 2164.9 L1394.5 2166 L1396 2167.3" fill="none" stroke="#f6c878" stroke-width="4.6" stroke-linecap="butt"/><path d="M1420 2183.9 L1421.5 2182.8 L1423 2181.5 L1424.5 2179.9 L1426 2178.2 L1427.5 2176.3 L1429 2174.4 L1430.5 2172.5 L1432 2170.6 L1433.5 2168.9 L1435 2167.3 L1436.5 2166 L1438 2164.9 L1439.5 2164.1 L1441 2163.6 L1442.5 2163.4 L1444 2163.6 L1445.5 2164.1 L1447 2164.9 L1448.5 2166 L1450 2167.3 L1451.5 2168.9 L1453 2170.6 L1454.5 2172.5 L1456 2174.4 L1457.5 2176.3 L1459 2178.2 L1460.5 2179.9 L1462 2181.5 L1463.5 2182.8 L1465 2183.9 L1466.5 2184.7 L1468 2185.2 L1469.5 2185.4" fill="none" stroke="#f6c878" stroke-width="4.6" stroke-linecap="butt"/><path d="M1348 2174.4 L1349.5 2172.5 L1351 2170.6 L1352.5 2168.9 L1354 2167.3 L1355.5 2166 L1357 2164.9 L1358.5 2164.1 L1360 2163.6 L1361.5 2163.4 L1363 2163.6 L1364.5 2164.1 L1366 2164.9 L1367.5 2166 L1369 2167.3 L1370.5 2168.9 L1372 2170.6 L1373.5 2172.5 L1375 2174.4 L1376.5 2176.3 L1378 2178.2 L1379.5 2179.9 L1381 2181.5 L1382.5 2182.8 L1384 2183.9 L1385.5 2184.7 L1387 2185.2 L1388.5 2185.4 L1390 2185.2 L1391.5 2184.7 L1393 2183.9 L1394.5 2182.8 L1396 2181.5" fill="none" stroke="#f6c878" stroke-width="4.6" stroke-linecap="butt"/><path d="M1420 2164.9 L1421.5 2166 L1423 2167.3 L1424.5 2168.9 L1426 2170.6 L1427.5 2172.5 L1429 2174.4 L1430.5 2176.3 L1432 2178.2 L1433.5 2179.9 L1435 2181.5 L1436.5 2182.8 L1438 2183.9 L1439.5 2184.7 L1441 2185.2 L1442.5 2185.4 L1444 2185.2 L1445.5 2184.7 L1447 2183.9 L1448.5 2182.8 L1450 2181.5 L1451.5 2179.9 L1453 2178.2 L1454.5 2176.3 L1456 2174.4 L1457.5 2172.5 L1459 2170.6 L1460.5 2168.9 L1462 2167.3 L1463.5 2166 L1465 2164.9 L1466.5 2164.1 L1468 2163.6 L1469.5 2163.4" fill="none" stroke="#f6c878" stroke-width="4.6" stroke-linecap="butt"/>
<path d="M1400 2160 h4 v4 h-4 Z M1410 2190 h4 v4 h-4 Z M1396 2195 h3 v3 h-3 Z M1418 2154 h3 v3 h-3 Z" fill="#f6c878"/>
<g><path d="M1552.9 2151 L1553.6 2156.6 L1552.8 2159 L1552.9 2161 L1551.1 2162 L1551 2163 L1549.4 2164.1 L1547.5 2164.6 L1544.6 2164.4 L1539.5 2164.8 L1533.9 2165.1 L1531.5 2164.7 L1529.8 2164.4 L1528 2163.6 L1527 2161.6 L1526.7 2160.2 L1525.8 2159 L1526.1 2156.2 L1525.6 2151 L1525.2 2145.7 L1525.7 2143.2 L1526.4 2141 L1526.9 2140.3 L1528.1 2139 L1530.2 2138.1 L1531.7 2136.8 L1534.2 2137.7 L1539.5 2137.4 L1544.9 2136.6 L1547.3 2137.5 L1549.4 2138.6 L1550.6 2138.9 L1552.2 2139.7 L1552 2141.7 L1553 2143.1 L1553.2 2145.7Z" fill="#ee9266" stroke="#c4643c" stroke-width="1.2"/><circle cx="1548.6" cy="2160.8" r="3" fill="#f3a47e" opacity="0.7"/><circle cx="1548.1" cy="2147.3" r="2.2" fill="#f3a47e" opacity="0.7"/><circle cx="1540.1" cy="2154.5" r="4.2" fill="#f3a47e" opacity="0.7"/><circle cx="1549.5" cy="2156.8" r="3.9" fill="#f3a47e" opacity="0.7"/><circle cx="1544" cy="2155.3" r="3.9" fill="#f3a47e" opacity="0.7"/><circle cx="1549.7" cy="2148.3" r="2.2" fill="#f3a47e" opacity="0.7"/><circle cx="1533.9" cy="2145" r="2.9" fill="#f3a47e" opacity="0.7"/><circle cx="1546.2" cy="2141.5" r="3.1" fill="#f3a47e" opacity="0.7"/><circle cx="1546.2" cy="2145.9" r="2.2" fill="#f3a47e" opacity="0.7"/><circle cx="1533.9" cy="2142.1" r="4" fill="#f3a47e" opacity="0.7"/><circle cx="1532.4" cy="2144.4" r="4" fill="#f3a47e" opacity="0.7"/><circle cx="1546.2" cy="2152.9" r="4.3" fill="#f3a47e" opacity="0.7"/><circle cx="1530" cy="2161" r="3.4" fill="#f3a47e" opacity="0.7"/></g>
<g><path d="M1555.4 2192 L1554.4 2196.9 L1554.7 2199.4 L1553.7 2201.3 L1552.8 2202.1 L1551.9 2202.9 L1550.2 2204.4 L1548.6 2204.4 L1545.7 2204.9 L1540.3 2205.3 L1534.9 2204.8 L1532 2204.8 L1530 2204.6 L1528.5 2203 L1527.6 2202.2 L1527 2201.1 L1525.8 2199.4 L1526.3 2197.1 L1526.3 2192 L1525.3 2187.1 L1526.7 2184.6 L1527.2 2183 L1528 2182.2 L1528.4 2181.2 L1530.3 2180.1 L1532.1 2179 L1534.7 2178.9 L1540.3 2178.7 L1545.7 2179.1 L1548 2179.6 L1550.6 2179.9 L1551.8 2180.8 L1553.3 2182 L1553.3 2183 L1554.1 2184.6 L1554.3 2186.9Z" fill="#ee9266" stroke="#c4643c" stroke-width="1.2"/><circle cx="1542.7" cy="2182.8" r="3.4" fill="#f3a47e" opacity="0.7"/><circle cx="1544.1" cy="2200.8" r="4" fill="#f3a47e" opacity="0.7"/><circle cx="1545.9" cy="2191.9" r="2.1" fill="#f3a47e" opacity="0.7"/><circle cx="1547.4" cy="2182.3" r="3.4" fill="#f3a47e" opacity="0.7"/><circle cx="1541.8" cy="2184.3" r="2.2" fill="#f3a47e" opacity="0.7"/><circle cx="1542" cy="2191.7" r="2.8" fill="#f3a47e" opacity="0.7"/><circle cx="1530" cy="2194.7" r="2.3" fill="#f3a47e" opacity="0.7"/><circle cx="1529.4" cy="2187.5" r="2.8" fill="#f3a47e" opacity="0.7"/><circle cx="1533.2" cy="2183.3" r="3.9" fill="#f3a47e" opacity="0.7"/><circle cx="1538.1" cy="2186.9" r="3.3" fill="#f3a47e" opacity="0.7"/><circle cx="1534.8" cy="2199" r="3.2" fill="#f3a47e" opacity="0.7"/><circle cx="1543" cy="2201.5" r="2.9" fill="#f3a47e" opacity="0.7"/></g>
<path d="M1477 2200 H1493.8 V2240.8 H1503.1 L1485.4 2257.5 L1467.9 2240.8 H1477 Z" fill="url(#garr)"/>
<ellipse cx="1480.9" cy="2302" rx="67.6" ry="34.3" fill="none" stroke="#a8d4e2" stroke-width="2" stroke-dasharray="5 4"/>
<path d="M1470 2264 l9 3 l-9 4 Z M1548 2290 l5 -8 l-9 0 Z M1414 2318 l-4 8 l9 -2 Z" fill="#a8d4e2"/>
<circle cx="1460.2" cy="2304" r="7" fill="#bdbdbd"/><circle cx="1457.7" cy="2293.6" r="7.4" fill="#bdbdbd"/><circle cx="1455.1" cy="2297.2" r="8.6" fill="#bdbdbd"/><circle cx="1462.9" cy="2298.5" r="9.7" fill="#bdbdbd"/><circle cx="1455.5" cy="2306.8" r="7.1" fill="#bdbdbd"/><circle cx="1465.8" cy="2298.5" r="9.2" fill="#bdbdbd"/><circle cx="1454.1" cy="2294.6" r="10.2" fill="#bdbdbd"/><circle cx="1472.3" cy="2296.6" r="9.8" fill="#bdbdbd"/><circle cx="1470.3" cy="2307.1" r="7.3" fill="#bdbdbd"/><circle cx="1480.5" cy="2304" r="4.2" fill="#c4c4c4" stroke="#a8a8a8" stroke-width="0.5"/><circle cx="1479.1" cy="2310.4" r="4.4" fill="#c4c4c4" stroke="#a8a8a8" stroke-width="0.5"/><circle cx="1439.6" cy="2295.9" r="2.8" fill="#c4c4c4" stroke="#a8a8a8" stroke-width="0.5"/><circle cx="1452.7" cy="2281.1" r="2" fill="#c4c4c4" stroke="#a8a8a8" stroke-width="0.5"/><circle cx="1462" cy="2278.5" r="3.9" fill="#c4c4c4" stroke="#a8a8a8" stroke-width="0.5"/><circle cx="1457.5" cy="2319.9" r="2.3" fill="#c4c4c4" stroke="#a8a8a8" stroke-width="0.5"/><circle cx="1438.8" cy="2306.8" r="2.7" fill="#c4c4c4" stroke="#a8a8a8" stroke-width="0.5"/><circle cx="1457.6" cy="2315.7" r="2" fill="#c4c4c4" stroke="#a8a8a8" stroke-width="0.5"/><circle cx="1453.6" cy="2285" r="2.7" fill="#c4c4c4" stroke="#a8a8a8" stroke-width="0.5"/><circle cx="1443.8" cy="2300.8" r="3.4" fill="#c4c4c4" stroke="#a8a8a8" stroke-width="0.5"/><circle cx="1475.4" cy="2315.1" r="3.7" fill="#c4c4c4" stroke="#a8a8a8" stroke-width="0.5"/><circle cx="1478.7" cy="2310.7" r="3.7" fill="#c4c4c4" stroke="#a8a8a8" stroke-width="0.5"/><circle cx="1446.4" cy="2308" r="3.3" fill="#c4c4c4" stroke="#a8a8a8" stroke-width="0.5"/><circle cx="1450.8" cy="2284.1" r="4.4" fill="#c4c4c4" stroke="#a8a8a8" stroke-width="0.5"/>
<circle cx="1504.6" cy="2291.5" r="9.2" fill="#bdbdbd"/><circle cx="1504.6" cy="2298.6" r="8.3" fill="#bdbdbd"/><circle cx="1499.5" cy="2302.1" r="8.2" fill="#bdbdbd"/><circle cx="1500.9" cy="2302.2" r="9.1" fill="#bdbdbd"/><circle cx="1498" cy="2300.2" r="7.7" fill="#bdbdbd"/><circle cx="1512.3" cy="2306.4" r="9" fill="#bdbdbd"/><circle cx="1513.6" cy="2292.4" r="9" fill="#bdbdbd"/><circle cx="1496.4" cy="2298.7" r="7.4" fill="#bdbdbd"/><circle cx="1497.8" cy="2301.7" r="7.9" fill="#bdbdbd"/><circle cx="1521.2" cy="2310.4" r="2.9" fill="#c4c4c4" stroke="#a8a8a8" stroke-width="0.5"/><circle cx="1487.1" cy="2303.3" r="3.6" fill="#c4c4c4" stroke="#a8a8a8" stroke-width="0.5"/><circle cx="1484.6" cy="2302" r="3" fill="#c4c4c4" stroke="#a8a8a8" stroke-width="0.5"/><circle cx="1512" cy="2281.8" r="2.4" fill="#c4c4c4" stroke="#a8a8a8" stroke-width="0.5"/><circle cx="1498.4" cy="2279.6" r="3.3" fill="#c4c4c4" stroke="#a8a8a8" stroke-width="0.5"/><circle cx="1521.6" cy="2288.8" r="3.4" fill="#c4c4c4" stroke="#a8a8a8" stroke-width="0.5"/><circle cx="1487.1" cy="2307.9" r="3.9" fill="#c4c4c4" stroke="#a8a8a8" stroke-width="0.5"/><circle cx="1481.8" cy="2295.3" r="3.4" fill="#c4c4c4" stroke="#a8a8a8" stroke-width="0.5"/><circle cx="1523.9" cy="2308.7" r="4.1" fill="#c4c4c4" stroke="#a8a8a8" stroke-width="0.5"/><circle cx="1491" cy="2308.6" r="2.6" fill="#c4c4c4" stroke="#a8a8a8" stroke-width="0.5"/><circle cx="1528.9" cy="2308.8" r="4.4" fill="#c4c4c4" stroke="#a8a8a8" stroke-width="0.5"/><circle cx="1512.9" cy="2281.9" r="3.9" fill="#c4c4c4" stroke="#a8a8a8" stroke-width="0.5"/><circle cx="1515.7" cy="2315" r="3.3" fill="#c4c4c4" stroke="#a8a8a8" stroke-width="0.5"/><circle cx="1494.7" cy="2312.2" r="4.5" fill="#c4c4c4" stroke="#a8a8a8" stroke-width="0.5"/>
<text x="1562.4" y="2306.4" font-size="20.6">Dead <tspan font-style="italic">MRSA</tspan></text>
<text x="1272.6" y="2363" font-size="21.5" letter-spacing="0">Dual stress: oxidative damage + starvation</text>
<line x1="1484.6" y1="1910" x2="1484.6" y2="2043.4" stroke="#222" stroke-width="2" stroke-dasharray="5 4"/>
<text x="1244.9" y="1940.8" font-size="20.5" letter-spacing="0.6">Persistent ROS attack</text>
<text x="1540.9" y="1940.8" font-size="20.5" letter-spacing="0.6">ATP depletion</text>
<use href="#starp" transform="translate(1279 2017.5)"/><text x="1279.3" y="2024.4" font-size="19.5" text-anchor="middle" fill="#fff">ROS</text>
<use href="#starp" transform="translate(1358.6 2031.2)"/><text x="1358.9" y="2038.1" font-size="19.5" text-anchor="middle" fill="#fff">ROS</text>
<use href="#starp" transform="translate(1430.8 1991.5)"/><text x="1431.1" y="1998.4" font-size="19.5" text-anchor="middle" fill="#fff">ROS</text>
<rect x="1542" y="1973" width="114" height="59" rx="9" fill="#fff" stroke="#c6c6cc" stroke-width="4"/>
<rect x="1658" y="1989.7" width="8.5" height="26.7" rx="2" fill="#c6c6cc"/>
<rect x="1544" y="1976" width="10.5" height="53.5" fill="#f00"/>
<path d="M1569.5 2000 L1599 1994.5 L1596.5 1988 L1635 2007.5 L1603.5 2004 L1607 2014 Z" fill="#f51414"/>
<text x="1586.5" y="1986" font-size="19">ATP</text>
<path d="M1630.2 1966 V1987" fill="none" stroke="#3a9ae0" stroke-width="2"/><path d="M1625.2 1986 L1630.2 1994 L1635.2 1986 Z" fill="#3a9ae0"/>
<rect x="47.9" y="1906.6" width="495.7" height="490.8" fill="none" stroke="#333" stroke-width="2.2"/>
<rect x="634.9" y="1905.8" width="495.9" height="490.8" fill="none" stroke="#333" stroke-width="2.2"/>
<rect x="1227" y="1908.2" width="495.8" height="490.1" fill="none" stroke="#333" stroke-width="2.2"/>
<path d="M561.1 2123.2 H593.1 V2091.8 L625.5 2154.2 L593.1 2216.3 V2184.9 H561.1 Z" fill="#83c3e4"/>
<path d="M1149.5 2123.2 H1181.5 V2091.8 L1213.9 2154.2 L1181.5 2216.3 V2184.9 H1149.5 Z" fill="#83c3e4"/>
</svg></body></html>
